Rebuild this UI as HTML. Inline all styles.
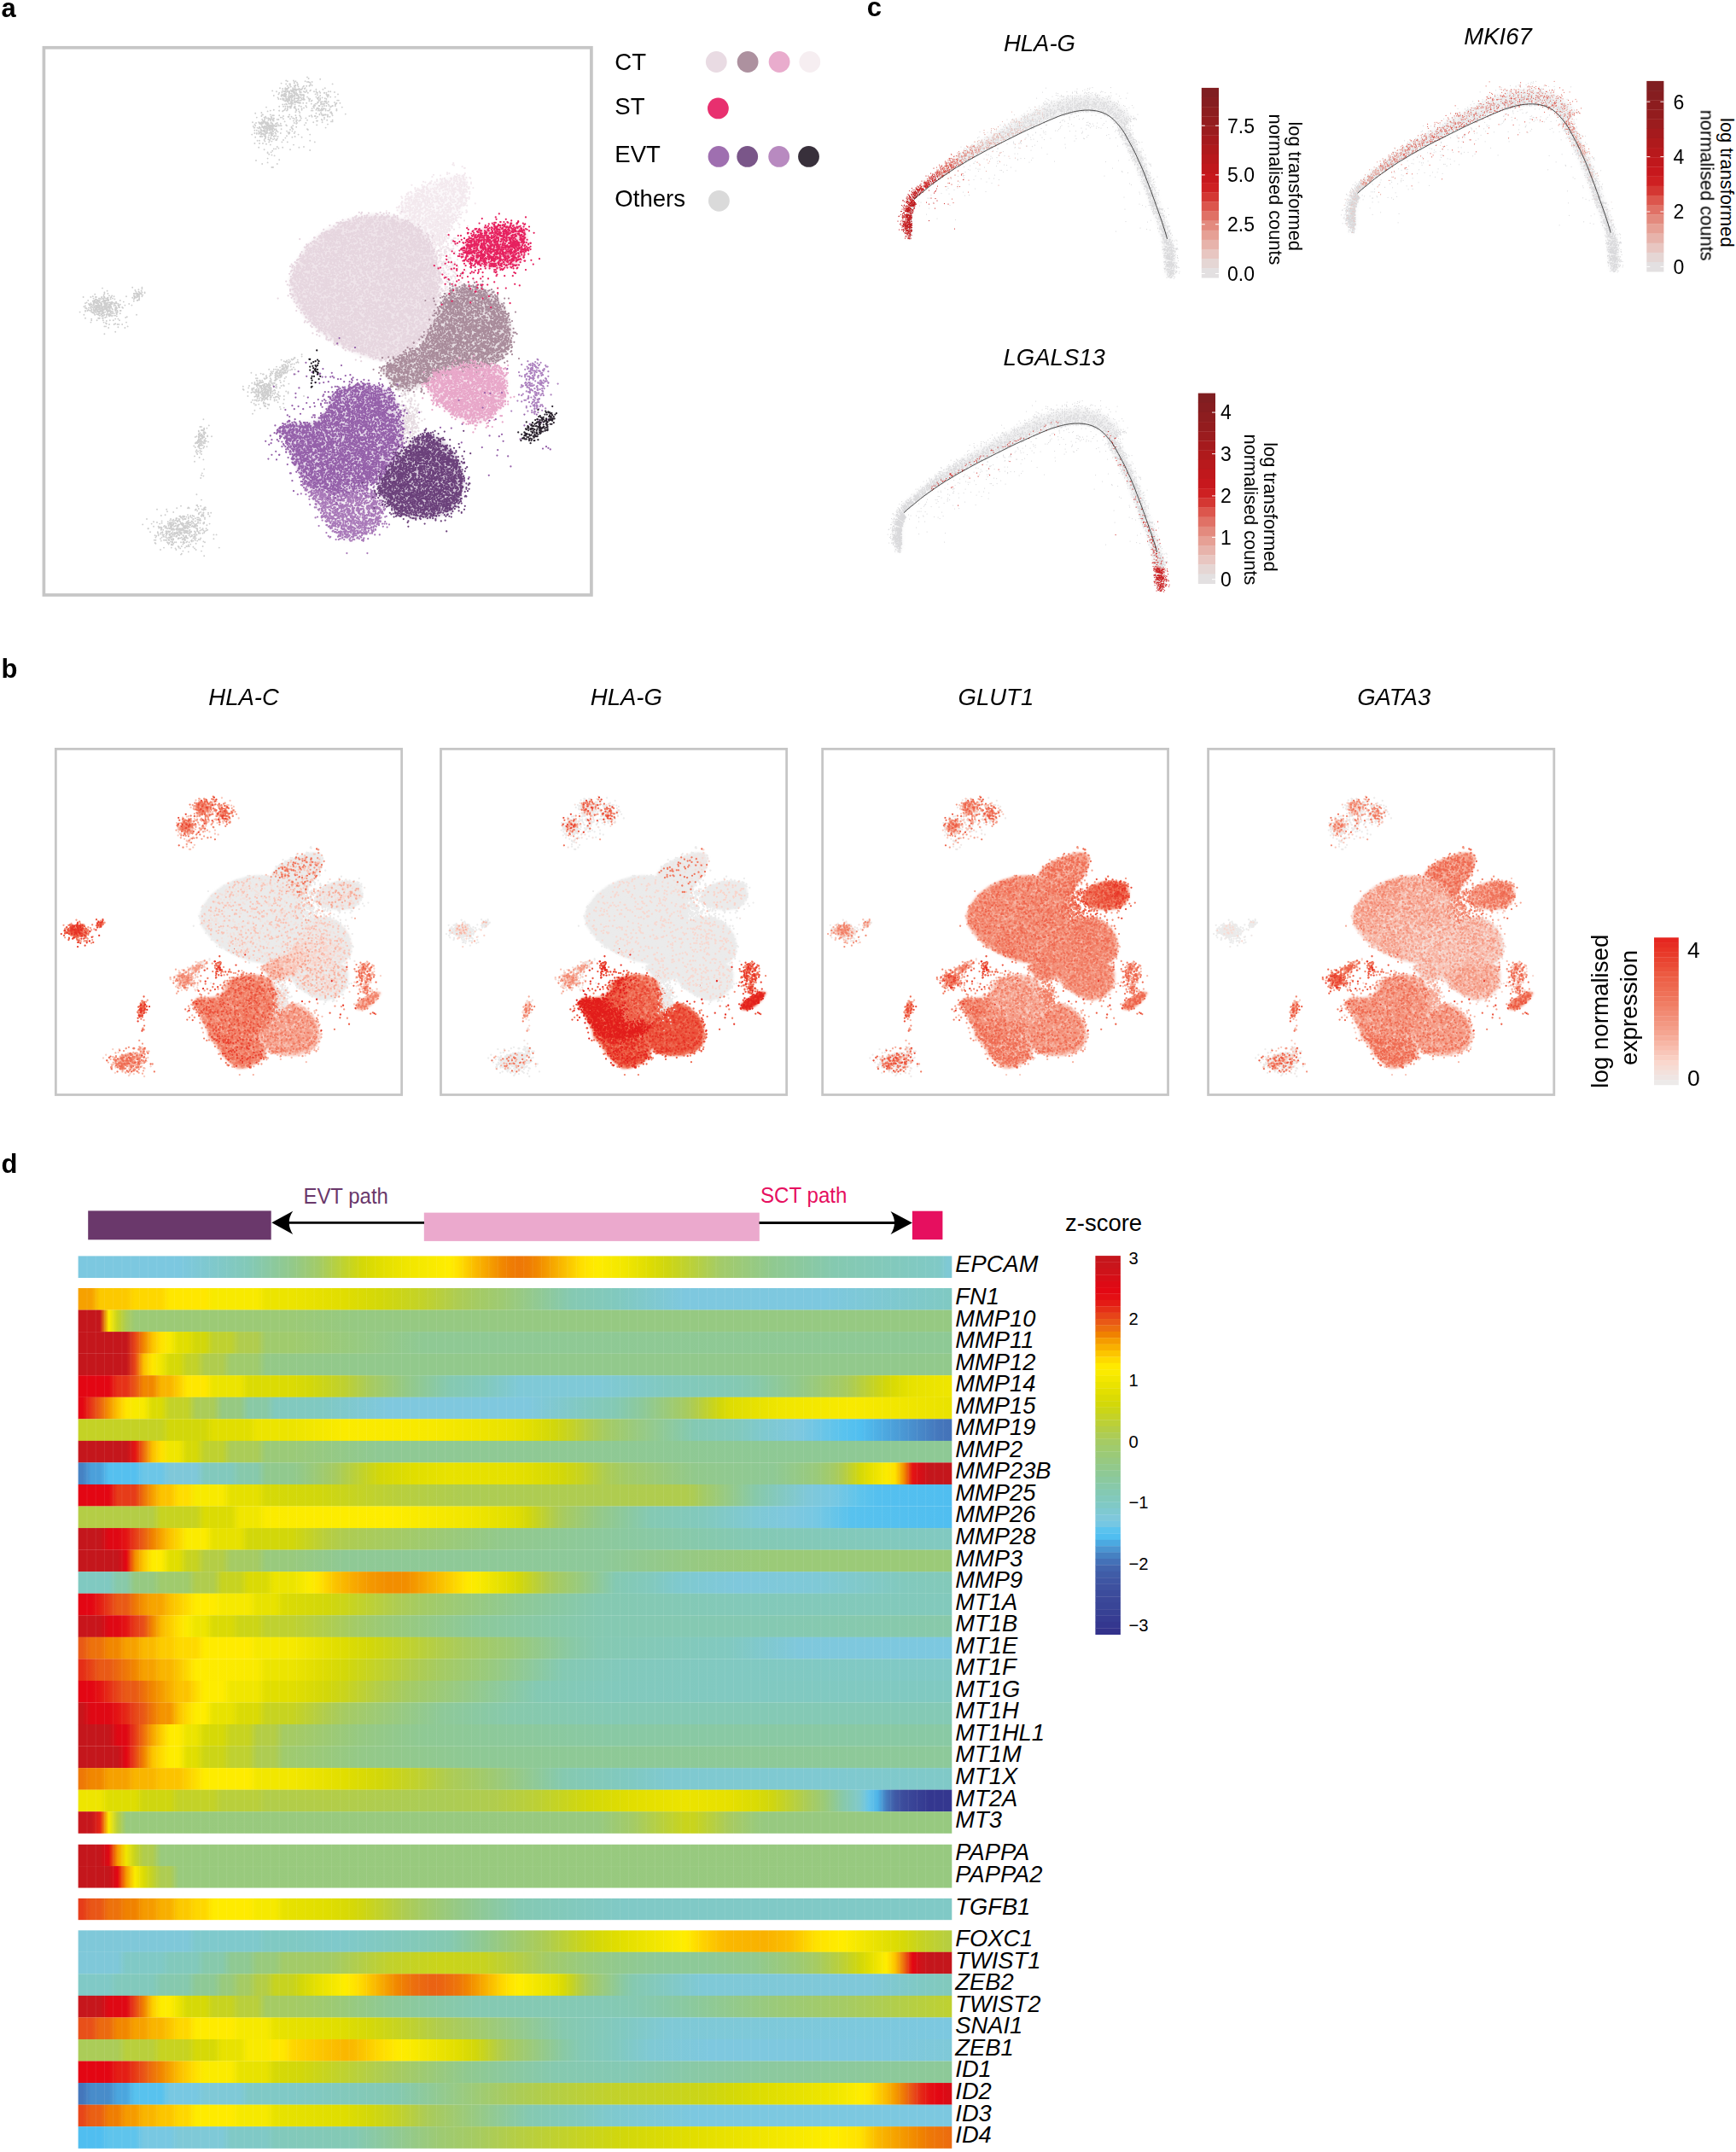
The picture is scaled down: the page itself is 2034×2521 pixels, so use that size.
<!DOCTYPE html><html><head><meta charset="utf-8"><title>Figure</title><style>html,body{margin:0;padding:0;background:#fff}svg{display:block}</style></head><body><svg width="2034" height="2521" viewBox="0 0 2034 2521" font-family="'Liberation Sans', Arial, sans-serif" fill="#000"><defs><linearGradient id="h0"><stop offset="0" stop-color="#7cc8e0"/><stop offset="0.115" stop-color="#7cc8e0"/><stop offset="0.195" stop-color="#83c9b7"/><stop offset="0.245" stop-color="#93c98a"/><stop offset="0.275" stop-color="#a3cb67"/><stop offset="0.325" stop-color="#d4d808"/><stop offset="0.345" stop-color="#e1de00"/><stop offset="0.375" stop-color="#f0e600"/><stop offset="0.425" stop-color="#ffed00"/><stop offset="0.435" stop-color="#ffe100"/><stop offset="0.455" stop-color="#fab900"/><stop offset="0.485" stop-color="#f18800"/><stop offset="0.495" stop-color="#ef7d04"/><stop offset="0.505" stop-color="#ee7807"/><stop offset="0.515" stop-color="#ef7d04"/><stop offset="0.525" stop-color="#f18800"/><stop offset="0.575" stop-color="#ffde00"/><stop offset="0.585" stop-color="#ffe700"/><stop offset="0.595" stop-color="#feec00"/><stop offset="0.625" stop-color="#f2e700"/><stop offset="0.655" stop-color="#dddc03"/><stop offset="0.675" stop-color="#ced612"/><stop offset="0.735" stop-color="#a3cb69"/><stop offset="0.795" stop-color="#90c990"/><stop offset="0.865" stop-color="#85c9b0"/><stop offset="0.985" stop-color="#80c9c6"/><stop offset="0.995" stop-color="#7fc9d5"/><stop offset="1" stop-color="#7fc9d5"/></linearGradient><linearGradient id="h1"><stop offset="0" stop-color="#f6a100"/><stop offset="0.015" stop-color="#f6a100"/><stop offset="0.025" stop-color="#fcc900"/><stop offset="0.055" stop-color="#fcc900"/><stop offset="0.065" stop-color="#fed700"/><stop offset="0.095" stop-color="#fed700"/><stop offset="0.105" stop-color="#ffe700"/><stop offset="0.145" stop-color="#ffe700"/><stop offset="0.155" stop-color="#f8ea00"/><stop offset="0.205" stop-color="#f8ea00"/><stop offset="0.215" stop-color="#ece400"/><stop offset="0.245" stop-color="#ece400"/><stop offset="0.305" stop-color="#e0dd01"/><stop offset="0.345" stop-color="#d3d809"/><stop offset="0.395" stop-color="#c2d22a"/><stop offset="0.435" stop-color="#adcc54"/><stop offset="0.455" stop-color="#a5cb63"/><stop offset="0.485" stop-color="#9eca73"/><stop offset="0.565" stop-color="#85c9b2"/><stop offset="0.615" stop-color="#81c9be"/><stop offset="0.695" stop-color="#7ec8df"/><stop offset="0.855" stop-color="#7dc8df"/><stop offset="1" stop-color="#80c9c2"/></linearGradient><linearGradient id="h2"><stop offset="0" stop-color="#c4161c"/><stop offset="0.025" stop-color="#c4161c"/><stop offset="0.035" stop-color="#ffed00"/><stop offset="0.045" stop-color="#c7d320"/><stop offset="0.055" stop-color="#abcc58"/><stop offset="0.065" stop-color="#9cca76"/><stop offset="0.245" stop-color="#9cca76"/><stop offset="0.315" stop-color="#96c982"/><stop offset="1" stop-color="#96c982"/></linearGradient><linearGradient id="h3"><stop offset="0" stop-color="#c4161c"/><stop offset="0.055" stop-color="#c4161c"/><stop offset="0.065" stop-color="#e74619"/><stop offset="0.075" stop-color="#f18700"/><stop offset="0.085" stop-color="#fcc300"/><stop offset="0.095" stop-color="#ffe300"/><stop offset="0.105" stop-color="#f8ea00"/><stop offset="0.115" stop-color="#e1de00"/><stop offset="0.125" stop-color="#e1de00"/><stop offset="0.135" stop-color="#d2d70a"/><stop offset="0.145" stop-color="#d2d70a"/><stop offset="0.155" stop-color="#bfd130"/><stop offset="0.175" stop-color="#bfd130"/><stop offset="0.185" stop-color="#b0cc4e"/><stop offset="0.205" stop-color="#b0cc4e"/><stop offset="0.215" stop-color="#a0cb6d"/><stop offset="0.245" stop-color="#a0cb6d"/><stop offset="0.395" stop-color="#8fc994"/><stop offset="1" stop-color="#8ec995"/></linearGradient><linearGradient id="h4"><stop offset="0" stop-color="#c4161c"/><stop offset="0.055" stop-color="#c4161c"/><stop offset="0.065" stop-color="#e74619"/><stop offset="0.075" stop-color="#fbbf00"/><stop offset="0.085" stop-color="#ffe700"/><stop offset="0.095" stop-color="#f0e600"/><stop offset="0.105" stop-color="#d6d907"/><stop offset="0.115" stop-color="#d6d907"/><stop offset="0.125" stop-color="#c3d228"/><stop offset="0.135" stop-color="#c3d228"/><stop offset="0.145" stop-color="#b0cc4e"/><stop offset="0.165" stop-color="#b0cc4e"/><stop offset="0.175" stop-color="#a0cb6d"/><stop offset="0.205" stop-color="#a0cb6d"/><stop offset="0.215" stop-color="#94c987"/><stop offset="0.315" stop-color="#92c98c"/><stop offset="1" stop-color="#92c98c"/></linearGradient><linearGradient id="h5"><stop offset="0" stop-color="#e30613"/><stop offset="0.035" stop-color="#e30613"/><stop offset="0.045" stop-color="#e63218"/><stop offset="0.055" stop-color="#e63218"/><stop offset="0.065" stop-color="#e95617"/><stop offset="0.075" stop-color="#f18700"/><stop offset="0.085" stop-color="#f18700"/><stop offset="0.095" stop-color="#f9b500"/><stop offset="0.105" stop-color="#f9b500"/><stop offset="0.125" stop-color="#ffe700"/><stop offset="0.145" stop-color="#ffe700"/><stop offset="0.155" stop-color="#ece400"/><stop offset="0.185" stop-color="#ece400"/><stop offset="0.195" stop-color="#dbdb04"/><stop offset="0.245" stop-color="#dbdb04"/><stop offset="0.265" stop-color="#d3d809"/><stop offset="0.305" stop-color="#bed031"/><stop offset="0.335" stop-color="#a7cb60"/><stop offset="0.345" stop-color="#a2cb6a"/><stop offset="0.375" stop-color="#94c987"/><stop offset="0.425" stop-color="#85c9b1"/><stop offset="0.465" stop-color="#82c9bc"/><stop offset="0.505" stop-color="#7fc9d7"/><stop offset="0.595" stop-color="#7fc9d7"/><stop offset="0.675" stop-color="#81c9bf"/><stop offset="0.755" stop-color="#84c9b3"/><stop offset="0.775" stop-color="#87c9ab"/><stop offset="0.825" stop-color="#93c98a"/><stop offset="0.875" stop-color="#a6cb63"/><stop offset="0.885" stop-color="#accc55"/><stop offset="0.925" stop-color="#d3d709"/><stop offset="0.945" stop-color="#e2df00"/><stop offset="0.955" stop-color="#e8e200"/><stop offset="1" stop-color="#efe600"/></linearGradient><linearGradient id="h6"><stop offset="0" stop-color="#e30613"/><stop offset="0.005" stop-color="#e30613"/><stop offset="0.015" stop-color="#e63818"/><stop offset="0.025" stop-color="#eb6412"/><stop offset="0.035" stop-color="#f49400"/><stop offset="0.045" stop-color="#fcc300"/><stop offset="0.055" stop-color="#ffe500"/><stop offset="0.065" stop-color="#f8ea00"/><stop offset="0.075" stop-color="#f8ea00"/><stop offset="0.085" stop-color="#dbdb04"/><stop offset="0.095" stop-color="#dbdb04"/><stop offset="0.105" stop-color="#c3d228"/><stop offset="0.125" stop-color="#c3d228"/><stop offset="0.135" stop-color="#abcc58"/><stop offset="0.155" stop-color="#abcc58"/><stop offset="0.165" stop-color="#96c982"/><stop offset="0.185" stop-color="#96c982"/><stop offset="0.195" stop-color="#89c9a5"/><stop offset="0.215" stop-color="#89c9a5"/><stop offset="0.225" stop-color="#82c9bd"/><stop offset="0.275" stop-color="#80c9c1"/><stop offset="0.355" stop-color="#7fc8de"/><stop offset="0.515" stop-color="#7fc8de"/><stop offset="0.585" stop-color="#82c9bd"/><stop offset="0.615" stop-color="#84c9b4"/><stop offset="0.645" stop-color="#8dc99a"/><stop offset="0.695" stop-color="#a6cb61"/><stop offset="0.705" stop-color="#afcc50"/><stop offset="0.735" stop-color="#d2d70b"/><stop offset="0.745" stop-color="#dddc03"/><stop offset="0.805" stop-color="#f0e600"/><stop offset="0.885" stop-color="#f8ea00"/><stop offset="1" stop-color="#e9e200"/></linearGradient><linearGradient id="h7"><stop offset="0" stop-color="#c4d225"/><stop offset="0.095" stop-color="#c4d225"/><stop offset="0.105" stop-color="#d2d70a"/><stop offset="0.145" stop-color="#d2d70a"/><stop offset="0.155" stop-color="#e1de00"/><stop offset="0.195" stop-color="#e1de00"/><stop offset="0.205" stop-color="#ece400"/><stop offset="0.245" stop-color="#ece400"/><stop offset="0.305" stop-color="#fbeb00"/><stop offset="0.405" stop-color="#f7e900"/><stop offset="0.495" stop-color="#e9e200"/><stop offset="0.515" stop-color="#e2df00"/><stop offset="0.545" stop-color="#d1d70c"/><stop offset="0.565" stop-color="#c4d227"/><stop offset="0.585" stop-color="#b2cd4b"/><stop offset="0.605" stop-color="#a4cb65"/><stop offset="0.705" stop-color="#84c9b3"/><stop offset="0.755" stop-color="#82c9bd"/><stop offset="0.785" stop-color="#7fc9cf"/><stop offset="0.825" stop-color="#7ec8df"/><stop offset="0.875" stop-color="#5ac3ee"/><stop offset="0.895" stop-color="#51bff0"/><stop offset="0.985" stop-color="#4577bc"/><stop offset="1" stop-color="#4472b8"/></linearGradient><linearGradient id="h8"><stop offset="0" stop-color="#c4161c"/><stop offset="0.055" stop-color="#c4161c"/><stop offset="0.065" stop-color="#e41414"/><stop offset="0.075" stop-color="#ec6e0f"/><stop offset="0.085" stop-color="#fbbf00"/><stop offset="0.095" stop-color="#ffe100"/><stop offset="0.105" stop-color="#f0e600"/><stop offset="0.115" stop-color="#f0e600"/><stop offset="0.125" stop-color="#d6d907"/><stop offset="0.135" stop-color="#d6d907"/><stop offset="0.145" stop-color="#bfd130"/><stop offset="0.165" stop-color="#bfd130"/><stop offset="0.175" stop-color="#abcc58"/><stop offset="0.205" stop-color="#abcc58"/><stop offset="0.215" stop-color="#9bca78"/><stop offset="0.245" stop-color="#9bca78"/><stop offset="0.345" stop-color="#8fc994"/><stop offset="1" stop-color="#8ec995"/></linearGradient><linearGradient id="h9"><stop offset="0" stop-color="#4682c3"/><stop offset="0.005" stop-color="#4682c3"/><stop offset="0.015" stop-color="#4ba0da"/><stop offset="0.025" stop-color="#4ba0da"/><stop offset="0.035" stop-color="#55c0ef"/><stop offset="0.065" stop-color="#55c0ef"/><stop offset="0.075" stop-color="#6cc6e7"/><stop offset="0.095" stop-color="#6cc6e7"/><stop offset="0.105" stop-color="#7fc8d9"/><stop offset="0.135" stop-color="#7fc8d9"/><stop offset="0.145" stop-color="#82c9bd"/><stop offset="0.175" stop-color="#82c9bd"/><stop offset="0.185" stop-color="#87c9ac"/><stop offset="0.205" stop-color="#87c9ac"/><stop offset="0.215" stop-color="#91c98e"/><stop offset="0.245" stop-color="#91c98e"/><stop offset="0.255" stop-color="#94c987"/><stop offset="0.295" stop-color="#a7cb60"/><stop offset="0.345" stop-color="#d3d709"/><stop offset="0.385" stop-color="#e1de00"/><stop offset="0.425" stop-color="#e8e200"/><stop offset="0.495" stop-color="#e5e000"/><stop offset="0.515" stop-color="#e1de00"/><stop offset="0.555" stop-color="#d2d70a"/><stop offset="0.575" stop-color="#c7d320"/><stop offset="0.605" stop-color="#accc55"/><stop offset="0.625" stop-color="#a3cb68"/><stop offset="0.705" stop-color="#92c98c"/><stop offset="0.795" stop-color="#8fc995"/><stop offset="0.845" stop-color="#9aca7b"/><stop offset="0.865" stop-color="#a5cb65"/><stop offset="0.875" stop-color="#b0cc4f"/><stop offset="0.895" stop-color="#d4d809"/><stop offset="0.905" stop-color="#e4df00"/><stop offset="0.925" stop-color="#fbeb00"/><stop offset="0.935" stop-color="#ffe100"/><stop offset="0.945" stop-color="#f28e00"/><stop offset="0.955" stop-color="#e41414"/><stop offset="0.965" stop-color="#d40f18"/><stop offset="0.975" stop-color="#c4161c"/><stop offset="1" stop-color="#c4161c"/></linearGradient><linearGradient id="h10"><stop offset="0" stop-color="#e30613"/><stop offset="0.035" stop-color="#e30613"/><stop offset="0.045" stop-color="#e63c19"/><stop offset="0.065" stop-color="#e63c19"/><stop offset="0.075" stop-color="#ed740a"/><stop offset="0.085" stop-color="#f69f00"/><stop offset="0.095" stop-color="#fcc300"/><stop offset="0.105" stop-color="#fcc300"/><stop offset="0.115" stop-color="#ffdd00"/><stop offset="0.125" stop-color="#ffdd00"/><stop offset="0.135" stop-color="#f8ea00"/><stop offset="0.165" stop-color="#f8ea00"/><stop offset="0.175" stop-color="#e5e000"/><stop offset="0.205" stop-color="#e5e000"/><stop offset="0.215" stop-color="#d6d907"/><stop offset="0.275" stop-color="#d1d70c"/><stop offset="0.365" stop-color="#b9cf3c"/><stop offset="0.445" stop-color="#adcc54"/><stop offset="0.695" stop-color="#b0cc4e"/><stop offset="0.705" stop-color="#accc56"/><stop offset="0.715" stop-color="#a4cb66"/><stop offset="0.775" stop-color="#87c9aa"/><stop offset="0.835" stop-color="#7fc8d9"/><stop offset="0.865" stop-color="#78c8e2"/><stop offset="0.895" stop-color="#5ec4ec"/><stop offset="0.915" stop-color="#55c0ef"/><stop offset="1" stop-color="#50bef0"/></linearGradient><linearGradient id="h11"><stop offset="0" stop-color="#b4cd46"/><stop offset="0.085" stop-color="#b4cd46"/><stop offset="0.095" stop-color="#c7d320"/><stop offset="0.135" stop-color="#c7d320"/><stop offset="0.145" stop-color="#dbdb04"/><stop offset="0.175" stop-color="#dbdb04"/><stop offset="0.185" stop-color="#f0e600"/><stop offset="0.205" stop-color="#f0e600"/><stop offset="0.215" stop-color="#fbeb00"/><stop offset="0.355" stop-color="#feed00"/><stop offset="0.445" stop-color="#f1e600"/><stop offset="0.495" stop-color="#e2df00"/><stop offset="0.505" stop-color="#dddc03"/><stop offset="0.515" stop-color="#d2d70b"/><stop offset="0.545" stop-color="#afcc50"/><stop offset="0.555" stop-color="#a7cb60"/><stop offset="0.595" stop-color="#94c987"/><stop offset="0.655" stop-color="#84c9b3"/><stop offset="0.715" stop-color="#82c9bd"/><stop offset="0.775" stop-color="#7fc9d5"/><stop offset="0.815" stop-color="#7ec8de"/><stop offset="0.845" stop-color="#76c8e3"/><stop offset="0.885" stop-color="#58c2ee"/><stop offset="1" stop-color="#50bef0"/></linearGradient><linearGradient id="h12"><stop offset="0" stop-color="#c4161c"/><stop offset="0.025" stop-color="#c4161c"/><stop offset="0.035" stop-color="#df0814"/><stop offset="0.045" stop-color="#df0814"/><stop offset="0.055" stop-color="#e41414"/><stop offset="0.065" stop-color="#e63c19"/><stop offset="0.075" stop-color="#ea6014"/><stop offset="0.085" stop-color="#f08200"/><stop offset="0.095" stop-color="#f7a500"/><stop offset="0.105" stop-color="#fcc300"/><stop offset="0.125" stop-color="#fbeb00"/><stop offset="0.145" stop-color="#fbeb00"/><stop offset="0.155" stop-color="#e7e100"/><stop offset="0.185" stop-color="#e7e100"/><stop offset="0.195" stop-color="#d2d70a"/><stop offset="0.245" stop-color="#d2d70a"/><stop offset="0.285" stop-color="#b7ce40"/><stop offset="0.305" stop-color="#aecc51"/><stop offset="0.485" stop-color="#92c98c"/><stop offset="0.765" stop-color="#84c9b4"/><stop offset="1" stop-color="#81c9c1"/></linearGradient><linearGradient id="h13"><stop offset="0" stop-color="#c4161c"/><stop offset="0.045" stop-color="#c4161c"/><stop offset="0.055" stop-color="#e30613"/><stop offset="0.065" stop-color="#f28e00"/><stop offset="0.075" stop-color="#fcc900"/><stop offset="0.085" stop-color="#feec00"/><stop offset="0.095" stop-color="#feec00"/><stop offset="0.105" stop-color="#e1de00"/><stop offset="0.115" stop-color="#e1de00"/><stop offset="0.125" stop-color="#c7d320"/><stop offset="0.135" stop-color="#c7d320"/><stop offset="0.145" stop-color="#b4cd46"/><stop offset="0.165" stop-color="#b4cd46"/><stop offset="0.175" stop-color="#a5cb64"/><stop offset="0.205" stop-color="#a5cb64"/><stop offset="0.215" stop-color="#99ca7d"/><stop offset="0.245" stop-color="#99ca7d"/><stop offset="0.305" stop-color="#8fc995"/><stop offset="0.595" stop-color="#8dc99a"/><stop offset="0.705" stop-color="#97c982"/><stop offset="0.795" stop-color="#9bca78"/><stop offset="1" stop-color="#9bca78"/></linearGradient><linearGradient id="h14"><stop offset="0" stop-color="#80c9c1"/><stop offset="0.035" stop-color="#80c9c1"/><stop offset="0.045" stop-color="#88c9a9"/><stop offset="0.055" stop-color="#88c9a9"/><stop offset="0.065" stop-color="#96c982"/><stop offset="0.085" stop-color="#96c982"/><stop offset="0.095" stop-color="#a0cb6d"/><stop offset="0.125" stop-color="#a0cb6d"/><stop offset="0.135" stop-color="#b0cc4e"/><stop offset="0.155" stop-color="#b0cc4e"/><stop offset="0.165" stop-color="#c7d320"/><stop offset="0.185" stop-color="#c7d320"/><stop offset="0.195" stop-color="#dada05"/><stop offset="0.215" stop-color="#dada05"/><stop offset="0.225" stop-color="#ece400"/><stop offset="0.245" stop-color="#ece400"/><stop offset="0.265" stop-color="#fcec00"/><stop offset="0.275" stop-color="#ffe400"/><stop offset="0.295" stop-color="#fbc200"/><stop offset="0.315" stop-color="#f8aa00"/><stop offset="0.335" stop-color="#f49800"/><stop offset="0.355" stop-color="#f28e00"/><stop offset="0.375" stop-color="#f28e00"/><stop offset="0.385" stop-color="#f49800"/><stop offset="0.445" stop-color="#ffe800"/><stop offset="0.455" stop-color="#fbeb00"/><stop offset="0.495" stop-color="#dddc03"/><stop offset="0.505" stop-color="#d2d70b"/><stop offset="0.535" stop-color="#afcc50"/><stop offset="0.545" stop-color="#a7cb60"/><stop offset="0.575" stop-color="#98ca7f"/><stop offset="0.615" stop-color="#84c9b3"/><stop offset="0.655" stop-color="#82c9bd"/><stop offset="0.685" stop-color="#7fc9cd"/><stop offset="0.705" stop-color="#7fc9d2"/><stop offset="0.755" stop-color="#7fc8dc"/><stop offset="0.845" stop-color="#7fc9d7"/><stop offset="0.945" stop-color="#82c9bd"/><stop offset="1" stop-color="#83c9b9"/></linearGradient><linearGradient id="h15"><stop offset="0" stop-color="#e30613"/><stop offset="0.015" stop-color="#e30613"/><stop offset="0.025" stop-color="#e41e15"/><stop offset="0.035" stop-color="#e63c19"/><stop offset="0.045" stop-color="#e95a16"/><stop offset="0.055" stop-color="#e95a16"/><stop offset="0.065" stop-color="#ee7807"/><stop offset="0.075" stop-color="#f49400"/><stop offset="0.085" stop-color="#f7a500"/><stop offset="0.095" stop-color="#f7a500"/><stop offset="0.105" stop-color="#fbbf00"/><stop offset="0.135" stop-color="#ffeb00"/><stop offset="0.155" stop-color="#ffeb00"/><stop offset="0.165" stop-color="#f6e900"/><stop offset="0.195" stop-color="#f6e900"/><stop offset="0.205" stop-color="#e8e200"/><stop offset="0.225" stop-color="#e8e200"/><stop offset="0.235" stop-color="#dbdb04"/><stop offset="0.285" stop-color="#d2d70a"/><stop offset="0.305" stop-color="#cbd519"/><stop offset="0.365" stop-color="#aecc53"/><stop offset="0.395" stop-color="#a4cb65"/><stop offset="0.505" stop-color="#8ec996"/><stop offset="0.595" stop-color="#85c9b1"/><stop offset="0.755" stop-color="#83c9b9"/><stop offset="1" stop-color="#82c9bc"/></linearGradient><linearGradient id="h16"><stop offset="0" stop-color="#c8151b"/><stop offset="0.025" stop-color="#c8151b"/><stop offset="0.035" stop-color="#df0814"/><stop offset="0.045" stop-color="#df0814"/><stop offset="0.055" stop-color="#e41414"/><stop offset="0.065" stop-color="#e63c19"/><stop offset="0.075" stop-color="#e85019"/><stop offset="0.085" stop-color="#f18700"/><stop offset="0.095" stop-color="#fab900"/><stop offset="0.115" stop-color="#ffe100"/><stop offset="0.125" stop-color="#fbeb00"/><stop offset="0.135" stop-color="#eee500"/><stop offset="0.145" stop-color="#eee500"/><stop offset="0.155" stop-color="#dada05"/><stop offset="0.175" stop-color="#dada05"/><stop offset="0.185" stop-color="#ccd516"/><stop offset="0.205" stop-color="#ccd516"/><stop offset="0.215" stop-color="#bfd130"/><stop offset="0.245" stop-color="#bfd130"/><stop offset="0.315" stop-color="#a4cb66"/><stop offset="0.345" stop-color="#9cca75"/><stop offset="0.455" stop-color="#8cc99b"/><stop offset="0.605" stop-color="#85c9b2"/><stop offset="0.795" stop-color="#85c9b2"/><stop offset="1" stop-color="#88c9a9"/></linearGradient><linearGradient id="h17"><stop offset="0" stop-color="#e95a16"/><stop offset="0.005" stop-color="#e95a16"/><stop offset="0.015" stop-color="#ed720c"/><stop offset="0.025" stop-color="#ed720c"/><stop offset="0.035" stop-color="#f18700"/><stop offset="0.045" stop-color="#f18700"/><stop offset="0.055" stop-color="#f6a100"/><stop offset="0.065" stop-color="#f6a100"/><stop offset="0.075" stop-color="#fab900"/><stop offset="0.085" stop-color="#fab900"/><stop offset="0.095" stop-color="#fdcb00"/><stop offset="0.105" stop-color="#fdcb00"/><stop offset="0.115" stop-color="#fed900"/><stop offset="0.135" stop-color="#fed900"/><stop offset="0.145" stop-color="#ffeb00"/><stop offset="0.195" stop-color="#ffeb00"/><stop offset="0.205" stop-color="#f6e900"/><stop offset="0.245" stop-color="#f6e900"/><stop offset="0.295" stop-color="#e1de00"/><stop offset="0.335" stop-color="#d2d70a"/><stop offset="0.415" stop-color="#b1cd4c"/><stop offset="0.445" stop-color="#a7cb61"/><stop offset="0.495" stop-color="#9cca76"/><stop offset="0.565" stop-color="#89c9a5"/><stop offset="0.595" stop-color="#85c9b2"/><stop offset="0.745" stop-color="#81c9c0"/><stop offset="0.825" stop-color="#7fc8dc"/><stop offset="1" stop-color="#7cc8e0"/></linearGradient><linearGradient id="h18"><stop offset="0" stop-color="#e52e17"/><stop offset="0.005" stop-color="#e52e17"/><stop offset="0.025" stop-color="#e95a16"/><stop offset="0.035" stop-color="#e95a16"/><stop offset="0.065" stop-color="#f18700"/><stop offset="0.075" stop-color="#f6a100"/><stop offset="0.085" stop-color="#f6a100"/><stop offset="0.095" stop-color="#f9b500"/><stop offset="0.105" stop-color="#f9b500"/><stop offset="0.135" stop-color="#ffeb00"/><stop offset="0.205" stop-color="#f9ea00"/><stop offset="0.215" stop-color="#ece400"/><stop offset="0.245" stop-color="#ece400"/><stop offset="0.275" stop-color="#e0dd01"/><stop offset="0.305" stop-color="#d3d809"/><stop offset="0.385" stop-color="#afcc4f"/><stop offset="0.415" stop-color="#a5cb63"/><stop offset="0.475" stop-color="#98ca80"/><stop offset="0.555" stop-color="#84c9b3"/><stop offset="0.625" stop-color="#82c9bc"/><stop offset="0.745" stop-color="#81c9c1"/><stop offset="1" stop-color="#80c9c6"/></linearGradient><linearGradient id="h19"><stop offset="0" stop-color="#e30613"/><stop offset="0.015" stop-color="#e30613"/><stop offset="0.025" stop-color="#e41414"/><stop offset="0.045" stop-color="#e74619"/><stop offset="0.055" stop-color="#e95a16"/><stop offset="0.065" stop-color="#e95a16"/><stop offset="0.085" stop-color="#f18700"/><stop offset="0.115" stop-color="#fcc300"/><stop offset="0.125" stop-color="#fcc300"/><stop offset="0.135" stop-color="#fedb00"/><stop offset="0.145" stop-color="#feec00"/><stop offset="0.165" stop-color="#feec00"/><stop offset="0.175" stop-color="#f0e600"/><stop offset="0.205" stop-color="#f0e600"/><stop offset="0.215" stop-color="#e1de00"/><stop offset="0.245" stop-color="#e1de00"/><stop offset="0.285" stop-color="#d2d70a"/><stop offset="0.305" stop-color="#c9d41d"/><stop offset="0.345" stop-color="#b2cd4b"/><stop offset="0.375" stop-color="#a5cb63"/><stop offset="0.525" stop-color="#84c9b3"/><stop offset="0.605" stop-color="#82c9bc"/><stop offset="0.745" stop-color="#81c9c1"/><stop offset="1" stop-color="#80c9c1"/></linearGradient><linearGradient id="h20"><stop offset="0" stop-color="#c8151b"/><stop offset="0.005" stop-color="#c8151b"/><stop offset="0.015" stop-color="#df0814"/><stop offset="0.035" stop-color="#df0814"/><stop offset="0.045" stop-color="#e41414"/><stop offset="0.055" stop-color="#e52816"/><stop offset="0.065" stop-color="#e74619"/><stop offset="0.075" stop-color="#e95a16"/><stop offset="0.085" stop-color="#ee7807"/><stop offset="0.095" stop-color="#f49400"/><stop offset="0.105" stop-color="#f49400"/><stop offset="0.115" stop-color="#fcc300"/><stop offset="0.125" stop-color="#fedb00"/><stop offset="0.135" stop-color="#feec00"/><stop offset="0.145" stop-color="#feec00"/><stop offset="0.155" stop-color="#e8e200"/><stop offset="0.175" stop-color="#e8e200"/><stop offset="0.185" stop-color="#dada05"/><stop offset="0.205" stop-color="#dada05"/><stop offset="0.215" stop-color="#c7d320"/><stop offset="0.245" stop-color="#c7d320"/><stop offset="0.285" stop-color="#afcc50"/><stop offset="0.305" stop-color="#a6cb63"/><stop offset="0.415" stop-color="#8ec998"/><stop offset="0.495" stop-color="#87c9ac"/><stop offset="0.605" stop-color="#84c9b5"/><stop offset="1" stop-color="#84c9b5"/></linearGradient><linearGradient id="h21"><stop offset="0" stop-color="#c4161c"/><stop offset="0.035" stop-color="#c4161c"/><stop offset="0.045" stop-color="#df0814"/><stop offset="0.055" stop-color="#df0814"/><stop offset="0.065" stop-color="#e63c19"/><stop offset="0.085" stop-color="#f7a500"/><stop offset="0.095" stop-color="#fdcd00"/><stop offset="0.105" stop-color="#ffeb00"/><stop offset="0.115" stop-color="#ffeb00"/><stop offset="0.125" stop-color="#ece400"/><stop offset="0.135" stop-color="#ece400"/><stop offset="0.145" stop-color="#d6d907"/><stop offset="0.165" stop-color="#d6d907"/><stop offset="0.175" stop-color="#c7d320"/><stop offset="0.195" stop-color="#c7d320"/><stop offset="0.205" stop-color="#b4cd46"/><stop offset="0.225" stop-color="#b4cd46"/><stop offset="0.235" stop-color="#a5cb64"/><stop offset="0.245" stop-color="#a5cb64"/><stop offset="0.325" stop-color="#96c983"/><stop offset="0.395" stop-color="#8fc994"/><stop offset="0.605" stop-color="#89c9a4"/><stop offset="1" stop-color="#89c9a4"/></linearGradient><linearGradient id="h22"><stop offset="0" stop-color="#c4161c"/><stop offset="0.045" stop-color="#c4161c"/><stop offset="0.055" stop-color="#e30613"/><stop offset="0.065" stop-color="#e74619"/><stop offset="0.075" stop-color="#f08200"/><stop offset="0.085" stop-color="#fcc300"/><stop offset="0.095" stop-color="#fedb00"/><stop offset="0.105" stop-color="#feec00"/><stop offset="0.115" stop-color="#feec00"/><stop offset="0.125" stop-color="#e1de00"/><stop offset="0.135" stop-color="#e1de00"/><stop offset="0.145" stop-color="#ccd516"/><stop offset="0.165" stop-color="#ccd516"/><stop offset="0.175" stop-color="#bfd130"/><stop offset="0.195" stop-color="#bfd130"/><stop offset="0.205" stop-color="#aecc52"/><stop offset="0.225" stop-color="#aecc52"/><stop offset="0.235" stop-color="#a0cb6d"/><stop offset="0.325" stop-color="#94c988"/><stop offset="0.455" stop-color="#8ec995"/><stop offset="1" stop-color="#8dc99a"/></linearGradient><linearGradient id="h23"><stop offset="0" stop-color="#ee7807"/><stop offset="0.005" stop-color="#ee7807"/><stop offset="0.015" stop-color="#f18700"/><stop offset="0.025" stop-color="#f18700"/><stop offset="0.035" stop-color="#f6a100"/><stop offset="0.055" stop-color="#f6a100"/><stop offset="0.065" stop-color="#f9b500"/><stop offset="0.085" stop-color="#f9b500"/><stop offset="0.095" stop-color="#fcc300"/><stop offset="0.115" stop-color="#fcc300"/><stop offset="0.145" stop-color="#feec00"/><stop offset="0.195" stop-color="#feec00"/><stop offset="0.205" stop-color="#f2e700"/><stop offset="0.245" stop-color="#f2e700"/><stop offset="0.305" stop-color="#e1de00"/><stop offset="0.345" stop-color="#d2d70a"/><stop offset="0.395" stop-color="#bdd035"/><stop offset="0.425" stop-color="#adcc54"/><stop offset="0.475" stop-color="#9eca73"/><stop offset="0.555" stop-color="#85c9b0"/><stop offset="0.635" stop-color="#80c9c2"/><stop offset="0.675" stop-color="#7fc9d0"/><stop offset="0.845" stop-color="#7fc9d2"/><stop offset="1" stop-color="#80c9c7"/></linearGradient><linearGradient id="h24"><stop offset="0" stop-color="#eee500"/><stop offset="0.025" stop-color="#eee500"/><stop offset="0.035" stop-color="#dedd02"/><stop offset="0.065" stop-color="#dedd02"/><stop offset="0.075" stop-color="#cfd610"/><stop offset="0.105" stop-color="#cfd610"/><stop offset="0.115" stop-color="#c3d228"/><stop offset="0.155" stop-color="#c3d228"/><stop offset="0.165" stop-color="#b9cf3c"/><stop offset="0.205" stop-color="#b9cf3c"/><stop offset="0.215" stop-color="#b2cd4a"/><stop offset="0.285" stop-color="#b3cd48"/><stop offset="0.405" stop-color="#abcc57"/><stop offset="0.475" stop-color="#b0cc4e"/><stop offset="0.525" stop-color="#bcd035"/><stop offset="0.585" stop-color="#d3d809"/><stop offset="0.635" stop-color="#e2de00"/><stop offset="0.695" stop-color="#ece400"/><stop offset="0.745" stop-color="#e6e000"/><stop offset="0.775" stop-color="#dadb04"/><stop offset="0.795" stop-color="#cfd611"/><stop offset="0.835" stop-color="#aacc5a"/><stop offset="0.855" stop-color="#9aca7a"/><stop offset="0.875" stop-color="#88c9a9"/><stop offset="0.895" stop-color="#7fc9cc"/><stop offset="0.905" stop-color="#67c5e9"/><stop offset="0.915" stop-color="#4eb4e8"/><stop offset="0.925" stop-color="#457bbe"/><stop offset="0.935" stop-color="#405aa6"/><stop offset="0.945" stop-color="#3c4b9b"/><stop offset="0.975" stop-color="#34378f"/><stop offset="1" stop-color="#34378f"/></linearGradient><linearGradient id="h25"><stop offset="0" stop-color="#c6161c"/><stop offset="0.015" stop-color="#c6161c"/><stop offset="0.025" stop-color="#e52416"/><stop offset="0.035" stop-color="#fbeb00"/><stop offset="0.045" stop-color="#b9cf3c"/><stop offset="0.055" stop-color="#99ca7d"/><stop offset="0.595" stop-color="#97c980"/><stop offset="0.635" stop-color="#a4cb66"/><stop offset="0.695" stop-color="#c9d41c"/><stop offset="0.705" stop-color="#c8d41e"/><stop offset="0.745" stop-color="#a8cb5f"/><stop offset="0.775" stop-color="#9aca7b"/><stop offset="0.785" stop-color="#97c980"/><stop offset="1" stop-color="#97c980"/></linearGradient><linearGradient id="h26"><stop offset="0" stop-color="#c4161c"/><stop offset="0.025" stop-color="#c4161c"/><stop offset="0.035" stop-color="#df0814"/><stop offset="0.045" stop-color="#f59b00"/><stop offset="0.055" stop-color="#f0e600"/><stop offset="0.065" stop-color="#c7d320"/><stop offset="0.075" stop-color="#b0cc4e"/><stop offset="0.085" stop-color="#b0cc4e"/><stop offset="0.095" stop-color="#99ca7d"/><stop offset="1" stop-color="#97c980"/></linearGradient><linearGradient id="h27"><stop offset="0" stop-color="#c4161c"/><stop offset="0.035" stop-color="#c4161c"/><stop offset="0.045" stop-color="#e30613"/><stop offset="0.055" stop-color="#f59b00"/><stop offset="0.065" stop-color="#fbeb00"/><stop offset="0.075" stop-color="#dbdb04"/><stop offset="0.085" stop-color="#c3d228"/><stop offset="0.095" stop-color="#aecc52"/><stop offset="0.105" stop-color="#aecc52"/><stop offset="0.115" stop-color="#99ca7d"/><stop offset="1" stop-color="#97c980"/></linearGradient><linearGradient id="h28"><stop offset="0" stop-color="#e63c19"/><stop offset="0.005" stop-color="#e63c19"/><stop offset="0.015" stop-color="#e95617"/><stop offset="0.025" stop-color="#e95617"/><stop offset="0.035" stop-color="#ed720c"/><stop offset="0.045" stop-color="#ed720c"/><stop offset="0.055" stop-color="#f08200"/><stop offset="0.065" stop-color="#f08200"/><stop offset="0.075" stop-color="#f59b00"/><stop offset="0.085" stop-color="#f59b00"/><stop offset="0.095" stop-color="#f8af00"/><stop offset="0.105" stop-color="#f8af00"/><stop offset="0.115" stop-color="#fcc900"/><stop offset="0.125" stop-color="#fcc900"/><stop offset="0.135" stop-color="#fed700"/><stop offset="0.145" stop-color="#fed700"/><stop offset="0.155" stop-color="#ffeb00"/><stop offset="0.195" stop-color="#ffeb00"/><stop offset="0.205" stop-color="#f6e900"/><stop offset="0.225" stop-color="#f6e900"/><stop offset="0.235" stop-color="#e8e200"/><stop offset="0.285" stop-color="#e0de00"/><stop offset="0.315" stop-color="#d5d808"/><stop offset="0.325" stop-color="#cfd611"/><stop offset="0.375" stop-color="#adcc54"/><stop offset="0.395" stop-color="#a3cb68"/><stop offset="0.435" stop-color="#95c986"/><stop offset="0.505" stop-color="#84c9b3"/><stop offset="0.625" stop-color="#80c9c6"/><stop offset="1" stop-color="#80c9c6"/></linearGradient><linearGradient id="h29"><stop offset="0" stop-color="#7fc8d9"/><stop offset="0.125" stop-color="#7fc8d9"/><stop offset="0.135" stop-color="#7fc9cc"/><stop offset="0.205" stop-color="#7fc9cc"/><stop offset="0.215" stop-color="#80c9c3"/><stop offset="0.245" stop-color="#80c9c3"/><stop offset="0.295" stop-color="#7fc9cb"/><stop offset="0.425" stop-color="#85c9b1"/><stop offset="0.465" stop-color="#90c990"/><stop offset="0.535" stop-color="#adcc53"/><stop offset="0.585" stop-color="#cfd611"/><stop offset="0.595" stop-color="#d5d808"/><stop offset="0.615" stop-color="#dfdd01"/><stop offset="0.695" stop-color="#ffed00"/><stop offset="0.715" stop-color="#fed200"/><stop offset="0.735" stop-color="#fbbe00"/><stop offset="0.745" stop-color="#fab800"/><stop offset="0.785" stop-color="#f9b100"/><stop offset="0.815" stop-color="#fbbe00"/><stop offset="0.845" stop-color="#ffe200"/><stop offset="0.875" stop-color="#ffed00"/><stop offset="0.935" stop-color="#dddc03"/><stop offset="0.945" stop-color="#d6d908"/><stop offset="0.965" stop-color="#c6d322"/><stop offset="0.995" stop-color="#b7ce40"/><stop offset="1" stop-color="#b7ce40"/></linearGradient><linearGradient id="h30"><stop offset="0" stop-color="#7fc8d9"/><stop offset="0.045" stop-color="#7fc8d9"/><stop offset="0.055" stop-color="#80c9c6"/><stop offset="0.095" stop-color="#80c9c6"/><stop offset="0.105" stop-color="#82c9bc"/><stop offset="0.135" stop-color="#82c9bc"/><stop offset="0.145" stop-color="#87c9ac"/><stop offset="0.165" stop-color="#87c9ac"/><stop offset="0.175" stop-color="#8fc993"/><stop offset="0.195" stop-color="#8fc993"/><stop offset="0.205" stop-color="#99ca7d"/><stop offset="0.225" stop-color="#99ca7d"/><stop offset="0.235" stop-color="#a3cb69"/><stop offset="0.285" stop-color="#a3cb67"/><stop offset="0.295" stop-color="#a6cb63"/><stop offset="0.355" stop-color="#c1d12c"/><stop offset="0.415" stop-color="#cad41a"/><stop offset="0.465" stop-color="#c7d320"/><stop offset="0.495" stop-color="#bacf3a"/><stop offset="0.535" stop-color="#a4cb67"/><stop offset="0.575" stop-color="#99ca7d"/><stop offset="0.615" stop-color="#92c98d"/><stop offset="0.665" stop-color="#8dc998"/><stop offset="0.715" stop-color="#8dc998"/><stop offset="0.775" stop-color="#91c98f"/><stop offset="0.825" stop-color="#9eca72"/><stop offset="0.845" stop-color="#a6cb63"/><stop offset="0.855" stop-color="#accc55"/><stop offset="0.875" stop-color="#bcd037"/><stop offset="0.895" stop-color="#d2d70a"/><stop offset="0.905" stop-color="#e1de00"/><stop offset="0.925" stop-color="#ffed00"/><stop offset="0.935" stop-color="#fcc300"/><stop offset="0.945" stop-color="#ec6e0f"/><stop offset="0.955" stop-color="#e30613"/><stop offset="0.965" stop-color="#cd141a"/><stop offset="0.975" stop-color="#c4161c"/><stop offset="1" stop-color="#c4161c"/></linearGradient><linearGradient id="h31"><stop offset="0" stop-color="#80c9c6"/><stop offset="0.035" stop-color="#80c9c6"/><stop offset="0.045" stop-color="#82c9bc"/><stop offset="0.085" stop-color="#82c9bc"/><stop offset="0.095" stop-color="#86c9ae"/><stop offset="0.125" stop-color="#86c9ae"/><stop offset="0.135" stop-color="#8ec996"/><stop offset="0.155" stop-color="#8ec996"/><stop offset="0.165" stop-color="#99ca7d"/><stop offset="0.175" stop-color="#99ca7d"/><stop offset="0.185" stop-color="#a5cb64"/><stop offset="0.195" stop-color="#a5cb64"/><stop offset="0.205" stop-color="#b4cd46"/><stop offset="0.215" stop-color="#b4cd46"/><stop offset="0.225" stop-color="#c7d320"/><stop offset="0.245" stop-color="#c7d320"/><stop offset="0.255" stop-color="#d2d70a"/><stop offset="0.275" stop-color="#e7e100"/><stop offset="0.305" stop-color="#feed00"/><stop offset="0.315" stop-color="#ffe500"/><stop offset="0.325" stop-color="#fed700"/><stop offset="0.365" stop-color="#f18700"/><stop offset="0.385" stop-color="#ec6e0f"/><stop offset="0.405" stop-color="#ea6213"/><stop offset="0.415" stop-color="#eb6412"/><stop offset="0.435" stop-color="#ee7609"/><stop offset="0.445" stop-color="#f18500"/><stop offset="0.485" stop-color="#fed700"/><stop offset="0.495" stop-color="#ffe500"/><stop offset="0.505" stop-color="#ffed00"/><stop offset="0.545" stop-color="#e5e000"/><stop offset="0.555" stop-color="#d9da05"/><stop offset="0.565" stop-color="#c6d322"/><stop offset="0.575" stop-color="#b3cd49"/><stop offset="0.585" stop-color="#a5cb65"/><stop offset="0.625" stop-color="#89c9a5"/><stop offset="0.635" stop-color="#85c9b0"/><stop offset="0.715" stop-color="#7fc9d7"/><stop offset="0.905" stop-color="#7fc8d9"/><stop offset="0.965" stop-color="#80c9c3"/><stop offset="1" stop-color="#82c9bc"/></linearGradient><linearGradient id="h32"><stop offset="0" stop-color="#c6161c"/><stop offset="0.025" stop-color="#c6161c"/><stop offset="0.035" stop-color="#df0814"/><stop offset="0.055" stop-color="#df0814"/><stop offset="0.065" stop-color="#e74619"/><stop offset="0.075" stop-color="#f08200"/><stop offset="0.085" stop-color="#fdcd00"/><stop offset="0.095" stop-color="#feec00"/><stop offset="0.105" stop-color="#feec00"/><stop offset="0.115" stop-color="#ece400"/><stop offset="0.125" stop-color="#d6d907"/><stop offset="0.145" stop-color="#d6d907"/><stop offset="0.155" stop-color="#c7d320"/><stop offset="0.175" stop-color="#c7d320"/><stop offset="0.185" stop-color="#b9cf3c"/><stop offset="0.205" stop-color="#b9cf3c"/><stop offset="0.215" stop-color="#a5cb64"/><stop offset="0.245" stop-color="#a5cb64"/><stop offset="0.265" stop-color="#a2cb69"/><stop offset="0.295" stop-color="#9cca75"/><stop offset="0.355" stop-color="#8ec996"/><stop offset="0.455" stop-color="#85c9b2"/><stop offset="0.595" stop-color="#84c9b5"/><stop offset="0.635" stop-color="#85c9b2"/><stop offset="0.695" stop-color="#8ac9a0"/><stop offset="0.805" stop-color="#9cca77"/><stop offset="0.875" stop-color="#a5cb65"/><stop offset="1" stop-color="#bfd130"/></linearGradient><linearGradient id="h33"><stop offset="0" stop-color="#e85019"/><stop offset="0.015" stop-color="#e85019"/><stop offset="0.025" stop-color="#eb6a10"/><stop offset="0.035" stop-color="#eb6a10"/><stop offset="0.045" stop-color="#f18700"/><stop offset="0.055" stop-color="#f18700"/><stop offset="0.065" stop-color="#f6a100"/><stop offset="0.075" stop-color="#f6a100"/><stop offset="0.085" stop-color="#f9b500"/><stop offset="0.095" stop-color="#f9b500"/><stop offset="0.115" stop-color="#fed700"/><stop offset="0.125" stop-color="#fed700"/><stop offset="0.135" stop-color="#ffeb00"/><stop offset="0.175" stop-color="#ffeb00"/><stop offset="0.185" stop-color="#f6e900"/><stop offset="0.215" stop-color="#f6e900"/><stop offset="0.225" stop-color="#e8e200"/><stop offset="0.295" stop-color="#e1de00"/><stop offset="0.335" stop-color="#d4d809"/><stop offset="0.375" stop-color="#c2d229"/><stop offset="0.415" stop-color="#afcc50"/><stop offset="0.555" stop-color="#86c9af"/><stop offset="0.625" stop-color="#81c9c1"/><stop offset="0.675" stop-color="#7fc9d5"/><stop offset="1" stop-color="#7cc8e0"/></linearGradient><linearGradient id="h34"><stop offset="0" stop-color="#abcc58"/><stop offset="0.045" stop-color="#abcc58"/><stop offset="0.055" stop-color="#b9cf3c"/><stop offset="0.085" stop-color="#b9cf3c"/><stop offset="0.095" stop-color="#c7d320"/><stop offset="0.125" stop-color="#c7d320"/><stop offset="0.135" stop-color="#d6d907"/><stop offset="0.155" stop-color="#d6d907"/><stop offset="0.165" stop-color="#e8e200"/><stop offset="0.185" stop-color="#e8e200"/><stop offset="0.195" stop-color="#f9ea00"/><stop offset="0.215" stop-color="#f9ea00"/><stop offset="0.225" stop-color="#ffe700"/><stop offset="0.235" stop-color="#ffe700"/><stop offset="0.245" stop-color="#fed700"/><stop offset="0.305" stop-color="#fab700"/><stop offset="0.315" stop-color="#faba00"/><stop offset="0.345" stop-color="#feda00"/><stop offset="0.365" stop-color="#ffea00"/><stop offset="0.375" stop-color="#fdec00"/><stop offset="0.435" stop-color="#e1de00"/><stop offset="0.455" stop-color="#d2d70b"/><stop offset="0.485" stop-color="#afcc50"/><stop offset="0.495" stop-color="#a7cb60"/><stop offset="0.555" stop-color="#89c9a4"/><stop offset="0.575" stop-color="#84c9b4"/><stop offset="0.615" stop-color="#81c9bf"/><stop offset="0.655" stop-color="#7fc9d4"/><stop offset="0.725" stop-color="#7ec8df"/><stop offset="0.925" stop-color="#7ec8df"/><stop offset="1" stop-color="#7fc9d8"/></linearGradient><linearGradient id="h35"><stop offset="0" stop-color="#e30613"/><stop offset="0.035" stop-color="#e30613"/><stop offset="0.045" stop-color="#e41e15"/><stop offset="0.055" stop-color="#e41e15"/><stop offset="0.075" stop-color="#e95617"/><stop offset="0.085" stop-color="#ed720c"/><stop offset="0.095" stop-color="#f18700"/><stop offset="0.115" stop-color="#fbbd00"/><stop offset="0.135" stop-color="#ffe100"/><stop offset="0.145" stop-color="#fbeb00"/><stop offset="0.175" stop-color="#fbeb00"/><stop offset="0.185" stop-color="#e8e200"/><stop offset="0.215" stop-color="#e8e200"/><stop offset="0.225" stop-color="#d6d907"/><stop offset="0.255" stop-color="#d2d70a"/><stop offset="0.365" stop-color="#a7cb60"/><stop offset="0.445" stop-color="#90c990"/><stop offset="0.545" stop-color="#86c9af"/><stop offset="0.625" stop-color="#84c9b4"/><stop offset="0.705" stop-color="#89c9a6"/><stop offset="0.795" stop-color="#8cc99e"/><stop offset="1" stop-color="#8dc998"/></linearGradient><linearGradient id="h36"><stop offset="0" stop-color="#4476bb"/><stop offset="0.005" stop-color="#4476bb"/><stop offset="0.015" stop-color="#488cca"/><stop offset="0.035" stop-color="#488cca"/><stop offset="0.045" stop-color="#4ba6de"/><stop offset="0.055" stop-color="#4ba6de"/><stop offset="0.065" stop-color="#58c2ee"/><stop offset="0.095" stop-color="#58c2ee"/><stop offset="0.105" stop-color="#78c8e2"/><stop offset="0.135" stop-color="#78c8e2"/><stop offset="0.145" stop-color="#7fc9d7"/><stop offset="0.185" stop-color="#7fc9d7"/><stop offset="0.195" stop-color="#80c9c6"/><stop offset="0.245" stop-color="#80c9c6"/><stop offset="0.365" stop-color="#85c9b1"/><stop offset="0.505" stop-color="#accc56"/><stop offset="0.605" stop-color="#c1d12d"/><stop offset="0.715" stop-color="#cbd517"/><stop offset="0.745" stop-color="#d3d809"/><stop offset="0.785" stop-color="#dedd02"/><stop offset="0.865" stop-color="#f0e600"/><stop offset="0.895" stop-color="#feed00"/><stop offset="0.905" stop-color="#ffe700"/><stop offset="0.925" stop-color="#fab900"/><stop offset="0.935" stop-color="#f59b00"/><stop offset="0.945" stop-color="#ee7807"/><stop offset="0.955" stop-color="#e85019"/><stop offset="0.965" stop-color="#e52816"/><stop offset="0.975" stop-color="#e41014"/><stop offset="0.985" stop-color="#e30613"/><stop offset="0.995" stop-color="#d90c16"/><stop offset="1" stop-color="#d90c16"/></linearGradient><linearGradient id="h37"><stop offset="0" stop-color="#e74619"/><stop offset="0.005" stop-color="#e74619"/><stop offset="0.015" stop-color="#ea6014"/><stop offset="0.025" stop-color="#ea6014"/><stop offset="0.035" stop-color="#ef7e03"/><stop offset="0.045" stop-color="#ef7e03"/><stop offset="0.055" stop-color="#f59b00"/><stop offset="0.065" stop-color="#f59b00"/><stop offset="0.075" stop-color="#f9b500"/><stop offset="0.085" stop-color="#f9b500"/><stop offset="0.095" stop-color="#fcc500"/><stop offset="0.105" stop-color="#fcc500"/><stop offset="0.115" stop-color="#fed700"/><stop offset="0.125" stop-color="#fed700"/><stop offset="0.135" stop-color="#ffeb00"/><stop offset="0.175" stop-color="#ffeb00"/><stop offset="0.185" stop-color="#f6e900"/><stop offset="0.215" stop-color="#f6e900"/><stop offset="0.225" stop-color="#e8e200"/><stop offset="0.305" stop-color="#dfdd01"/><stop offset="0.335" stop-color="#d2d70b"/><stop offset="0.365" stop-color="#c3d229"/><stop offset="0.395" stop-color="#aecc53"/><stop offset="0.405" stop-color="#a8cb5d"/><stop offset="0.515" stop-color="#85c9b1"/><stop offset="0.575" stop-color="#81c9bf"/><stop offset="0.605" stop-color="#7fc9cd"/><stop offset="0.705" stop-color="#7cc8e0"/><stop offset="1" stop-color="#7cc8e0"/></linearGradient><linearGradient id="h38"><stop offset="0" stop-color="#50bef0"/><stop offset="0.025" stop-color="#50bef0"/><stop offset="0.035" stop-color="#5fc4ec"/><stop offset="0.065" stop-color="#5fc4ec"/><stop offset="0.075" stop-color="#78c8e2"/><stop offset="0.105" stop-color="#78c8e2"/><stop offset="0.115" stop-color="#7fc9d7"/><stop offset="0.165" stop-color="#7fc9d7"/><stop offset="0.175" stop-color="#80c9c6"/><stop offset="0.215" stop-color="#80c9c6"/><stop offset="0.225" stop-color="#82c9bc"/><stop offset="0.315" stop-color="#84c9b4"/><stop offset="0.415" stop-color="#9eca72"/><stop offset="0.455" stop-color="#a6cb62"/><stop offset="0.505" stop-color="#b6ce43"/><stop offset="0.625" stop-color="#d2d70b"/><stop offset="0.705" stop-color="#e2de00"/><stop offset="0.865" stop-color="#ffed00"/><stop offset="0.895" stop-color="#ffe100"/><stop offset="0.915" stop-color="#fab900"/><stop offset="0.965" stop-color="#f08200"/><stop offset="0.975" stop-color="#ee7807"/><stop offset="1" stop-color="#ec6b10"/></linearGradient><pattern id="grid" x="91.25" y="0" width="10.2370" height="10" patternUnits="userSpaceOnUse"><rect width="0.7" height="10" fill="#fff" fill-opacity="0.1"/></pattern><style>.d path{vector-effect:non-scaling-stroke}</style><g class="d"><path id="g0" d="M469 116zm-36 3zm-12 0zm-9 3zm7 1zm6 0zm6-1zm21-2zm2 1zm3 4zm30-2zm-38 3zm-3 4zm-9 1zm-1 0zm-2 0zm-2 0zm-2 0zm-1-2zm-11 1zm-1 7zm2-2zm4-1zm3-2zm2 1zm0 1zm1-2zm1 0zm0 2zm0 1zm0 1zm2-1zm0 2zm1-5zm6 1zm0 2zm2 0zm10 1zm13 0zm5 0zm6 0zm6-2zm3 0zm6 1zm5 3zm-16 2zm-1-2zm-11 4zm-1 1zm-1-4zm-20 0zm-2 0zm-2 4zm-4 0zm-9-4zm-2 1zm-2 2zm-1-3zm-1 3zm-3-4zm0 1zm-4 0zm-3 1zm0 1zm-11-1zm7 5zm8 0zm3-1zm0 1zm1 2zm1-1zm1 0zm1 2zm1-3zm0 1zm0 1zm3 0zm2 0zm5 1zm1 1zm7-4zm2 1zm1-2zm20 0zm2 3zm2-1zm9-1zm3 4zm15-2zm-3 4zm-1 1zm-5 3zm-12-3zm-2 1zm-3-2zm-2 4zm-3-5zm-3 2zm-2 2zm-4-2zm-7-1zm-1 4zm-9-5zm-1 1zm0 4zm-5-5zm-5 1zm-1 0zm-4 0zm-4 1zm-2 9zm1-2zm3-3zm0 5zm1-4zm9 1zm10-2zm16 3zm7 0zm1 0zm5 2zm14-4zm9 3zm0 1zm13 6zm-20 0zm-4-5zm-11 5zm-3 0zm-12-5zm-22 0zm-20 1zm-5-1zm-13 0zm-4 1zm-9 2zm2 3zm4 4zm7-4zm2 5zm1-4zm10 0zm2 3zm11-1zm19 2zm12-3zm3-1zm9 2zm3-3zm6 1zm1-1zm2 0zm10 1zm-12 5zm-3 2zm0 3zm-1-4zm-6 2zm-6 2zm-19-3zm-2 1zm-8 0zm-5-3zm-10 0zm-9 1zm-6 0zm-1 0zm-3 0zm0 1zm-3 0zm-5 3zm-1-2zm-4 2zm-4 0zm-9 0zm10 2zm2 0zm2 4zm1-4zm2 4zm2 0zm2-5zm1 3zm1-2zm1 3zm2 0zm1-4zm2 4zm2-1zm5-3zm13 3zm1 1zm9 0zm5 2zm-7 1zm-2 3zm-23 0zm-3-3zm0 2zm-1 1zm-2-1zm-1-3zm-2 0zm-2 1zm0 2zm-1-3zm-1 2zm-3-2zm0 2zm-1-2zm-1 0zm-4 0zm-1 2zm-2-1zm-4 0zm0 4zm0 4zm6-3zm2 2zm1-1zm1 4zm3-1zm2-3zm0 4zm1-3zm2 0zm0 1zm5-1zm2 2zm1-3zm1-1zm0 1zm0 3zm3-2zm1 2zm1-4zm2 1zm4 2zm13 0zm7 0zm23 2zm-12 4zm-10-1zm-12-1zm-18 0zm0 4zm-5-1zm0 1zm-1-1zm-7-1zm0 1zm-2-3zm-13 2zm3 5zm3 0zm14 2zm4-1zm56-1zm7 2zm-55 7zm-33-5zm14 9zm12 2zm2-3zm-3 9zm-4-1zm-2-3zm0 1zm17 10zm-17 4zm6 7zm2 0zm6-5z"/><path id="g1" d="M430 118zm-11 0zm6 7zm11-2zm40 6zm-23-3zm-6 3zm-2-3zm-2 3zm-1 2zm-4-1zm-6 0zm-3 1zm-6-3zm-2 2zm-16 4zm4 2zm4-1zm4 2zm3-5zm1 1zm3 3zm0 1zm3-3zm1-1zm3 3zm1-4zm3 5zm14-5zm11 2zm3 0zm2 2zm13 0zm13 6zm-11 0zm-18-4zm-21 0zm0 2zm-2 3zm-3-4zm-2-1zm-5 3zm-1-2zm0 4zm-1-2zm0 1zm-1 0zm-1 1zm-3-1zm-3 0zm-1-2zm-1 1zm-3-1zm-1 0zm-5-2zm-1 5zm7 1zm4 4zm3-3zm0 4zm6-3zm0 3zm4-5zm0 2zm0 3zm1-5zm0 4zm4-4zm0 3zm1-3zm0 1zm2 2zm2 0zm11-3zm14 1zm1 3zm3 1zm28 2zm-6 1zm-1 3zm-24 0zm-6-1zm-17-3zm-4 0zm-4-1zm-9 1zm-2 1zm-8 1zm-8 3zm9 0zm7 2zm1-2zm7 3zm4 1zm5 1zm21 0zm2-3zm8 1zm2 0zm8 1zm18-3zm-17 8zm-13-3zm-5 0zm-3 4zm-24-1zm-19-3zm-5 0zm-26 9zm4 2zm8 0zm12-1zm2-2zm8 1zm1-3zm10 4zm6-1zm17 0zm18 1zm8-1zm4 7zm-23-1zm-14-1zm-15 0zm-1 0zm-17 2zm-16-1zm-1 0zm-14 1zm-1-1zm-11 7zm7-3zm2 0zm1 0zm1-1zm5 1zm1 3zm1-2zm0 2zm2-1zm0 2zm2-2zm2 2zm1-3zm3 2zm3 0zm2-2zm1 2zm4 0zm23-4zm11 3zm2-3zm16 3zm-13 7zm-22-1zm-1-1zm-16 1zm-7 2zm-3-1zm-1-2zm-2 0zm0 3zm-3-4zm0 3zm-1-4zm0 4zm-1-2zm-1 0zm-1 1zm0 1zm-1-3zm-3-1zm0 4zm-5 1zm-1 0zm-1-4zm-5 4zm-7 6zm7-2zm0 1zm3-1zm0 1zm5 0zm1-4zm0 4zm2-4zm1 0zm1 4zm2-2zm6-1zm0 3zm1-1zm22-3zm2 2zm1 2zm1-2zm4-2zm9 5zm-9 4zm-22 2zm-2-4zm-5-1zm-1 0zm-9 2zm-5 0zm-2 0zm11 4zm2 1zm0 1zm5-2zm5 1zm10 0zm30 10zm-15-3zm-51 4zm29 1zm17 2zm-33 13z"/><path id="g2" d="M450 113zm-3 6zm-16 1zm24 3zm18 8zm-29-4zm-12-1zm0 2zm-11-2zm-2 4zm-1 1zm-8-2zm-11 4zm15 0zm3 4zm4-3zm2 2zm1-2zm10 2zm34-2zm13 6zm-1-1zm-17 3zm-18-1zm-6-3zm-2 3zm-2-2zm-2-1zm-1 3zm-1-2zm-1 2zm-3 1zm-1-1zm-2 0zm-8-3zm0 3zm-3-3zm-2 7zm5 2zm2 1zm5-4zm4 1zm7-1zm12 2zm7 0zm0 2zm1-3zm18 4zm5 0zm17-2zm-4 3zm-3 5zm-6-2zm-2-2zm-4 1zm0 3zm-4-3zm-7 0zm-27-2zm-6 0zm-2 2zm-2 3zm-1-5zm-3 2zm-9 1zm1 3zm6 3zm3-3zm8 1zm40-1zm0 5zm21 1zm-16 0zm-19 0zm-20 1zm-5 1zm-50 6zm4 2zm11 0zm36 1zm5-4zm22 1zm2 3zm9-4zm8-1zm0 2zm7 6zm-2 2zm-51 0zm-3-4zm-23 1zm-7-1zm-4 5zm-1-3zm-2-2zm-2 5zm-4-5zm0 5zm-1-1zm-2 1zm-1-4zm-9 5zm6 0zm7 0zm4 3zm1-2zm0 4zm4-5zm0 5zm1-1zm1 1zm5-4zm1 4zm5-1zm24-3zm43 6zm-27 2zm-50-3zm-3 2zm-2 3zm-3 0zm-3-3zm-1 3zm-2 0zm-14-4zm7 5zm1 3zm2-1zm4 3zm5-3zm3 1zm3 1zm4 4zm-4-1zm-9 4zm16 2zm9 3zm8 0zm-31 3zm-10-1zm34 6zm24 0zm-41 7zm5 5zm-18 12z"/><path id="g3" d="M433 125zm3 0zm14-5zm-9 11zm-27-1zm2 4zm2 0zm0 3zm7 0zm4-3zm5-1zm11 1zm2 1zm7-2zm1-1zm20 4zm-31 7zm-8-4zm-10 10zm11-2zm19 1zm26 7zm-9-3zm-3 1zm-38 0zm-5 0zm-7 0zm-19 8zm25-5zm0 2zm5-1zm3 4zm11-3zm4-1zm18 2zm3 6zm-86 3zm7 5zm10-4zm73-1zm6 3zm-16 6zm-74 2zm-4-1zm-15 7zm24 0zm4-4zm4 4zm1-3zm7-1zm69 1zm-76 7zm-17-2zm-3-1zm-1 5zm-1 6zm5-4zm7 5zm-5 1zm-8 1zm15 12zm-11-2zm19 8zm50 2z"/><path id="g4" d="M435 121zm19 4zm9 6zm-24 0zm-2-4zm-6-1zm-1 5zm-4-4zm-4 2zm-4 0zm8 3zm58 10zm-12 1zm-3-3zm-19 2zm-6-3zm-26 1zm0 2zm-1-3zm-3 7zm5 1zm2 1zm2-4zm14 0zm20 3zm8-3zm4 0zm7 0zm0 4zm2 0zm13 5zm-13-2zm0 4zm-46 1zm10 3zm17-3zm1 2zm7 2zm4-1zm6 1zm8-4zm1 10zm-1-2zm-5-2zm-12 0zm-59 0zm-33 10zm53 1zm4-4zm46 7zm-83-2zm-9 2zm2 6zm2-1zm7 3zm2 0zm27 2zm-28 2zm-3 1zm-14 0zm1 6zm14 1zm35-3zm-25 7zm-14 1zm-6 4zm1 2zm-13 28z"/><path id="g5" d="M452 115zm-28 8zm33-3zm-39 13zm9 4zm22-3zm32 5zm-43 2zm-3-1zm-12 5zm5 4zm47 0zm-9 1zm-5 5zm-71 2zm83 4zm-2 6zm-1-5zm-96 4zm23 5zm30 0zm21 2zm14-3zm15-2zm-104 14zm10 1zm9 0zm6 1zm33-4zm-35 7zm-5 4zm-11-4zm10 5zm28 10z"/><path id="g6" d="M150 422zm48 3zm5-1zm9 4zm0 1zm-5 1zm0 1zm-2-2zm-2-2zm0 4zm-1 0zm-1 0zm-1-2zm-1 1zm-2 0zm-39 0zm-19 1zm-17 4zm18 0zm6 2zm3-1zm4 0zm9 0zm2-3zm3 1zm29-1zm1 2zm1 0zm4-1zm1-2zm0 7zm-2 1zm-5-2zm-15 4zm-5-2zm-6 2zm0 1zm-11 0zm-1-5zm-2 2zm-2 0zm-1 1zm0 2zm-4-1zm-1-4zm-3 4zm-2-1zm-1-2zm0 3zm-1 0zm-1-4zm-1 2zm-1 2zm-11 1zm-4 6zm2-5zm5 1zm2 1zm2 0zm2 1zm1-2zm4-1zm2 0zm0 4zm1 0zm1-1zm0 1zm3-3zm0 2zm1-2zm3 4zm1-5zm0 4zm1 1zm1-4zm1 3zm1-4zm0 2zm3 3zm2-1zm5-4zm0 2zm2-2zm0 3zm4-2zm0 2zm1 0zm2-1zm7 1zm6-2zm-12 10zm-3-5zm-3 2zm-2-1zm0 2zm-6-3zm-2 0zm0 2zm0 2zm0 1zm-2-5zm0 1zm-1-1zm-1 1zm0 4zm-1-3zm0 2zm-3-2zm-1 1zm-2 0zm-1-2zm-3 1zm0 1zm-1-2zm-1 2zm-1-3zm0 5zm-1-5zm0 2zm-1 2zm-1-2zm-2 3zm-1-2zm0 1zm-1-4zm-2 5zm-1-4zm-3 0zm-5 0zm12 6zm3 0zm2 0zm0 3zm2-4zm0 1zm2 0zm2 3zm1 1zm1-3zm1 1zm3-2zm2 4zm1-2zm3 1zm1 0zm1-3zm3-1zm6 2zm1-1zm14 7zm-13 3zm-9-5zm0 1zm-8 1zm-6 2zm-4-4zm-21 4zm31 4zm19-1zm10 3zm-11 3zm-5-1zm-2 1zm-7 0zm23 5z"/><path id="g7" d="M157 426zm-4 2zm-20 7zm4 2zm15-5zm1 4zm4 1zm3-4zm25 1zm9 2zm3 1zm3-4zm1-1zm0 3zm3-3zm0 3zm4-1zm1-2zm-8 8zm-37 3zm-6-4zm-1-1zm-2 2zm-3 1zm-1 0zm0 1zm-4 1zm-1 0zm-1-1zm-6 0zm-2-1zm0 2zm-1-2zm1 6zm4 1zm2-4zm0 5zm1-4zm0 1zm2 1zm0 1zm2-4zm1 2zm0 3zm1 0zm3-5zm3 0zm0 3zm1-1zm3 0zm1 0zm0 1zm1 2zm1-5zm1 1zm6 4zm4-1zm5 2zm-3 5zm-1-5zm-5 5zm-1 0zm-4-2zm-1-1zm-4-2zm0 5zm-2 0zm-1-2zm-1-3zm0 1zm-3-1zm-3 2zm0 2zm-1 1zm-3-4zm-1-1zm-5 4zm-3 0zm-3-1zm-1-2zm-1 4zm-4 0zm-1-3zm-1-1zm9 6zm1 1zm2 1zm1-3zm0 5zm3-1zm2 1zm1-2zm4 1zm3-3zm1 4zm3 0zm1-5zm2 4zm0 1zm3-3zm2 1zm6-1zm1 2zm1-3zm4 2zm-5 4zm-4-1zm-7 1zm-6 2zm-3 1zm-5-4zm-1 4zm6 3zm4 4zm17 2z"/><path id="g8" d="M194 421zm14 7zm-3 2zm-3 0zm-66 4zm13 1zm4 0zm12 2zm32-4zm2 3zm3-3zm-34 5zm-3 5zm-1-1zm-1 1zm-1-5zm0 5zm-1 0zm-2-4zm-2 0zm-3 3zm-8-2zm-2 0zm-1 0zm-1 0zm-3 2zm-8 5zm1 0zm1-3zm7 4zm3 0zm1-2zm4 2zm5 0zm3-2zm1-2zm1 5zm4-3zm0 2zm1-3zm4 3zm4-4zm0 7zm-1 2zm-9 2zm-2-1zm-2 1zm-3-3zm-2 1zm-4-1zm-2-2zm0 1zm-3 4zm-1-5zm0 3zm0 1zm-1-4zm0 1zm-1 3zm-1 0zm-1-4zm-1 2zm-8 2zm-4 1zm-2 6zm2-5zm14 0zm1 1zm5 2zm1-3zm1 0zm3 0zm2 2zm7 3zm6-3zm2 1zm2 8zm-8-5zm-10 0zm0 1zm-2 0zm-15 4zm-1 5zm1-3zm18 3zm14-3zm21 9zm-31-4zm-3 4z"/><path id="g9" d="M208 421zm0 2zm-1 3zm-52 11zm3-1zm39-1zm7-1zm0 5zm-8 2zm-38-1zm-1 3zm-4 0zm-1-4zm-1-1zm-10 1zm-3 1zm-9 0zm4 9zm1 0zm4-4zm1 3zm2 0zm1-1zm11-3zm2 3zm4 1zm13 7zm-15-1zm-2-4zm-3 4zm-2 1zm-4-5zm0 3zm-6-2zm0 2zm-23 4zm17 0zm15-1zm0 1zm2 1zm2 3zm5-4zm4 4zm1-5zm-8 22zm4 2zm10 6z"/><path id="g10" d="M196 430zm-43 0zm-12 5zm4 2zm6 0zm7-1zm5-1zm41 2zm-40 6zm-11-3zm-10 0zm-4 3zm-1 6zm2-1zm4-2zm4-1zm1 1zm4 0zm1-2zm1 1zm7 0zm0 4zm31-2zm-13 4zm-11 2zm-14-2zm0 2zm-4-3zm-2 0zm-19 4zm16 5zm11-3zm3 0zm40 5zm-16 4zm-22-3zm-16 4zm-2 0zm-2 3zm19 0zm12 10zm-20 10z"/><path id="g11" d="M204 428zm-5-1zm-54 10zm7-3zm7 6zm-6 1zm-28 7zm16-4zm5 3zm9 1zm5-2zm-3 8zm-8 0zm-2 0zm-7 3zm10-1zm19 6zm10 13z"/><path id="g12" d="M394 541zm12 10zm-24-4zm-7 2zm1 8zm12-2zm3 8zm-6-4zm-3 0zm-2 1zm-4 3zm-7-2zm-5 7zm5 1zm2 0zm6-2zm2 2zm2-4zm2 3zm1 1zm1-5zm3 1zm0 3zm1 1zm2-5zm2 11zm-3 0zm-2-3zm0 2zm-4-2zm0 1zm-3 2zm-2-2zm0 1zm-1-2zm0 2zm0 1zm-3-1zm-1-3zm0 3zm-1 1zm-10-1zm-6-3zm16 10zm2-4zm0 3zm1-2zm3 2zm4-3zm4-1zm5 4zm-1 3zm-3-1zm-4 2zm-4-1zm0 3zm-2 1zm-1-5zm-4 4zm-3 0zm5 7zm4-1zm9 3zm-1-1zm-6 4z"/><path id="g13" d="M396 549zm-21 5zm6 3zm6-3zm-9 9zm-1-5zm0 5zm-4-3zm-1 8zm4-3zm5 2zm2 0zm0 2zm12 0zm1-5zm-2 8zm-3-2zm0 3zm-3 0zm-2-3zm-3 3zm-4-2zm0 1zm0 2zm-3-1zm-1-1zm-5 2zm-1-3zm-13-1zm22 8zm0 2zm1-3zm4 1zm2-2zm0 1zm1 3zm3-1zm2-2zm-5 5zm0 2zm-4-2zm-7 4zm-7 3zm18 0zm3 6zm-1-1z"/><path id="g14" d="M385 548zm-17-2zm9 8zm10 9zm-9 0zm-5-1zm-17 4zm22-2zm2 1zm2 2zm3-3zm1 2zm0 1zm6-3zm1 4zm3-4zm-3 8zm0 2zm-2 0zm-1-1zm-5-1zm-3 1zm-1 2zm-5-2zm9 6zm1 1zm6-3zm4 5zm-7 1zm-4 1zm-1 0zm0 2zm-8 1zm-4 4zm2 2zm13-3zm-17 16z"/><path id="g15" d="M390 554zm-12 9zm-1-2zm-3 2zm-1 0zm10 5zm6 1zm12 3zm-17 1zm-6 2zm-2-5zm-8 5zm25 5zm-3 4zm-13 0zm-4 17z"/><path id="g16" d="M386 548zm-2 9zm-1 3zm-7 4zm7 1zm-13 6zm7 10zm2-2zm9 0zm-1 7z"/><path id="g17" d="M387 563zm-6-2zm-16 4zm17 1zm14 1zm-3 4zm-21 3zm-9 6zm30-4zm-10 11zm3 4zm3 0z"/><path id="g18" d="M442 519zm0 3zm-12 4zm-2 1zm-9 3zm1-2zm2 2zm2 1zm4 2zm9-2zm-11 3zm-4 3zm-1 0zm-3-3zm-4 1zm-13 6zm10 4zm2-5zm0 2zm3 0zm1 0zm3-2zm7 1zm6 7zm-24-2zm-1 1zm-2-1zm0 3zm0 1zm-1-4zm-1 5zm-1 2zm1 3zm12 2zm29 22z"/><path id="g19" d="M432 524zm-5 2zm-11 3zm9 0zm-4 8zm0 2zm-2-3zm-1-1zm-1 4zm-1 0zm-6-1zm-6 7zm8-3zm2-1zm3 1zm4 2zm1-2zm6-1zm4 0zm-12 5zm-8 3zm-1 1zm-7-2zm-1-1zm-4 0zm-2 2zm-7 1zm14 3zm13 1zm-20 6z"/><path id="g20" d="M423 527zm-11 0zm6 3zm3 2zm10 1zm-1 5zm-11 0zm-3-4zm-1 5zm-2-4zm-16 9zm7-3zm6 4zm6-3zm2 0zm-2 5zm-5 4zm-2-1zm-2 1zm1 2zm14 21z"/><path id="g21" d="M436 527zm-2 4zm-19 6zm-10 0zm-5 7zm5 1zm1-2zm9-3zm1 5zm3-3zm-1 4zm-3 1zm-6 0z"/><path id="g22" d="M431 524zm-5 13zm-8 0zm-5 0zm-6 4zm1 1zm3 0zm2 3zm1 0zm4-3zm-22 5zm6 10zm4-2z"/><path id="g23" d="M436 530zm-14 5zm-2 4zm5 3zm-13 5zm0 3zm-21 3zm21-1zm11 10zm-1 14z"/><path id="g24" d="M406 545zm12 0zm-8 3zm-7 2zm-23 7zm23 0zm1-2zm6-2zm0 4zm-8 4zm-2 0zm-1 1zm-2-4zm-3 4zm0 1zm-6 4zm2-1zm1 1zm2-3zm2 0zm0 5zm1 0zm1 0zm3-5zm10 4zm5-4zm4 9zm-16 2zm-6-5zm0 2zm0 3zm-3-3zm-2-1zm0 2zm-3-3zm-1 5zm-1-5zm-3 5zm0 5zm3 1zm1 0zm2-4zm2 1zm1 0zm2 1zm2-3zm3 0zm6 1zm2 5zm-3 4zm-2-4zm-6 0zm-1 3zm-12-2zm10 10zm21-2zm-5 5z"/><path id="g25" d="M410 543zm-20 9zm15 11zm-10-5zm-2 5zm-14-1zm8 6zm1 0zm6-3zm1-1zm2 4zm8-2zm7-1zm-15 8zm-1-3zm-3 1zm-5 0zm-3 4zm-2-5zm3 10zm3-4zm4 1zm3-1zm6 1zm5 0zm1 2zm8 6zm-7-1zm-13-2zm-4 3zm-4-1zm6 9zm13-4zm4 10z"/><path id="g26" d="M413 549zm-15-3zm-3 5zm1 3zm1 2zm6 1zm8 3zm-21 2zm-2 0zm3 4zm1-2zm2 0zm1 3zm8 0zm1-3zm1 4zm11-3zm-8 9zm-12-3zm-9 3zm-3 3zm2 1zm5-2zm1 3zm7 0zm3 8zm-10 5zm2 0zm-2 6z"/><path id="g27" d="M404 557zm-2 4zm-6-3zm-2 3zm-6 6zm6 0zm1-2zm4 8zm-2-3zm-1 2zm-4 2zm-3-3zm-4 8zm5-2zm2 4zm4-2zm1 2zm7 0zm2 0zm10-1zm-15 2zm-10 0zm25 15z"/><path id="g28" d="M419 552zm-22 9zm-12-1zm-3 5zm12 2zm7-1zm2 6zm-1-1zm-17 8zm10 0z"/><path id="g29" d="M387 564zm5 1zm4 9zm-8 4zm22 2zm-8 5z"/><path id="g30" d="M306 623zm-13 2zm6 2zm4 0zm-4 6zm-2-3zm-6 2zm0 7zm2-1zm2-2zm0 1zm0 1zm0 1zm1-2zm3-1zm3 10zm-1-4zm-2 3zm-2 2zm-1-5zm-1 3zm0 2zm-1 0zm-2-1zm-1-2zm-1 2zm-4 3zm1-1zm1 0zm1 0zm0 1zm2-1zm1 3zm1 1zm2-3zm0 2zm0 1zm5-3zm3 5zm-8 3zm-7 2zm5 1zm5 13zm-2 20zm-8 31zm7 8zm0 23z"/><path id="g31" d="M295 625zm4 4zm-1 2zm0 3zm-2-4zm-1 0zm-4 1zm-3 8zm3-3zm0 5zm1-4zm0 3zm2-3zm5 3zm5-1zm-4 8zm-6-5zm0 1zm-4 3zm-1 1zm-5 6zm3-4zm1-1zm3 4zm4 0zm2 0zm-4 5zm-1-1zm-1-2zm-1 0zm-4 1zm9 10zm-3 5zm7 17zm-4 9zm3 1z"/><path id="g32" d="M298 614zm1 14zm1 6zm-1-1zm-6 1zm-7 6zm10 0zm1-2zm0 3zm1-1zm2 4zm-3-2zm-4 1zm5 5zm1 6zm-11 9zm-3 5z"/><path id="g33" d="M300 633zm-1 4zm5 1zm-15 9zm2 7zm-2 11zm1-4zm3 2zm2-2zm-1 39z"/><path id="g34" d="M292 635zm18 4zm-10 6zm-7 0zm-2-2zm0 4zm-1-2zm2 8zm1-4zm5 0zm0 7zm-13 20zm9 86z"/><path id="g35" d="M301 634zm-10 2zm14 11zm-13 4zm-5 10z"/><path id="g36" d="M301 743zm-7-2zm-5-1zm-59 6zm14 0zm43 0zm11 1zm1-2zm2 1zm4 5zm-7 3zm-2-1zm-2-3zm-15 5zm-37-1zm-27 6zm43-1zm0 1zm5-4zm1 0zm1 1zm2 2zm3-3zm0 4zm3-3zm3 0zm0 2zm5-1zm2 2zm3-1zm5 2zm9-1zm7 7zm-14-5zm-3 2zm-2 3zm-12-5zm-1 2zm-1 3zm-5 0zm-3 0zm-2-3zm-1-1zm-2-1zm-1 1zm-2 4zm-1-1zm-2-3zm-1 0zm0 4zm-2-2zm-3-3zm0 3zm-1 1zm-39 2zm24 5zm3-1zm4-1zm3 0zm4-1zm2-2zm0 5zm1-1zm1-4zm1 1zm2-1zm1 3zm2-1zm2 3zm2-5zm5 0zm2 0zm4 2zm1 1zm2 2zm1-2zm2-2zm0 3zm1-4zm0 1zm2 2zm4 1zm2-4zm17 8zm-2 1zm-9 0zm-2 2zm-2-5zm0 4zm-9 0zm-5-4zm-3 4zm0 1zm-1-2zm-2 2zm-1-3zm-1 0zm-1 0zm0 1zm-2 0zm-1-3zm-1 4zm-2-4zm-1 5zm-4-3zm-3-2zm-1 2zm-3 3zm-3-5zm0 4zm-1 0zm-6 1zm-2-4zm-9 9zm4-4zm1 2zm0 2zm3-2zm3-2zm1 5zm5-2zm5 1zm2-3zm4 0zm2 0zm1 4zm3-2zm2 1zm1-4zm0 1zm1 1zm1-2zm3 5zm2-5zm2 0zm0 5zm3-4zm1 3zm4 0zm3-1zm13-2zm16 8zm-19-1zm-1 2zm-10-2zm-10-1zm-2 0zm0 2zm-2 0zm-1 0zm-1 1zm-1-3zm-2 1zm-2 0zm-11-2zm-1 1zm-3 4zm-12-2zm1 3zm9 2zm2 3zm5 0zm1-3zm12 0zm3 0zm1 1zm4-1zm1-1zm6-1zm1 1zm8-1zm11 2zm-27 6zm-11 1zm0 1zm-5 1zm-4-5zm-2 0zm-16 7zm33 2zm8 1zm23 6zm-33-3zm-1 1z"/><path id="g37" d="M288 740zm-2 7zm3 1zm2-3zm18 6zm-4 2zm-13-2zm-10 4zm-7-1zm-39 1zm18 6zm5-2zm3 1zm3-2zm3-2zm1 1zm15-1zm5 2zm2 0zm4-2zm3 0zm1 10zm-1 1zm-5-1zm-1-4zm-6 1zm-2 4zm-3-4zm0 4zm-2-2zm-3 2zm-9-1zm-7-3zm-3-1zm-2 4zm-9-2zm0 3zm-12 0zm-4-2zm-5 6zm8 2zm9 0zm1-2zm1 2zm3 0zm5-3zm1-1zm6 1zm1 1zm1-2zm2-1zm6 4zm1-1zm7-3zm5 2zm1 1zm4 2zm16-4zm-5 8zm-3-1zm-6 0zm-11 0zm-3 2zm-1-1zm0 2zm-2-2zm-1 1zm-2-1zm-1-2zm-3-1zm0 2zm-2 3zm-3-3zm-5-1zm-1-1zm-1 5zm-1-4zm-3 3zm-1-4zm-5 4zm-4-2zm-8 3zm-11 0zm-3-5zm12 11zm15-4zm5 2zm4-1zm4-1zm0 1zm2-2zm0 1zm0 4zm2-2zm7 1zm2-3zm2 4zm6-3zm3 2zm0 1zm5 0zm5-4zm2 0zm-6 7zm-2-1zm-1-1zm-5 0zm-5 2zm-3 3zm-1-2zm-4-2zm-5 1zm-7 1zm0 1zm-2-4zm-1 4zm-2-3zm-1 0zm-1 0zm-3 4zm-1-4zm-1 4zm-14-4zm0 4zm0 5zm18-1zm6-1zm2 2zm15-3zm1 2zm7-1zm21-1zm-1 7zm-12 3zm-8-3zm-26 2zm7 3zm29 0zm8 2z"/><path id="g38" d="M290 742zm-25-1zm-6 3zm18 0zm10 2zm9 0zm3-2zm0 2zm-1 5zm-1 4zm-6-3zm0 1zm-37-3zm-4 10zm13 1zm5-5zm2 1zm1 3zm18 1zm4-1zm7-2zm-1 7zm-9 1zm-7-1zm-2-1zm-8 1zm-1 2zm-5-1zm-7-2zm-8-2zm-3 5zm-12-4zm0 3zm-5 5zm2 1zm17-3zm0 2zm21 1zm1 1zm1-4zm1 2zm2-3zm7 4zm1-3zm0 2zm1-3zm1 2zm13 8zm-3-4zm0 1zm-9-1zm-10 5zm-1-2zm-4 0zm0 1zm0 1zm-2-5zm-7 5zm-2-3zm-3 0zm-1-1zm-5 1zm-3-2zm-3 4zm-3 1zm-8 1zm7 5zm1-4zm1 0zm3 1zm0 1zm3-2zm4 2zm1-3zm43 0zm18 3zm-26 7zm-6-1zm-4 2zm-12-1zm-8-1zm-7 1zm-1 1zm-13-5zm-14 5zm22 4zm3 2zm7-3zm21 3zm8-1zm-12 4zm-9 0z"/><path id="g39" d="M276 743zm-1 1zm-7 17zm11-4zm-2 8zm-1 0zm-2-1zm0 1zm-23 1zm-2 1zm-2 2zm3 2zm1-3zm0 4zm10-3zm7 1zm1 3zm1-3zm1 3zm16-3zm2 0zm-4 8zm-12 1zm-6-5zm-3 1zm-1 0zm-5 0zm-6-1zm-5 5zm-11-5zm0 2zm2 7zm2 0zm12 1zm1-2zm2 3zm6-5zm1 3zm13-2zm10 2zm3 0zm-2 8zm-28-5zm-6 3zm-4 2zm-8 0zm10 2zm6 1zm12 3zm53 5zm-38-1zm-19 2zm-24-1z"/><path id="g40" d="M245 749zm53 2zm-26 9zm-7 7zm-7-5zm-33 2zm-3 3zm15 6zm24-2zm10 1zm22 1zm-4 4zm-20-1zm-26 5zm1 0zm5 1zm11 0zm26-1zm2 2zm25 0zm-42 8zm-1-4zm-20-1zm-3 4zm-10-3zm-10 8zm19 0zm6-2zm31-1zm-7 6z"/><path id="g41" d="M300 743zm-32 14zm15 4zm24-5zm-9 10zm-33 0zm-11 0zm-13 4zm9 0zm17-1zm1-1zm16 3zm18 3zm-16 5zm-6 0zm-19-5zm-8 1zm-36-1zm39 8zm8-1zm2 1zm12-2zm-3 8zm-26 0zm-4 0zm26 14zm-10-2z"/><path id="g42" d="M652 288zm-17 16zm7 1zm-4 11zm11 1zm7-2zm8 5zm-15 3zm-7-2zm-15 2zm3 5zm13 0zm2 1zm6-4zm2 0zm12 0zm-3 7zm-1-1zm-3 0zm0 4zm-9-4zm-11-1zm-4 2zm-3 9zm12-3zm3 1zm9 1zm4-3zm6-1zm-7 10zm-4 0zm-7 1zm-3-1zm-3-3zm-14 4zm16 3zm13-1zm1 0zm4 3zm1 1zm3-4zm1 0zm1 0zm1 10zm-7-3zm-5 1zm0 2zm-15-2zm-5-3zm10 11zm2-2zm2-1zm3-1zm0 4zm3-2zm1 1zm6 1zm12 1zm-9 3zm-1 2zm-14-5zm-7 2zm-1-1zm-3 2zm-10-3zm3 10zm5-4zm0 3zm8-3zm1 0zm7 1zm5 0zm0 4zm11 3zm-13 2zm-11 1zm-2-1zm-6-4zm-6 9zm10-3zm5 5zm3-1zm3 1zm1-4zm1 4zm7-1zm1-2zm1 2zm7 3zm-4 2zm-4 2zm-4-5zm-5 2zm-5 1zm-3-1zm-5-1zm0 6zm6-1zm4 4zm1-1zm5 2zm7-3zm28 2zm-14 3zm-11 2zm-3-2zm-3 3zm-5-1zm-5 1zm-7-2zm-12 4zm14 3zm18 1zm3-4zm27 3zm-21 3zm-1 1zm-8-1zm0 2zm-17-1zm-10 0zm15 7zm24-2zm12 3zm-15 7zm-8-2zm-14-2zm-4 11zm10-4z"/><path id="g43" d="M642 304zm6-3zm7 2zm14 0zm-9 7zm-3-3zm-8 10zm17-2zm3 4zm-29 5zm2 1zm11 3zm3 1zm17 0zm-23 3zm-10 7zm1 1zm13-3zm4-1zm-4 11zm-9-5zm-9 4zm-1-4zm-2 4zm11 5zm6 1zm12 0zm6 2zm-21 4zm-3 1zm-8-5zm-6 1zm2 7zm5 0zm9 3zm15 0zm3-5zm14 0zm-19 6zm-8 2zm-8-2zm-3 2zm-6 5zm10 0zm2 4zm1-3zm10 3zm18-2zm-16 3zm-14 1zm-15 8zm0 1zm18-2zm0 2zm3-4zm18 3zm1 7zm-9-2zm-3 2zm-1-3zm-1 4zm-12-2zm-1-2zm-14 6zm32-1zm5 3zm3 3zm-7 3zm-2 0zm-5 2zm-3-1zm-1-2zm-6 9zm3 0zm6-1zm15-1zm-17 8zm-6 5zm9-4zm1 4zm13-3zm-12 9zm-15 9z"/><path id="g44" d="M628 303zm34 13zm-2 2zm-4 2zm-6-1zm-8 1zm4 8zm11 1zm-26 3zm22 8zm5-2zm-6 5zm-1 4zm-7-1zm-8 5zm8 0zm6 2zm1-5zm0 2zm12 1zm10 4zm-27 1zm-9-1zm-1 10zm18-3zm24 8zm-12-1zm-12 0zm-2-1zm-1 2zm-11 1zm-7-5zm-1 11zm13-2zm8 0zm0 4zm7 6zm4 4zm-2 3zm-2 1zm-10 6zm17 2zm-1 4zm-12-3zm-11 0zm-3 3zm-5 4zm20 0zm3 1zm7 9zm-12-4zm-7 0zm3 10zm14-1zm-4 4zm-2 2zm-7-4zm8 6zm-15 8zm3 5z"/><path id="g45" d="M629 296zm16 23zm-7 10zm17-4zm2 1zm0 9zm-6 16zm15 6zm-17-3zm-5 6zm12 3zm2 2zm12-5zm-31 13zm11 1zm-10 14zm9-4zm4 0zm10 4zm-1 5zm-23 14zm8 4zm14-3zm3 6zm-32 2zm21 9zm20-5z"/><path id="g46" d="M655 324zm-5 8zm-11 4zm5 21zm-1 2zm21 5zm-12 7zm9 11zm-5-2zm-6 3zm16 1zm-35 8zm-11-1zm25 8zm5-3zm32 1zm-18 7zm-3 3zm-18-3zm5 9zm-15 1zm22 15zm-11 7z"/><path id="g47" d="M655 338zm-12 14zm28-2zm-17 4zm4 13zm-5 1zm14 4zm-7 6zm-22 5zm10 4zm27 26zm3 3zm-43 1zm18 5zm6 1z"/><path id="g48" d="M620 266zm8 3zm2-2zm-11 7zm-1-3zm-15 0zm7 8zm7 1zm2 1zm18 6zm-16 0zm-2-1zm-1-1zm0 2zm-1-2zm-4 2zm-2-4zm0 3zm-3 0zm-5-3zm-5-1zm0 2zm-2 1zm-2 3zm7 1zm2 0zm3 4zm3-4zm0 4zm2-5zm3 1zm1-1zm5 3zm6 2zm3-3zm-7 5zm-5 4zm-5 0zm-4-1zm-1-3zm-2 4zm-1-3zm-5-2zm-5 4zm-13 6zm4-2zm4-1zm1 3zm5-3zm0 2zm2 0zm1-1zm3-1zm0 4zm1-5zm3 4zm4 0zm1 1zm1 0zm3-3zm8 0zm10 0zm-8 4zm-7 0zm-4 2zm-1 2zm-1-4zm-1 1zm-6 1zm-2-1zm-2 0zm-1 2zm-2 0zm-3 2zm-2 0zm-2-4zm-1 2zm-3 3zm8 4zm12 1zm1-5zm0 1zm1 0zm1-1zm6 2zm0 3zm15 5zm-6 0zm-3 1zm-2-3zm-5 1zm-2-1zm-3-1zm-1-1zm-3 1zm0 3zm-3-1zm-4-2zm7 8zm9-1zm5 2zm-2 4zm-1 0zm-28 1zm32 8z"/><path id="g49" d="M614 278zm4 1zm23 5zm-14-1zm-12 1zm-3-1zm-2 4zm-2-3zm-14 8zm5 0zm4 1zm6-1zm1-3zm2-1zm8 4zm3 0zm1-3zm0 1zm-4 5zm-5 4zm-4-5zm-3 3zm-10 0zm-1 0zm-4 0zm-4-2zm-1 2zm1 7zm12 0zm7-2zm9-1zm2 4zm29 2zm-41-1zm-2 5zm-12-2zm-4-2zm12 8zm6 0zm6 1zm6-3zm5 1zm2-1zm7 8zm-24-2zm-37 3zm21 2zm18 4zm7 1zm2-3zm8 1zm11-2zm-13 16zm-2 5z"/><path id="g50" d="M625 275zm-17 0zm-6 6zm10-3zm7 3zm1-1zm1 1zm4 0zm1-4zm-13 6zm-1 2zm-16-1zm-8 4zm1 2zm9-2zm11 5zm11 0zm9 0zm-12 4zm-4 2zm-13-2zm-5 1zm-6-2zm-5 8zm10 0zm4 1zm10-5zm3 4zm5 1zm-15 2zm-1 4zm-4-2zm-2-3zm-4 1zm0 3zm5 7zm9-5zm1 4zm9-2zm4-2zm15 1zm0 1zm13 3zm-17 4zm-20-3zm-2 4zm-3-2zm-5 1zm-11 2zm-4 0zm31 1zm12 0zm5 0zm-2 10zm-8-2zm-27 0z"/><path id="g51" d="M620 277zm-17 10zm-6 4zm23-3zm20 1zm-17 8zm-14-3zm-3 2zm-1 1zm-4 7zm29 0zm-20 6zm-3-1zm-4-2zm-10 3zm-4-3zm-7 1zm-16 1zm47 7zm1-3zm4 9zm-15-4zm20 6zm2 3zm-11 6z"/><path id="g52" d="M601 281zm14-2zm22 3zm-23 2zm-15 6zm2 0zm10 2zm-2 4zm-20 8zm27 1zm18 4zm-26-1zm-8-1zm-23 7zm10-1zm14 0zm-8 10zm31 4zm0 7zm-13 2zm6 4z"/><path id="g53" d="M639 270zm-13 17zm-32 6zm8-1zm5-2zm19 7zm-14 2zm-4 0zm-6-5zm-14 5zm-4 4zm24 8zm-7-2zm-5 7zm5-2zm15-2z"/><path id="g54" d="M663 241zm-8 12zm0 2zm22 3zm-2 4zm-14 0zm-10 0zm-11 3zm5 3zm3-1zm4-2zm1-1zm4 5zm4 0zm14-3zm1 7zm-14 2zm-3-3zm-1-1zm-6 2zm-2 1zm-2 0zm0 1zm-1-5zm-27 5zm-8 1zm8 5zm8 0zm9-1zm6-3zm9 0zm10-1zm2 5zm2 0zm13-3zm3-1zm5-1zm-43 10zm-4-2zm-9 0zm-6 5zm14 2zm6 0zm1-1zm28-1zm4 0zm-17 5zm-49 3zm31 6z"/><path id="g55" d="M665 242zm4 13zm9 2zm-5 6zm-4-1zm-1-2zm-3 0zm-20 2zm-12-3zm14 5zm3 5zm3-2zm3-1zm14 0zm3 3zm1 0zm6 0zm1 3zm-6-1zm-5-1zm-7 2zm-1 1zm-1-2zm-3 2zm-4-1zm-6-2zm-1 1zm-3 0zm0 1zm-4 3zm-5-5zm-10 4zm-7 4zm7-1zm9-1zm10 1zm14-1zm1 3zm6-3zm7 2zm4-1zm-12 8zm-36 6zm45 10z"/><path id="g56" d="M664 239zm-6 15zm15 6zm-6-1zm-1-1zm-18 4zm-8 1zm-17 4zm6 2zm1 0zm17-3zm8 2zm3-1zm1-2zm13 8zm-5 2zm-13-5zm-1 4zm-12 0zm-4 1zm-15-1zm4 2zm10 5zm16-3zm3-1zm6 4zm2-3zm15 4zm-22 2zm-3 1zm-12 2zm-25 1zm22 3zm4-3zm3 4z"/><path id="g57" d="M635 256zm53 4zm-37 1zm3 11zm-33 1zm7 6zm24-2zm10 1zm2 0zm0 1zm-32 9zm51 7z"/><path id="g58" d="M645 257zm-14 11zm6-1zm9 2zm6-1zm13-1zm-1 3zm0 1zm-12 17zm11 8z"/><path id="g59" d="M632 265zm14 9zm-20 4zm4 2zm38-3zm-19 8zm-10 4z"/><path id="g60" d="M665 264zm4 1zm11 2zm-54 4zm-12 8zm3 2zm4-2zm18 2zm7-5zm8 1zm12 1zm7 1zm-8 5zm0 1zm-1 1zm-11-4zm-1 2zm-13-1zm-6 3zm-7 0zm-7 1zm-2 0zm-22 4zm14-3zm9 2zm5-2zm1 5zm3-2zm7 2zm4-3zm1 0zm1 1zm2-3zm10 2zm2-1zm3 1zm3 2zm10-1zm2 0zm0 3zm-9 2zm-3 2zm-1-1zm-4 2zm-8-5zm-2 5zm-2-2zm0 1zm-10-2zm0 1zm-5-2zm-22-1zm0 3zm-7 2zm3 1zm2 5zm11-2zm1-2zm9-1zm3 1zm3 1zm3-2zm6 5zm6-1zm6-4zm0 4zm2-4zm1 0zm4 4zm8-4zm1 0zm5 5zm-3 3zm-10 1zm-1 2zm-2-4zm-2 4zm-1-4zm-3 3zm-8-2zm-7 3zm-2-1zm-1 0zm0 1zm-2-4zm0 3zm-7-2zm-1 2zm-1 0zm0 1zm-7-2zm-6-2zm-9 7zm20-1zm7 4zm2 0zm1-1zm2 0zm1-1zm2 0zm1-3zm2 3zm0 2zm3-3zm1-2zm1 3zm1 0zm12 2zm7-2zm0 2zm4-1zm8 3zm-15 3zm-2-4zm0 4zm-5 0zm-6-4zm0 3zm-1 2zm-2-5zm0 2zm-1-2zm-4 5zm-1-1zm-2 0zm-6-3zm-2-1zm-5 5zm-9-4zm-7 0zm27 6zm0 1zm1 2zm0 1zm7 0zm7-1zm2-1zm5 1zm2-3zm0 3zm2-3zm1 6zm0 1zm-4-1zm-4 2zm0 2zm-1 0zm-1-3zm-2-1zm0 2zm-2 1zm-1 1zm-7-3zm-1 3zm-1-1zm-4-1zm-1-1zm-1 0zm-2 2zm-7 1zm-5 6zm14-2zm9 0zm4 2zm-1 2zm-7 1z"/><path id="g61" d="M660 261zm14 3zm-28 11zm-37 5zm40-1zm15 0zm17 7zm-11 0zm-6-2zm-15 0zm-17 2zm-13 5zm2-3zm13 2zm5-2zm9 5zm12-5zm4 0zm1 5zm6-1zm6-1zm0 2zm19 5zm-21-2zm-4 1zm-18-3zm-6 1zm-1-1zm-11 1zm-4 4zm-3-3zm-2 2zm-5-4zm-3 2zm-5 0zm-1 3zm-1 3zm2-1zm1 1zm7 2zm2-4zm0 4zm22-1zm2-1zm1 0zm9 1zm3 2zm2 0zm6-5zm3 3zm3-1zm5-2zm-12 11zm-2-5zm-8 1zm0 2zm-3-1zm-2-1zm-4 2zm-1 1zm-5 0zm-1 1zm-1 0zm-3 0zm-3-1zm-6 1zm-2-5zm0 2zm-8-1zm-1 4zm-2-4zm-1 7zm1 2zm14-3zm6 4zm6-1zm1-1zm5 2zm1-2zm2-3zm0 5zm2 0zm4-2zm17-1zm7 9zm-18-3zm-1 3zm-8 0zm-2-1zm-1 1zm-6-5zm-3 3zm-2 1zm-1 0zm-1-4zm-1 0zm-3 0zm-7 2zm-3 0zm-11 3zm9 3zm12 3zm4-4zm2 2zm2 0zm1 1zm4-4zm6 1zm1 1zm2-1zm-4 6zm-2 3zm-2-3zm-5 0zm-13 1zm-1-2zm-4 5zm-12-4zm42 9zm-13 6zm-3-1zm7 9z"/><path id="g62" d="M662 273zm-10-2zm0 1zm-7-2zm-4 1zm-33 6zm10 3zm18-2zm3-1zm18 4zm13-3zm4 4zm-24 1zm-14-1zm-5 3zm-10 1zm-2-2zm-5 8zm9 1zm3-4zm6 3zm7-3zm3 2zm10-1zm2 2zm14-4zm8 1zm-2 6zm-14-1zm-4 5zm-6-4zm-2 0zm0 4zm-9-4zm-13 0zm-3 3zm-1-4zm-1 0zm-11 1zm-6 4zm15 6zm6-4zm27 4zm4-4zm2 1zm0 1zm1 1zm2-4zm0 5zm20-5zm-21 6zm-5 3zm-5 1zm-1-3zm-13 1zm-8 0zm-15 2zm-4 1zm40 5zm2-1zm4 0zm8-2zm2 1zm-9 7zm-6-2zm-6 0zm-4 2zm-11-1zm-5-1zm0 2zm0 2zm-5-4zm-8 3zm-10 1zm14 1zm4 1zm4 1zm2 1zm12-1zm10 1zm1-3zm5 4zm5 1zm27 2zm-28 1zm-1 3zm-10-4zm-1 1zm-3 3zm-10-4zm-9 2zm-1 0zm-8 6zm10-3zm15 2zm15-1zm-19 9zm13 5z"/><path id="g63" d="M683 270zm-40 0zm-12 7zm13 3zm12-2zm20 2zm3-2zm4 0zm-18 4zm-52 6zm13 1zm4 1zm15 0zm3 2zm0 1zm3-1zm8-4zm0 4zm1-3zm-4 10zm-6-2zm-8-1zm-1-2zm-2 1zm-2 1zm-3 7zm24 1zm1-3zm0 2zm0 2zm5-1zm5-1zm6-3zm1 1zm-16 6zm-15 4zm-38 5zm29 0zm17-4zm0 1zm15 10zm-1-3zm-3 2zm-14-4zm-4 3zm-40-3zm29 11zm7-2zm21-1zm-1 8zm-30-2zm-3-1zm-4-1zm-2 8zm27-2zm-2 6zm-6 2z"/><path id="g64" d="M635 281zm30-5zm15 5zm-8 10zm-29 5zm-13 3zm-4-1zm-5-3zm-2 0zm-4 0zm25 7zm33 2zm-4 2zm-40 2zm26 10zm-23 3zm-16 2zm29 4zm7-1zm5-2zm-20 13zm-11 9z"/><path id="g65" d="M655 265zm10 4zm-14 4zm4 4zm33 7zm-24 1zm-39-2zm16 10zm6-4zm-25 8zm-10-2zm2 5zm56 2zm-9 5zm-5 4zm-26-1zm-16 0zm25 4zm6 2zm30-2zm-51 13zm39 0zm-15 4zm5 14z"/><path id="g66" d="M623 316zm18 3zm-34 8zm13 0zm1-1zm52 7zm-21 0zm-5 1zm-6-4zm-1 2zm-8 1zm-1 0zm-3 0zm-5-2zm-12 4zm2 3zm2 0zm3-1zm15 4zm4-2zm9 1zm3-1zm2-2zm0 2zm0 1zm-3 2zm0 3zm-13-1zm-9-1zm-2 7zm2-2zm13 0zm0 1zm2 3zm6-4zm1 0zm4 2zm-8 8zm5 3zm-17 7z"/><path id="g67" d="M647 322zm-44 0zm4 3zm1-1zm46 5zm9-2zm-9 5zm-1 1zm-8 0zm0 1zm-4-4zm-5 5zm-6-5zm-10 3zm3 7zm9 1zm2 0zm6-2zm1-3zm15 0zm-9 6zm-1 1zm-2-1zm-2 2zm0 1zm-1 1zm-1-3zm-7 0zm0 3zm-3 0zm-3-1zm10 4zm1 1zm2-1zm4-1zm0 1zm0 6zm-7 3zm-3 0zm0 4zm11 1z"/><path id="g68" d="M600 316zm11 0zm51 7zm-69-4zm57 6zm-35 14zm8-2zm8 3zm15-4zm3 2zm6 1zm-7 5zm-7 3zm-3-1zm-7 0zm-3 1zm5 5zm3 0zm8-4zm4 1zm5 4zm-15 5zm-4-3zm-4 7zm23 3zm-18 6z"/><path id="g69" d="M612 327zm20 11zm4-1zm19 2zm-1 5zm-11 2zm-9 4zm6 0zm13 0zm-4 6zm-3-2zm-1 2zm-14 4zm13 18z"/><path id="g70" d="M599 303zm8 9zm15 15zm25 4zm-11-1zm-14 4zm31 12zm-25-2zm-17 6zm28 9zm-1 3zm8 6z"/><path id="g71" d="M651 327zm-17 9zm1 16zm4 0z"/><path id="g72" d="M683 260zm-4-1zm-11 4zm5 6zm1-2zm1-3zm4 4zm1-1zm1 0zm9 0zm-6 6zm-4-2zm-7 4zm-3-2zm9 7zm-4 15z"/><path id="g73" d="M689 261zm-10 0zm-1 0zm-13 1zm-4 1zm6 2zm2 4zm9-2zm6 0zm6 2zm-3 5zm-3 0zm-4-1zm-3-3zm-4 1zm0 9zm8 1zm-14 8zm14 0z"/><path id="g74" d="M680 256zm1 7zm-2 0zm-10-4zm-8 2zm15 5zm1 6zm-2 3zm-2-1z"/><path id="g75" d="M671 257zm-19 8zm-3 8zm6 5z"/><path id="g76" d="M681 246zm-1 0zm1 8zm-2 13zm14 8zm-19 8zm13 6z"/><path id="g77" d="M677 244z"/><path id="g78" d="M672 260zm-5 21zm5-2zm1-2zm11 4zm2-5zm2 5zm-9 2zm-2 0zm-17 8zm3 1zm17-3zm2 9zm-2-1zm-6-3zm-4 4zm-24 4zm15-2zm9 5zm0 10zm5-1zm-8 7zm-11 0zm15 6z"/><path id="g79" d="M662 279zm13 1zm8 0zm-5 7zm-3 4zm8 2zm4-2zm-8 7zm-3-3zm0 4zm-4-4zm-5 0zm-2 1zm3 6zm16 8zm-1-2zm0 3zm-33 2zm18 5z"/><path id="g80" d="M681 270zm-1 7zm-1 10zm-5 5zm3-4zm5 5zm-21 7zm18 1zm-7 10zm-3 12zm-2-1zm-17 7z"/><path id="g81" d="M673 257zm6 23zm3-2zm0 12zm2 0zm-27 7z"/><path id="g82" d="M674 278zm4 7zm-16-1zm15 12zm-4 14zm-1 8z"/><path id="g83" d="M676 285zm8 16zm-7 10z"/><path id="g84" d="M450 365zm11-4zm-21 11zm4 2zm22 0zm-8 8zm-9 1zm-3 0zm-9 4zm6-3zm26 5zm-17 3zm-17-2zm-7 0zm0 6zm3 0zm5 3zm3 1zm4-2zm4 3zm2 0zm4 1zm-6 2zm-7 0zm-4 0zm0 3zm-5-5zm-12 10zm6-1zm2 0zm10-2zm0 1zm16-1zm12 7zm-21 1zm-4-2zm-8 0zm-3 0zm-8 2zm12 5zm0 1zm3 1zm5-4zm1 1zm4-1zm8 4zm17 3zm-22 2zm-23 2zm-4 2zm6-1zm11 4zm14 7zm-10-1zm24 18z"/><path id="g85" d="M439 350zm61 0zm-61 25zm14 2zm-2 4zm-8-1zm-2-2zm-12 11zm16-4zm3 1zm23 1zm-19 7zm-3 1zm-12-4zm-6 0zm-7 10zm2-3zm9 1zm3 0zm18 1zm6 3zm-8 1zm-23-1zm13 10zm11 1zm-4 2zm-20 2zm-1-2zm-3 1zm-3 1zm4 6zm7-2zm1 2zm24 0zm2 3zm-5 1zm-15 8zm19 0zm-24 5zm-6 1zm40 11z"/><path id="g86" d="M460 353zm-7 14zm30 14zm-39-3zm-8 2zm-1 5zm18 6zm5 14zm-15-1zm-1-2zm-13 0zm-1 6zm4 0zm11 1zm7 8zm0 2zm-2-1zm-9 0zm-10-4zm6 6zm4 2zm4 3zm26 3zm-27-2zm-2 1zm-8 0zm-7-1zm5 7zm3-1zm8 2zm-6 9zm25 2zm-16 8z"/><path id="g87" d="M458 354zm-17 21zm1 7zm-2 0zm13 6zm-8 4zm-2 3zm-4-3zm-3 0zm-1 2zm-4 0zm-3-2zm29 14zm-20-3zm10 7zm6 2zm-15 6zm7 22zm28 14z"/><path id="g88" d="M464 380zm-37 7zm29 8zm-12 1zm-19 28zm23-2zm9-2zm-15 11zm4 6z"/><path id="g89" d="M441 398zm-10 9zm-5 6zm4 11zm11-1zm-1 13zm5 12z"/><path id="g90" d="M433 406zm13 8zm-14 8zm17-1zm9 3zm-9 4zm-17-2zm4 8zm29 3zm-21 6zm-4-1zm-5 7zm8-5zm4 4zm6 3zm-12 3zm-3-3zm-4 4zm7 3zm8-2zm13 5zm7 0zm12-1z"/><path id="g91" d="M427 417zm0 19zm34-3zm-22 7zm-2 0zm0 2zm2 6zm17 7zm-9 3zm8 6z"/><path id="g92" d="M441 407zm6 12zm-12 10zm-28 8zm34-4zm18 1zm0 3zm4 0zm-24 3zm-8-2zm17 7zm1 20zm14 4zm27 27z"/><path id="g93" d="M439 419zm-3 14zm6 1zm59-1zm-46 16zm2 25zm7 16zm14 2z"/><path id="g94" d="M442 396zm3 35zm-13-3zm-3 3zm17 18z"/><path id="g95" d="M425 430zm13 8zm3 6z"/><path id="g96" d="M537 316zm11 2zm-12 1zm-34 3zm-9 4zm4 2zm5-1zm3-1zm4-1zm1 1zm1 2zm7 1zm3-2zm5-3zm20 8zm-2 0zm-1 1zm-11 0zm-15 0zm-2 1zm0 1zm-2 0zm-1-1zm-2-4zm-6 1zm-32 10zm17-3zm5-1zm0 2zm1 2zm1 0zm9-4zm10 4zm15 0zm5 1zm0 1zm-4 2zm-14-2zm-2-1zm-4 2zm-3 0zm-2 0zm-3 1zm-4-1zm-7-1zm-3 0zm-8 1zm-2-1zm-1-1zm-7 5zm-3 1zm11 4zm5-1zm3-1zm3 1zm1 0zm6 1zm2 1zm8-2zm11 2zm26-1zm22 0zm-29 5zm-6-2zm-30 3zm-1-4zm-13 0zm-5 0zm-5 4zm-4-2zm-12-2zm17 6zm21 3zm23-2zm3 0zm1 0zm15 8zm-12 0zm-25-3zm-5 3zm-12 1zm-39-3zm4 5zm22 1zm4 2zm3-2zm50 1zm-2 8zm-42-1zm21 4zm-69 5z"/><path id="g97" d="M557 311zm-31 0zm-4 5zm8 1zm4-1zm15 5zm-7 2zm-8-4zm-5 3zm-3-3zm-4 4zm-4 0zm-1-4zm-21 8zm3 0zm7 0zm6 0zm10 0zm18-3zm16 6zm-20 1zm-3 0zm-5-1zm0 1zm-9-1zm0 1zm-5 2zm-6-1zm-3 1zm-3-3zm-7 2zm-3 1zm-18 3zm1 5zm2-1zm6 0zm5 0zm3 0zm4 0zm3 1zm1-4zm1 1zm9 1zm3-2zm22 1zm2 3zm-8 2zm-12 1zm0 1zm-9-2zm-8 1zm-2 0zm-5-1zm0 4zm-2-4zm0 1zm-2-1zm-8 3zm0 1zm-2-5zm-7 0zm6 9zm2-3zm5 1zm5-1zm25 5zm8-4zm16 0zm-7 6zm-17 4zm-8-4zm-13 3zm-9-2zm-8 2zm-4 1zm-13-5zm32 8zm18 2zm3 0zm6 7zm-38-1zm-10-3zm-14 3zm-8 1zm-6-2zm10 3zm17 0zm6 1zm17 0zm5 1zm-49 10zm2 2z"/><path id="g98" d="M542 321zm-5-3zm-16 3zm-21 5zm10 3zm1 0zm1-5zm33 7zm-16-1zm-19 2zm0 3zm-23 1zm3 1zm8 1zm1 1zm30-2zm-7 9zm-9-2zm-15-1zm-1 2zm-8 2zm-11-3zm-1 2zm-2-3zm-15 5zm9 0zm11 0zm11 4zm4 0zm6-4zm24 5zm24-1zm-38 4zm-5-2zm-21 3zm-1 4zm17 4zm11-5zm11 2zm3-2zm-21 7zm-4-1zm-19 5zm-7-1zm-27 4zm4 3zm37-4z"/><path id="g99" d="M510 321zm-15 5zm21 1zm3-1zm1 2zm7 6zm-8 0zm-10-3zm-2 3zm-7-1zm-22 6zm2 0zm5-2zm1 3zm1-4zm1 3zm6 1zm1 0zm35-2zm10 9zm-7-1zm-42-1zm-6-1zm-1-1zm-9-1zm1 10zm24-1zm15-3zm-7 6zm-27 0zm-25 3zm-5 3zm10 0zm7 0zm76 4zm-31 7zm-54-2zm-25 35z"/><path id="g100" d="M518 323zm-14 5zm41 4zm-26 3zm-14-1zm0 7zm38-5zm-19 9zm-5 1zm-7-4zm-12 3zm-21 1zm-2 3zm12 2zm8 0zm8 1zm-4 5zm-23-1zm-9 2zm-5-2zm37 7zm4-3zm7 1zm3 7zm-40 17z"/><path id="g101" d="M525 321zm-28 6zm6-1zm10 1zm11-2zm21 8zm-28-3zm-19 3zm-12 7zm7 0zm3-4zm34 7zm-48 8zm7 6zm-34-1zm32 4zm-28 6zm73 11zm-34 29z"/><path id="g102" d="M512 323zm16 12zm-17-5zm-28 9zm3 2zm11-1zm32 5zm-30 1zm-2-1zm-10 1zm-4-2zm-1 2zm-6-1zm-1 0zm-3-1zm-2 3zm-1-2zm0 8zm2-4zm0 3zm10-3zm0 4zm2-3zm3 2zm1 1zm3-3zm5-2zm0 1zm3 0zm2 3zm3-4zm7 2zm11 3zm20 0zm19 0zm13 2zm-48 2zm-15 1zm-2-2zm-5 1zm-1-2zm0 4zm-6 0zm-2 0zm-5-1zm-5-1zm0 2zm-1-2zm-5 2zm-1-2zm-1-2zm-9 3zm-6-2zm-13 7zm2-3zm10 3zm3 2zm7-2zm1-3zm4 5zm6-3zm8 2zm1 1zm6-1zm23-4zm2 5zm1-5zm7 11zm-7-1zm-1-3zm-2 3zm-6-1zm0 2zm-2 0zm-1-3zm-1 2zm-3 1zm-5-1zm-1 1zm-4-4zm-10 4zm-1-4zm-1 0zm-7 0zm-3-1zm-1 1zm0 3zm-2-3zm0 2zm-4-3zm0 3zm-5-1zm-10 1zm-6 7zm5-2zm6 1zm0 1zm7-3zm0 4zm1-3zm1 0zm3-2zm6 4zm1-1zm4-3zm0 3zm3-1zm1 1zm1 2zm1-2zm2-3zm1 2zm1-1zm1 1zm0 2zm1-1zm7 2zm1-4zm3 4zm2-4zm4 0zm1 1zm7 2zm1-1zm1 0zm2-3zm4 0zm8 4zm10-2zm12-1zm-2 10zm-10-3zm-9 1zm-4-1zm-3-1zm-7 1zm-6 0zm-1 0zm-4-2zm-2 1zm-2 1zm0 1zm-2 1zm-1-2zm-1 2zm-2-4zm-4 0zm-1 1zm-3 4zm-6-1zm-2 1zm-4 0zm-2-1zm-6-2zm-3 3zm-4-5zm-4 3zm-3-2zm0 4zm-1 0zm-2 0zm-2-1zm0 1zm-3-3zm-4 1zm-2-1zm-4-1zm-4 6zm2 4zm9-4zm5 3zm11-1zm2-1zm1 0zm6 1zm2-2zm3 3zm7-2zm2-2zm2 4zm5 1zm2-5zm1 2zm4 3zm3-3zm6 0zm2 1zm1 0zm3 0zm2 1zm4 0zm3-4zm2 0zm1 2zm9-2zm5 2zm14 8zm-20-3zm-1 0zm-6-1zm-5 4zm-13 0zm-2-4zm0 1zm-2 2zm0 1zm-1-2zm-5-2zm-2 3zm0 1zm-4 1zm-1 0zm-4-1zm-2-3zm-3 0zm-3 2zm-2 1zm-2 0zm-1-1zm-1 2zm-3 0zm-1-2zm-1 0zm-1 1zm-2-1zm0 1zm-6 0zm-6-2zm-2 3zm-1 0zm-2-5zm0 3zm-2 2zm-7-2zm-15-3zm9 10zm4-1zm3 2zm5-5zm9 0zm0 1zm1 4zm3-2zm2 1zm1-1zm9 0zm4-1zm3 0zm2-2zm5 4zm3-4zm0 3zm4-2zm2-1zm0 3zm1-3zm1 4zm6 1zm2-1zm6-1zm9 2zm1-1zm1 0zm4-3zm31-1zm-50 7zm0 2zm-1-3zm0 2zm-8-1zm-7 1zm-1 2zm-1-3zm0 3zm-7-1zm-3 1zm0 1zm-5-1zm-1 1zm-1-5zm0 5zm-3 0zm-1-2zm-1 1zm-1-4zm-2 2zm-7-2zm-3 4zm-1-3zm0 2zm-3-3zm-6 4zm-2 1zm-2-4zm0 3zm-3 0zm-3-3zm-2 1zm-2 3zm6 5zm2-2zm4 1zm0 1zm13-4zm7 0zm0 2zm0 1zm2-3zm1 5zm3-5zm4 4zm4-2zm3-1zm0 2zm2-2zm0 3zm1-1zm3 0zm3-3zm0 3zm7-1zm6-2zm0 3zm1 1zm1-4zm7 3zm2-2zm0 1zm1 3zm10-3zm2 2zm3-3zm3 0zm-1 9zm-2-4zm-4 0zm-6 3zm-1-2zm0 4zm-9-1zm-1-4zm0 3zm-2-1zm-2-2zm0 5zm-5 0zm-2-1zm-3 1zm-8-2zm0 1zm-2-4zm0 2zm0 2zm-2-3zm-2-1zm-4 2zm0 1zm0 1zm-1-1zm-2 1zm-4-2zm-2 2zm-8-4zm-5 1zm-4 1zm-9 3zm-2-4zm-1 0zm-8 2zm-2-3zm13 8zm2 0zm3 1zm4-3zm4 1zm2 1zm6 1zm0 1zm4-1zm2-3zm0 3zm0 2zm1-2zm1-1zm2 0zm1-1zm2 2zm1-1zm0 2zm1-4zm7 2zm0 1zm2-2zm2 4zm5-1zm0 1zm5-3zm3-2zm0 5zm1 0zm5-5zm1 3zm1-2zm6 1zm6 2zm2-3zm24 2zm3 1zm-15 6zm-1-1zm-16 0zm-3-2zm-8 0zm-1 1zm-4 1zm-1 2zm-3-5zm-3 1zm-4 3zm-7-2zm-6 1zm-1 0zm-3 1zm-4-3zm-11 0zm-5 2zm0 1zm-2 0zm-3-4zm-1 4zm-4 1zm-3-1zm-3 2zm6 1zm8 4zm1 0zm1-3zm6 3zm8-3zm18 2zm3-4zm5 5zm1-2zm0 2zm10-2zm5-3zm32 6zm-33 2zm-5 0zm-1-1zm-4 3zm-6-1zm-2-2zm-3 0zm0 3zm-2 1zm-4-3zm0 3zm-3-4zm0 3zm-1-3zm-2 3zm-4 0zm-4-4zm-4 4zm-2 0zm-11-4zm-3 11zm17-5zm3 0zm0 3zm1-1zm8 0zm7-1zm3 2zm9-3zm12 5zm7-5zm6 5zm12-1zm1 1zm1-3zm7-2zm4 3zm-3 3zm-4 0zm-26 5zm-5-4zm-2 3zm-14-1zm-7 1zm-2-1zm-10-2zm-25 9zm9 0zm3-1zm17-2zm18 2zm7 0zm2-1zm-37 8zm-2 7zm51 13z"/><path id="g103" d="M539 322zm-40 3zm0 7zm44 8zm0 6zm-33 1zm-4-3zm-5 1zm-3 0zm-17-1zm-14 2zm-2 4zm13 1zm7-1zm4-2zm3 0zm1 0zm13 1zm12 3zm3-4zm3 3zm1 0zm4 2zm6-2zm5 4zm-19-1zm-7 5zm-8-4zm-6 1zm-2 3zm-8-3zm-4 1zm-9 1zm-8 0zm-6-4zm-11 4zm-3 0zm0 3zm5 3zm2 0zm2-1zm2 2zm4-4zm2 3zm2-2zm4 3zm5-4zm8 4zm3 0zm3 0zm10-4zm1 2zm3 0zm4 2zm4-3zm3-1zm4 3zm8-3zm3 0zm2 3zm2-2zm6 2zm-4 5zm-3-2zm-6 2zm-3 2zm-8-4zm-4 4zm-1-5zm-4 3zm-5 1zm-1-1zm0 1zm-3-1zm0 1zm-2-1zm-1 2zm-1-3zm0 3zm-6-1zm-8 1zm-1-1zm-10-1zm-5-1zm-2-2zm0 4zm-7-3zm-2-1zm-1 5zm-5-1zm-8 3zm4 3zm10-1zm5-2zm12 4zm3-4zm0 2zm5-2zm3 0zm8-1zm0 2zm10 0zm1 1zm13 1zm3-3zm5 3zm12-1zm11 0zm17-2zm11 1zm-38 6zm-12 0zm-4-2zm0 5zm-4-5zm-12 3zm-2-1zm-5 0zm-1 0zm-1-1zm-1 2zm-1-1zm-2 0zm-1 3zm-1-3zm-1 2zm-1-2zm-2 0zm-2-1zm-4-1zm0 1zm-1 2zm0 2zm-6-4zm-1 4zm-3-5zm-5 5zm-5 0zm-7-4zm-6 4zm-1-4zm-6 1zm-5 4zm14 2zm1-2zm4 0zm6 5zm2-5zm3 1zm11 0zm2 1zm0 1zm6 2zm1 0zm1-3zm2 1zm3 0zm2-3zm0 1zm4 4zm3-4zm5 0zm14 3zm4 1zm4-2zm4 1zm38-4zm-31 9zm-12 1zm-6-2zm-6 1zm-3-1zm0 1zm-2-3zm-4 4zm-4 0zm-4-4zm-6 1zm-1 4zm-3-3zm-5 2zm-1-1zm-6-1zm-1 3zm-3 0zm-1-1zm-6 1zm-7-2zm-1-3zm-4 3zm-1-1zm-4 2zm-5-4zm-1 0zm-1 5zm-1-3zm-6 8zm4-3zm2 1zm5 2zm2-4zm4 5zm13-1zm7-3zm1 0zm1 3zm1-1zm7-2zm2 2zm6-3zm3 3zm5 2zm2-4zm2-1zm6 1zm16 4zm1 0zm5-5zm0 4zm6-1zm23-2zm-2 8zm-10-2zm-20 1zm-7-2zm-7 2zm-2 0zm-3 2zm-1-1zm-1-3zm0 1zm-4 4zm-2-2zm-5 1zm-1-2zm-1 1zm-1-1zm-4-2zm0 2zm-5-1zm-1-1zm0 3zm-2-3zm-6 3zm-1 0zm-3 1zm-14-3zm0 2zm-4 0zm-7 1zm-3-3zm-8 0zm-3 2zm0 4zm6 0zm4 3zm12-3zm0 4zm1-1zm5-3zm11 2zm4-2zm2 2zm3 1zm3-4zm0 2zm0 2zm6-4zm2 4zm10-1zm9 2zm3 0zm32-4zm17 4zm-25 2zm-7-1zm-3 4zm-4-2zm-1 3zm-3 0zm-6-5zm-5 2zm-1 3zm-1-3zm-2 2zm-2-4zm-20 0zm-1 3zm-3-1zm-5-2zm-1 0zm-3 4zm-2-3zm-4 0zm-9 3zm-3 0zm-2-2zm-15-2zm10 11zm9-3zm7 3zm2-2zm2-2zm21-1zm2 3zm7 0zm2 2zm2-1zm11 0zm6-1zm10 0zm1-3zm7 0zm8 2zm10 2zm-16 3zm-11 0zm-1 2zm-9 0zm-1-1zm-13 2zm-4-3zm-4 4zm-7-5zm-3 4zm-1 0zm-2 0zm0 1zm-1-5zm-4 2zm-5 3zm-18-1zm16 2zm6 3zm6-2zm12 4zm2-5zm9 4zm1-3zm25 1zm14 6zm-16-1zm-30 2zm-11-3zm-7 5zm-2 0zm-2-5zm-4 5zm-5-4zm-5 4zm-8 3zm6-1zm19 0zm10 1zm17 2zm5-2zm6-1zm6-1zm16 4zm-48 6zm-9 1zm-28-2zm20 4zm21 1zm0 2zm33-2zm11 0zm-55 11z"/><path id="g104" d="M504 329zm1-1zm9 3zm-3 4zm-10-4zm-4 6zm26 3zm1-2zm-13 9zm-1-1zm-9 1zm-6-2zm-2-1zm-3 3zm-6-2zm-6 1zm-4 1zm-13 1zm10 5zm4-5zm4 2zm1-1zm3-1zm7 1zm10-1zm23 2zm36 2zm-55 5zm-1 1zm-13-2zm-6 0zm-2 3zm-3-3zm-13 1zm-14 6zm7-3zm9 2zm1 3zm1-1zm6-1zm11-3zm1 4zm2 1zm16-1zm11 0zm9-2zm15 5zm-2 0zm-9-1zm-6 1zm-3 4zm-4-2zm-18-3zm-13 4zm-5 0zm-7-3zm-22 4zm-1-4zm17 8zm2 0zm10 0zm4 2zm7-4zm2 3zm1-2zm6 2zm4 1zm3 0zm6-5zm39 11zm-11-5zm-20 1zm-5 2zm-16-1zm-1 2zm-1-3zm-5 4zm-1-2zm-1 0zm-2 0zm-9-1zm0 1zm-2-2zm-13-1zm-5 0zm-7 3zm0 2zm-1-2zm-1-2zm-4 2zm0 2zm-1-1zm-5 0zm-6-1zm16 7zm10-2zm6 3zm3-2zm5 0zm3-3zm0 1zm13 3zm7 1zm10-3zm3-1zm4 3zm3-4zm1 3zm20 2zm-1 5zm-10-2zm-8 3zm-1 0zm-4-4zm0 4zm-10 0zm-1-2zm-2-1zm0 3zm-1-5zm-3 4zm-3-2zm-3 1zm-2 1zm-20-2zm-1 3zm-1-2zm-2-1zm-13-1zm-3-1zm0 1zm-13 1zm-3 0zm-7 4zm4 1zm3 1zm25 1zm4-1zm18 1zm4 0zm2 0zm21-2zm0 3zm1-2zm0 3zm31 0zm16-2zm-46 4zm-5 0zm0 4zm-10-2zm-4-1zm-23 3zm-6 0zm-3-5zm-14 4zm-1 1zm-8-2zm-3-3zm0 7zm2 3zm13-2zm0 1zm3 2zm1 0zm9-4zm2 2zm5-1zm1 0zm13 1zm5 0zm1 0zm5 2zm1 0zm9-5zm2 0zm1 5zm6-1zm-4 2zm-8 5zm-5 0zm-1-2zm-6-1zm-1 0zm-1 1zm-8-1zm-11-2zm-3 4zm-3 0zm-1 1zm-9-2zm-10-3zm1 9zm8 2zm1-5zm9 5zm17-4zm3 1zm14 2zm2-3zm24 4zm5-1zm24 7zm-26-3zm-11-2zm-1 4zm-6-4zm0 4zm-4-4zm-2 0zm-6 2zm-12-1zm-1 2zm-3 0zm-2-1zm-1 1zm-2 2zm-3-3zm-11 2zm-5-3zm0 4zm-2 0zm-1 0zm-3 0zm-14-4zm5 9zm14-2zm44 0zm0 1zm1 0zm9-2zm2 0zm1 0zm6 2zm1 0zm17-2zm3 2zm5-3zm-42 7zm-16 0zm-1 0zm-11 3zm-4-1zm-10 2zm-5-5zm0 1zm-4 3zm-2 3zm3-1zm11 1zm2 0zm38 0zm4 1zm0 1zm21 6zm0 2zm-17-2zm-7 0zm-11-3zm34 8zm-31 4zm-5 4zm-42 6zm20 0zm46-4zm-27 8zm-10-2z"/><path id="g105" d="M495 330zm28 13zm-9 0zm-2 0zm-23 1zm-10 1zm-2 1zm15 4zm0 1zm34 7zm-16 0zm-1-2zm-2 1zm-18-1zm-1 2zm-7-1zm-31 8zm43 0zm9-4zm13 10zm-17 0zm-9 0zm-9-5zm-1 0zm-11 3zm-13 0zm-6 5zm11 3zm9-2zm6 1zm11-4zm3 1zm14 2zm14-2zm4 4zm23 3zm0 3zm-24-4zm-19 3zm-11 1zm-13-5zm-8 4zm-5-2zm-5 0zm-5 1zm-11-3zm-9 7zm3 3zm12 1zm6-3zm10 0zm1-2zm3 5zm2-5zm7 0zm16 1zm4 1zm4 3zm11-5zm3 4zm39 4zm-1-2zm-17 5zm-26-2zm-1-3zm-12 5zm-15-1zm-14-1zm-4-2zm-10 3zm-1-1zm-11 1zm-3 6zm28-1zm3 2zm1-2zm6-2zm7 1zm0 1zm1 0zm1 2zm3-1zm26-3zm0 3zm28 5zm-9 0zm-25-1zm-10-2zm-2 0zm-11 2zm-2 1zm-9 2zm-5-1zm-8-3zm-3 1zm-8-2zm-14 0zm-7 3zm18 6zm14 0zm4 1zm3-1zm41 2zm-13 1zm-9 1zm-12 1zm-12-1zm-5-1zm-19 3zm-11 6zm20-2zm5 0zm2 4zm10-1zm1 0zm8-3zm2 0zm0 2zm3 2zm24 0zm10-5zm34 8zm-12-2zm-43 2zm-13 3zm-48-4zm32 6zm41-1zm0 1zm38 7zm-23 3zm-35-1zm-5-2zm-25 9zm25-3zm44 3zm-78 3zm67 6zm-21 7zm-17-3z"/><path id="g106" d="M521 341zm-5 1zm-22 1zm-8 2zm-8 6zm46 0zm10-2zm-20 10zm-1-4zm-22 4zm-2-1zm-19 1zm-4-2zm-20 5zm30-2zm49 11zm-6-3zm-2 0zm-7 2zm-22-2zm-2 3zm-19-1zm-5-2zm-8 8zm1 1zm8-1zm11-4zm19 0zm30 0zm23 4zm15 5zm-14 0zm-28 1zm-4-4zm-27 0zm-8 1zm0 3zm-8 0zm-37 7zm21 0zm29-4zm5 3zm11-3zm5 1zm-23 4zm0 3zm-27-3zm-12 0zm30 11zm44-3zm15 3zm-22 5zm-4-2zm-55 1zm-3-3zm-16 8zm10 1zm2-2zm37 3zm53 0zm-54 6zm-15-4zm-9 5zm-2 0zm-23 0zm24 3zm1 3zm15 0zm15-1zm7-3zm0 4zm33 0zm10 2zm-23 0zm-1 1zm-16-1zm-36 3zm-8-4zm-12 2zm-4-2zm61 8zm0 2zm8-4zm36 5zm22-5zm-125 9zm-5 3zm46 4zm41 4zm-26 3zm-7 1zm0 4zm5 7zm39 2z"/><path id="g107" d="M506 329zm-23 1zm8 23zm14-3zm20 9zm-9-5zm-55 9zm17 2zm8-1zm1-4zm7 0zm52 7zm-16 1zm-80 8zm1 1zm96-1zm4 5zm-14 1zm-39-4zm-16 1zm-12 0zm-6 2zm-3-2zm15 7zm2 0zm7-1zm4 3zm5-2zm15-2zm22 4zm15 3zm-11 3zm-24-1zm-38-2zm-16 2zm-12-2zm0 9zm10-1zm8-3zm0 5zm6-2zm23-2zm9 0zm50 8zm-50 2zm-31 0zm-17 4zm5-2zm28 3zm11-4zm34 4zm-23 2zm-33 10zm7 13zm77 0zm-57 4zm-4 0zm-7 1zm-28-2zm-17 5zm16 3zm40-2zm25 1zm-54 7zm-16-4zm51 8z"/><path id="g108" d="M519 401zm-27 6zm-57-2zm43 7zm3-2zm48 8zm-29 0zm-58 3zm1 0zm17-1zm24 5zm12-5zm5 3zm7-2zm11 2zm9 6zm-22-1zm-7 2zm0 1zm-11 0zm-1-4zm-4 1zm-5 0zm-1 2zm-48 4zm9 1zm0 2zm5 0zm11-3zm1 2zm7-3zm2 4zm9-4zm5-1zm1 1zm8 1zm6 1zm2 0zm2 2zm2-4zm3 2zm2 0zm3-1zm2-2zm6 5zm1-5zm9 0zm0 1zm45 8zm-23-3zm-15 2zm-10-1zm-6-1zm-1 0zm-5 3zm-1 2zm-5-3zm-7 1zm-1-2zm0 2zm0 2zm-1-4zm-1 0zm-1 3zm-2 1zm-5 0zm-4 0zm-2-5zm-8 4zm-1-4zm-1 5zm-7 0zm-1-2zm-3 1zm-10-1zm-4-3zm-2 2zm1 9zm6-4zm4 0zm0 4zm3-4zm0 2zm6 2zm1 0zm3-3zm4-2zm2 4zm4 0zm6 1zm1-3zm5 2zm5 0zm5-2zm0 2zm4-2zm5 3zm8-1zm0 1zm2-3zm17 3zm34 4zm-21-3zm-3 1zm-5 4zm-12 0zm-3-5zm-2 3zm-4 1zm-1-1zm-6 0zm-5-1zm-7-2zm-2 5zm-2-3zm-12-1zm-4-1zm-4 4zm-3-2zm-3 1zm-4-3zm-2 3zm-6 1zm-2-4zm-1 2zm-4 1zm-3 1zm-5 0zm-1-1zm9 7zm1-3zm1 1zm1 3zm2-3zm1 1zm0 1zm3 0zm2-1zm2 2zm18 0zm3-5zm0 5zm1-2zm3 2zm1-4zm0 1zm4 0zm0 3zm4-1zm1-2zm2-2zm3 4zm2 1zm4-4zm1 3zm4-3zm4 3zm3-2zm4 3zm11 3zm-1 3zm-6-2zm-7-2zm-7 0zm-9 1zm-2 3zm-5-1zm-1-4zm-4 4zm-3 0zm-3 0zm-1 0zm-1-1zm-2 2zm-1-1zm-1-3zm-1 1zm-9-1zm0 1zm0 2zm-6 1zm-6-2zm0 1zm0 1zm-2-4zm-2-1zm-1 0zm-2 5zm-6-3zm0 1zm7 3zm2 4zm2-4zm1 2zm1 1zm3 1zm7-2zm1-2zm2 4zm6 0zm1 1zm3-4zm7 2zm1-2zm0 2zm1 0zm3-1zm1 3zm1-1zm3 1zm1-2zm1-1zm7 3zm4-2zm2 2zm33-1zm8-3zm5 2zm5-1zm-13 8zm-14-4zm-17 3zm-6 1zm-9-3zm-1 3zm-4-3zm-2-1zm-2 2zm-2 1zm-5-1zm-7-1zm-2 3zm-6 0zm0 1zm-10-1zm-1-3zm-2 0zm-1 1zm-1 0zm-2-2zm-3 5zm-2-2zm11 7zm4-4zm2 1zm2 4zm2-4zm1 1zm3 1zm2-3zm4 2zm1-2zm1 4zm1-3zm2 1zm8 1zm1 0zm3-1zm6 1zm5-3zm2 5zm1-3zm3 1zm5 1zm6-1zm4-2zm3 2zm11 0zm12 5zm-31 2zm-4-3zm-2 0zm0 1zm-1 2zm-4-4zm-3 4zm-2-1zm-3-2zm-2 1zm-3 1zm-12 0zm-2 1zm-2-3zm-3 4zm-2-1zm-3-3zm-7 1zm4 6zm7-1zm1-1zm3 3zm2-3zm0 4zm3-3zm8 2zm3-1zm7 1zm2 1zm3-3zm8 3zm4 0zm5-2zm3 3zm1-5zm12 1zm-19 8zm-1 2zm-5-3zm-7-1zm-8 3zm-3-3zm0 2zm-5 2zm-4-3zm-3 1zm-3-3zm0 4zm-1-3zm-2-1zm0 1zm-1 4zm5 1zm1 1zm9 3zm2-3zm6 3zm1-3zm4 3zm5 1zm10 0zm10-1zm5-1zm-5 4zm-5 1zm0 2zm-8-3zm-2 3zm-3 0zm-14-3zm23 5zm11 5zm30 1zm-9 2z"/><path id="g109" d="M511 393zm15 7zm-42 5zm-30 6zm28-2zm6 4zm-2 1zm-8 0zm-1 5zm-10-3zm-36 3zm4 3zm29-2zm7 5zm39-4zm33 4zm-17 6zm-5-1zm-54-2zm-3-1zm-19 3zm-19 0zm25 5zm5 2zm1-1zm2 1zm25-5zm6 0zm9 1zm10 3zm5 0zm5-4zm0 3zm27 0zm-9 5zm-24 3zm-7-3zm-19-2zm0 5zm-2-2zm-5-1zm0 3zm-8-2zm-1-2zm-14-1zm-5 2zm15 7zm4 2zm2-3zm11-1zm1 3zm3-4zm3 5zm3-4zm6 4zm10-5zm0 4zm4-3zm3-1zm7 3zm2 8zm-5-2zm-1 1zm-8-4zm-2 1zm-10 1zm-1 1zm-5 2zm-8-4zm0 3zm-1-4zm-1 2zm0 3zm-13 0zm-1-3zm-2 3zm-1-4zm-2 1zm-2 3zm-1 0zm-1-3zm-1 1zm-1-1zm-4 3zm-6-5zm-2 9zm4 0zm4-2zm0 1zm8-2zm6 1zm7 3zm5 1zm1-5zm4 3zm2 2zm8-5zm1 1zm0 3zm1-4zm4 1zm36 1zm7 3zm-19 3zm-4 1zm-6-1zm0 1zm-4 1zm-12-3zm-5-1zm-2 3zm-7 1zm-3-2zm-16-1zm-9 4zm-5-3zm-6 6zm3 2zm4-2zm12 3zm4-5zm1 5zm13-3zm8 3zm3-5zm1 0zm2 3zm1 0zm2-3zm2 1zm1 3zm2-2zm23 3zm1-3zm8 3zm9 4zm-17-3zm-3 1zm-6 0zm-5 1zm-5 2zm-1-3zm-4 4zm-1-2zm-2-2zm0 4zm-3-4zm0 3zm-5-1zm-2-2zm-1 0zm-5 3zm-9 1zm-11 0zm-7-3zm7 5zm1 1zm2-1zm1-1zm0 4zm6 1zm7-1zm2 0zm1 1zm5-4zm1 1zm1-2zm2 1zm1 0zm2-1zm1 5zm4-3zm7 3zm4-2zm0 1zm6 0zm37 1zm-9 1zm-17 5zm-7-4zm-6 4zm-1-2zm0 1zm-4-3zm-1 2zm-3-2zm0 3zm-3 0zm-1-4zm-1 2zm0 2zm-8 0zm-4-4zm-5 1zm-1 0zm-12 2zm-8-3zm1 6zm10 3zm7 1zm8-4zm3 5zm1-5zm3 0zm1 2zm2-1zm2-1zm6 5zm1-2zm4-2zm2 0zm1 1zm0 1zm10-1zm1-1zm3 0zm15 6zm-2 3zm-21 1zm-2-2zm-4-1zm-12-1zm-10-1zm-3 0zm-13 0zm11 6zm11 2zm2-2zm6 2zm3-2zm2 3zm6-1zm1 1zm7 0zm5 2zm9-3zm4 0zm1-2zm-8 10zm-12-2zm0 1zm-5-2zm-1 0zm-3 3zm-8-1z"/><path id="g110" d="M500 407zm-35 6zm8-3zm40 0zm3 0zm-46 6zm-23 3zm-6 4zm24-1zm6-2zm1 1zm90 2zm-32 3zm-32 1zm-2-1zm-7 4zm-19-3zm-25 10zm19-1zm5-2zm13 2zm16 1zm1-2zm2 2zm8-5zm2 1zm0 3zm10 1zm-18 1zm-3 1zm-20 3zm-4-3zm-21 2zm-8-2zm12 5zm6 0zm1 2zm7-1zm3 1zm1-2zm18 0zm0 5zm1-3zm4 2zm2-2zm24 3zm10-1zm8 4zm-35-1zm-18 4zm-7-3zm-1 0zm0 3zm-13-5zm-7 1zm-4 2zm-3 0zm-4-2zm-2 0zm-2 3zm-4-2zm8 4zm2 1zm4 3zm1 0zm11 1zm4-3zm3 3zm1-4zm0 1zm0 1zm16 0zm5 1zm3-1zm1 0zm1 1zm2-1zm12 0zm3 2zm4-2zm14 3zm0 3zm-2 0zm-4 1zm-7-4zm-14 5zm-1-2zm-10-2zm-1 0zm-7 3zm-1 0zm-2-1zm-16-3zm0 5zm-2-3zm0 3zm-5-5zm-5 3zm-3 0zm-4-3zm-3 5zm7 2zm9-1zm10 4zm3-3zm0 4zm5-1zm1-4zm0 3zm5-3zm1 5zm5 0zm3-2zm1 0zm7 0zm0 2zm10-2zm7 2zm8-4zm9 4zm11 0zm-16 2zm-13-1zm-13 5zm-4-3zm-2-2zm-1 0zm-5 2zm-1 1zm-3 1zm-8-4zm0 2zm-2-1zm0 1zm-3 2zm-4-3zm-4 1zm-2 1zm-3-1zm-11-2zm9 6zm0 4zm8-2zm2 0zm2 1zm21-2zm3 0zm0 3zm7-2zm2-2zm1 3zm5-1zm25 4zm-26 1zm-2 1zm-6 3zm-1-1zm-5-4zm-5 5zm-8-3zm-1 2zm-1-1zm-5 0zm-7 0zm-1-1zm14 7zm4 1zm6 0zm1-2zm3 0zm1 0zm10 3zm4 0zm8-1zm2 1zm4 1zm-3 1zm-12 3zm-6-4zm-4 0zm-5 1zm0 4zm-9-2zm-1-2zm-3 1zm-9-2zm9 7zm11-1zm40 3zm22-1zm-31 7zm-8-1zm-5 2zm-7-3zm-9-1zm30 9zm11 1zm-16 3z"/><path id="g111" d="M511 406zm-69 18zm33-3zm4 1zm9 3zm32-2zm-34 5zm-50 3zm16 3zm17-1zm7 4zm9-4zm38 4zm-49 5zm-7-1zm-7-1zm-8 9zm8 0zm15-5zm11 3zm19 2zm15-4zm1-1zm16 0zm7 8zm-4 2zm-34 0zm-2-2zm-5 1zm-22-1zm-4-2zm-24 4zm-2-3zm12 6zm3 1zm2-1zm12 4zm29-5zm2 4zm1-1zm0 2zm12-1zm8-4zm-9 10zm-4-4zm-4 3zm-18 0zm-31 2zm-2-1zm-8 5zm9 0zm2-3zm3 5zm3 0zm3-2zm13-3zm8 4zm8 1zm6-3zm40 1zm-3 4zm-32 0zm-5 3zm-13-3zm-2-1zm-1 1zm-8 4zm-17-5zm-3 5zm12 3zm1-2zm6 0zm0 2zm0 3zm5-3zm0 3zm9-2zm31-3zm14 7zm-21 3zm-9 1zm-11-2zm-4-2zm-1-1zm-5 2zm-32 0zm20 9zm10-4zm5 0zm5 4zm2-3zm1-1zm1 0zm3-1zm11 2zm20 0zm2-1zm-15 7zm0 3zm-17-1zm0 1zm-6-5zm14 7zm26 5zm-12 5zm-5-1z"/><path id="g112" d="M465 401zm14 17zm-2 0zm-32-1zm3 4zm37 3zm-13 8zm48 5zm25 6zm-12-2zm-16-3zm-2 4zm-7-1zm-22-1zm-16 3zm-15-2zm-8 7zm74-2zm15-1zm16 5zm-39 3zm-8 1zm-24 1zm-13 1zm28 3zm57-3zm-15 7zm-26 1zm-4 3zm-4-5zm-21 1zm-14 5zm22 0zm21 3zm41 5zm-27 1zm-18-1zm0 2zm-8-3zm-14 0zm-15 2zm-1-1zm-11-2zm5 11zm19-5zm2 3zm14 0zm3-2zm1-1zm10 4zm1-1zm7 1zm25-1zm-21 8zm-9-2zm-15-2zm-3 0zm7 8zm16 8zm-5 0zm-2-1zm-8-1zm-14-2zm19 7zm20 8zm-2-1zm-3 0zm-14-2zm28 6zm7-1zm4 8z"/><path id="g113" d="M461 409zm13 4zm76 6zm-65 4zm41 7zm-70 3zm46 9zm-6-2zm-24-2zm-5 0zm74 10zm-19 7zm-53-2zm-8 2zm-16 3zm26-2zm40 3zm1 0zm13 6zm-10 0zm-25-1zm-31 9zm40-5zm0 2zm6 1zm17-2zm-9 5zm-20 0zm-3 3zm-1 2zm4 3zm15 4zm-22 1zm38 10zm1-2zm15 5zm-39 0zm0 3zm-17-5zm18 11zm16-3zm-2 9zm-10-2zm46 6zm-31 8z"/><path id="g114" d="M588 310zm-48 2zm9 5zm2-4zm15-1zm11 3zm2 2zm3-1zm16 7zm-4 0zm-12-4zm-4 4zm-2-5zm-2 3zm-11-3zm-1 3zm-3 1zm-3-4zm0 1zm-1 2zm-6-3zm-7 4zm-13-2zm-1 0zm-3 0zm-2 1zm-2-3zm-1 0zm-14 8zm23 0zm8-2zm0 1zm5 4zm3-5zm1 0zm3 3zm8-1zm6 3zm6-2zm4-3zm1 3zm1-3zm1 4zm2-2zm1 2zm3-3zm1 2zm9-2zm5 0zm7 4zm9 5zm-7 0zm-1-3zm-13 1zm-2 0zm-1 3zm-10-3zm0 3zm-2-5zm-1 1zm0 3zm-1-4zm0 3zm-1-2zm-8 4zm-1-5zm-1 0zm-3 3zm-10-3zm-15 5zm-4-3zm-2 1zm-9 0zm-4-1zm-1-1zm-24 2zm-3-2zm2 9zm28 0zm17 1zm1-3zm4 2zm5 0zm1 1zm6-1zm1 0zm6-1zm4-3zm0 3zm1-3zm0 3zm7-3zm1 5zm8 0zm2 0zm1-3zm1-1zm0 3zm10-1zm5-2zm1 0zm8 1zm3 1zm-8 3zm0 3zm-3-1zm-8-2zm-4 3zm-3-2zm-11 3zm-2 0zm-2-2zm0 1zm-11 2zm-10 0zm-24-5zm-3 5zm-2-2zm-13-1zm7 7zm23 1zm6-4zm5 3zm7 2zm1-3zm3 3zm2-5zm3 0zm1 0zm8 0zm12 5zm2-1zm2-1zm6-3zm19 5zm2-1zm5 0zm3 1zm3 4zm-9-2zm-4 1zm-6-2zm-1 4zm-4-2zm-7 1zm-8 1zm-4 1zm-1-4zm-6-1zm-21 1zm-9 4zm-11-3zm5 5zm18-1zm7 4zm4-3zm1 2zm2 2zm5-4zm6-1zm6 2zm-32 6zm-7 5zm17 1zm26 0zm28-2zm-29 9zm-27-3zm-11 3zm-14 4zm31 1zm19-1zm-20 8zm-7 14z"/><path id="g115" d="M560 316zm2-3zm4 4zm24 5zm-2 0zm-13 0zm-1-3zm-2 4zm-3 0zm-1-5zm-3 1zm-1 0zm-6-1zm-2 5zm-6-4zm-1 1zm0 1zm-5 0zm-9-2zm-2 3zm-16-1zm8 6zm8 2zm2-2zm2 0zm2 2zm3-5zm4 1zm8 1zm2 3zm6-3zm8-2zm2 3zm2 2zm7-2zm3 1zm4 0zm1 1zm1-3zm3 2zm3 0zm17 1zm-4 4zm-1 1zm-5-3zm-1 0zm-3 3zm0 1zm-2-2zm0 1zm-3 1zm-1-4zm-5 3zm-3-2zm0 2zm-1 0zm-3-3zm-5-1zm0 2zm-5 2zm-3-3zm-3 2zm-1 2zm-1-4zm-1 1zm-8 2zm-3 1zm-1-4zm-9 0zm-1 1zm-2 2zm-10 1zm-2-1zm-26 3zm18 4zm1 0zm10-1zm2 0zm4 1zm3-1zm22-2zm4 0zm4-2zm0 1zm8-1zm0 1zm4 1zm4 1zm4-1zm1-2zm1 1zm2-1zm1 2zm4 2zm3-1zm12-1zm2-2zm13 10zm-12-2zm-2 3zm-2-2zm-14-1zm-7 2zm-28-4zm-16 5zm-4-3zm0 2zm-7-2zm-8 1zm-17-2zm-4 7zm14 3zm14-3zm1 1zm11-2zm3-1zm1 0zm5 1zm2 1zm3-2zm23 4zm4 1zm33-3zm7 8zm-21-4zm-1 0zm-9 1zm-4-1zm-6 4zm-29 0zm-1 1zm-1-1zm-6 0zm-4-4zm4 9zm13 0zm14-3zm1 3zm9 2zm21-5zm1 0zm1 5zm11-2zm-18 8zm-45 0zm-4 0zm-2-3zm-1-2zm0 4zm-35-2zm16 9zm32-4zm1 2zm14-2zm44 7zm-76 2zm-13 10z"/><path id="g116" d="M550 316zm3-2zm6 1zm11 2zm9 1zm-16 2zm-4-2zm-11 3zm-7-2zm-4 3zm-7-3zm8 7zm1 3zm4-2zm13 2zm6-4zm1 1zm1 2zm12-2zm2 1zm3 2zm8-2zm5 2zm1-5zm8 9zm-3-3zm-2 0zm-7 1zm-5 0zm-4 2zm0 1zm-13-4zm0 1zm-1 1zm-5 1zm-8 0zm-5-1zm-5 0zm-15 5zm5 0zm14 4zm10-5zm0 1zm7 2zm4 0zm8 0zm6-1zm9 1zm11 5zm-4 0zm-7 0zm-11 0zm-1 0zm0 3zm-8-3zm-2-1zm-3 2zm-3-2zm0 2zm-9-1zm-18-1zm-9 4zm-20-5zm-23 7zm20-1zm10 3zm47 0zm6 1zm9-4zm25 4zm2 1zm3-4zm4 4zm1 4zm-9 2zm-9 0zm-7-2zm-6 1zm-28-1zm-69-2zm20 10zm13-4zm32-1zm19 4zm21-2zm8 2zm2-1zm29-2zm-43 10zm-15-5zm-7 5zm-11 0zm-6-4zm39 7zm12 5z"/><path id="g117" d="M529 313zm39 2zm-6 3zm0 1zm0 2zm-5-3zm-30 1zm-20 6zm37 0zm5 3zm28-4zm23 8zm-4 2zm-39-1zm-3 2zm-16-2zm-2-3zm-15 4zm8 4zm3 2zm21 0zm6 0zm8 1zm20-3zm2 3zm29-1zm-16 4zm-39 3zm-32 0zm-12-5zm-11 1zm24 7zm83 2zm10 1zm-24 2zm-28 3zm-13-4zm-72 10zm25 0zm42 0zm25-4zm15 0zm-18 11zm-35-3zm-11 1zm-7 0zm18 12z"/><path id="g118" d="M530 311zm40 1zm13 9zm-19 1zm-8-1zm-4 2zm-8-5zm-23 9zm2-3zm8 3zm26 1zm4 0zm37 6zm-13-3zm-9 4zm-7-4zm-1 4zm-1-2zm-6 0zm-5 2zm-10-1zm-14-3zm-2 1zm-14 1zm8 6zm7 1zm12 0zm36-4zm34 6zm-3 5zm-12-3zm-4-2zm-31 1zm-26 1zm4 4zm3 2zm2 2zm8-2zm24-2zm25 2zm-11 8zm0 1zm-7-5zm-35 1zm-4 3zm86 2zm-58 11zm-3 6zm-27 4z"/><path id="g119" d="M538 315zm38 7zm-25-4zm-21 1zm45 8zm16 0zm12 3zm-28 1zm-12 3zm-3-3zm-45 5zm14 1zm27 0zm47 3zm-46 4zm-43 7zm4 0zm37-3zm23 0zm4 1zm14-1zm4 2zm-58 14zm21-1zm22 12z"/><path id="g120" d="M545 321zm-5 6zm12 0zm25 0zm2 1zm14-1zm12 4zm-8 2zm-46-3zm-22 2zm11 5zm13 4zm15-1zm35-3zm6-1zm7 8zm-15 3zm-4-5zm-10 3zm-4-2zm-9 0zm-12 4zm-37-1zm-8 0zm-1 1zm-6-4zm9 9zm6-1zm11 0zm16-3zm3 4zm0 1zm3-5zm1 2zm7-1zm3-1zm2 2zm1 0zm6 2zm3 1zm9-5zm4 4zm5 0zm4-1zm9 0zm8-1zm2 4zm-1 3zm-18 2zm-8-4zm-10 1zm-3 1zm-1-2zm0 3zm-1-1zm-1-2zm-2 0zm-5 0zm-1 0zm0 1zm-2-2zm-1 3zm-6-2zm0 3zm-3-3zm0 3zm-2 0zm-2-3zm-1 0zm0 1zm-4 1zm-6-3zm-1 5zm-9-4zm-3 1zm-5-2zm-1 2zm-2 2zm-7-3zm-5 1zm-4 5zm10 0zm1-1zm9 1zm4 1zm0 1zm2-3zm4 1zm2 1zm5-1zm11 4zm10-2zm6-3zm0 5zm2-1zm3 0zm0 1zm12-3zm7 0zm2-2zm0 2zm3 1zm3-1zm0 3zm4 0zm1-2zm3-1zm0 1zm2-1zm1-1zm1 6zm-1 0zm-5 0zm-7 0zm-2 2zm-4 0zm-9 1zm-1 1zm-3-5zm-4 3zm-2 1zm-1-1zm-4-3zm0 1zm-1 0zm-1 3zm-1 1zm-1 0zm-6-4zm-6 2zm-7-2zm-2 2zm-5 0zm-1-2zm-7-1zm-1 0zm-4 2zm0 1zm-10 0zm-4 0zm-5-1zm-12 1zm22 7zm5-4zm0 4zm4-4zm2 4zm4-2zm5 1zm3 2zm1-2zm4 0zm2-1zm5-1zm1 4zm2-4zm0 3zm1 1zm4-4zm2 2zm2 1zm3-1zm1 1zm3 0zm1 1zm2-5zm4 3zm1-2zm14 4zm2-1zm6 1zm6-5zm3 2zm4 2zm1-3zm7 6zm-14-1zm-5 2zm-5-2zm-1 4zm0 1zm-1-4zm-2-1zm-4 5zm-1-3zm-9 1zm-3-2zm-3 1zm-3-1zm0 1zm-2 0zm0 1zm-14 0zm-1 2zm-1-1zm-8-4zm-7 2zm-4-2zm-3 4zm-1 1zm-7-1zm-5-4zm-1 2zm-17 2zm13 6zm5-4zm6 1zm3-1zm13 3zm2 2zm4 0zm1-4zm2 3zm2-1zm1-3zm8 2zm3-2zm0 5zm1 0zm1-2zm1 0zm1-1zm1-1zm3 0zm2-1zm8 1zm2 1zm0 2zm2-3zm2-1zm7 4zm7-4zm3 4zm0 1zm15 3zm-28-1zm0 3zm-3-1zm-2-3zm-1 0zm-5 4zm-5 0zm-2 0zm-4-2zm0 3zm-1-5zm0 2zm-4-1zm-4 1zm-2 3zm-3-3zm-2-2zm0 2zm0 1zm-9-2zm-2 2zm-8-3zm-6 3zm0 1zm-14-1zm-1-1zm5 7zm12 1zm2-4zm7 3zm9-1zm2 1zm1-2zm0 4zm7-1zm7-4zm10 3zm1-2zm3 1zm0 1zm12-3zm2 2zm2 0zm2 2zm0 1zm1-2zm2 1zm1-2zm2-2zm2 1zm1 1zm1 2zm3-3zm4 3zm2-4zm24 9zm-12-2zm-6 4zm-15-4zm-2 2zm0 2zm-3-1zm-2-4zm-3 5zm-1 0zm-5-3zm0 3zm-4-5zm0 4zm-2-4zm0 3zm-2 1zm-1-2zm-2 3zm-1-3zm-1-1zm-3-1zm-1 0zm-4 4zm-1-2zm-2-1zm-1-1zm-2 3zm-6-2zm-1-1zm-1 2zm-2 0zm-4 0zm-4-1zm-14-1zm-4 5zm-2-4zm-6 3zm-8-3zm-2 3zm-17 2zm29 3zm9 0zm14-3zm3 4zm1-4zm0 4zm2-4zm3 2zm7 1zm1 2zm2-5zm3 1zm1 2zm2 1zm3-1zm0 1zm6-3zm3 3zm0 1zm6-4zm3 0zm1 3zm1 1zm3-1zm5 1zm7-4zm2 0zm2 1zm7 0zm6 8zm-15 0zm-4-1zm-5-2zm-1 4zm-1 0zm-10-5zm-5 2zm-6 0zm-2-2zm-5 0zm-3 1zm-10 4zm-3-3zm-11 2zm-2-1zm-8-3zm-3 4zm-8-3zm-11 0zm-15 9zm15-2zm9-2zm7 3zm3 0zm2-3zm6 3zm1-2zm1 1zm3 1zm1-2zm2-1zm4 4zm0 1zm1-3zm1 0zm6 0zm8 3zm1-3zm2-2zm17 1zm1 2zm4 1zm1-2zm8 2zm15-4zm2 0zm2 2zm16 7zm-14-3zm-18 4zm-10-4zm-1 0zm-5 2zm-3 1zm-2 2zm-1-4zm-1 1zm-9 0zm-3-2zm-5 0zm-1 4zm-1-3zm-9 0zm-2 2zm-8-1zm-1 0zm-5 2zm-24-1zm-6 0zm-2 1zm-4 0zm18 3zm9 3zm5-4zm7 1zm4 2zm0 1zm6-3zm7 4zm12-2zm3 1zm1-2zm1-1zm1-1zm1 2zm6 0zm6-2zm7 2zm16 2zm1 0zm3-3zm7 4zm1 0zm4-5zm-8 9zm-5 1zm-2-3zm0 3zm-8-2zm-15 2zm-4-1zm-8-2zm-20 0zm-3 4zm-23-5zm-1 2zm-6 3zm-2-3zm-12 0zm-4 0zm13 5zm16 3zm4-2zm8 1zm2 0zm1-2zm0 3zm4-4zm3 0zm2 0zm5 0zm1 0zm2 1zm3-1zm17 0zm19 10zm-4-4zm-5 3zm-3-2zm-13 0zm-12 2zm-1-3zm-18 2zm-3-1zm-2-1zm-16 5zm-24 3zm12-2zm21 4zm16-3zm0 1zm17-1zm7-1zm3 0zm4 3zm2 8zm-35-3zm-27-1zm-24 10zm94-2z"/><path id="g121" d="M569 317zm6 4zm-22 5zm28 1zm-39 4zm-36-1zm-10 8zm29 1zm1 1zm29-1zm2-3zm0 3zm17-3zm21 1zm11-1zm-11 11zm-8-4zm-10 1zm-22-1zm-2 1zm-14 3zm0 4zm22-2zm9 4zm15-2zm0 2zm2 0zm7-5zm5 5zm8-3zm15 6zm-19 1zm-3-3zm-3 3zm-1-1zm-4 2zm-4 0zm-8-3zm0 3zm-3-4zm-3 1zm-14 0zm-7 3zm-5-1zm-7 0zm-10 0zm-10 2zm-4-1zm-11 0zm-2-4zm0 1zm-1 1zm11 5zm3 1zm2 0zm4 1zm19 0zm11 2zm8-3zm2 1zm4 2zm1-2zm1 0zm1-3zm7 0zm3 3zm1-1zm2-1zm0 1zm1-2zm13 1zm30 2zm-13 3zm-1 1zm-7-1zm-8 3zm-1-1zm-4 2zm-9-2zm0 3zm-13-2zm-1 2zm-7-2zm-2 1zm-2-1zm-8-1zm-11 1zm-9 1zm-2-4zm-2 5zm-2-3zm-14 3zm-10-4zm-2 1zm16 9zm9-5zm1 2zm6-2zm3 2zm3 0zm1 2zm1-3zm11 3zm4-2zm1 3zm3-3zm2 2zm2-4zm0 5zm6-2zm1 0zm2-1zm1-2zm0 5zm7-2zm1 0zm22 2zm1-2zm1 1zm5 1zm13 3zm-10-1zm-1 4zm-1-5zm-4 2zm0 3zm-2-2zm-19 1zm-2 1zm-1-5zm-3 2zm0 3zm-9-4zm0 3zm-8 0zm-4-2zm-3-2zm0 3zm-2 2zm-1-5zm-17 2zm-5 3zm-8-5zm-1 3zm-1 1zm-23-4zm-8 0zm32 7zm2 2zm3-3zm9 0zm0 3zm4 2zm7-3zm12 3zm5-2zm1-1zm5 3zm1-2zm4 2zm3-1zm5-4zm6 4zm3-3zm5 2zm1-3zm4 3zm18 0zm0 1zm8-2zm5 9zm-1-3zm-5 3zm-5-2zm-3-2zm-2 4zm-2-3zm-2 2zm-12 0zm-1 0zm-6 1zm-2-4zm-2 3zm-13-3zm-1 0zm-4 1zm-4-1zm-2 1zm-5 0zm-13 3zm-2-5zm-4 4zm-1-3zm-8 4zm-2-3zm-8-1zm-4 3zm-4-3zm-2 2zm-3 6zm6-2zm9 1zm8-1zm7 0zm0 3zm5 0zm4 0zm2-3zm0 3zm10-2zm1 2zm0 1zm4 0zm2-4zm0 4zm1-1zm1-1zm1-1zm0 2zm2-3zm7 0zm4-1zm1 4zm7-2zm1 0zm4-2zm6 0zm2 5zm11-5zm2 0zm19 2zm-17 4zm-8 3zm-2 2zm-3-2zm-4-3zm0 3zm-13 1zm-2-2zm-2-2zm-12 5zm-3-4zm-1 2zm-3 0zm0 2zm-1-2zm-1-1zm-4-2zm-2 5zm-1-2zm-5 2zm-7 0zm-12-1zm-6-4zm0 2zm-46-2zm30 8zm6-2zm5 0zm0 2zm4-1zm6 4zm2-4zm4 3zm1-2zm1 3zm4-3zm6-1zm9-1zm0 2zm1-2zm3 3zm13 0zm1-1zm1-2zm0 1zm3 0zm7 4zm1-5zm2 5zm2-2zm2-1zm2-1zm8 1zm4 1zm5 1zm16-4zm14 0zm-21 7zm-20-1zm-1 2zm-2-2zm-3 3zm-4-3zm-5 1zm0 3zm-1-2zm0 3zm-10-5zm-3 1zm-3 4zm-7-5zm-5 5zm-6-1zm-2-4zm-2 1zm-1 3zm-4-3zm-6 3zm-6 1zm-4-3zm-34 2zm38 3zm12-1zm0 2zm8 3zm2-4zm2-1zm4 1zm2 4zm1-5zm0 1zm2 0zm2 1zm4-2zm2 4zm2-4zm2 0zm2 4zm7-2zm1 3zm1-4zm4 4zm46-4zm-3 6zm-9 3zm-2-4zm-22 5zm-7 0zm-1 0zm-10-4zm-3 0zm0 1zm-7-1zm-8 1zm-6 3zm-3-4zm-9 2zm-7-1zm-10 0zm-3 3zm-1-4zm-6 2zm0 1zm-7-2zm-3 3zm-4-5zm7 6zm2 1zm7 0zm29 3zm8 0zm8-4zm2 1zm11 4zm11-2zm4 1zm3 1zm4-5zm24 4zm-20 3zm-11 1zm-1-2zm-10 4zm-16 0zm-3 0zm-12 0zm-15 6zm25-4zm3 4zm1-2zm4 3zm9 0zm3 0zm3-2zm40-2zm4 3zm8-2zm-36 9zm-50-5zm-17 5zm16 2zm64-1zm16 5zm-104 3zm16 5zm-31 15zm24-4z"/><path id="g122" d="M542 326zm59 2zm2 7zm-58-4zm-17 2zm0 5zm29 3zm9-3zm4 2zm16 1zm2-2zm23-3zm1 4zm13 2zm-16 0zm-3 3zm-2 2zm-2 0zm-24 0zm-41-4zm-5 1zm-29 8zm2-3zm6 1zm7 0zm16-2zm2 5zm14-4zm3 4zm8 0zm3-3zm13 0zm12 1zm23 8zm-5-4zm-1 4zm-4-2zm-1-3zm-10 4zm-3 0zm-17-4zm-13 1zm-2 0zm-6 3zm-10 1zm-6-5zm0 2zm-15-2zm-21 11zm13-3zm5 1zm15-2zm4 4zm14-5zm3 3zm6-3zm3 4zm5-4zm8 5zm15-1zm10 1zm2-1zm5-3zm18 7zm-2 1zm-12-3zm-6 3zm-5-3zm-8 1zm-8-1zm-4 1zm-1 4zm-6-5zm-1 2zm-2-1zm-6 1zm-4 3zm-2-2zm-6-2zm-5 3zm-7 0zm-1-1zm-4 1zm-3-4zm-8 4zm20 3zm6 0zm3-1zm5 2zm1-2zm1 5zm8-4zm2 4zm1-4zm2 0zm0 3zm2 0zm6 1zm10-2zm3-1zm15-1zm2 0zm-3 10zm-1-5zm0 3zm-16-2zm-2 0zm-10 4zm-1-4zm0 3zm-9-4zm-1 1zm-10 1zm-6 2zm-2 0zm-5-4zm-12 5zm-37 0zm-21-3zm34 8zm3-4zm20 2zm0 3zm16 0zm7-2zm2-3zm6 3zm2 2zm28-2zm5-3zm2 1zm9 2zm3 1zm22-1zm8 4zm-18 3zm-9-3zm-11 3zm-10 0zm-1-3zm-5 4zm-5-2zm-6-2zm0 2zm0 2zm-2 0zm-2-3zm-8-1zm-1 0zm-1 4zm-15-3zm-10-2zm-4 2zm-4-2zm-3 2zm-11-2zm-5 9zm0 2zm8-3zm24-1zm10 2zm11 0zm2 0zm13 1zm1-2zm1 0zm0 3zm1-3zm1-1zm1 4zm7-2zm4-3zm3 2zm8-1zm8-1zm18 1zm-11 9zm-5-1zm-5 1zm-16-3zm-9 1zm-7 0zm-2 1zm-1-1zm-3-1zm-6 4zm-3-1zm-5 1zm-3-2zm-1 0zm-5-3zm-1 1zm-4 0zm-1 0zm-2 0zm-5 1zm-6 2zm-14 1zm1 1zm10 1zm28-1zm1 2zm11 0zm8 3zm6-2zm3 0zm0 1zm2-2zm2 3zm2-4zm1 2zm3-1zm7-2zm7 1zm21 2zm-27 8zm-3-4zm-15 1zm-7 0zm-2 1zm-5 2zm-1-2zm-24 1zm-1-3zm-12 3zm-1-4zm-4 5zm-17-4zm1 9zm8-1zm13-1zm4-1zm1-1zm2 1zm7 2zm4 1zm2-3zm10-1zm15 3zm5-2zm0 3zm36-1zm5 2zm3-3zm-17 4zm-23 1zm-2-1zm-3 0zm0 4zm-2-2zm-6 3zm-4-4zm-6-1zm-11 3zm-3-2zm-13 0zm-5-1zm-18 1zm-8 6zm22 3zm16-3zm9 0zm0 1zm16-1zm7 1zm9 3zm9-5zm4 5zm6-3zm2-2zm-39 11zm-8-4zm-15 1zm-8 0zm-1 5zm0 3zm14-4zm17 2zm6-1zm5 0zm4 2zm6 0zm6-1zm38-1zm-18 8zm-38-3zm-2 5zm-21 0zm-23 0zm31 6zm28 0zm27 2zm0 1zm-55 18z"/><path id="g123" d="M577 327zm9 5zm-67 9zm16-3zm1-2zm10 2zm13-1zm40 4zm15-3zm-35 4zm-8 1zm-17-1zm-15 3zm-12 2zm-4 0zm-14-2zm21 3zm25 0zm12 5zm21-1zm29 1zm-3 1zm-1 0zm-24 5zm-37 0zm-6-5zm-19 5zm-24-1zm-7-2zm31 4zm17 2zm15-2zm15 2zm6 1zm8 0zm5-3zm2 0zm16 0zm10 7zm-12 3zm-21-4zm-6 4zm-4-4zm-2 3zm-2 2zm-9-3zm-11 1zm-33-3zm-26 11zm60-2zm7 2zm25 0zm26 4zm-27-1zm-9 3zm-3-2zm-3-3zm0 5zm-5-2zm-10-1zm-7 1zm-14-3zm19 10zm13-4zm6 1zm3 1zm15-1zm10 0zm27 9zm-13 1zm-8-4zm-3-1zm-14 1zm-4 2zm-4 2zm-1-5zm0 4zm-7-3zm-20 0zm-4 1zm-9-2zm-18 2zm0 4zm10 2zm8-2zm10 1zm14 1zm1 0zm4-2zm18 0zm0 1zm14 4zm7-2zm7 1zm7 0zm-19 6zm-11-3zm-2 1zm-1 0zm-9 2zm-12-1zm-6-2zm-19 3zm-1-2zm-20-2zm-2 4zm-9 1zm16 2zm8 1zm11-1zm19 0zm1 3zm65 6zm-22-4zm-13 4zm-6-4zm-11 2zm-3 1zm-4-3zm-11 4zm-15-4zm-12 0zm-1 4zm-39-2zm36 8zm10 0zm13-4zm2 4zm2-4zm10 5zm1-3zm0 2zm9-1zm4-3zm0 4zm19-2zm16 2zm-15 2zm-12 1zm-3 3zm-20 0zm-5-1zm-2 1zm-8-2zm15 9zm1-4zm1-1zm2 3zm41 2zm26-4zm-11 10zm-61-4zm-5-1zm-23 6zm28 1zm62 1zm-28 9zm-5-4zm-6 8zm-23 15z"/><path id="g124" d="M547 337zm9 4zm46 6zm-23-1zm-1-3zm-1-1zm-64 10zm114 5zm-6 1zm-47-3zm-31 3zm-22 2zm28 1zm35 4zm11-5zm0 5zm20-1zm-25 3zm-31 1zm-15-2zm45 7zm0 6zm-14 3zm-4 0zm-2-1zm-16 2zm-9-1zm-28-2zm-11 3zm67 4zm2-3zm22 3zm3-3zm-20 10zm-36 0zm-1-1zm-6-1zm-4 1zm-32 5zm9 1zm26 1zm19-2zm7 2zm10-3zm8 0zm8-1zm8 5zm4-3zm7 3zm2-2zm10 5zm-20-1zm-17 3zm-2-4zm-10 5zm-1-2zm-4 0zm-13 2zm-4-4zm-6 1zm-14 9zm41-1zm22-4zm8 4zm1-4zm6 3zm16 4zm-60-1zm-8 7zm51 2zm6-2zm1 9zm-9 0zm-4-2zm-24 1zm-4-3zm-2 0zm-5 4zm-34 1zm43 2zm14 1zm22 3zm21-4zm-54 21zm-3 6zm16 1zm-37 4zm-1 0zm1 8z"/><path id="g125" d="M558 336zm33 2zm29 8zm-109 0zm64 7zm5-3zm30 5zm-15 0zm0 1zm-72 8zm33-1zm17 1zm22 1zm-2 6zm-8 0zm-1-3zm-18-2zm-20 10zm18-1zm33-2zm14 6zm-24 1zm-4 1zm-16-3zm-19 2zm-41 4zm49 2zm23 0zm12-1zm5 2zm23 0zm-17 7zm-59 1zm-3 0zm-1-1zm-27-2zm3 5zm5 1zm41 1zm15-2zm2 2zm6 2zm2-3zm13 0zm1-2zm24 4zm6 0zm-14 3zm-15 1zm-33 3zm-11-5zm-5 4zm-3-4zm-1 0zm-23 0zm32 11zm1-1zm3 1zm47-2zm18 1zm-37 2zm-1 4zm-30-4zm-14 1zm-5 1zm-23 9zm71-2zm7 1zm1-4zm1 2zm1 1zm13 6zm-35 0zm-37 2zm36 1zm16 1zm3 2zm14 6zm-12-3zm-7 3zm-74-2zm-3 10zm29-1zm84-3zm-11 6zm-80 4zm56 10zm-25-1z"/><path id="g126" d="M544 392zm-7 21zm66-5zm19 0zm-35 8zm0 1zm-37 0zm-4-2zm-14 0zm-44 6zm18 0zm4 4zm13-4zm18 1zm16-1zm32 2zm7-3zm16 7zm-1-1zm-1 4zm-9-1zm-2 2zm-2-3zm-12 1zm-3-1zm-5-2zm0 5zm-4-2zm-7 1zm-13 1zm-6-1zm-6-4zm-14 3zm-1-2zm-14 9zm13 0zm13-2zm13 0zm9-2zm2 3zm2 0zm3-1zm7 0zm4 2zm16-1zm9-1zm1 2zm5-2zm8 0zm10 2zm1 0zm6 4zm-15-1zm-1 4zm-18-2zm-8 0zm-10 0zm-6 0zm-16-2zm-1 3zm-5 1zm-5-1zm-5 0zm-2-2zm-6 1zm-17 1zm-2 1zm-16-4zm-2 0zm-10 9zm27-4zm12 5zm14-1zm4-4zm1 0zm3 0zm0 5zm4-2zm7-1zm4-1zm1-1zm2 4zm15-1zm6 2zm9-5zm8 0zm7 4zm10 1zm14 2zm-27 4zm-3-2zm-13 0zm-6 2zm-2-4zm-4 1zm-3 0zm-1 3zm-6-5zm0 2zm-2-1zm-2 0zm0 1zm-1 0zm0 2zm-2-1zm-1-1zm0 2zm-2-3zm-3 4zm-3-2zm-2-1zm-2-1zm-3 0zm-4 3zm-8 1zm-7-1zm-7-1zm-4 0zm-15 4zm19 4zm11 0zm3-3zm0 3zm2-3zm1 0zm1 0zm0 2zm4-3zm1 2zm2 2zm4-1zm5-3zm5 3zm3-2zm2 3zm2-1zm1-1zm5-2zm1 1zm1-1zm1-1zm1 4zm6-3zm0 3zm1-3zm5-1zm2 2zm4-2zm0 1zm3 3zm1-3zm0 1zm1 1zm1-2zm5-1zm3 2zm7-2zm6 7zm-13-1zm-6 3zm-2 0zm-8 2zm-6-5zm0 1zm-2 1zm-1 0zm0 3zm-2-2zm-2 1zm-3-1zm-8-3zm-3 2zm-6-1zm-5 0zm-2-1zm-2 5zm-1-3zm-1-2zm-3 4zm-2 1zm-2-3zm-2 3zm-3-5zm-1 5zm-1-2zm-2 0zm-4 1zm-2 0zm-2 0zm-2-1zm0 1zm-4 1zm-22-5zm17 9zm1-1zm7-1zm3 1zm5-1zm1 1zm1-2zm0 4zm2-2zm1 2zm4-1zm0 1zm4-1zm5-1zm1 3zm1-1zm1 0zm3 0zm4 0zm2-3zm0 3zm1-1zm4-3zm3 0zm2 0zm0 4zm1-4zm1 4zm1-2zm2-2zm0 1zm2 4zm1-5zm2 3zm2-2zm1 2zm4-3zm3 3zm2-3zm1 4zm1-1zm1-1zm4-1zm9 2zm23-3zm-4 6zm-13 3zm-5-2zm-4 2zm0 1zm-2-2zm0 2zm-1-4zm-4 0zm0 5zm-5-2zm-6-3zm-2 2zm0 2zm-1 0zm-2-3zm-4 3zm-3-4zm0 5zm-2-4zm-2 4zm-2-1zm-1-2zm0 1zm-4-2zm-2 4zm-2-3zm0 3zm-2-5zm0 5zm-3-1zm-2-1zm-1-1zm-6 1zm-2 0zm-1-1zm-10 3zm-2-5zm0 2zm-1-2zm-8 4zm-2 0zm-1 1zm-2-4zm0 2zm-9-2zm-18 2zm7 6zm14-3zm3 0zm7 0zm11 1zm0 4zm1-5zm1 2zm6 1zm3-2zm0 1zm10-2zm0 1zm2-1zm0 1zm1 0zm0 2zm4-3zm6 1zm1 2zm0 1zm1-3zm0 4zm5-1zm2-4zm4 0zm1 3zm0 1zm1 0zm1 1zm2-2zm5-3zm2 1zm1-1zm0 4zm10-2zm7 0zm5 9zm-4-5zm-3 3zm-1-3zm0 1zm0 3zm-3-4zm-12 4zm0 1zm-2-5zm0 4zm0 1zm-7 0zm-6 0zm-1-4zm-1 0zm-7 3zm-3-1zm0 1zm-3 0zm-3-2zm-2 0zm0 3zm-1-4zm-3 1zm-8 3zm-5-3zm-1 1zm-1-1zm-1 3zm-11-3zm-4-2zm-1 5zm-3-5zm-10 3zm-19 3zm5 1zm5 3zm17-1zm5-3zm1 0zm6 0zm7 2zm1-1zm8 2zm2-2zm1 3zm5-3zm3 4zm2-2zm2 2zm1-3zm3-1zm0 4zm2-2zm1-2zm4 3zm2-4zm1 1zm0 4zm2 0zm2-3zm0 2zm1-1zm1 0zm5-3zm5 0zm1 2zm0 2zm1-2zm2 0zm3-1zm1 3zm2-3zm3 1zm2 2zm10-4zm-6 10zm-1-1zm-4 2zm-1-2zm-3 0zm-2-2zm-3 1zm-2 0zm0 1zm-2 1zm-17 0zm-1-3zm-5 4zm-2-1zm-1 0zm-3-2zm-3 0zm-3 3zm-3 0zm-3-3zm0 3zm-5 0zm-1-1zm-7-2zm0 2zm-1-3zm-7-1zm-3 0zm-5 2zm-14 9zm7-1zm2-1zm12 1zm1-1zm2 2zm5-5zm7 0zm1 2zm3 2zm3-3zm0 1zm4-1zm3-1zm0 3zm2-3zm0 3zm1-3zm0 5zm1-5zm10 1zm2 1zm3 1zm1 0zm3-3zm0 5zm4-4zm3 2zm1-1zm5 1zm4-1zm3 0zm0 2zm2 4zm-2-1zm-2-1zm-4 2zm-3 2zm-4 0zm-2-4zm-7 3zm-3-2zm-2 1zm-1 2zm-2-3zm-1 1zm-4 3zm-1 0zm-11-2zm-1-3zm-6 5zm-3 0zm-2-3zm-6-2zm-1 4zm-2-3zm-10 1zm10 7zm1-3zm26 3zm1-2zm6 2zm1-1zm6 0zm3 2zm9 1zm6-4zm8 1zm-17 5zm-2 2zm-3-2zm-12 3zm-9 0zm-6-3zm9 5zm28 4z"/><path id="g127" d="M587 402zm-12 0zm-42 4zm91 11zm-56-2zm0 3zm0 1zm-49 6zm11-3zm20-1zm10 2zm28-2zm2 0zm-6 7zm-5-1zm-2 1zm-8 2zm-12-3zm-2 4zm-7-3zm-1 1zm-19 2zm5 2zm2 3zm4-3zm4 0zm9 4zm3-3zm17 1zm3 2zm6-2zm6 1zm2-1zm13-1zm18 1zm-23 7zm-7 1zm-15-1zm-1-4zm0 3zm-7-1zm-2 2zm-9 1zm-9 0zm-4-4zm-3 0zm-1 1zm-7-1zm-19 0zm-2 0zm-5 6zm6 0zm30 3zm1-2zm7-1zm3-1zm4 2zm1 0zm1 0zm5 3zm14-3zm3 3zm1-3zm1 2zm2-3zm5 3zm8-1zm2-3zm6 0zm24 11zm-15 0zm-13-4zm-3 1zm-3 0zm-4-1zm-2 4zm-4-3zm-2 2zm-1 1zm-7-3zm-3 1zm-6-2zm-2 3zm-6-3zm0 1zm-6 0zm-7-1zm-2 4zm-3-2zm-1-1zm-9 2zm-2-3zm-10 3zm-1 0zm-9 6zm8 1zm5-1zm16-1zm1-1zm1-2zm3 3zm3 0zm6 0zm0 1zm1-3zm7-1zm2 0zm0 2zm4 2zm5 0zm5-4zm10 4zm4 0zm11-3zm14 1zm7-2zm-18 8zm-2 3zm-8-2zm-4-1zm-1-2zm-20 0zm-1 4zm-1-2zm-2 3zm-2-5zm-2 4zm-2-3zm-3 1zm-1 3zm-6-3zm-4-2zm0 2zm-7 3zm-12-3zm-6 0zm-2-2zm-35 0zm10 11zm22-5zm8 1zm8-1zm1 1zm1 4zm5-2zm8 0zm3-1zm4-2zm0 1zm2 0zm1 2zm4-1zm0 3zm5-1zm2-1zm8-2zm0 4zm1-1zm1-1zm5 0zm12-3zm3 0zm4 1zm2 0zm2 2zm1-2zm18 3zm1-4zm-21 6zm-3 2zm0 3zm-1-5zm0 1zm-5 3zm-1-2zm-2 0zm-4-2zm-6 0zm-7 5zm-3-2zm0 1zm-10 0zm-3 0zm-2-2zm-2 3zm-3 0zm-2-1zm-1-4zm-5 0zm-5 3zm-5 2zm-16-1zm-24 6zm28-4zm6 3zm4-2zm2 1zm3-1zm0 2zm5-2zm6 1zm7 3zm6 0zm1-2zm2 1zm1 0zm2-4zm5 5zm6-5zm1 2zm0 1zm1-2zm7 3zm1-4zm1 0zm4 5zm21 0zm-7 1zm0 5zm-7-4zm0 1zm-2 3zm-7-5zm-14 4zm-8 1zm-14-5zm-7 0zm-4 0zm-2 0zm-2 3zm-13-1zm-3 0zm-5 3zm-23-4zm-1-1zm12 11zm2-1zm15-3zm2 2zm2 1zm5-1zm6 2zm7-5zm3 1zm2-1zm4 3zm2 1zm3 0zm2 0zm1-3zm3 3zm1-3zm1 4zm5-2zm3-2zm11 2zm6-1zm0 3zm3-5zm2 4zm2-3zm2 3zm1-2zm6 0zm3 3zm6-5zm-9 11zm-2-4zm-16 1zm-5 0zm-12-2zm-4 0zm-2 4zm-1-4zm-5 5zm-1-5zm-5 0zm-5 4zm0 1zm-11-1zm-8-3zm-3 4zm-5-5zm-7 2zm-2-1zm-5 8zm17-3zm4 2zm9 2zm1-4zm16 1zm2 2zm3-1zm0 3zm8-4zm5 0zm0 2zm1-1zm1 3zm1-1zm6-2zm2-1zm6-1zm4 2zm4 1zm6 0zm2 2zm-8 2zm-10 4zm-3-4zm0 2zm-16 0zm-1-1zm0 2zm-7 0zm0 1zm-5 0zm-12-4zm-10 3zm-3 1zm-2 0zm-7 0zm-1-3zm-7 1zm27 8zm10-1zm13-3zm3 0zm1 1zm8-2zm2 3zm3-3zm4 3zm-4 3zm-3 5zm-4-3zm-3 2zm-4-4zm-2 2zm-4 2zm-13-3zm0 2z"/><path id="g128" d="M597 411zm5-2zm2 6zm-1 1zm-44 3zm-11 3zm5-2zm9 3zm2-1zm29 1zm16 7zm-8-2zm-31-1zm-2 3zm-4-1zm-27 1zm-34-3zm36 8zm17 2zm16-4zm36-1zm13 10zm-13 1zm-2 0zm-13 0zm-2 0zm-15-4zm-8 3zm-8-3zm-19 3zm-32-3zm-6 10zm27-5zm6 3zm2 1zm7-1zm6-1zm16-2zm22 2zm11 2zm0 1zm37-5zm-21 11zm-15-5zm-5 4zm-27-4zm-29 2zm-3 1zm-12 1zm-5 2zm13 1zm2 2zm5-2zm11 1zm5 3zm7-5zm9 5zm8-3zm1-1zm3-1zm3 0zm0 2zm3 1zm1-3zm1 0zm4 1zm6 4zm10-4zm17 0zm5 4zm-15 6zm-5-2zm-9-2zm-2-1zm-9 4zm-3-3zm-8 4zm-2-3zm-2-1zm-7-1zm0 4zm-1 1zm-1-2zm-2 1zm-4-1zm-5 2zm-3-4zm-3 0zm-4-1zm-11 4zm-1-3zm-7 2zm-21 6zm5-1zm5-2zm4 3zm12-2zm0 2zm16 2zm2-1zm5 0zm2 0zm1-3zm2 0zm5 1zm1-1zm0 3zm2-3zm0 2zm2-3zm1 1zm2 2zm5 1zm4-3zm24 4zm-10 1zm-10 4zm-6-3zm-1-1zm-8 2zm-1-1zm-2 0zm-2 4zm-1-2zm-1 1zm-2-3zm-9 0zm0 2zm-2 1zm-1-1zm-2 1zm-7-1zm-17 0zm-20-2zm-3 7zm2 2zm4-3zm4-1zm9 5zm3-2zm3-1zm3 2zm10 0zm1-1zm8 1zm4 0zm2-3zm8 4zm16-2zm4 1zm16-3zm2 3zm10-3zm1 6zm-11 0zm-1 2zm-9 1zm-14-1zm-7-2zm-12 4zm-5-3zm-1-2zm-1 5zm-2-3zm-2 1zm-10-1zm-2 2zm-4 1zm-3-1zm-5-2zm-1 3zm-8 0zm-10-4zm10 5zm6 5zm14-3zm22 1zm5 0zm3 0zm7 0zm8-3zm6 5zm3-3zm3-2zm0 5zm5-5zm2 4zm2-2zm3-1zm2 0zm1 1zm0 3zm6-4zm1 4zm3-2zm8 1zm-20 6zm-6-3zm-5 0zm-9 3zm-7 0zm-7-4zm-2 2zm-7 3zm-8-2zm-6-1zm-2 0zm-3-2zm-8 4zm-5 1zm-40-2zm28 3zm3 1zm2 1zm4 2zm2 0zm21-4zm2 5zm2-1zm14-3zm5 1zm12 1zm1-1zm4 3zm5 0zm9 1zm-16 1zm-4 2zm-7-3zm-18 3zm-1 1zm-14 0zm-5-3zm-5 5zm7 2zm3-2zm3 4zm3 0zm20-2zm0 1zm26 1zm-22 3zm-10 0zm-36 6zm36 0z"/><path id="g129" d="M631 389zm-94 17zm68 6zm-62 8zm11 4zm60-4zm-29 6zm-48 3zm22 6zm22-3zm24 4zm2-1zm5 5zm-31 0zm-17 2zm-22-2zm-7 3zm12 1zm0 4zm3-1zm9-2zm12 3zm14-2zm2 0zm32 2zm16-2zm-38 8zm-6 0zm-12-2zm-6 2zm-18 0zm-8-2zm-4-1zm-18 0zm-1 2zm-2 1zm-20-4zm5 8zm15 0zm13 3zm13-2zm1-3zm8 4zm1-3zm2 4zm2 0zm1-1zm41 0zm15 0zm4-4zm-7 10zm-66 1zm-2-2zm-7 0zm-14-3zm-20 3zm8 8zm17-1zm1-2zm34-1zm2 2zm20 2zm14-4zm1-1zm18 6zm-9 5zm-28-2zm-24-3zm-6 5zm-4-4zm-39-1zm9 11zm20-3zm4 0zm10 0zm1 0zm8 2zm1 1zm7-4zm31 0zm12 4zm9-4zm8 2zm-16 6zm-12-3zm-1 2zm-20 1zm-4 0zm-12-3zm-3 1zm-13 0zm-8 0zm-2 0zm-13 1zm-7 1zm-37 8zm20-3zm2 1zm13 1zm6 0zm14 1zm22-2zm6 0zm1-1zm5 1zm17 0zm0 2zm4-3zm12 0zm3 1zm-13 5zm-3 1zm-1-1zm-2 1zm-1-1zm-31 3zm-2-2zm-11 2zm-3-2zm-33 1zm30 4zm0 3zm8 0zm23-4zm16 0zm13 0zm1 3zm8-1zm-35 4zm-4 2zm-6 2zm-5-4zm-1 3zm-1-3zm0 1zm-20 1zm-4-2zm-1 0zm15 10zm7-3zm17-2zm0 5zm2-4zm4 3zm3 1zm24-4zm-37 6zm-6 1z"/><path id="g130" d="M554 425zm15-1zm-40 3zm30 9zm21 1zm13-2zm2 4zm-13 2zm-25 1zm-23 4zm5-2zm16 0zm31 1zm16 0zm18 0zm-45 6zm-14 4zm-8-2zm-24-3zm-19 3zm21 5zm10-2zm1 5zm26-2zm5-3zm27 0zm13 0zm10 0zm-6 10zm-46-3zm0 1zm-21-2zm-14 2zm-10-2zm11 10zm7-1zm15-1zm4 1zm17-3zm12 4zm35 1zm-38 3zm-17 3zm-5-2zm-30 1zm-9-2zm-18 5zm13 0zm47 2zm1 1zm28-3zm2 1zm5 3zm3 0zm-21 2zm-27 4zm-8-5zm-18 2zm-21 3zm4 5zm10 0zm2-2zm19 0zm3 1zm21-2zm6 1zm20-2zm2 0zm10 5zm2-5zm-59 8zm-3 3zm-14-4zm19 5zm7 1zm1 3zm4-4zm1 0zm2 3zm17-2zm8 4zm3-4zm5 7zm-18 1zm-13 0zm-5 0zm14 5z"/><path id="g131" d="M605 421zm4 8zm-31-2zm-34 8zm33-1zm55 8zm-90 1zm-3-3zm30 7zm26 3zm-47 5zm-4-1zm-2-3zm29 9zm22 3zm-1 2zm-1 0zm-13-1zm-14-1zm-13 4zm-16 0zm39 2zm4 0zm2-1zm24 9zm-71-1zm-1 2zm-13 1zm-4 0zm-1 4zm23-1zm1-2zm71 3zm24-2zm-31 7zm-48 0zm-11 2zm18 3zm7-1zm46 7zm-64-1zm-23 4zm-6-2zm0 2zm-9-4zm-2 4zm-6 2zm68 5zm7-5zm-21 9zm-20-3zm-9 8zm46 0zm7 8zm-5-4z"/><path id="g132" d="M601 485zm10 4zm-32 2zm-15 0zm-12 2zm9 3zm35 1zm0 3zm-74 9zm1-3zm24 3zm4 0zm10-5zm7 3zm4 0zm4 1zm28-2zm4 3zm-20 1zm-8 4zm-16 1zm-23-5zm-10 3zm-1-2zm-2 0zm-10 2zm22 4zm3 3zm1 1zm9-5zm7 1zm2 1zm2 2zm3 0zm18-4zm2 8zm-25-2zm-4 4zm-7-2zm-9-1z"/><path id="g133" d="M579 483zm3 0zm-10 13zm25 1zm5-2zm6 8zm-26-2zm-33 2zm-4-3zm-29 1zm-3 5zm30 1zm6-3zm24 3zm14-3zm5 5zm14-2zm-25 7zm-33-2zm-2-2zm-18 1zm12 7zm0 2zm9-3zm10 0zm4 0zm6 3zm28 2zm-2 2zm-17-1zm-7 3zm-5-1zm-7 1zm-8-2zm45 5z"/><path id="g134" d="M544 493zm63 3zm-1 3zm-1 2zm-7 2zm-63 2zm10-1zm0 1zm58 1zm-1 6zm-16-1zm-46 3zm8 2zm4 0zm7 2zm15-1zm10 1zm-37 8zm10 2zm14 0z"/><path id="g135" d="M609 488zm-54 6zm-4 9zm20 3zm30 6zm-33-1zm-21 0zm-6 3zm-4 3zm3 1zm53-1zm-26 7zm-8-1zm-5 1zm39 5z"/><path id="g136" d="M616 484zm-15 15zm-94 3zm18 4zm39 0zm4-1zm15 2zm15 2zm7-1zm-37 5zm2 7zm6 3zm-14 0z"/><path id="g137" d="M560 489zm14 19zm1 12zm14-1zm-9 3zm-34 1z"/><path id="g138" d="M597 323zm18 9zm-17-1zm0 4zm-10-4zm11 9zm18-1zm3 8zm-3-3zm-6 0zm-8-2zm-3 11zm29 2zm-5 3zm-10 0zm-18 3zm11 1zm7 1zm10 1zm2-2zm0 4zm-48 0zm18 9zm30-3zm7 4zm-8 5zm-24 2zm-1-3zm34 21z"/><path id="g139" d="M593 329zm1-4zm6 1zm3 2zm-9 2zm-13 11zm34-4zm5 10zm-6-1zm-31 4zm19-1zm23 2zm5 3zm-9 0zm-6 2zm-6 2zm-24-2zm3 8zm25-4zm8 2zm-20 9zm7 9z"/><path id="g140" d="M590 327zm-4 14zm20-5zm10 2zm-10 7zm-13 1zm-9 4zm22 2zm7-3zm2-1zm10 2zm8-2zm-6 13zm5 7zm-12 3zm-6-3z"/><path id="g141" d="M603 338zm15-1zm1 10zm-13 3zm21 0zm4 8zm3 23z"/><path id="g142" d="M611 339zm2-1zm16 30zm-22 20z"/><path id="g143" d="M616 350zm-17 19zm22 13z"/><path id="g144" d="M610 336zm6 6zm-12 11zm5-3zm3-1zm10 4zm6 4zm-7-3zm-5 0zm-8 3zm-1 0zm-2 1zm-12 1zm9 4zm14 0zm1-1zm10-2zm6 3zm3 5zm-1 0zm-1-1zm-5-1zm-6 0zm-2 2zm-1 0zm-8 0zm-31-2zm6 7zm5 0zm8 2zm11 2zm2-2zm2 2zm4-1zm5 0zm8-4zm5 4zm1-1zm2 2zm3-3zm-3 5zm-7 1zm-6 1zm-8-1zm-1-2zm-1 5zm-2 0zm-1-4zm-10-1zm-3 2zm-2 2zm-12 3zm17 3zm4 1zm4-5zm4 4zm1-2zm0 1zm0 1zm6-3zm0 4zm2 0zm1-2zm4 1zm3-4zm1 3zm3-2zm0 4zm5 4zm0 2zm-8-4zm-3 0zm-6 0zm-3 3zm-7-3zm0 4zm-1 0zm-1-4zm0 3zm-1-2zm-21 9zm18-1zm1-1zm1-2zm5 4zm5-5zm4 5zm9 0zm3 0zm1-2zm2-3zm4 5zm-5 5zm-1-3zm-2 0zm-2 2zm-4 2zm-3-1zm-1-4zm-8 2zm-1-2zm-4 2zm-1 1zm-2 0zm-10-3zm-2 1zm-5 10zm12-3zm9-1zm2 4zm10-1zm5-3zm0 1zm4 3zm8-3zm1 1zm-1 3zm-2 5zm-1-3zm-3-2zm-1 2zm-3-2zm-1 3zm-3-2zm-5 3zm-4 0zm-22-1zm-19 1zm-1 2zm17 3zm4 1zm4-3zm1 2zm1 2zm3 0zm1-1zm5 1zm13 0zm6-5zm1 0zm0 2zm2-1zm1 3zm1-1zm1-2zm0 2zm2 1zm2 7zm-7-3zm-2-2zm-5 5zm-8-5zm-13 5zm-1 0zm-1-5zm-25 11zm8-2zm11 0zm17 1zm1-2zm11 2zm14-4zm6 7zm-9 3zm-3 1zm-1 0zm-5-5zm-1 0zm-1 5zm-2-5zm-1 0zm-15 0zm-14 5zm20 2zm1 3zm1-2zm4 1zm4 2zm15 4zm-6-3zm-35 1zm-3 8zm1-1zm8 2zm36 0zm-58 2zm-19 5zm54 8z"/><path id="g145" d="M601 332zm2 9zm20 4zm-27-2zm29 9zm4-1zm4 5zm-8-2zm-4 0zm0 4zm-2-2zm-1-1zm-1 4zm-23-3zm0 1zm-18 7zm29-2zm2 3zm4-5zm1 1zm7 3zm14 5zm-5-3zm0 3zm-1 2zm-1-2zm-1-1zm-5 2zm-7-3zm-12 0zm-18 6zm25 1zm1 2zm10 1zm10-4zm1-1zm9 10zm-7-3zm-10 2zm-1-1zm0 1zm-8-1zm-1 1zm-26 2zm-4 3zm23 0zm3 1zm18 2zm2-5zm4 2zm2-2zm5 1zm0 2zm-6 6zm-4 0zm-4-2zm-1 2zm-3 0zm-3 1zm-4-1zm-11 0zm-37 5zm42 0zm1 2zm2-1zm1 2zm1-2zm2-2zm10-1zm1 0zm5 2zm13 2zm2 1zm-15 4zm-2-3zm-39 8zm5-2zm7 2zm22-2zm7 4zm4-3zm9 2zm12 2zm-19 3zm0 2zm-7-2zm-6-2zm-1 4zm-4 1zm-2-3zm-16 2zm-10 1zm18 5zm6-3zm6 2zm0 2zm9-5zm6 2zm1-1zm5 1zm5 1zm1 3zm-7 1zm-2 0zm-10-1zm-1 4zm-5 0zm-1-2zm-3 3zm-1-4zm-9 0zm-3 10zm5-1zm6 1zm12-3zm4 3zm11 5zm-19 1zm-35-4zm-1 7zm30-1zm5-1zm16 7zm-22-1zm-14 4zm4 7zm25-1z"/><path id="g146" d="M604 332zm11 18zm5 6zm-11 5zm13 3zm1-2zm13 3zm-12 3zm-2 2zm-4-2zm-2-1zm-7 0zm-6 10zm9-5zm4 1zm7-1zm2 5zm7 3zm-1-2zm-3 0zm-1 3zm-1-2zm0 1zm-9 2zm-8-1zm-5 0zm-7 0zm23 5zm11 1zm6 6zm-12-3zm-8 4zm-1-2zm-1-2zm-18 3zm-9 4zm25-1zm22 0zm7 5zm1-3zm1 9zm-23 0zm-1-2zm-5-3zm0 4zm-2-3zm-3 0zm-1 0zm-2 1zm8 7zm8-1zm1-2zm4 4zm13-2zm3-2zm2 1zm-7 5zm-6 2zm-1 3zm-3 0zm-4-1zm-6 0zm-2-2zm-2-2zm-24 3zm15 4zm3 3zm14-1zm3 1zm4-1zm3-1zm4 1zm-7 5zm-3-1zm-3 2zm-2-2zm-11 0zm-1 10zm2-2zm5 0zm6-1zm2 2zm10-3zm1 3zm3-1zm-8 3zm-38 3zm29 7zm1-1zm3 0zm-2 14z"/><path id="g147" d="M634 345zm-27 8zm10-1zm-2 7zm14 4zm6 8zm-13-4zm-6 2zm5 3zm7 5zm8 5zm-17 7zm8-4zm7 3zm-13 7zm-14 0zm-6 5zm9-2zm12 2zm2-3zm9 3zm1-2zm2 1zm7 0zm1 2zm-3 6zm-6-2zm-13-1zm-16-2zm5 11zm29 3zm-11 1zm-4-2zm-18-1zm-1 8zm29 4zm-7 0zm-14 5zm-12-2zm-9 4zm26 1zm7 0zm1 1zm6 0zm14-1zm-16 6zm-5 3zm-8-2zm0 18zm-8 3z"/><path id="g148" d="M597 341zm30 3zm-15-1zm0 2zm-4 0zm-7 7zm41 15zm-69 1zm34 7zm27 5zm-2-2zm-11 8zm12 1zm-13 5zm-16 7zm24-3zm9 0zm-31 8zm-9-2zm24 7zm7-1zm3 7zm-18 2zm0 1zm-10 1zm40 1zm1 0zm-13 8zm0 2zm-10-4zm-6 4zm-24 5zm24 1zm21-2zm7-1z"/><path id="g149" d="M615 350zm9 2zm3-3zm1 10zm-2 0zm-25-1zm34 8zm-5 23zm2 0zm1-2zm5-2zm9 1zm-6 7zm-4-2zm0 2zm-7 10zm-19 4zm-4 6zm25-2zm0 7zm-28 11zm12 6zm4 12zm19 10z"/><path id="g150" d="M629 404zm4 9zm1 3zm-30 1zm-10-3zm36 7zm13 10zm-7 0zm-40-5zm4 7zm12 3zm18-4zm4 5zm8-4zm-2 8zm-4-1zm-1 2zm-3-1zm0 2zm-6 0zm-6-4zm-14 1zm-6 0zm-3 1zm-10 0zm25 4zm14 3zm1-2zm6 3zm12-2zm-6 3zm-1 5zm-8-2zm-3 2zm-9-2zm-5 1zm-1-4zm-7 5zm-11 0zm-23-2zm26 3zm3 3zm4-3zm3 3zm5 2zm2-1zm2-4zm3 4zm9-2zm2-1zm3 1zm2 1zm4-3zm0 1zm0 10zm-1-2zm-1-1zm-3-2zm-4 3zm-2 0zm-6-3zm0 3zm-2 1zm-4-1zm-2-1zm-16-2zm-14 10zm21-3zm9 4zm18-5zm2 4zm-2 2zm0 4zm-8 0zm-2-2zm-20 3zm-2-4zm-11-1zm-4 4zm10 7zm22-4zm6 0zm1-1zm1 4zm1 5zm-2 2zm-1-1zm-11-3zm-20 2zm-4-1zm13 7zm11 1zm1 1zm1-3zm3 4zm0 2zm-5-1zm-1 4zm-12-5zm-19 2zm0 19z"/><path id="g151" d="M612 405zm22 12zm-7 3zm11 3zm-27 12zm1 2zm5-2zm28-3zm8 8zm-18-1zm-2 0zm-6 3zm-47 0zm18 6zm5 1zm5-2zm17-1zm2 3zm6-4zm4 4zm0 1zm-10 1zm-1 3zm-7-4zm-2 3zm-9 1zm-9 0zm-2-2zm27 4zm4 5zm3-4zm3 0zm4 2zm3-3zm-10 11zm-2-3zm-1 0zm0 3zm-15-4zm-6 4zm-12-1zm0 4zm17 2zm5-4zm0 1zm3 3zm2 1zm8-4zm1 0zm11-1zm-12 10zm-10 1zm-6-2zm-2-2zm-7-1zm-1 0zm-9 1zm-4 9zm1-1zm18 1zm4-4zm3 3zm4-3zm6 2zm13 0zm-18 6zm-11 0zm-1 8zm12-2zm-4 6zm-18 1zm-19 0zm17 6zm4-3zm-16 7z"/><path id="g152" d="M632 426zm-8 4zm-1 1zm-27-1zm20 3zm27 0zm-12 6zm-2 4zm-14-1zm-11-1zm-24-3zm9 9zm33 2zm7-2zm3-1zm2 2zm2-1zm3 3zm-7 1zm-7 0zm-3-1zm-6 4zm-13 0zm-7-3zm-1 0zm-14-1zm12 7zm13 4zm2-3zm14-2zm1 5zm6-3zm9 6zm-11 0zm-17 2zm-18 0zm-14-2zm-1 4zm24 5zm18-4zm12 0zm0 7zm-9 1zm-10-2zm-5 0zm-18 1zm-10 3zm23 3zm7 0zm5 3zm2 0zm2-2zm1 1zm1-3zm4 1zm0 4zm-10 4zm-2 1zm-1-1zm-23-2zm35 8zm8 7zm-40 0zm8 6zm4-2zm4 0zm-16 6z"/><path id="g153" d="M602 384zm15 37zm15 10zm9 10zm-10 6zm4-2zm-1 5zm-57 7zm41 1zm9 3zm2-4zm5 2zm-17 3zm-23 4zm9 3zm10 6zm-27-1zm-5 4zm11 5zm20 3zm-27 3zm17 6zm7 1zm2-2zm8-2zm3 4z"/><path id="g154" d="M605 412zm-10 11zm32 11zm-59 8zm37 3zm23 9zm-8-1zm-8 2zm-9 5zm12 7zm-31 1zm19 0zm10 2zm13 3zm-9 6zm-10-1zm18 12zm-31-2z"/><path id="g155" d="M592 425zm53 4zm-46-1zm-8 8zm42 4zm3 14zm-27-1zm-9 8zm19 5zm-4 1zm-3-5zm16 7zm0 1zm4-1zm0 1zm-13 6zm-6 4zm0 5zm-32 7zm31 0zm-23 16z"/><path id="g156" d="M621 503zm-24 6zm19-1zm-8 6zm-17 1zm5 6zm9-3zm1 9zm-10-5zm-6 1zm-1 3zm-6-4zm-1 4zm-13-3zm-2 9zm5 1zm6-5zm2 2zm4-2zm2 3zm2-1zm5-1zm0 4zm1-5zm1 4zm0 1zm5-5zm3 1zm17-1zm-20 10zm-2-2zm-3 0zm-1-2zm0 4zm-7-3zm-1 4zm-4-4zm-2 2zm-1 1zm-8 0zm-1-4zm-1 1zm-1 0zm-21 6zm15 0zm11-1zm7 0zm6 2zm16-2zm-6 6zm-1 0zm-4 2zm-7 0zm-1-2zm-5 0zm11 13z"/><path id="g157" d="M618 505zm-4 6zm-5 0zm-21 10zm7-2zm4-3zm2 4zm1 0zm8 3zm-15 2zm-19-2zm-16 1zm22 7zm4-1zm2-2zm15 1zm4 0zm-6 7zm-12 0zm-6 3zm-5-1zm-1-3zm-2 3zm-2 1zm-2-4zm-2 1zm-1 1zm0 5zm6 0zm4 0zm2-1zm4 4zm1-3zm2 3zm1-4zm0 4zm3 1zm-18 3zm-6 1zm19 5zm7 1zm3-3zm-24 13z"/><path id="g158" d="M606 502zm-12 11zm-5 7zm3-1zm14 0zm11 4zm-13 4zm-3 0zm-2-4zm-2 4zm-5-4zm-4 1zm-20 7zm3-3zm1 4zm27-3zm-18 6zm-8-1zm-7 2zm6 5zm3 1zm18 0zm8 2zm17-2zm-21 4zm-29 4zm-2-3zm0 4zm21 1zm5 0zm5 6z"/><path id="g159" d="M625 495zm-26 26zm-14 3zm-5 2zm23 3zm0 6zm-5 4zm-9-1zm-2-2zm-1-2zm-10 4zm-2-3zm23 9zm-5 3zm-18-1z"/><path id="g160" d="M606 502zm0 12zm-2 3zm4 10zm-1-1zm-3 0zm-21 0zm-2 0zm-5-1zm15 3zm-21 9zm-12 6zm12 1zm5 1zm24-4zm-20 5z"/><path id="g161" d="M595 517zm19 4zm-26 4zm4 10zm0 6zm10 3zm19-2zm-44 11zm5 3z"/><path id="g162" d="M586 530zm0 3zm10-3zm0 2zm3 0zm2-2zm17-2zm-4 6zm-17 5zm-12-1zm-6-3zm-4 1zm-2 0zm-2 1zm-2-3zm-1 0zm0 3zm-1-1zm0 2zm-5 5zm4-3zm4 0zm1 4zm2-2zm0 2zm4-4zm3 4zm3-3zm4 4zm2 0zm9-1zm21 6zm-9 0zm-5-3zm-1 3zm-2-2zm-5 1zm0 2zm-2-1zm-2-2zm-26 1zm-9 1zm17 6zm2 0zm1-4zm0 3zm3 1zm1 1zm2-2zm1-2zm2 3zm3-4zm2 0zm6 4zm1-3zm6 0zm3 4zm1-3zm11 2zm-4 4zm-12 0zm-4-1zm-3 3zm-1-2zm-4 2zm-2 0zm-2-4zm-5 0zm-1 0zm-1 5zm-2-5zm-1 0zm-1 2zm-4 6zm9-1zm2 0zm0 2zm3-2zm4 2zm15 7zm-16-2z"/><path id="g163" d="M601 534zm-21 1zm-3 0zm-1-1zm-3 4zm-6 6zm3-3zm1-1zm9 2zm1 1zm2 0zm0 1zm11 1zm15-1zm3 4zm-10 1zm-4-2zm-2 3zm-3 1zm-15-1zm0 1zm-2-5zm-9 1zm4 7zm2 0zm3 3zm3-4zm2 3zm1-1zm1-3zm3 2zm1-1zm3 0zm3 0zm15 8zm0 1zm-7-1zm-7 0zm0 2zm-13-4zm-1 4zm-1-1zm-2-3zm0 4zm-2 3zm4-2zm3 2zm13-2zm1 4zm3 1zm6-4zm3 0zm-7 5z"/><path id="g164" d="M586 520zm22 5zm-31 0zm17 8zm8 3zm-3 0zm0 1zm-27 2zm-5-2zm-4-1zm-7 2zm3 2zm22 2zm3-2zm1 0zm4 3zm13 3zm-47 0zm14 8zm5 2zm6-1zm4-3zm1 4zm3-2zm1 1zm0 2zm7-5zm1 2zm24-1zm-8 5zm-22 2zm-1-1zm-19 2zm15 3zm14 8zm-15-2zm-5 0z"/><path id="g165" d="M592 530zm2 8zm-9 1zm-16-2zm10 6zm2-3zm3 10zm-16-3zm-2 2zm12 5zm8 0zm7 1zm8-1zm9 2zm-18 3zm-4 3zm-11-4zm-4 6zm9 0zm8 2zm-7 4z"/><path id="g166" d="M619 522zm-41 10zm-17 5zm-2 2zm43 6zm-32 6zm7 3zm8-2zm13 5zm-14 1zm13 14zm-4 5z"/><path id="g167" d="M591 523zm-8 8zm-14 3zm0 11zm17-4zm-1 8zm-3 0zm-20-2zm30 6zm1 3zm4 4zm-2 2zm-19 0zm11 5zm9-2zm8 3z"/><path id="g168" d="M676 426zm0 3zm-19 2zm-5 4zm2-2zm3 3zm4-2zm9 2zm2 1zm14-4zm-5 5zm-15 0zm-2 3zm-1 1zm-1-2zm-1 2zm-8-2zm-1 3zm-29-3zm15 6zm10-1zm4 0zm2 4zm3-5zm3 1zm0 2zm1-1zm2 0zm2 0zm8 0zm2-1zm-12 7zm0 1zm-3-1zm-3-2zm-1 0zm-2 1zm-1 2zm-6-2zm-1-1zm-10 5zm7 2zm4 3zm1 0zm7-2zm1 2zm14-3zm2 3zm4 0zm-15 4zm-1 3zm-4-1zm-3-1zm-2 1zm-3 1zm-7 0zm-5-5zm4 8zm7 1zm0 1zm1-2zm14-1zm0 4zm-9 2zm-9 1zm-9 0zm-4 1zm11 4zm4 1zm15-2zm1 3zm2 0zm33 0zm-53 8zm-14-4zm0 1zm5 7zm0 1zm4 0zm3 1zm19-1zm10 5zm-19-1zm-19-1zm-11 4z"/><path id="g169" d="M669 428zm-17 2zm-17 7zm28-3zm1 2zm3 1zm12-3zm-9 8zm-4 0zm-8 0zm-9-1zm-5 8zm4-3zm1 1zm9 1zm3 1zm2-5zm18 3zm2 4zm-6 2zm-17 1zm-4-3zm-6 2zm-1-3zm-7 4zm-1 7zm2-2zm1-3zm5 0zm2 0zm5 2zm0 2zm10 0zm10 0zm-13 2zm-2 5zm-5-3zm-5-2zm-3 0zm-2 3zm-1-2zm-16 5zm7 2zm0 3zm8-5zm1 5zm9-5zm1 0zm1 0zm2 3zm1-2zm10 2zm2-1zm3 2zm-16 6zm-13-1zm-1-3zm0 2zm-4 2zm-3-1zm-1-3zm-5 3zm0 5zm13 2zm4-1zm15-2zm-16 8zm-2-3zm-17 3zm15 4zm9-1zm7 4zm11-3zm-22 6z"/><path id="g170" d="M677 418zm-16 12zm-11 4zm9-1zm16 1zm-11 9zm-12 0zm-6 0zm-10-2zm14 4zm5 4zm2-2zm2-3zm1 0zm6 5zm1-1zm-1 2zm-2 5zm-11-1zm-11-2zm-1-2zm-4 9zm9 2zm5 0zm12-3zm7 3zm2-3zm2 0zm4 4zm-13 1zm-17 2zm0 1zm-7-1zm0 2zm-4 1zm12 2zm14 8zm-8-3zm-14 7zm8-1zm15 0zm1 4zm11 0zm-18 1zm-7 0zm-18 0zm29 12z"/><path id="g171" d="M660 439zm-5 2zm-1-3zm20 15zm-16-3zm-9 9zm7 1zm1 0zm4-3zm4 10zm-11-4zm-4 3zm-7 7zm9-3zm5 0zm1 5zm-4 1zm-23 4zm1 0zm5 4zm10-3zm-2 10zm24 22z"/><path id="g172" d="M659 422zm14-2zm-14 16zm19 2zm-21 3zm8 12zm-13 2zm-8 0zm15 6zm34 4zm-32 2zm-13-4zm-6 6zm0 3zm12 4zm-11-1zm18 7zm10 1zm-4 7zm-25 1z"/><path id="g173" d="M675 437zm-9 5zm-13 1zm-7 1zm25 0zm-32 15zm4-3zm3 14zm-11 8zm25 2zm13 2z"/><path id="g174" d="M655 456zm17 22zm-9 1zm-1-3zm-14 3zm-8-1zm-1 0zm-3-2zm-6 5zm7-1zm2 3zm3-1zm2 0zm4-1zm0 3zm7-2zm2 1zm7 1zm21 2zm-10 2zm-9-1zm-1 2zm-2 0zm-3 1zm-3-4zm-1 2zm-2 1zm-7-1zm0 3zm-2-2zm-4-3zm-5 4zm-4 1zm-2 0zm-3-1zm-1 1zm-5 0zm-7 6zm3-4zm7 3zm3 1zm5-4zm2 1zm1 1zm2 1zm1-4zm0 3zm3 0zm2-1zm0 1zm7 1zm4 1zm1-4zm4-1zm5 5zm3-4zm6 0zm3 4zm7-4zm-13 9zm-10-1zm-1 1zm-1-4zm-1 2zm-4 0zm0 3zm-2-3zm-3 3zm-9-4zm0 2zm-1-2zm-3 0zm-1 0zm-4 1zm-1 1zm-9-1zm-1 3zm2 3zm3 0zm0 3zm1-4zm0 2zm1 2zm1-4zm0 2zm4-1zm1 3zm1-3zm2-2zm3 3zm1 0zm1 1zm1-4zm1 2zm0 1zm2 2zm3-1zm1-3zm2 1zm1 2zm2-4zm0 3zm1-1zm2-2zm12 2zm1 5zm-4 0zm-3 0zm0 1zm-2 1zm-2-2zm-7 4zm-2-3zm-1-1zm0 1zm-3 1zm-6-2zm-3-1zm-6 4zm-7-4zm-1 0zm-3 1zm-1 1zm-3 2zm-7 1zm-15 1zm8 5zm2-2zm4 1zm3 0zm9 0zm1-4zm0 3zm1-3zm2 5zm1-3zm2 0zm3 3zm1-4zm1 4zm2-2zm1 1zm2-4zm1 4zm1-3zm1-1zm0 1zm1 2zm1-1zm4 0zm1-1zm1 0zm7-1zm0 2zm4-2zm1 1zm2-1zm12 4zm-5 5zm-8 0zm-5 1zm-1 1zm-2 0zm-4 0zm-4-3zm0 1zm0 1zm-4-4zm-1 0zm0 2zm-7-2zm0 4zm-1-1zm-3 0zm-2-3zm-1 1zm-3-1zm0 5zm-1 0zm-2-4zm-12 4zm-8-2zm-9 0zm-1 1zm-4-1zm-7 3zm21 2zm11 2zm1-3zm7 4zm1-4zm4-1zm1 2zm0 3zm1-3zm1 3zm4-4zm5 0zm6-1zm0 5zm1-5zm7 3zm0 2zm9-5zm12 4zm1-3zm-6 8zm-2-2zm-2-1zm-15 0zm-3 0zm-2 2zm0 3zm-1-2zm0 1zm-4-4zm-15 0zm-1 3zm-3 2zm-1-3zm-8-2zm0 2zm-7 1zm-18 6zm2-1zm10 1zm0 2zm2 0zm6-1zm17 0zm1-4zm0 1zm0 4zm5-1zm12-3zm1-1zm0 3zm0 4zm-5-1zm-7 5zm-39-5zm14 11zm11-2zm15 0zm-21 3z"/><path id="g175" d="M649 459zm-6 5zm-9-2zm9 9zm10 4zm-8 2zm-1-1zm-6-2zm-11 9zm22-3zm3 0zm11 6zm-3 5zm-1-5zm0 3zm-1 1zm-1 0zm-8-2zm-3 3zm-15-5zm-5 8zm0 1zm2 2zm12-5zm1 5zm1-2zm2-3zm3 4zm3-1zm9-1zm2 3zm5-1zm-3 3zm-1 4zm-8-5zm0 1zm-6 3zm-1 1zm-2 0zm-1-5zm-2 4zm-3-4zm0 2zm-2 2zm-1 1zm-3-2zm-8-1zm-1-2zm-4 5zm-1 3zm4-2zm1 5zm1 0zm1-1zm1-4zm13 1zm3-1zm2 3zm3-2zm0 4zm9-2zm20 0zm12-2zm-22 6zm-7 2zm-5-3zm-6 3zm0 2zm-3 0zm-6-5zm-1 1zm-4 3zm-1-4zm-1 5zm-2 0zm-3-5zm-1 4zm-10-4zm-6 0zm-11 1zm2 5zm1 5zm13 0zm1-5zm0 3zm7 2zm1-3zm3-2zm4 5zm2-4zm2 4zm1-2zm4-2zm7 0zm1 4zm4-5zm0 1zm0 1zm1-2zm19 3zm-10 7zm-6 0zm-2-2zm-6 1zm-3-3zm0 3zm-3-2zm-2 1zm-1 3zm-1-1zm-6-3zm-3-1zm0 1zm0 3zm-6-2zm-11 2zm-4-1zm-2 2zm-7 0zm-4-5zm-7 11zm16-3zm9 1zm2-3zm1 3zm5-2zm1 2zm11-2zm3 2zm2 1zm2 0zm2-4zm4 4zm2-2zm1-2zm1 3zm9 0zm6 0zm2-3zm-12 8zm-1-1zm-3 3zm-17-2zm-6 2zm-3 0zm-2-4zm-11 4zm-8 0zm-2-2zm-3 7zm25 1zm2-4zm1 5zm3-5zm6 6zm-5 0zm-12 5zm-4-2zm-19-3zm19 6zm11 4zm-18 3zm0 3z"/><path id="g176" d="M670 458zm1 8zm-32 4zm32 1zm-11 5zm0 1zm-3 0zm-12 2zm-15 2zm2 0zm2 4zm4-3zm5 2zm3-3zm7 1zm5-1zm12 9zm-12-1zm-6-3zm-9 4zm-2-3zm-2 3zm-5-1zm0 1zm-6-2zm-1-2zm-6 0zm5 10zm1-1zm4 0zm5-1zm2-2zm1 0zm4 1zm13 2zm5 8zm-24-3zm-5-1zm-4-1zm-1 5zm-3-2zm-9 4zm4 4zm8 0zm3-1zm1-2zm5 1zm8-2zm4-1zm25 11zm-4-5zm-1 1zm-13-1zm0 2zm-3-2zm0 2zm-3 3zm-1-3zm-1 0zm-3-2zm-1 5zm-8-5zm-3 3zm0 2zm-8-3zm-3 1zm-2 0zm-7-1zm-5 2zm-3 0zm-3-3zm7 9zm13 1zm19-1zm2 0zm15 4zm-7 0zm-5 0zm-4 1zm-5-3zm-1 4zm-1-2zm-1-2zm-11 2zm0 2zm-8-2zm-2 2zm-5-4zm0 3zm-4-1zm9 9zm2-4zm2 3zm2-4zm2 2zm1-1zm5 3zm11-1zm1-1zm12 1zm3 0zm9-1zm3-2zm7 11zm-29-1zm-2 0zm-13-3zm-2 1zm-4 1zm-11-1zm-4-2zm-15 11zm19-5zm0 3zm0 2zm3-3zm12 0zm5-1zm2 2zm2-1zm25 0zm9 6zm-28-1zm-36 0zm-2 0zm-12 9z"/><path id="g177" d="M663 466zm-30 18zm14-2zm1-1zm6 2zm17 0zm-33 5zm-2 2zm-11 4zm8 3zm3-5zm6 4zm33 7zm-18-5zm-11 2zm-1 0zm-12 2zm-13 1zm-3 5zm21-1zm12-3zm3 3zm14 5zm-2-2zm-11 4zm-6 1zm-5-2zm-20-1zm-4-2zm-9 1zm-6-1zm-3 4zm6 7zm1-4zm19-1zm2 5zm5-5zm6 0zm24 2zm7 0zm-2 6zm-5-2zm-19 3zm-1-1zm-8 1zm-26 1zm-4-3zm-10 3zm34 3zm7 1zm35 0zm-29 6zm-9 0zm-4 2zm-10-3zm-29 1zm8 4zm17 4zm4 1zm4-5zm29 0zm3 4zm18 2zm-57 0zm-7 3zm15 10z"/><path id="g178" d="M650 461zm2 17zm-15 3zm8 6zm-26 7zm8-2zm4 3zm14 0zm29 6zm-19-2zm-22-1zm0 5zm9 2zm6 2zm7-2zm4 4zm-4 2zm-19 1zm-13 3zm-1-2zm-8 0zm-7 5zm2-1zm2 2zm3-2zm14-1zm1 4zm12-3zm4 3zm7-1zm18-2zm23 6zm-48 3zm-4-4zm-7 4zm-38-3zm-8 9zm22 0zm41 1zm-16 2zm-33-1zm-2 9zm45 3zm-33 4zm12 4z"/><path id="g179" d="M659 468zm-7 14zm1 9zm-22-1zm26 7zm3 4zm-19 2zm-20 6zm8-2zm6-2zm9 2zm14 6zm-45-1zm14 9zm8-3zm45-2zm-22 8zm-6 0zm-1 1zm-24-1zm-11 2zm-4-4zm-20 3zm44 4zm17 5zm-13 4zm-26 15z"/><path id="g180" d="M648 515zm-49 4zm19-2zm14 2zm54 6zm-38 2zm-14-5zm-14 3zm-37 2zm21 1zm20 5zm20-1zm4-1zm6 0zm1-1zm-9 8zm-10 1zm-21-5zm-4 0zm0 2zm0 3zm-1 0zm-4-3zm-17 2zm9 2zm2 3zm1-1zm1 0zm1 1zm5 1zm2-3zm5 3zm0 1zm2-4zm5-1zm1 0zm5 5zm2-4zm2 0zm4 2zm2 1zm2-2zm1 3zm1-5zm0 4zm16-2zm-2 5zm-18 2zm-1 0zm-2 2zm-1-5zm-6 1zm-1-1zm0 5zm-3-4zm-3 1zm-5 0zm-1-1zm-6 4zm-1-5zm-2 2zm-2 2zm-12 6zm4-3zm9 0zm8 2zm4-2zm1 1zm3 1zm1-2zm6 4zm5-2zm-8 5zm-2 0zm-1-1zm-3 1zm-2 0zm-5-2zm0 1zm-2 1zm-13 2zm-4 1zm0 6zm9-5zm25 0zm-9 7zm-1 3zm-16-3z"/><path id="g181" d="M626 508zm31 2zm-28 9zm48 0zm-13 7zm-55-1zm-2-2zm-15 4zm2 3zm7-1zm27 4zm1 0zm4 0zm24 4zm-3 0zm-2-1zm-3 0zm-21 1zm-1-1zm-10 0zm-2 3zm-7 0zm-23 5zm12-4zm0 3zm19-1zm5-1zm3 3zm3-3zm7 0zm8 3zm3-3zm1 6zm-3-1zm-3 5zm-2-5zm-9 3zm-9 1zm-5-2zm-30 5zm6 4zm12-1zm8-3zm3 1zm6-1zm2 1zm0 3zm2 0zm2-2zm2-3zm8 4zm-11 4zm-1-2zm-21 4zm-3 0z"/><path id="g182" d="M589 529zm28 1zm9-2zm0 5zm32-1zm18 6zm-25-2zm-18 3zm-8-3zm-9 2zm-4 0zm-2 1zm-16 5zm24 0zm8-4zm1 0zm1 3zm5 2zm2-1zm20 2zm-7 3zm-14 2zm-3-5zm-5 2zm-2 2zm-18 0zm-3-3zm0 2zm-5-1zm-5 2zm-4 1zm7 5zm10 0zm9-3zm3 1zm1-2zm0 1zm0 3zm3 0zm1-2zm2 0zm5-1zm-5 10zm-2-3zm-2-1zm-6 0zm0 2zm-3-1zm-6 1zm-5-1zm0 2zm-12 3zm6 1zm22 3z"/><path id="g183" d="M651 514zm-64 19zm32-5zm26 5zm17-4zm-26 5zm-1 1zm-5 3zm-1-1zm-1 2zm-9 0zm-6-2zm-19 4zm3 3zm13 0zm3 1zm13 0zm4-3zm31 1zm-47 4zm-3-1zm-4 3zm-6 5zm11-1zm-13 12zm22 11z"/><path id="g184" d="M625 527zm-31 1zm54 3zm-49 14zm28 5zm-26-2zm25 10zm-21 0zm-15 7z"/><path id="g185" d="M612 528zm-12 16zm43-4zm14 2zm-61 5zm7 9zm21 0zm3 3zm-16-1zm6 15z"/><path id="g186" d="M707 412zm-3 5zm-6 1zm-39-3zm9 7zm2 0zm0 3zm7-4zm1 1zm3-2zm22 5zm3-5zm9 6zm-4 1zm-10-1zm-1 2zm-7 2zm-3 0zm-3-4zm-2 1zm-7 1zm-30 7zm10 1zm17 1zm5 0zm3 1zm-6 6zm24 3zm-16 11z"/><path id="g187" d="M658 410zm22 8zm-17 5zm5 2zm16-2zm12 1zm14 1zm-51 1zm3 9zm15-1zm10 1zm12-2zm19 1zm-2 9zm-60 1zm25 5zm9-4zm47 15z"/><path id="g188" d="M699 418zm-4-4zm-25 11zm27-5zm1 4zm-15 2zm-9 1zm-14 1zm-1 4zm24 1zm39 2zm-16 8z"/><path id="g189" d="M667 417zm21 5zm17 0zm2 2zm-3 4zm-1 1zm-12 2zm-5-3zm-1 4zm2 0zm9 0zm9 1zm0 2zm5 4zm-25 5zm35 3z"/><path id="g190" d="M675 401zm5 17zm-1 5zm2 6zm10 4zm10 2zm-36 7zm57 3z"/><path id="g191" d="M680 419zm6 5zm-2 6zm-9-2zm17 4zm9 4z"/><path id="g192" d="M690 419zm-30 6zm2 0zm13-2zm2 1zm6-2zm1 0zm3 2zm1 0zm6-4zm2 1zm2 1zm1 1zm9 1zm12 0zm3 4zm-2 0zm-11-2zm-1 4zm0 1zm-8 0zm-1-4zm-9 0zm-2-1zm-6 2zm-10 3zm-1-3zm-10 0zm-2 3zm5 2zm4 4zm1 0zm6-5zm10 4zm5-3zm1 4zm3-5zm0 4zm1-3zm1 0zm1-1zm7 3zm1-3zm3 1zm1 3zm4-4zm4 0zm12 11zm-1-3zm-6 2zm-4-1zm-2 0zm-2 0zm-5-2zm0 4zm-1-3zm-4 2zm-5-2zm-2 0zm-2 1zm-4-2zm-1 2zm-5-3zm-1 2zm0 1zm-3-3zm-1 0zm-2 3zm-1-1zm-1-1zm-7 1zm-5 3zm-2-3zm-2-2zm-1 3zm-14 8zm11-3zm3-1zm2 0zm3 4zm1-5zm0 5zm3 0zm1-5zm3 5zm4-2zm9-3zm0 4zm1 1zm1 0zm1-1zm3-1zm2 1zm3-4zm7 3zm1-3zm6 5zm1 0zm3-4zm2 1zm0 2zm2-3zm11 0zm2 4zm2 4zm-6 1zm-7-4zm-3 1zm-2 1zm0 2zm-4-3zm0 3zm-5 1zm-6-4zm0 1zm-1 2zm-1-2zm-2-2zm0 5zm-2 0zm-2-3zm-2 1zm-4 0zm-11 1zm-1-3zm-4-1zm-1 2zm0 2zm-6-4zm-3 3zm-1-3zm0 2zm-3 6zm0 1zm2-3zm1 1zm4 1zm1 2zm6-1zm1 1zm5 0zm7-1zm0 1zm0 1zm2-1zm3-3zm4 1zm5-1zm2 3zm2-1zm1-3zm2 4zm6-1zm1-2zm3 3zm3-4zm2 4zm2-1zm1-1zm1 2zm12 1zm-12 3zm-2 2zm-2-3zm-10 1zm-3 1zm-1-1zm-3 2zm-6-3zm-7-1zm-4 5zm-4-1zm-1-2zm-4 2zm-1-4zm-2 5zm-1-2zm-4-3zm-14 2zm-1-1zm6 7zm5 0zm0 3zm3-5zm5 1zm1 4zm3-1zm4 0zm2-4zm4 3zm3-2zm1-1zm4 2zm2 2zm9-3zm0 1zm3-1zm1-1zm2 3zm4 1zm3 0zm8-4zm2 10zm-1 1zm-2-5zm-2 4zm-1-3zm-3-1zm0 1zm-5 4zm-6-4zm0 3zm-1-3zm-4 2zm-6-2zm0 3zm-15 0zm-5 1zm-2-1zm-2 0zm-1-2zm-4 1zm-3-2zm-1 3zm-1-1zm-13 7zm13-3zm2 4zm12-3zm5-2zm1 1zm2 1zm1 2zm15-1zm4-3zm2 2zm1-2zm3 4zm4 0zm1-2zm3-1zm24-1zm-4 6zm-18 1zm-11-1zm-27 4zm-25 1zm-1 0zm17 5zm6-1zm0 1zm7-4zm20 3zm8-2zm-41 11zm14 0z"/><path id="g193" d="M704 417zm-24-1zm-17 3zm-4-2zm5 7zm9 1zm6 0zm13-1zm8-2zm11 6zm-1-1zm-5 0zm-1 3zm-7-3zm-6 4zm-2-4zm0 4zm-21 0zm-23 5zm17 0zm10-4zm7 3zm3 2zm6-5zm5 1zm9 4zm1-1zm1-2zm25 3zm0 3zm-10 1zm-5 0zm-12-3zm-1 1zm-4 1zm-2-1zm-4 2zm-5 0zm-1-3zm-5 1zm0 2zm-8 2zm-3-3zm-2 1zm-2 2zm-10-4zm-4 0zm-1 5zm2 4zm13-3zm3 3zm5-4zm1 0zm3 1zm16-1zm1 3zm1 2zm2-1zm0 1zm3-4zm1 3zm4 0zm14 2zm-2 1zm0 1zm-1 1zm-4 0zm0 1zm-5-4zm-5 5zm-6-5zm-2 5zm-3-3zm-1 3zm-7-1zm-6-3zm-1 1zm-3-2zm-4 0zm-1 0zm-1 5zm-8-5zm-6 0zm14 7zm0 1zm0 3zm5-4zm3-1zm0 5zm1-2zm4 1zm5 1zm1 0zm1-2zm1 0zm1 1zm10-2zm5 2zm2 0zm19-2zm0 3zm5-2zm2 5zm-2-1zm-6-1zm-4 4zm-11-1zm-6 2zm-2-4zm-5-1zm-3 3zm-1 1zm-3-1zm-7-1zm-9-2zm-12 4zm-21 1zm9 2zm0 3zm18 1zm1-3zm6-1zm1 1zm0 2zm1 0zm2-3zm1 0zm0 3zm3 1zm2-3zm5-1zm2 4zm1-3zm6 3zm8-2zm6 1zm2 0zm11 0zm-3 4zm-9 3zm-1-2zm-2-1zm-9 0zm-5 0zm-2 2zm-3-2zm-2-2zm-2 2zm-10 1zm-20-1zm-3-1zm4 6zm4 4zm16-1zm3-4zm8 1zm2-1zm3 4zm3-3zm5 4zm12-5zm3 1zm11 7zm-26 3zm-12-5zm-1 5zm-8-2zm-6 0zm-8-3zm-5 6zm14 2zm14 2zm11 1zm2-5zm3 0z"/><path id="g194" d="M687 417zm-5 1zm35 7zm-4 4zm-18-1zm-2 3zm-2-3zm-11 0zm-1 3zm-14-1zm-1 0zm-13 0zm19 6zm10 0zm5-3zm1 0zm19-1zm6 3zm6-2zm12 5zm-3 4zm-9-1zm-8 2zm-7 0zm-1-1zm-5 1zm-1-5zm-3 2zm-3 0zm0 2zm-5-1zm0 1zm-9-1zm-21 2zm-3-5zm-7 11zm16-1zm10-2zm1 3zm2 0zm3-1zm6-4zm2 2zm4-1zm0 1zm2-1zm3 2zm3-2zm4 2zm6-2zm7 4zm5-5zm0 1zm0 1zm8 0zm-3 9zm-4-2zm-3 0zm-9-1zm-7 3zm-4-4zm-6-1zm-6 5zm-13-4zm-8 2zm-8-2zm-1 3zm-2 0zm8 6zm11 0zm3 0zm2-2zm2 1zm5-3zm4 1zm6 1zm6-2zm1 5zm2-3zm4-1zm15 2zm2 1zm11-1zm-20 6zm-3 0zm-3-2zm-20 2zm-6-2zm-6 4zm-15-2zm-8 2zm-7-3zm7 9zm5 0zm3-2zm8-2zm8 3zm1 1zm5-4zm3-1zm2 2zm19 3zm19-4zm-3 9zm-7-4zm-1 5zm-6-5zm-5 3zm-3-1zm-7 2zm-6 1zm-6-1zm-24-4zm23 10zm2 0zm4 0zm9-2zm4 3zm1 0zm2 0zm23 3zm-12 1zm-5-2zm-31 1zm-14-2zm-14 2zm23 5zm2 1zm22 3zm5-5zm19 4zm-22 5zm-28 3z"/><path id="g195" d="M679 424zm8-4zm6 0zm12 2zm-8 5zm-3 3zm-2-4zm0 5zm-3-2zm-5-1zm-24 3zm6 3zm7 2zm11 1zm5-4zm3 4zm30-3zm-10 9zm-5-4zm-1 2zm-2 1zm-1-4zm-2 5zm-16-3zm-7-2zm0 5zm-7 0zm-2-3zm-1 1zm-12 8zm5-5zm0 2zm1 0zm6 0zm16-1zm15 0zm2 1zm10 0zm8 1zm5 0zm2-2zm2 4zm-20 3zm-18 3zm-5-5zm-6 5zm-5 0zm-3 0zm-19 4zm11 0zm12-3zm5 0zm3 0zm9 2zm4-2zm24 1zm6 4zm2-5zm-19 7zm-8 0zm-9-1zm-9 5zm-4-3zm-7 3zm-4-4zm-19 6zm0 1zm2-1zm27-1zm4 3zm6-1zm4 2zm8-3zm13 0zm11-1zm15 5zm-33 1zm-5 3zm-5 2zm-3-4zm-8 4zm-25-2zm1 3zm36 9zm-17-3zm-12 11zm27-2zm10 4zm-20 1zm30 11z"/><path id="g196" d="M681 424zm15-4zm15 5zm9 6zm-9 0zm-30-4zm-11 1zm2 4zm4 5zm5-4zm17 1zm2-2zm7 3zm16 7zm-21 0zm-15 0zm-4 1zm-12-2zm-2 2zm-6-3zm-11-2zm12 6zm4 2zm3 2zm7 1zm36 4zm-7-1zm-1 1zm0 1zm-6 1zm-20 0zm-1-3zm-4-1zm-7 0zm-19 1zm-10 6zm15-1zm36 1zm7 0zm0 2zm26 1zm-31 2zm-7 4zm-11-1zm-13-1zm-12 7zm39-2zm15 2zm4-1zm5-2zm11 4zm5 1zm-59 0zm-2 0zm-1 1zm-8 0zm-2 1zm-15 8zm42-3zm26 1zm2-2zm-14 10zm-43 6zm14-3zm58 4z"/><path id="g197" d="M693 418zm2 11zm-6 2zm-1-1zm-11-1zm-14-3zm30 6zm9 1zm4 1zm19 3zm-12 1zm0 2zm-40-2zm-5 0zm-3 3zm-6 2zm-2 2zm5 1zm13 0zm8 1zm10 0zm4 1zm27-4zm-25 6zm-14 1zm-22 4zm-5-2zm3 6zm7 1zm8-1zm12-2zm3 0zm2-1zm7 4zm5 0zm13 4zm-30 1zm-1-3zm-1 5zm-6-4zm-5 4zm-8 1zm31 1zm8 2zm23 2zm-9 1zm-12 0zm-1 1zm-20 3zm-21 2zm17 1zm9 2zm15-3zm-44 16zm29-4z"/><path id="g198" d="M661 458zm3 0zm21 2zm19 7zm-4 0zm-15-5zm-6 4zm-11-2zm-7 4zm17 2zm2 3zm35 0zm22 4zm-5 2zm-20-1zm-4 1zm-1-1zm-7 0zm-13 0zm-6-2zm-1 0zm-3 0zm0 2zm-6-2zm-7 3zm-3-4zm-19 2zm17 4zm3 1zm8-2zm0 3zm11-3zm4 3zm1-1zm2-1zm2 4zm6 0zm6 0zm2-4zm0 4zm7-1zm3-1zm5 1zm20-4zm0 5zm-17 5zm-1 1zm-2-2zm-10 0zm-3 0zm-3-2zm-2 0zm-1 0zm0 2zm-6 2zm-4-2zm-8 2zm-5 0zm-3-5zm-1 4zm-5 1zm-3-2zm-8-2zm-5 6zm6 1zm11 0zm5-2zm6 1zm1 2zm1-2zm0 2zm1-1zm5-1zm0 3zm1-4zm2 4zm2 0zm1-4zm3 0zm0 1zm0 2zm0 1zm0 1zm2-5zm6 3zm1-3zm0 2zm2 2zm2-1zm1 1zm2-4zm2 4zm4-4zm11 1zm5 4zm2 3zm-11 0zm-3 0zm-2-1zm-9 1zm-13 1zm0 1zm-3 0zm0 1zm-2-5zm-4 4zm-1-1zm-4 1zm-1-3zm-2 3zm-3 1zm-1-1zm-1-1zm-1 0zm-2-1zm-1-2zm0 2zm-1-1zm-1 0zm0 3zm-1-1zm-3-2zm-3-1zm0 4zm-4-1zm-1-2zm-7 4zm-3-4zm-5 5zm17 3zm7 2zm1-3zm1-2zm0 3zm1-2zm6 4zm7-5zm0 1zm0 4zm3-1zm5-2zm5-2zm2 2zm0 3zm5-2zm2-1zm1-2zm0 5zm3-1zm2-1zm7 2zm5-3zm10 0zm-1 8zm-11-4zm-1 2zm0 1zm-2 0zm-1-1zm-5-2zm0 3zm-7-1zm-2 0zm-2-2zm-1 1zm-1-1zm0 1zm-6 2zm-1 1zm-2-4zm-1 4zm-1 0zm-4-4zm0 1zm-1 4zm-1-1zm-2-2zm-1 0zm-4 2zm-4-1zm-2-3zm-4 1zm-3-1zm-2 1zm-2 0zm-7 4zm-5-1zm-5-4zm-6 3zm3 5zm15-1zm12 0zm0 4zm1 0zm1-3zm1 0zm8 3zm3-2zm0 1zm3-2zm1-1zm0 2zm0 1zm4 1zm3-3zm1 1zm2 0zm6 2zm7-3zm4-1zm1 0zm1 1zm2-2zm0 1zm1-1zm8 10zm-2-3zm0 2zm-3 0zm0 1zm-6-4zm-7 2zm-4 0zm-1 3zm-2-1zm-4-2zm-2 3zm-5-3zm0 3zm-2-5zm-2 3zm-2-3zm-16 1zm-5-1zm-6 0zm-1 6zm3 1zm0 3zm20-4zm0 3zm2 1zm1-2zm3-2zm5 5zm4-5zm1 1zm1 3zm2-4zm0 5zm4-4zm6 1zm3 2zm0 1zm1-4zm0 3zm7-3zm-4 6zm-11-1zm-2 1zm-1 1zm-16 0zm0 1zm-2 0zm-6-2zm-11 3zm-2-4zm-3 0zm39 6zm5 1z"/><path id="g199" d="M717 462zm-7 1zm-11-1zm-20 5zm0 4zm5 2zm2-1zm8-3zm5 1zm3 2zm5-1zm18 2zm1-5zm14 8zm-6 0zm-5 2zm-22 1zm-3-2zm-8-1zm-7-1zm-5 0zm-2 3zm-1-2zm-1-1zm-21 4zm-4-2zm-12 2zm11 4zm12-2zm11 1zm1-2zm3 2zm6-1zm2 2zm10 2zm1-2zm2 1zm0 1zm3-2zm1 0zm6-3zm1 1zm0 3zm8-4zm14 2zm3 2zm-15 6zm-5-2zm-2 0zm-5 2zm-1-1zm-1-2zm0 2zm-1-3zm-5 1zm-8 3zm-2 1zm-4-3zm-1-2zm0 4zm-1-4zm-8 2zm-8-2zm0 5zm-12 0zm-17-2zm6 5zm2-2zm3 4zm7 0zm1 0zm8-2zm1-1zm1 0zm0 2zm1-2zm1 3zm4 0zm1-1zm3-1zm7 0zm8-2zm9 2zm1-2zm3 2zm2-1zm1 2zm1-3zm1 5zm4-3zm21 2zm-2 5zm-8-1zm-9-2zm-2 4zm-1 1zm-3-4zm-5 4zm-1-2zm-1 2zm-2-1zm-11-4zm-6 1zm-1 2zm-8 0zm-1 0zm-2-1zm-3-1zm-2 1zm-2-1zm0 2zm-3 1zm-2-4zm-11 4zm0 1zm-2 0zm-10 4zm11-3zm1 3zm3 2zm2-5zm2 2zm8 3zm3-3zm3-1zm1 0zm1 1zm2 2zm1-4zm1 3zm3-1zm1-1zm1 2zm10 0zm6-1zm1 3zm1 0zm1-5zm1 0zm4 1zm3 4zm4 6zm-1-3zm-2 0zm-1 3zm-9 0zm-1-3zm-1 3zm-3-1zm-1-3zm0 4zm-5-5zm-1 3zm-1-2zm-1 0zm-1 1zm-1 2zm-3-4zm-6 0zm0 3zm-4-2zm-1 0zm-7 2zm-1 2zm-14-2zm-3-3zm-13 7zm16 0zm7 2zm0 1zm10-4zm6 5zm3-3zm12 1zm4 0zm1-1zm1 2zm7 1zm3-4zm3-1zm0 1zm6 3zm1-4zm3 0zm2 3zm2-2zm16 7zm-27 3zm-3-1zm-3-4zm-5 0zm-1 2zm0 1zm-1-2zm0 2zm-1-2zm-8 2zm0 2zm-2-1zm-4-3zm0 4zm-5-3zm-1 3zm-3-5zm-1 5zm-3-2zm-4-1zm-7 0zm-6 9zm8-3zm5 0zm0 3zm5-5zm0 5zm10-5zm1 1zm6-1zm0 2zm4 1zm5 2zm13-2zm6 2zm-9 3zm-4 0zm-2 0zm-5 2zm-8-2zm-1 2zm-1-3zm-2 1zm-2-1zm-4 4zm-6 0zm-25-1zm16 3zm4-1zm10 3zm21 2z"/><path id="g200" d="M659 452zm81 4zm-14 11zm-78 5zm18-3zm6-1zm22 1zm3 0zm0 1zm0 2zm13-3zm12 6zm-25 4zm-4-1zm-47 1zm-3-4zm13 5zm6 4zm3-1zm1-1zm6 3zm5-3zm18 1zm3 0zm0 2zm10-1zm3-4zm7 0zm5 1zm6 6zm-12 3zm-3-2zm-8 3zm-4 0zm-1-1zm-3-4zm-9 3zm-1-2zm-12 2zm-1 0zm-1-3zm-1 2zm-13 2zm-1-1zm-8 2zm-3-5zm4 8zm6-2zm0 5zm10-3zm4 2zm3-3zm0 4zm9-1zm1 1zm1-3zm1-1zm6-1zm19 3zm13 0zm1 3zm-12 5zm-3-1zm-6 1zm-14-3zm-4 2zm-2-2zm-1 2zm-1-1zm0 1zm-1 1zm-1 0zm-10 0zm-1-4zm-10 3zm-1-3zm-3 2zm-15-1zm6 5zm5-1zm20 0zm0 5zm1-4zm5 1zm3-2zm10 2zm5 0zm2-1zm0 2zm3 1zm6 0zm1-2zm2 0zm5 2zm6 7zm-8-2zm-7 2zm-3-5zm-1 3zm-3-2zm-2 4zm-2-2zm-5-3zm0 1zm-4 3zm-3-4zm-8 1zm-3 0zm-5 3zm-4-3zm-1 1zm-6-1zm-3-1zm-16 0zm15 8zm24-2zm4 3zm1-3zm0 1zm0 4zm19-5zm8 2zm0 3zm12 6zm-12-3zm-4-1zm-5 4zm-4-2zm-3 2zm-5-2zm-5-1zm-4 0zm-1 2zm-1 1zm-16-2zm-2 0zm-16 8zm14-1zm7-3zm8 1zm2-1zm10 4zm1-2zm1-3zm21 2zm1 0zm3 0zm3-1zm-8 8zm-12-2zm-9 1zm-6 1zm-5-3zm-5 3zm-5 0zm-8-1z"/><path id="g201" d="M715 455zm-22 17zm16 0zm7 3zm-7 4zm-3 0zm-39 5zm2-4zm2 3zm23-1zm4-1zm10-1zm4 5zm18-4zm-15 6zm-5 4zm-7-4zm-14-1zm0 1zm-13-1zm-11 1zm-9 1zm-7 6zm13-1zm0 2zm20 1zm11-2zm5-2zm7 4zm1-1zm3 5zm-8-2zm0 3zm-3-3zm-6 1zm-4-1zm-3 1zm-23 3zm4 6zm5-4zm13 4zm19-3zm4 3zm9-2zm1 0zm8 7zm-11-2zm-18 4zm-15-3zm-6 1zm-3-3zm-24 7zm1 0zm22 0zm1 4zm1 0zm12-2zm23-2zm3 0zm6 1zm-5 8zm-24-2zm-1-2zm-7 0zm-32 3zm15 6zm7 2zm3-5zm2 0zm28 4zm10-1zm5 5zm-12-1zm-24-1zm-34 6zm9 2zm31-2zm29 2z"/><path id="g202" d="M678 470zm5 1zm17 2zm6 6zm-11 0zm-5-3zm-7-1zm-28 5zm30 3zm22 2zm14 1zm-19 1zm-3 0zm-2 2zm0 2zm-2-2zm-9 2zm-11-2zm-8 1zm0 4zm27 0zm3 2zm3-4zm26 0zm-1 7zm-2 1zm-25-1zm-4 0zm-8 1zm-4 2zm-3-1zm-4 1zm-21 6zm18-1zm2-2zm17 0zm3 3zm8 1zm32 6zm-7-2zm-4-1zm-8-1zm-1-1zm-11 5zm-3-4zm-1 2zm-2 0zm-3 1zm-4-4zm-24 0zm-6 10zm14-3zm3 3zm13-3zm17 8zm0 2zm-6-2zm-2-3zm-1 4zm-5-1zm-16-2zm-18 0zm8 10zm2-4zm3-1zm2 0zm1 4zm5-4zm5 2zm11 3zm10-4zm20-1zm-54 17z"/><path id="g203" d="M736 456zm-49 15zm5-3zm30 7zm-31 3zm-1 0zm-13-1zm-11-3zm-3 6zm15 3zm10-3zm19 1zm12 10zm-45-2zm9 7zm3-4zm31 1zm1 2zm-3 6zm-32 0zm-8-3zm-1 0zm-7 4zm-22 7zm43-1zm1-3zm1 1zm3 3zm14-2zm31-2zm-38 16zm4-2zm4 2zm22-1zm-13 7zm-31-3zm-23 0zm43 6zm-33 5z"/><path id="g204" d="M656 519zm32 2zm34 1zm-42 0zm-11 5zm-10-1zm16 4zm2-1zm11 3zm4 1zm2-2zm1 1zm2 4zm-2-1zm-2-1zm-7 4zm-18-4zm-5 4zm-11 3zm0 4zm8 0zm9-5zm48 3zm-9 7zm-47-2zm-6 0z"/><path id="g205" d="M673 521zm7 0zm3-3zm17 2zm7-2zm2-1zm14 8zm-35 1zm0 1zm-4-1zm-13 1zm-28 6zm15-3zm7 1zm7 1zm17 1zm5-2zm5 2zm14-2zm2 4zm-9 0zm-12 1zm-14 2zm-2-3zm-3 3zm-14-1zm-7-1zm-3 7zm12-3zm14 0zm1 4zm13-2zm-38 8z"/><path id="g206" d="M678 527zm23 16z"/><path id="g207" d="M669 515zm38 12zm-23 6zm18 2zm-1 0zm-18-1z"/><path id="g208" d="M683 527zm-10 2zm20-1zm8 7zm-13 2z"/><path id="g209" d="M683 519zm-37 14zm41 8z"/><path id="g210" d="M723 427zm-4 4zm-11-4zm0 3zm-6 2zm6 0zm1 1zm3 4zm1-2zm12-3zm0 5zm3-3zm-2 5zm-10-1zm-6 1zm-2-1zm7 11zm12-2zm1 1zm1-2zm9-2zm1 6zm-6 0zm-1 1zm-2-1zm-1 1zm0 2zm-1 2zm-2-2zm-3 2zm-1-5zm-1 2zm-4 1zm-15-1zm-2 2zm21 3zm0 1zm2 0zm0 3zm1-5zm0 3zm6 2zm3-3zm3-1zm4 2zm2 1zm1 6zm-1 0zm-2 1zm-3-4zm-1 1zm-4 2zm-3 1zm-1-3zm-3 0zm-1 0zm-2 2zm-3-1zm-12 6zm11-1zm0 2zm1-2zm5 0zm6 2zm5 0zm3-2zm3-1zm3 3zm0 6zm-8 0zm-1 1zm-1-3zm-11-1zm-2 1zm-14 8zm8 1zm5-3zm8-1zm5 0zm13 6zm-7-1zm-47 7zm38 4zm3-3zm13-2zm-9 12z"/><path id="g211" d="M681 423zm30 11zm1 0zm10 1zm4-1zm13 3zm-14 4zm-5-2zm-5 0zm-2 4zm-3 1zm16 5zm7-1zm-4 2zm0 2zm-11-2zm0 3zm-18 1zm7 2zm8 0zm6 0zm3 2zm0 1zm12 1zm4-4zm5 6zm-1 2zm-4-1zm-3 3zm-3 1zm-2-3zm-5-1zm-8 4zm-11-1zm-9 7zm21-3zm2 1zm3-3zm5 2zm2 2zm9 0zm1-3zm0 3zm-2 5zm-11 1zm-2 0zm-3-3zm-1 1zm-11 9zm3-4zm19 0zm1-1zm8 2zm1 2zm3-2zm-10 9zm-2-1zm0 3zm8 7zm-3 2zm-37-2z"/><path id="g212" d="M729 431zm-21 1zm3 5zm1-2zm1 1zm15 0zm0 4zm-1-1zm-23 3zm17 5zm1 2zm10-2zm4 2zm-12 3zm-1 3zm-1-5zm-8 1zm6 6zm4 0zm9 1zm4-2zm6 4zm-1 6zm-4 1zm-1-2zm-4 1zm-1-2zm-2 1zm-2 2zm-26 2zm22 1zm0 3zm4-1zm7 1zm11-5zm1 4zm3-2zm-16 7zm-3 1zm-3 1zm3 6zm1-3zm12-1zm-6 9z"/><path id="g213" d="M702 428zm33 17zm4 5zm-8 4zm-11-3zm-8 0zm-7 0zm-1 1zm9 6zm15-1zm1-1zm5 0zm3 1zm8 2zm10-2zm-20 7zm-8 2zm-7 0zm16 2zm1 0zm1 1zm4 4zm0 10zm0 9z"/><path id="g214" d="M745 437zm-34 8zm12 1zm14 1zm-10 5zm-24-1zm-3 10zm38-3zm-35 10zm28 1zm2 5zm-5 2zm12 6zm12-1zm-19 10zm12 6zm-1 10z"/><path id="g215" d="M705 427zm-9 11zm43 14zm-15 0zm1 17zm1-1zm6 1zm9 10zm-10-3zm0 2zm17 20z"/><path id="g216" d="M731 461zm2 6zm-2-5zm-4 1zm-4 8zm3-2zm8 0zm1 0zm2 2zm-4 8zm-10-1zm-3-3zm-6-1zm-16 3zm11 8zm16-5zm14 1zm2 4zm3-3zm0 2zm3-1zm10 6zm-2-2zm-2 0zm-6 3zm-1-2zm0 1zm-6-2zm-4 2zm-1 2zm-6-3zm-1 1zm-1-1zm-7-2zm-1 1zm-4 1zm-4 2zm7 7zm2-5zm0 1zm3 3zm9 1zm4-3zm4-1zm1-1zm0 4zm4-1zm6-3zm-2 9zm-2 1zm-4-3zm-1-1zm-1 0zm-2 0zm-1 5zm-1 0zm-1-2zm-1 0zm-2-3zm-3 1zm0 1zm-2 1zm-1 0zm-2 1zm-2-1zm-2-1zm-2-1zm-8 2zm-1 0zm0 8zm1-3zm3 1zm7-1zm11 3zm1-1zm7-4zm0 1zm0 4zm2 0zm1-5zm1 4zm5-3zm1 3zm-8 3zm-1 4zm-1-1zm-2-1zm-2 0zm-1-2zm0 4zm-5-3zm-1 1zm-7 1zm-4-1zm-16 6zm3 1zm5-1zm4 1zm10-4zm4 1zm0 2zm2-3zm2 0zm4 5zm7-3zm7 1zm-14 6zm-2-3zm-1 4zm-4-2zm-1-1zm-9 1zm-10 1zm-1 1zm-1-4zm7 10zm4 1zm5-4zm-25 9z"/><path id="g217" d="M731 455zm-18 14zm4 3zm3 0zm22-3zm-1 7zm-3 2zm-13 0zm-9-1zm5 6zm3 0zm6-2zm13 10zm-1-3zm-4 1zm-1 1zm-13 0zm-3-4zm-6 0zm-6 2zm-6 7zm8-1zm3-2zm1 4zm6-1zm3 1zm3 0zm3 0zm1 0zm1-3zm4 0zm4 3zm4-1zm4 4zm-1 1zm-3-1zm0 1zm-1-1zm0 2zm-10 2zm-2-3zm-3-1zm-2 3zm-12 0zm-26-1zm5 7zm15 0zm23-2zm1-1zm2-1zm11 4zm1-2zm3 8zm-5-2zm-1-2zm-4 2zm-2 2zm-2 0zm-2-4zm-1 0zm-4 1zm-5 1zm-1 3zm-1-2zm0 2zm-4-5zm-2 4zm-3-3zm-12 4zm-8 1zm9 2zm14 1zm4-3zm8 4zm1 1zm1-4zm14 1zm-7 4zm-5 1zm-1 0zm-15 2zm-4-1zm1 9zm15-5zm1 1zm11 2z"/><path id="g218" d="M741 471zm6 5zm-10 3zm-14-5zm-1 5zm-5 0zm-24 1zm36 5zm2-3zm1 3zm12 0zm2-3zm6 5zm-33-1zm-8 1zm6 10zm2-1zm2 1zm15-2zm6-1zm11 7zm-10 1zm-1-3zm0 1zm-3 2zm-12 0zm-1-2zm-1-2zm-5 3zm-10 6zm2-1zm6-2zm6 1zm5 2zm3 1zm5-4zm2 0zm3 5zm6 6zm-8-4zm-2 2zm0 2zm-3-3zm-4-2zm-4 1zm-1 3zm-6-3zm-2 0zm-4 2zm-10 2zm7 3zm2 1zm17 1zm3 2zm-2 5zm-6-5zm-4 3zm-5 0zm-1 0zm6 4zm2 3zm3-1zm4-3z"/><path id="g219" d="M725 471zm7 3zm-4 4zm-1-4zm2 6zm10 0zm-9 9zm-4 2zm-6 5zm11-4zm9 3zm9 0zm-15 3zm-15 4zm-9 4zm11-2zm4 0zm11 2zm9 5zm-7 4zm-6-4zm-3 1zm-16 1zm-13 1zm20 5zm4 1zm5 1zm6-2zm25 6zm-24-1zm-7 3zm-2-3zm-26 1zm14 8zm13 2z"/><path id="g220" d="M738 462zm-22 21zm25 3zm-5 5zm-7-1zm-5 0zm-19-4zm28 6zm-4 8zm-24 3zm25 6zm9-2zm-16 3zm-13 0zm7 24z"/><path id="g221" d="M729 471zm6 3zm-18 0zm8 8zm19 5zm-21 1zm4 8zm1-3zm2 1zm8 5zm-2 4zm1 1zm10 1zm2 4zm-19 11zm11-1zm2 10z"/><path id="g222" d="M694 521zm-31 11zm16-2zm17 3zm1-2zm8 0zm3 1zm32 7zm-8 0zm-1-1zm-6-4zm-3 3zm-7-1zm-3 1zm-4-2zm-1-1zm0 2zm-4 0zm-3-1zm-3 0zm-4-1zm-2 2zm-1-2zm0 3zm-1 0zm-2 0zm-15 0zm-22 1zm-10 7zm6-2zm4-2zm4 3zm1-2zm4 2zm7-4zm2 0zm0 3zm2 1zm3 0zm1 1zm6-3zm0 1zm3-2zm2 1zm2-2zm0 3zm6-3zm1 1zm1 0zm1-1zm0 2zm3 1zm2-1zm2 1zm1-2zm3-1zm1 1zm1 4zm1-1zm1 0zm1-3zm0 2zm3-2zm1-1zm0 1zm1 0zm0 2zm6-2zm1 0zm2 0zm8 2zm8-2zm-2 9zm-5-3zm-11 2zm-5 0zm-3-2zm0 2zm-1 1zm-4 1zm-1-2zm0 1zm-1-3zm0 2zm-1-3zm-1 2zm-6-2zm0 1zm-1-1zm0 1zm-1 2zm-1-2zm-1 1zm-1 2zm-1-4zm-2 5zm-1 0zm-1-4zm0 2zm-4-1zm-2 1zm-1 2zm-1-5zm-2 1zm0 3zm-1-2zm-1 2zm-6-2zm-3-2zm0 1zm0 4zm-1-4zm-1-1zm0 1zm0 1zm0 2zm-1-4zm-2 5zm-2-3zm0 1zm0 2zm-1-3zm-5 1zm-1 2zm-5-3zm-1-2zm-5 1zm0 1zm-1 1zm-3-1zm-3-2zm-1 1zm0 3zm-2-2zm0 2zm-3 4zm3 2zm6-2zm0 3zm1-5zm7 0zm4 0zm2 0zm0 1zm2 0zm0 1zm1 2zm4-3zm1-1zm1 3zm2-1zm2 3zm1-3zm1-2zm0 1zm2 2zm1-2zm2 4zm5-2zm2 0zm1-1zm2 1zm1-1zm2-2zm1 3zm0 1zm0 1zm3-2zm3-3zm2 1zm1 4zm2 0zm3-5zm0 2zm2 2zm1-2zm1 2zm2-3zm3 1zm3 2zm1-1zm0 1zm0 1zm3-2zm0 1zm1-4zm4 1zm0 2zm3 2zm1-5zm0 2zm3 0zm1 3zm1 0zm1-2zm2 0zm1-1zm2 5zm-1 1zm0 1zm-2-2zm-5 0zm0 1zm0 1zm-4-3zm-2 0zm-3 1zm-1 0zm0 3zm-1-2zm-2-2zm-1 3zm0 1zm-1-1zm-1 1zm-1 0zm0 1zm-2-4zm-1 3zm-2-1zm-1 1zm-1-3zm-2 2zm-2-2zm-1 1zm0 2zm-3-1zm-3 0zm0 1zm-3 0zm-1-2zm0 3zm-1-5zm0 5zm-5-2zm-1-2zm-2 4zm-1-1zm-2-1zm-2-2zm-2-1zm-3 2zm-1 0zm-2-2zm-4 0zm0 1zm0 4zm-1-5zm-1 4zm-2-3zm0 3zm-1-4zm0 3zm-2 0zm-2-2zm-1 0zm-2 3zm-2-1zm-2 1zm-1 0zm-1-4zm-1 3zm-1 0zm0 1zm-1-2zm-1-2zm0 2zm-3 0zm-3-2zm-2 1zm-3 1zm-1 0zm-1-1zm-3 1zm-1 0zm-1 3zm-8 0zm1 3zm9 1zm2 0zm3-3zm2 4zm2-2zm1-1zm2 0zm1 4zm4-1zm2 0zm2-3zm0 1zm5 3zm2-3zm3 2zm5-2zm3-2zm0 4zm2 1zm4-3zm0 2zm1-2zm0 2zm3-3zm2 0zm3 2zm2-3zm4 1zm0 1zm1 3zm2-4zm3 2zm1-1zm5 2zm4-2zm1 0zm1 1zm3-1zm1 1zm2 0zm1-3zm2 1zm1 2zm5 1zm0 1zm2-5zm2 4zm3 1zm3-5zm0 4zm1 1zm2 0zm4-3zm1 1zm0 1zm1 1zm1-1zm2-3zm0 10zm-6-2zm-1 0zm-1 0zm-4 2zm-3-5zm-1 3zm-1 0zm-1 0zm-1-1zm-1-1zm-1 1zm-1-1zm-3 0zm-2-1zm-1 5zm-2-5zm-5 4zm-1-2zm-1-2zm-3 3zm-6-3zm0 1zm-4 2zm-3-2zm-2 1zm-1-1zm-1 3zm-2-3zm0 4zm-4-2zm0 2zm-4-4zm-2 4zm-1-4zm0 1zm-5-2zm-1 3zm0 2zm-1-4zm0 2zm-2-2zm-1 4zm-1 0zm-1-2zm-6-2zm-1-1zm0 2zm-6-2zm-1 4zm-2-4zm0 2zm0 2zm-3-1zm-5-2zm-1 0zm0 3zm-3-1zm-1 0zm-1-3zm0 2zm-3-2zm-1 0zm8 9zm3 0zm1 0zm1 1zm1 1zm6-1zm1 1zm3-1zm1 1zm1-3zm1-2zm4 1zm0 4zm4-3zm0 2zm5-4zm2 1zm0 1zm0 2zm2-3zm2-1zm3 5zm1-3zm2-2zm0 5zm1-3zm2 2zm0 1zm1-1zm2-2zm1 1zm1 0zm4-2zm0 2zm1 1zm1-4zm0 1zm2 3zm2-4zm0 1zm0 1zm1 2zm1-4zm2 0zm1 2zm3 0zm0 1zm1 0zm0 2zm2-4zm0 3zm2 1zm8-4zm1 0zm1 1zm1 3zm2-1zm1-4zm3 4zm3-4zm0 5zm3-5zm1 1zm1 1zm2 2zm3-2zm0 3zm13 0zm-5 1zm-8 5zm-3-4zm-1 4zm-2-3zm-1 3zm-3 0zm-1-1zm-3 0zm-3-3zm-1 3zm-1-2zm-2 2zm-2-3zm0 3zm-1 0zm-1-1zm-1 1zm-3-4zm0 3zm-1-3zm-3 5zm-2 0zm-1-5zm0 3zm-2 1zm-1-2zm-3 3zm-1-5zm-5 3zm-5-1zm-1-1zm-2 1zm0 1zm-2 1zm-1-3zm0 1zm-2 2zm-2-1zm-2 0zm-4 2zm-2-2zm0 2zm-5-4zm0 3zm-5-3zm-2 0zm-5-1zm-3 0zm0 5zm-2-5zm0 2zm-1 3zm-1 0zm-4 0zm-6-3zm-1 3zm-2-1zm-13-3zm21 9zm6-4zm7 5zm1-3zm1-1zm0 2zm8-1zm1 3zm2-1zm2 0zm5-3zm1-1zm0 1zm1 1zm1-2zm0 1zm1 2zm1-3zm4 2zm2-1zm1 0zm7 1zm2-1zm1 3zm1 0zm2-3zm1-1zm1 1zm0 1zm8 3zm3-1zm1-3zm0 3zm1-3zm2 2zm2 1zm2-1zm2-2zm0 2zm2-2zm4-1zm2 0zm2 4zm5-2zm0 2zm8-4zm-7 7zm-3-1zm-1 3zm-3-1zm0 1zm-3-2zm-1 4zm-2 0zm-1-3zm-1 3zm-4-5zm0 5zm-3-1zm-4-1zm-4 0zm-1-2zm0 3zm-1-3zm0 2zm-1-2zm-1 2zm0 2zm-1-1zm-2-4zm0 2zm-3-2zm-2 4zm-1 1zm-1-1zm-1-3zm-4 1zm0 1zm-1 0zm-4-2zm-1 0zm0 3zm-3 0zm-1-4zm0 1zm-2 2zm-1-3zm-1 0zm0 4zm-2 0zm-1 1zm-1-4zm0 1zm-3-1zm0 3zm-3-4zm-2 3zm0 2zm-6-3zm-2 3zm-1-2zm8 3zm2 2zm2-1zm4-1zm0 2zm2-1zm1 3zm1-1zm2 0zm1-3zm3 3zm5-2zm3 0zm1 1zm2-1zm0 4zm1-4zm0 2zm6-3zm0 4zm3-3zm2-1zm0 3zm1 1zm2-3zm0 4zm1-2zm1 1zm6-1zm4-3zm1 3zm1 0zm2 2zm1-5zm0 1zm0 1zm2-1zm1-1zm0 5zm10 4zm-2 0zm-11 2zm-3-4zm-4 0zm-2 1zm-1 0zm-1-1zm-1 0zm-1 0zm-2 3zm-2 1zm-2-4zm-4 0zm0 1zm-1 0zm-4-2zm-1 0zm0 1zm-1 0zm0 2zm-3 1zm-4 1zm-3-1zm-1-1zm0 1zm-4-3zm0 2zm-1-3zm-2 5zm-1-5zm-4 5zm-5-5zm-1 0zm-1 0zm0 5zm-2-4zm25 10zm1-4zm1-1zm4 4zm3 1zm2-2zm0 2zm1-1zm2-4zm2 2zm2-2zm9 2zm4 2zm4-4zm4 3zm-11 5zm-9-2zm-6 5zm-2 0zm-3-5zm0 2zm-10 1zm13 7zm16-2z"/><path id="g223" d="M674 533zm9 0zm21-3zm1 3zm6 0zm10-1zm8 3zm-2 3zm-11-1zm0 1zm-2-3zm-8 4zm-4 0zm-3-3zm-2 0zm-6 2zm-6-3zm-2-1zm-1 1zm-1 0zm-3 4zm-14 0zm-30 6zm10-1zm6 1zm3 0zm4-1zm2 1zm2-2zm0 2zm1-3zm0 1zm2-1zm7-2zm14 0zm2 3zm0 2zm2 0zm1-5zm1 2zm0 3zm1-5zm0 4zm4 0zm8-4zm2 2zm2-1zm13 0zm4 2zm1 1zm4-2zm1 2zm0 1zm2-4zm5-1zm4 8zm-5-2zm-3 1zm-5 3zm-3 1zm-3-3zm-1-2zm0 5zm-6-1zm-2 1zm-3-5zm-1 5zm-7-5zm-1 2zm-1-1zm-2 4zm-4-3zm0 1zm-1-3zm0 4zm0 1zm-2-1zm-3-3zm0 4zm-1-1zm-1-4zm-3 1zm-1 2zm0 1zm-1 0zm-1 1zm-3-5zm-4 3zm-2-2zm-4 2zm-1 0zm-2 2zm-2-4zm-5 1zm-1 0zm-1-1zm0 3zm-4 1zm-2-5zm-5 1zm-3 1zm-2 2zm-1-2zm-12 7zm2-2zm5 2zm6-1zm0 3zm1-5zm0 2zm1-1zm1 0zm0 3zm1-4zm0 1zm1 0zm2 2zm6-2zm2 1zm2-1zm0 4zm7-3zm0 1zm3 2zm1-2zm1-3zm4 0zm1 4zm8-2zm2-1zm3 0zm2 1zm1-2zm1 3zm2-3zm3 1zm1 0zm2 2zm1-3zm0 4zm1-2zm1 1zm2 0zm0 2zm4-3zm5 3zm4-2zm3 1zm1-2zm1 0zm2 3zm4-3zm4 3zm7 0zm4 4zm-1-3zm-4 2zm-1 1zm-1 2zm-2-2zm-2-2zm0 2zm-1 1zm-2 0zm-4-3zm-1 3zm-2 1zm-1-5zm-2 1zm-3 1zm0 3zm-1-5zm-1 3zm-4-3zm-6 1zm-4 1zm-1 2zm-1-1zm-1 2zm-1 0zm-1-4zm0 4zm-4 0zm-4 0zm-1-4zm0 1zm-3 1zm-2-1zm-2 3zm-3-5zm-4 1zm0 3zm-1-3zm-2 3zm-1-3zm-1 2zm-5 0zm-1 0zm-1 0zm-1 2zm-5-5zm-1 3zm0 1zm-1 1zm-2-5zm-1 0zm-1 0zm0 3zm0 1zm-1-3zm-6 1zm-2 3zm-4-4zm0 2zm0 2zm-1-2zm-7 0zm-3 1zm-2-1zm3 5zm6 1zm3-3zm4 2zm1-1zm2-1zm8 5zm3-2zm2 0zm8 0zm4-2zm3 0zm1 4zm2 0zm2-5zm3 4zm0 1zm2-4zm0 4zm1-4zm1-1zm0 2zm4 2zm1-4zm0 2zm2 2zm0 1zm2-5zm2 0zm9 3zm2-2zm3 0zm1 3zm1-4zm5 3zm2 1zm3-1zm4-3zm2 4zm4-2zm1 2zm4-4zm0 2zm3 2zm1 1zm3-5zm-1 11zm-1-1zm-1-4zm0 1zm0 3zm-1 0zm-1-4zm-3 2zm-1-2zm-1 2zm-2-1zm0 2zm-3 1zm-10 1zm-1-5zm-3 3zm-1 2zm-1-5zm0 4zm-3-4zm-1 4zm-7-1zm0 1zm-1-3zm-1 4zm-2-5zm-1 0zm0 1zm-1-1zm-2 4zm-1-4zm0 3zm-3 0zm-3-3zm-1 3zm-2-1zm-1 0zm-2 1zm-2-3zm0 5zm-2-5zm-3 2zm0 3zm-2-4zm-2 1zm-1 3zm-1-3zm-1 3zm-2-4zm0 2zm-2-3zm0 4zm-3-2zm0 1zm-2 1zm-3-1zm-2-1zm-3-2zm-3 1zm0 4zm-10-4zm-6 3zm10 7zm4-3zm11 0zm1-2zm0 3zm0 1zm2-2zm3-1zm1-1zm2 1zm0 1zm1 3zm1-1zm2-3zm2 0zm0 4zm5 0zm5-1zm4-3zm1-1zm0 5zm3-2zm1 0zm1-2zm1-1zm1 1zm2 0zm1-1zm2 1zm3 3zm3 0zm1 0zm1-4zm3 1zm4 3zm0 1zm1 0zm1-5zm0 3zm1 2zm3-5zm1 1zm1-1zm5 3zm1 2zm1-5zm5 1zm4 3zm2-1zm1-3zm2 3zm1-1zm-1 9zm-4-5zm-3 4zm-5 0zm-2 1zm-6-5zm-3 0zm-2 3zm-3 2zm-1-4zm0 4zm-2 0zm-1-2zm-1 0zm-1-3zm-1 3zm-5 2zm-5 0zm-1 0zm-5-3zm-2 0zm-5 2zm-2-4zm-1 3zm-2 1zm-1 1zm-1-1zm-3-2zm-3 2zm-2-4zm-1 4zm-3 1zm-1-5zm-2 3zm-10-1zm-1 0zm-3 1zm-2 0zm-6-3zm-2 10zm6-3zm0 1zm0 2zm2 1zm1-5zm4 1zm1 1zm2 3zm1-3zm1 0zm0 3zm1-1zm4 1zm1-4zm0 1zm2 2zm2-3zm2 4zm1-5zm0 3zm1-2zm0 3zm2-4zm1 0zm1 2zm0 3zm3-3zm1 1zm4 0zm3 2zm3-3zm0 3zm2-2zm4 1zm1 0zm4 1zm5-1zm2-1zm0 2zm3-4zm0 4zm2-3zm0 2zm7-4zm1 0zm4 1zm1 0zm0 3zm3-2zm3 2zm1 1zm7-3zm6 2zm-5 2zm-2 4zm-8-1zm-1-2zm-2-1zm-2 1zm0 2zm-2-2zm-6 0zm-2 1zm-6 2zm-4-2zm-3 3zm-2-2zm-1-1zm-1-2zm-4 0zm-4 1zm0 2zm-1-2zm-1 1zm-2-1zm-1 4zm-3-2zm-1-3zm-1 3zm-5-1zm-3-2zm0 4zm0 1zm-2 0zm-1-1zm-1 0zm-3-3zm0 2zm-3 0zm-3 2zm-2-4zm0 3zm-1 4zm8 0zm5-1zm0 3zm1-1zm3 2zm4-2zm2-3zm3 0zm2 1zm3 2zm0 2zm1-1zm3-3zm2 0zm1 4zm2-5zm2 1zm3-1zm1 0zm1 1zm0 4zm5-3zm0 3zm2-4zm5 3zm1 0zm1-2zm1-2zm1 0zm3 3zm1 2zm2-3zm1 2zm4-1zm3-3zm-2 6zm-7 4zm-1-2zm0 2zm-2-4zm-1 4zm-8-4zm-1 3zm0 1zm-3 1zm-1-3zm-2-2zm-6 5zm-1 0zm-2-3zm-1-1zm-2 0zm0 1zm-3 1zm-1-2zm-1 1zm-2-1zm-1 4zm-3-1zm-1-1zm-2-1zm-5 1zm-7-3zm20 7zm0 1zm4-2zm0 1zm1-1zm1 0zm4 0zm1 5zm8-5zm8 3zm5-2zm-10 5zm-1 0zm-4 1zm-10-1zm0 2zm-3 1zm-7-2zm-1 0zm37 5zm-22 9z"/><path id="g224" d="M689 527zm-22 1zm12 5zm4 0zm8-5zm4 1zm49 6zm-13 1zm-3 1zm-1 0zm-2-1zm-1 1zm-3 2zm-4-1zm-1-2zm-4 2zm-4 1zm-7-3zm-5-2zm-5 1zm-1 1zm-2-2zm-5 4zm-8-3zm-2 3zm-5-1zm-6-1zm-6 1zm-35 8zm20-4zm7 3zm2-2zm0 2zm5-1zm6 1zm2-3zm5 3zm3-2zm5 3zm2-5zm3 0zm1 4zm4-2zm4 2zm1-1zm5 0zm2-2zm5 4zm2-5zm1 0zm4 1zm0 1zm4-2zm1 5zm1-2zm1-1zm0 3zm3-3zm0 1zm6-3zm0 5zm3-3zm8 5zm-4 0zm0 4zm-9-5zm-1 0zm-3 3zm0 2zm-3-2zm-7-2zm-4 2zm-5 2zm-5-2zm-3 2zm-1-1zm-2-2zm-2-1zm-1 0zm-5 2zm-2 0zm-3-3zm-3 1zm-2-1zm-2 4zm-1-1zm-2 2zm-2-5zm-4 0zm-2 0zm-1 1zm-7 0zm-3-1zm-2 4zm-2 1zm-1-3zm0 2zm-2-2zm-4 1zm0 3zm1 5zm5-1zm2-2zm1-1zm1 4zm4-2zm1 2zm4 0zm1 0zm3 0zm5-4zm2-1zm1 2zm1 0zm0 3zm1-1zm3-4zm4 5zm3-2zm9 2zm3-4zm4 1zm1 0zm0 2zm5 1zm4 0zm1-4zm0 2zm7-1zm3-1zm2 0zm2 1zm0 1zm2-3zm2 0zm1 0zm3 3zm1-2zm0 2zm1-3zm3 0zm0 3zm5 2zm-6 5zm-2 0zm-1-2zm-15 1zm0 1zm-3-4zm-2 4zm-1-4zm-3 1zm-2 0zm-1 3zm-3-4zm-4 4zm-1 1zm-2-1zm-1 1zm-7-4zm-6 3zm-18-3zm-1 1zm-1-2zm0 2zm0 1zm-2 1zm-4 0zm-1-2zm-5-2zm-4 0zm-7 3zm-2-3zm-13 4zm6 6zm1-2zm3 3zm6-2zm2 2zm8-4zm6 3zm1-2zm9 0zm1 0zm1 1zm3 2zm1-3zm1-1zm8 4zm3 0zm1 0zm1-3zm0 3zm5-3zm3 0zm3 3zm4-4zm0 4zm2-3zm1-1zm8 2zm6-1zm1-1zm0 2zm4 2zm1-5zm0 4zm2-1zm2-1zm2 2zm2-2zm1-1zm1 3zm3-2zm0 2zm1-4zm1 5zm2-4zm0 9zm-7 1zm-9-5zm-3 4zm-3-4zm-2 2zm-1 3zm-2-3zm-5 1zm-1-1zm-6 0zm-4 3zm-4-1zm-4-3zm-19-1zm0 1zm0 4zm-6-2zm-9 1zm-1-2zm0 3zm-5-1zm-3 1zm-1-5zm-12 9zm6-3zm0 3zm1 0zm1-2zm3-1zm0 4zm4-1zm5-1zm0 1zm4 1zm10-3zm1 1zm0 2zm1-1zm0 1zm6-1zm1-1zm0 1zm0 2zm1 0zm1-1zm9-2zm3-1zm2 0zm3 1zm2 3zm5-5zm5 3zm0 1zm4-4zm2 0zm0 2zm8 1zm1-1zm4 2zm2 0zm3-3zm2 4zm2-5zm4 5zm1-3zm1 0zm5-2zm-9 7zm-4-1zm-12 2zm-4-2zm-1 1zm0 1zm-2 1zm-3 2zm-7-1zm-3 0zm-3-3zm-2 2zm-2-2zm0 4zm-3-1zm-1 1zm-8-5zm-1 0zm-3 5zm-5-5zm0 1zm-1-1zm-10 0zm-4 5zm-4-4zm-3 0zm-1 1zm0 2zm-3-1zm-1 1zm0 1zm-5-2zm-2 2zm-2 3zm12-2zm2 3zm1 2zm4-4zm1-1zm2 1zm2 0zm8 2zm1-2zm7 4zm7 0zm4-1zm0 1zm4-5zm0 5zm2-2zm7 0zm5-3zm1 3zm3-3zm5 0zm2 0zm9 0zm1 0zm5 0zm1 0zm3 3zm-1 6zm-2 0zm-3 0zm-1-1zm0 1zm-1 0zm-4 0zm0 2zm-4 0zm-8 0zm-2-5zm-1 0zm-6 2zm0 3zm-3-5zm-1 4zm0 1zm-1-3zm-2 2zm-4 1zm-1-4zm-4 0zm-7-1zm-6 3zm-2 0zm-5-3zm-3 5zm-4-4zm0 1zm-1-2zm-2 5zm-1-3zm-2-2zm-2 0zm-6 2zm13 6zm2 0zm2-2zm2 2zm4-1zm15 4zm8-3zm2-1zm23 0zm0 4zm4-3zm5-1zm-5 6zm-10 0zm0 3zm-2 1zm-2-2zm-15-1zm-7 0zm-2 2zm-5 0zm-9-3zm-4 0zm19 7zm5 3zm4-2zm1-2zm4 3zm1-4zm14 4zm4 3zm-23 1zm-5-1zm27 5z"/><path id="g225" d="M673 524zm20 6zm41 9zm-54-4zm-8 3zm-4 1zm-5-1zm-28 3zm20 2zm11-2zm1 1zm10 0zm5 2zm3 1zm20-3zm5-1zm5 3zm3 1zm1-3zm6 1zm10 1zm3-4zm0 10zm-12 1zm-3 0zm-6-3zm-4-1zm-20 3zm-1-4zm-1 2zm-2 1zm-1 1zm-12-1zm-1-1zm-5 3zm-4-3zm-20-2zm-6 3zm-4-2zm-4 10zm12-3zm11 0zm1 1zm6 2zm5-1zm3 1zm2-1zm4-3zm4 1zm4 0zm2 2zm2-2zm4 2zm15-2zm1 0zm4 0zm6-2zm10 5zm11 0zm-11 6zm-11 0zm-7-4zm0 2zm-3 2zm-14-4zm-2-1zm-5 0zm-19 2zm0 2zm-6-3zm-6 1zm-8 3zm-8-5zm-6 1zm-2 1zm-4 2zm-3 4zm8-1zm3-1zm0 2zm1 2zm5-2zm10-2zm4 5zm5-2zm1 1zm2-1zm6 2zm11-3zm0 2zm7-2zm11 2zm5-4zm1 1zm0 1zm10 2zm1-4zm3 1zm10 0zm3 3zm-8 2zm0 5zm-4 0zm-2-5zm-5 2zm-5-2zm-11 1zm-4 4zm-1-1zm-3 0zm-1-2zm-9 3zm-2-2zm-1-1zm-2 3zm-1-1zm-7 1zm-4-2zm-4 2zm-3 0zm-5-5zm-5 2zm-3 2zm-2-1zm-1 0zm-1-3zm13 7zm1 2zm5-2zm2-1zm3 0zm1 1zm2 0zm15-1zm3 1zm4 4zm4-4zm0 4zm6-1zm3 0zm6-4zm8 4zm9-2zm10 3zm-2 5zm-8-1zm-2 2zm-24-2zm-1 0zm-2-3zm-9 0zm-3 2zm-15 1zm-8 0zm-8-3zm-6 1zm0 2zm-4 2zm0 2zm0 1zm2-2zm20 3zm5-3zm13 0zm2 1zm4 2zm1 0zm7 0zm1-2zm2 3zm15-2zm2-2zm9 5zm2-5zm5 3zm10-3zm-14 9zm-6 2zm-4-4zm-9 2zm-8 2zm-3-5zm-15 5zm-2 0zm-7-5zm-1 5zm-7-3zm-2 0zm-3-2zm-20 0zm26 9zm4 1zm6-4zm2 5zm14-2zm4 1zm7-2zm2-1zm2 0zm2 0zm14-1zm1 7zm-3 4zm-1-5zm-1 5zm-16-5zm-7 3zm-6 0zm-1 1zm-5-2zm-8 0zm-2-2zm-1 2zm-6 1zm-2-2zm3 7zm17-2zm12 0zm20 0zm5 13z"/><path id="g226" d="M732 538zm-9-1zm-8-2zm-3-1zm-10 2zm-7 1zm-18-2zm-2 2zm-38 8zm28-1zm3 0zm7 0zm11-4zm3 2zm10-1zm3 0zm5 2zm3-2zm17 0zm17 5zm-3 3zm-10 2zm-13-2zm-13 1zm-8-2zm-16 1zm-3 0zm-2 0zm-1 1zm-3 1zm-3-4zm-14-1zm0 1zm-2 0zm-18 7zm34 1zm35 2zm10-5zm11 1zm3 8zm-3-3zm-7 5zm-18-1zm-2-2zm-4 2zm-1-2zm-8 0zm-6 3zm-2-4zm-3 1zm-7 0zm-1 0zm-15 2zm-9 0zm-4 4zm11-2zm5 4zm7-3zm5 0zm18 1zm5 3zm3-5zm2 3zm43-1zm3 3zm-10 3zm-3-2zm-6 0zm0 1zm-5 4zm-2-1zm-6-4zm-4 4zm-4 0zm-2-2zm-9-2zm0 5zm-3-4zm-24 0zm-4 3zm-3-1zm-12 2zm-11-2zm23 6zm5 0zm24-2zm15 0zm5 0zm2 3zm9-3zm25 2zm-16 6zm-4-3zm-3 5zm-6-3zm-5 1zm-3-2zm-5 2zm-19 0zm-8 2zm-4-1zm-9-4zm-11 2zm-1 6zm7-2zm3 3zm22-1zm11 2zm1 0zm7-2zm0 1zm7 0zm5-1zm16-1zm12 0zm7 3zm-18 6zm-4-2zm-13 2zm-1 1zm-2-4zm-1 3zm-5-2zm-3 0zm-2 0zm-11 3zm-4-4zm-12-1zm0 4zm-6 0zm0 6zm15-4zm17 4zm5-4zm10 0zm6 4zm5-2zm0 5zm-2-1zm-4 5zm-19-5zm-1 2zm-9 3zm-1-3zm-13-1zm65 11z"/><path id="g227" d="M696 529zm23 4zm4 5zm-7 1zm-35-4zm-26 10zm8 0zm10 0zm12-2zm0 1zm29-1zm10-1zm1-2zm17 6zm-3 5zm-3-3zm-1-1zm-2-1zm-20 3zm-4-1zm-11 1zm-7 0zm-1 1zm-2-2zm-7 3zm-7-5zm-9 2zm-2 1zm-5 0zm-12 0zm-2 4zm19 1zm14 1zm8-1zm1 0zm30 0zm8 2zm12 6zm-9-2zm-2 1zm-1-1zm-8-1zm-1-1zm-10 3zm-29 2zm-8-5zm-9 5zm-2-2zm-3 1zm-27-1zm9 5zm13 3zm1-1zm2-2zm5-1zm20 2zm4-1zm10-1zm13 1zm13 2zm15-1zm10 5zm-28 1zm-4-2zm-18-1zm-5 1zm-11 1zm-8 0zm-10 3zm-11-3zm-6 2zm5 7zm3 0zm2-2zm26 1zm18 0zm25-2zm13-1zm5 0zm-5 10zm-14-2zm-3 2zm-28-4zm-21 2zm-2 2zm-1-5zm-5 3zm-9 0zm-15-3zm41 10zm15-3zm10-1zm0 4zm14-2zm17 3zm-16 1zm-8 0zm-20 1zm-4 3zm-3-1zm-32-2zm-16 5zm26 0zm15 1zm3-1zm12 3zm1 0zm37-2zm-8 10zm-1-4zm-16 1zm-6 5zm0 4zm13-4z"/><path id="g228" d="M610 537zm-9 6zm-10 26zm11-5zm-8 9zm-2 1zm16 13zm-9-1zm-10 7zm2 0zm10-2zm1 1zm10 2zm-8 3zm-8 2zm-2-5zm-4 0zm-2 0zm-7 4zm12 6zm1-4zm4 0zm1 4zm8-4zm0 1zm3 2zm1 0zm0 2zm0 5zm-5 0zm0 1zm-3-3zm0 3zm-1-2zm-1 0zm-2 0zm-4 2zm-4-1zm2 6zm5 0zm1-4zm0 1zm0 4zm2-4zm1 1zm1-1zm3 1zm12 2zm-9 5zm-4-3zm-2 0zm-4 4zm-6-4zm-3 2zm-9 3zm8 6zm6-2zm1-3zm0 2zm3-1zm4 1zm1-2zm4 3zm1-2zm1 2zm-1 6zm-2-1zm-2 3zm-1-5zm0 2zm-7 1zm-7 1zm-4-1zm-8 5zm12 0zm11-2zm16 9zm-19 1zm-3-3zm-8 6zm6 0zm6-1zm9 3zm3-2zm-5 7zm-7 3zm-8 0zm2 1zm1 0zm14 3zm-8 7z"/><path id="g229" d="M607 523zm-6 45zm10-1zm-26 4zm-2 1zm5 4zm6 3zm13-1zm-5 5zm-8 0zm3 5zm4 3zm1-3zm10 10zm-7-1zm-3-1zm-8 3zm-7 3zm2 0zm4 3zm6-2zm5 0zm4 4zm-2 1zm-8 1zm-1-3zm-5 1zm-9 8zm1-1zm11-1zm2-1zm1 0zm0 1zm1 3zm2-2zm1 3zm5-1zm7-3zm8 1zm-9 5zm-10 0zm-5-1zm-16 2zm9 9zm3-2zm1-2zm2 4zm5 0zm2-3zm7-1zm-5 10zm-6-1zm-1 1zm-2-5zm-5 2zm0 3zm-3-3zm-12 3zm12 1zm2 0zm13 2zm13 9zm-21-3zm-6 7zm2-2zm12 10zm-5-4zm-2 40z"/><path id="g230" d="M601 546zm-6 3zm-6 31zm1-1zm2-2zm6 0zm9 3zm-4 6zm-4-1zm-10 3zm18 4zm6 0zm-12 3zm-1 3zm-5-1zm-5 2zm-12-3zm6 6zm8 1zm9 2zm10-4zm6 2zm-11 7zm-8-4zm-8 9zm3 0zm2 2zm2-3zm0 3zm4-2zm4 2zm6 6zm-5-4zm0 2zm0 1zm-10-3zm-2 4zm-5-2zm-8 3zm9 5zm2-4zm2-1zm4 2zm5 0zm0 2zm10 3zm-5 1zm-10 1zm-2 1zm-15 6zm12 0zm14 0zm2 1zm-19 4zm0 2zm-14-2zm11 4zm12 1zm0 3zm1-3zm3 4zm-18 20zm22 1zm-8 8zm-5 17z"/><path id="g231" d="M602 557zm8 13zm-12 4zm-11 6zm2 8zm12 0zm-7 9zm-9-3zm4 8zm8-1zm12-1zm-1 11zm-2-1zm-3-1zm-8 0zm-3 2zm-2 1zm22 7zm-5 0zm-4 2zm-8-1zm-2 2zm3 5zm9 0zm2-1zm1-1zm5 2zm0 4zm-13 2zm-5 8zm17-3zm-12 4zm-9 4zm-4 0zm27 3zm-16 5zm-17 2zm14 8zm14 17z"/><path id="g232" d="M594 549zm8 13zm-15 8zm16 14zm-6 18zm8 4zm-6 4zm3 3zm5 5zm-2 2zm-9 0zm5 8zm-2 5zm2 6zm-9 36z"/><path id="g233" d="M609 598zm-19 2zm3 2zm-11 12zm4 3zm6-3zm7-2zm7 5zm-4 11zm-8 2zm-1 5zm20 3zm-9 29zm4 6z"/><path id="g234" d="M711 330zm-25 6zm0 5zm13-2zm5 3zm-2 5zm-9-3zm-18 1zm12 7zm7-1zm2-3zm6 4zm1 0zm-3 7zm-9-1zm-2 4zm10-1z"/><path id="g235" d="M693 338zm1 3zm21-4zm-3 5zm-13 5zm-1 0zm-8-5zm10 9zm19 5zm-10-1zm-1 1zm-3 2zm-7-4zm-2 2zm-2-2zm-6 1zm-8 12z"/><path id="g236" d="M692 339zm11-1zm-8 9zm-9 3zm4-1zm3 1zm5 1zm-1 5zm-8 3zm0 2zm0 1z"/><path id="g237" d="M700 340zm17 2zm-20 2zm11 8zm-3 5zm-4-2zm-15 4z"/><path id="g238" d="M704 341zm-13 4zm-6 14z"/><path id="g239" d="M696 335zm8 17z"/><path id="g240" d="M705 343zm-13 3zm-9 6zm5-3zm4 1zm6 3zm4-4zm-4 8zm-3 0zm-1 1zm-7 1zm-1 0zm-3 0zm-13-3zm10 8zm3 0zm4 0zm4-4zm3 1zm1-1zm4 4zm23 4zm-18 1zm-4 1zm-2 1zm-1-3zm-2-1zm-2 2zm-4 0zm0 1zm-2 0zm-2-1zm-1 1zm-3 0zm-19-2zm16 5zm4 4zm2-4zm10 2zm14-2zm1 2zm2 7zm-3 0zm0 1zm-4-5zm-6 3zm-1 2zm-4-5zm-2 2zm-2 0zm-1-1zm8 7zm5 0zm3 3z"/><path id="g241" d="M710 345zm-1 0zm-13 0zm-7 8zm8-5zm16 0zm-14 10zm-2 1zm-1 0zm-10-4zm-2 8zm3-3zm0 1zm2 3zm0 1zm2-4zm4 3zm4 1zm6-2zm1-3zm3 2zm3 4zm-19 1zm-1 2zm-1 2zm-1-5zm-2 1zm-2 0zm-2 2zm0 1zm-2-1zm0 1zm3 5zm18 0zm-10 6zm-2-3zm-1 3zm-38 5zm39 0zm8-1zm1-1zm4 10zm3 23z"/><path id="g242" d="M696 336zm17 9zm-26 2zm2 6zm16 4zm-10-2zm-3 4zm-1-5zm-4 7zm4 8zm-6 2zm-2-5zm-1 2zm5 4zm12 5zm6-5zm0 10zm-1-2zm-7 2zm-5 0zm-2-2zm14 9zm6-4zm-9 10zm-1 5z"/><path id="g243" d="M701 337zm2 7zm0 2zm-9 4zm0 8zm-9 3zm-9 15zm14 1zm2-3zm1 3zm5-3zm0 3zm2 0zm-2 4zm-1 0zm4 3zm16 9z"/><path id="g244" d="M684 353zm15 6zm-9-3zm-11 7zm15 1zm-10 8zm25 7zm-7 3zm-10-3z"/><path id="g245" d="M685 341zm28 13zm-35 10zm6-4zm20 0zm7 18z"/><path id="g246" d="M770 318zm-21 5zm-23-5zm-24 9zm14 1zm5-1zm5-1zm7-1zm10 0zm0 7zm-2 1zm-2-2zm-1 1zm-2 3zm-9-2zm0 1zm-7-1zm-9 0zm-1 0zm-11 6zm5-1zm10-1zm6 4zm1-3zm0 1zm1 2zm2-5zm1 3zm0 1zm2 0zm0 1zm2-2zm1-3zm3 5zm4-2zm1-2zm0 3zm4 0zm2-4zm1 1zm9-1zm6 3zm6-1zm-3 7zm-7 0zm-13-1zm-1 1zm-5 0zm-2 0zm-2-3zm0 3zm-3-2zm-2 4zm-2-5zm-20 3zm-2 1zm-4 0zm4 2zm5 2zm0 3zm3 0zm1-1zm4-4zm1 5zm4-5zm0 4zm2-1zm2 0zm1-3zm3 0zm0 4zm4 1zm8-3zm5 2zm2-4zm16 5zm-13 1zm-2 4zm-21-1zm-20 1zm-10 0zm24 6zm1-2zm26-1zm6 0zm-2 9zm-27 1zm-2-4zm-6 3zm2 7z"/><path id="g247" d="M724 326zm35-2zm-9 11zm-8-2zm-3-2zm-3-1zm-3 3zm-2-3zm-3 2zm-4 0zm-3 2zm-6 1zm-13 0zm11 5zm3-2zm2 3zm2-5zm1 4zm1 1zm5-4zm5 2zm5 0zm4-2zm1 2zm1 1zm2-3zm7 2zm3 0zm9 0zm-4 3zm-7 2zm-9-1zm-5-1zm-2 0zm-9 1zm-4 3zm-1-1zm-3 0zm-11 1zm-8-2zm-3 4zm3 5zm7-5zm1 0zm6 1zm0 1zm0 2zm9 1zm1-3zm5 0zm7-2zm5 0zm6 1zm5-1zm-28 8zm-11 3zm-13-1zm-2-1zm13 7zm16 1zm1-3zm18 8z"/><path id="g248" d="M731 313zm-8 16zm1 0zm6 0zm3-4zm5 0zm14 5zm-5 1zm-5 2zm-13-2zm-3 2zm-1 1zm-1-4zm-26 5zm4 1zm22 0zm4 0zm2 0zm1 4zm9-4zm0 3zm2 2zm6 0zm16 3zm-25 3zm-1-3zm-9 0zm-13 3zm-3 0zm-7-2zm9 7zm8-4zm11 2zm1 0zm4 1zm8-2zm10 3zm1 4zm-25-2zm-18 0zm0 6zm21 2zm16 0zm-24 6zm-11 1z"/><path id="g249" d="M741 321zm19 11zm-35 0zm-12 1zm-12 7zm4-2zm7 3zm9-2zm39 3zm-36 1zm-24 8zm1 2zm26-5zm22 1zm-18 10zm-3-5zm-12 0z"/><path id="g250" d="M706 320zm36 12zm-7 3zm-2-5zm-1 0zm-6 2zm-2 3zm-7-1zm-7 4zm24 3zm5 6zm-27-3zm-17 9zm53 0zm0 6zm-22-5zm15 7z"/><path id="g251" d="M727 321zm10 8zm-1 5zm-8 0zm-13-3zm-5 10zm21-5zm14 4zm-11 5zm-16 7zm2-3zm31 2zm-46 6z"/><path id="g252" d="M753 333zm-6-1zm-36 7zm22 2zm8 0zm13 6zm-3-2zm-2 0zm-4-2zm-3 0zm0 3zm-4-3zm-4 3zm-5-3zm-9 4zm-5 0zm-5-5zm-10 3zm-4 2zm10 4zm7 0zm12 2zm1-2zm21-1zm1 1zm3-3zm1 7zm-4 1zm-5 3zm-2-5zm-8 4zm-4-4zm0 4zm-2-4zm-1 4zm-4 0zm-1 0zm-1-4zm-1 1zm0 1zm-1 3zm-6-3zm-1 1zm-2-3zm-7 0zm-1 1zm-8 3zm2 2zm9 3zm2-3zm1 5zm9-1zm1-2zm0 1zm1-2zm0 3zm1-4zm1 0zm3 1zm1-1zm3 2zm7 0zm7-1zm0 4zm3-3zm2-1zm1 1zm17 3zm-1 1zm-9 3zm-5-1zm0 1zm-2 0zm-4 0zm-7 2zm-3-4zm-3 4zm-1-2zm-2-3zm0 1zm-1 4zm-2-4zm-2 0zm-2 2zm-2-2zm0 1zm-3-2zm0 2zm-10 1zm-2 0zm-2 1zm2 5zm1-2zm0 4zm2-4zm1-1zm2 0zm0 1zm5-1zm3 4zm1 0zm1 0zm1 1zm6-1zm2 0zm4-3zm0 2zm5-1zm0 1zm2 2zm1-1zm1-4zm2 3zm4-3zm2 3zm2-1zm2 2zm3-4zm2 9zm-6-1zm-1 2zm-1-3zm-7 1zm-1-1zm-2 1zm-7 2zm-1-3zm-2-1zm-5 0zm0 1zm-1 1zm0 3zm-1-4zm0 3zm-1-3zm0 2zm-2 0zm-1 2zm-3-3zm-5-2zm-3 3zm0 1zm-2-3zm-2-1zm-10 1zm-5 2zm9 3zm4 0zm0 3zm1 0zm10-2zm6 4zm1-3zm0 1zm7 2zm2-4zm2 3zm3 0zm7 1zm13-1zm-11 4zm-4 0zm-13 3zm-1-5zm-2 0zm-12 3zm42 6zm2 1zm-4 4zm-12 0z"/><path id="g253" d="M732 345zm-6 0zm-2 2zm-1 0zm-4-5zm-4 3zm-22 6zm12 2zm1-5zm4 3zm7 0zm12 2zm8-3zm4-1zm1 3zm1 0zm5-2zm4 3zm4 0zm3 2zm-1 4zm-4-4zm0 1zm-2 2zm-14-2zm-1-1zm-1 4zm-8-1zm-4-3zm-3 4zm-15-2zm-18-3zm3 7zm14 0zm1 2zm1-2zm0 2zm1 1zm2-4zm9 5zm2 0zm8-5zm0 2zm0 3zm2-3zm0 2zm2 1zm4-3zm3-1zm8 4zm6-1zm5 2zm-10 3zm-1-1zm-12 0zm-1-2zm-6 3zm0 2zm-1-2zm-1-2zm0 2zm-1-3zm-11 0zm0 2zm-1 3zm-2-5zm0 1zm-1-1zm-1 3zm-4-1zm-1-1zm0 4zm-1-1zm-6-3zm2 6zm1 1zm3 0zm1-1zm1 0zm1 1zm0 3zm2-4zm6-1zm0 1zm5 4zm1-1zm0 1zm2-4zm0 3zm4 1zm8-5zm2 1zm1-1zm1 5zm1-2zm3 0zm1-3zm1 3zm8 1zm2 1zm5-5zm-7 6zm-10 4zm-1 1zm-3-2zm-5-1zm-2 0zm0 2zm-1 0zm-3-3zm-5 0zm-2 1zm-1-2zm0 3zm-1-3zm-3 0zm-12 2zm0 1zm2 5zm3 1zm3 1zm4-4zm1 4zm1-2zm3 1zm1-1zm1 2zm21-4zm4 3zm3 0zm-15 8zm-1-5zm-7 2zm0 1zm-6-3zm-3 0zm9 12zm-1 2z"/><path id="g254" d="M727 337zm5-1zm14 6zm-14 1zm-26-1zm-3 10zm10-2zm1 1zm3 1zm7 1zm11-2zm3-3zm8 0zm1 3zm11 3zm-7 2zm-12 3zm-2 0zm-10-5zm-7 5zm-11 0zm-1-1zm7 6zm4-3zm0 2zm4 2zm7-4zm3 4zm2-3zm0 3zm6-5zm3 1zm0 4zm6 0zm-1 1zm-7 1zm-4 3zm-2-2zm0 1zm-2-2zm-2 2zm-2 2zm-1 0zm-3-5zm-3 2zm-4 2zm-6-1zm-9 1zm-3 5zm5 0zm3-2zm5 3zm3-2zm3 3zm8-5zm5 3zm11 0zm2 2zm5-2zm1 1zm7 4zm-15-2zm-7 2zm-1 1zm-11-1zm0 1zm-1-2zm0 2zm-3-3zm-1 2zm-4-2zm0 1zm-5 3zm-4-4zm-5 5zm-7 5zm5-3zm0 2zm25 0zm1-1zm0 1zm7 2zm1-3zm3-2zm1 0zm4 5zm3-2zm3-2zm0 1zm-15 9zm-1-3zm-8 3zm-7-5z"/><path id="g255" d="M749 334zm-5 9zm-6-1zm-9 0zm-28 9zm16 0zm7 0zm15 1zm12 7zm-11-2zm-13-3zm0 5zm-3 0zm-16-1zm3 4zm0 3zm4-2zm13-1zm1-1zm9 4zm9-5zm7 4zm3-1zm-4 6zm-9-1zm-8-2zm-11 4zm-7-3zm-7 4zm-3-5zm-8 9zm1-1zm7 2zm2-2zm5 1zm1-3zm2 3zm2 1zm4-2zm3-1zm2 4zm3 0zm7 0zm15 0zm-14 4zm-11-3zm-3 2zm-3 1zm-3-2zm-8 0zm-6-1zm-13 0zm31 8zm6-2zm0 3zm8 0zm1 0zm-14 3zm1 9z"/><path id="g256" d="M738 344zm-31 4zm48 2zm5 5zm-13 1zm-11 3zm-8-3zm-11 0zm-13 6zm13-1zm11 0zm4 1zm3 0zm2 1zm24 1zm-24 5zm-2-2zm-3 4zm-3-5zm-1 2zm-5-1zm-4 4zm-18-4zm-7 1zm0 2zm-8-1zm41 3zm18 5zm5-2zm3 6zm-40-2zm-3 4zm-13-2zm14 3zm11 2zm1 2zm1 0zm7-3zm4 1zm12 0zm1 5z"/><path id="g257" d="M710 342zm9 6zm33 5zm7 5zm-32 0zm-2-4zm-1 0zm-14 10zm21-3zm16 5zm-17 0zm-2 5zm-10 6zm7-5zm14 2zm11 7zm-17-3zm-29 0zm7 9zm10 2zm13 5zm-24-4z"/><path id="g258" d="M748 328zm11-3zm4 9zm-1-3zm-4 3zm-3 0zm-4-3zm-12 7zm7-1zm5 3zm13-3zm1 3zm2 6zm-12-1zm-5 1zm-8-3zm6 10zm1-5zm17 3zm1-1zm10 6zm-10-1zm-9 3zm-4 0zm2 2zm14 8zm-19 2z"/><path id="g259" d="M740 328zm17-1zm9 0zm2 2zm1-1zm6 4zm-8 0zm-4 3zm-11 5zm1-3zm0 1zm2-1zm13 1zm-3 9zm-7-5zm-7 2zm-9-2zm-11 1zm11 5zm20 3zm1-2zm0 1zm1 2zm7 3zm-25 1zm7 6zm2-2z"/><path id="g260" d="M748 327zm9 1zm13 7zm-13-3zm-18-2zm3 10zm19-3zm2 1zm4-2zm5 0zm-3 7zm-1-1zm-6 3zm-1-1zm-11 1zm-11 2zm-7-5zm33 8zm3-1zm-1 5zm-1 0zm-13 9zm11 0zm0 5z"/><path id="g261" d="M744 326zm5 1zm15 8zm-6-2zm-10-3zm-6 8zm14 1zm3 0zm8 2zm1 0zm-6 5zm-16-4zm-1 6zm27 3zm-16 6zm-1 2z"/><path id="g262" d="M752 335zm-5-2zm-1 5zm4 0zm5 5zm-19 3zm32 2zm-15 8z"/><path id="g263" d="M758 326zm-13 9zm6 1zm17 8zm-4 0zm-11 8zm9-4zm-11 9z"/><path id="g264" d="M762 339zm3-1zm1 8zm-25 7zm5-2zm1-2zm20 4zm2-5zm8 8zm-3 2zm-5 1zm-1-4zm-2 0zm0 2zm-3-2zm-2 4zm-1-2zm-3 1zm-1-4zm-2 2zm-4-1zm-1 3zm-2-3zm-11 2zm6 3zm0 2zm2 0zm1 1zm7-3zm1 2zm5 2zm1-1zm0 1zm2-2zm4 3zm4-2zm5 4zm-2-1zm-3 0zm-1 4zm-9 0zm-1-4zm-2 2zm-1-1zm-1 0zm0 2zm-5 2zm-5-2zm-3 0zm0 1zm-8 6zm8 1zm7-5zm5 5zm2-4zm4 4zm10 5zm-1 0zm-5-2zm-6 1zm-1-3zm-5 4zm-3-1zm-2 0zm-2 2zm-2 5zm10 1zm5 4zm-5 0zm-1-3zm-14 4z"/><path id="g265" d="M759 343zm-31 6zm24 0zm10 2zm2-1zm2 5zm-1 4zm-8-3zm-1 3zm-3 0zm-3 0zm-11 3zm15 1zm7 0zm6 2zm1-5zm1 4zm4-1zm1 3zm-8 2zm-4 1zm-4-3zm-3 0zm-2 2zm-5 1zm-2-2zm0 2zm-6 1zm-6 2zm3 0zm15 0zm15 3zm0 2zm1-4zm22 6zm-12 2zm-16-2zm-2 1zm-9-2zm-3 6zm14 0zm-13 8zm-12 2z"/><path id="g266" d="M745 333zm30 5zm-19 8zm6 4zm5 1zm7 6zm-10-3zm-7 5zm-2-5zm-1 5zm-2-1zm-11 4zm2-2zm16 0zm7 5zm6-1zm5-3zm-10 7zm-10 3zm-8-3zm-16 2zm-15 5zm26 1zm17-1zm3-2zm10-1zm-18 9zm-2-3zm-14 1zm17 9zm3 0zm21-1z"/><path id="g267" d="M749 339zm33 2zm-33 21zm15 0zm13 3zm-8 2zm-16 1zm-6 1zm12 6zm-3 3zm0 5zm-1 6zm15 6z"/><path id="g268" d="M755 354zm-7 0zm-3 2zm-5 7zm8-3zm17 5zm10-2zm-5 3zm-7 4zm-10 4zm14 3zm-9 3zm-25 8z"/><path id="g269" d="M737 353zm23 6zm-6-5zm-8 9zm5-1zm13-1zm7 0zm-7 8zm-1-1zm-14 12zm0 4zm9 8z"/><path id="g270" d="M684 334zm25 22zm-9 3zm-16-1zm-2-3zm-3 1zm1 6zm0 1zm7 1zm8-4zm3 4zm-3 7zm-6 0zm-16-4zm3 5zm7 3zm15 0zm19 3zm-37 3zm-2 1zm-24-2zm15 9zm11-3zm9 0zm1 3zm-1 2zm-20 3zm-27-1zm49 5zm-17 6zm-21 2zm-5-4zm21 10zm46-4zm-9 9zm-1 1zm-18 1zm-25-3zm79 6zm-12 7zm-33-2zm-38 3zm49 7zm40 7z"/><path id="g271" d="M694 344zm-9-2zm-21 11zm21 5zm13 8zm-3 4zm-41 5zm72 1zm-30 7zm-3-3zm-13 2zm9 2zm1 5zm6 2zm-6 1zm-10 3zm-15-2zm-4 1zm16 6zm17-1zm2-3zm5 2zm23 0zm-39 7zm-34 2zm6 2zm36-1zm31 5zm30 3zm-40 1zm-47 1zm-15-2zm12 9zm25-2zm10-2zm7 2zm23-1zm-40 21zm-42 3zm72 4z"/><path id="g272" d="M657 344zm19 7zm14 1zm-12 3zm-3 10zm1-1zm0 1zm2-2zm19-1zm7-1zm-25 9zm-1-3zm-13 4zm6 4zm2-3zm0 3zm19 5zm-6 0zm-4 0zm-46 9zm21-5zm4 0zm21 5zm6-3zm5 3zm-48 3zm24 4zm9 3zm29 0zm20-1zm-50 9zm-7-3zm30 13zm-3 10zm19 7z"/><path id="g273" d="M684 351zm1 3zm-12 0zm-6 3zm-1-3zm10 23zm34 4zm-32 19zm29 5zm-35 5zm26 3zm6-5zm-42 33z"/><path id="g274" d="M671 345zm7 31zm5 1zm3 6zm0 30zm75 5z"/><path id="g275" d="M680 349zm11 3zm-7 30zm-2-3zm-16 8zm43-3zm-20 16z"/><path id="g276" d="M462 685zm-21 12zm7 1zm3 3zm13 0zm69 6zm-79-2zm-6 2zm-1-3zm2 5zm2 2zm3-3zm2 5zm18-1zm45-4zm24 9zm-6-3zm-2 3zm-5 1zm-4 1zm-6-3zm-6 3zm-8 0zm-12 0zm-7-2zm-3 2zm-2 0zm-14 0zm-1 0zm-1 0zm-4-1zm-4-4zm-1 4zm-1 1zm-1-5zm-7 2zm-1 1zm0 1zm-2-4zm11 6zm0 4zm1-3zm0 4zm3-3zm3-1zm1-1zm1 2zm1-1zm3 1zm1 3zm2-4zm1 3zm0 1zm1 0zm3 0zm2-4zm1 0zm1 1zm2 2zm4-4zm1 2zm2 0zm7 1zm2-3zm2 5zm1-3zm6 0zm1 0zm3 2zm3-2zm1 3zm2-5zm2 1zm0 4zm1-3zm1-2zm1 1zm4 2zm1 2zm3-3zm5 3zm6-2zm2 0zm1 2zm3-1zm12 1zm-13 3zm-3-2zm0 3zm-2-2zm-3 1zm-1-2zm-2 2zm-3 2zm-3-4zm0 1zm-1 0zm-7 2zm-1-1zm0 3zm-1-4zm-1 1zm-2 2zm-1-4zm-1 1zm-4 0zm0 3zm-1 0zm0 1zm-2-4zm-2-1zm-2 4zm-2 1zm-2-4zm0 4zm-2-5zm0 1zm-4-1zm-3 3zm-9 2zm-4-2zm0 2zm-5-2zm-1-1zm-2 0zm-2 0zm-6-1zm-1-1zm-2 3zm-1 1zm-5-3zm14 8zm4-3zm1 4zm1-1zm1 2zm1-1zm1 1zm1 0zm9 0zm2-3zm2 0zm6-2zm1 0zm1 0zm0 5zm1 0zm3-4zm7-1zm2 3zm7-2zm4 4zm1-1zm3-1zm3 1zm11 0zm7-4zm0 5zm1-4zm2 3zm1 0zm0 1zm1-1zm4-3zm7 8zm-1 2zm-1-5zm-4 2zm-4 2zm-1 1zm-3 0zm-1-5zm0 1zm-3 2zm-1 2zm-2-2zm-2 0zm-2 0zm-4-3zm-6 0zm-1 1zm-1 1zm-4-2zm-2 2zm-3 3zm-10-4zm-2 1zm-1 1zm0 1zm-7 0zm-1-2zm-3-1zm-2-1zm0 5zm-1 0zm-1 0zm-1-4zm-1 1zm-3 1zm-1 1zm-2 0zm-1-4zm-3 0zm0 4zm-3-2zm0 1zm-3-3zm-5 8zm1 1zm5 1zm10-2zm2 2zm3 1zm4-3zm1 1zm1 1zm2-2zm4 3zm1-1zm1-4zm4 4zm4 0zm2-1zm5-3zm0 2zm1 2zm0 1zm1-1zm5-4zm0 4zm2 0zm1 1zm7-2zm6-3zm10 2zm3-1zm1-1zm9 2zm1 1zm-3 4zm-2 0zm-2 4zm-1-5zm0 1zm-1 0zm-13-1zm-1 2zm0 1zm-1-3zm-6 1zm0 3zm-6-2zm-2-1zm-10 1zm0 3zm-4-4zm0 2zm-3-3zm-1 5zm-2-2zm-2 1zm-1-2zm-7 0zm0 3zm-3-2zm0 1zm-2 0zm0 1zm-2-4zm-5 0zm0 1zm0 2zm-4-3zm-3 4zm-4 0zm-1 3zm2-1zm4 1zm1-2zm4 3zm4 0zm5 2zm3-2zm1-1zm1-2zm0 2zm3-2zm3 2zm0 1zm1-3zm1 1zm4-1zm0 1zm3 3zm0 1zm3-4zm4 4zm9-4zm4 1zm2-1zm1-1zm2 3zm6 2zm1 0zm1-5zm7 3zm1-2zm3 1zm3 0zm8-2zm-9 8zm-8 1zm-1 2zm-2-1zm0 1zm-3-3zm-1 1zm-8 2zm-2-2zm-3 1zm-3-3zm-1 1zm0 3zm-2-4zm0 3zm-5-1zm-6-3zm-4 2zm-1 0zm-1 1zm-3-3zm0 1zm-4 4zm-1 0zm-3-4zm-3 0zm-1 2zm-2 1zm-1 0zm-2-3zm-2 3zm-4-3zm-2 6zm3 2zm5 2zm1-3zm2 0zm6-1zm2 0zm1-1zm3 2zm2 0zm2 0zm2 0zm1 0zm2 2zm2 0zm1 0zm1-1zm0 2zm1-2zm2 1zm8 0zm6-4zm2 4zm1-2zm1-1zm8 4zm1-1zm23 0zm3-4zm-23 10zm-2-1zm-1-1zm-10-2zm-1 4zm-5 0zm-4 1zm-4-5zm0 4zm-3 0zm-3 1zm-1-1zm-2-3zm0 4zm-4-2zm0 1zm-3-3zm-1 0zm-4 3zm-2 1zm-5 0zm-5-1zm9 7zm3 0zm6-3zm3 1zm9-2zm1-1zm1 1zm1 3zm2 0zm3-3zm1-1zm4 0zm5 0zm2 0zm0 2zm8-1zm-6 8zm-6-1zm-10 0zm-4 2zm-4-4zm-8 0zm0 1zm-2-1zm-1 4zm-6-1zm-3-3zm-3 4zm21 2zm19 0zm6 18zm-30 0z"/><path id="g277" d="M440 694zm17 7zm63-3zm-53 9zm-20 0zm-2 2zm1-1zm5 0zm1 4zm2-3zm2 3zm4 1zm12 0zm1 0zm16-2zm8-1zm33 3zm15 6zm-7-1zm-5-2zm-3 3zm-14-4zm-44 3zm-4-2zm-8-1zm-4-1zm-7 4zm-8 5zm18-1zm3-1zm3 4zm1-3zm3 3zm1-2zm2-3zm0 1zm1 3zm4 1zm3-5zm1 5zm2-3zm4-2zm4 4zm7 0zm4-3zm1 3zm1 1zm2-2zm4-2zm1 0zm0 3zm2 1zm15-1zm1 1zm6-2zm2-2zm0 4zm1-3zm6 2zm4 0zm3 2zm-1 4zm-1-4zm-1 0zm-8 0zm-5 0zm-1 4zm-2 0zm-5-2zm0 2zm-5-4zm-5 0zm-4 2zm-2 2zm-1-2zm-6-2zm-2 5zm-4-4zm-2 4zm-7-3zm0 2zm-5-1zm-2-2zm0 3zm-1-3zm-1 2zm-1-1zm-5-1zm-1 4zm-1 0zm-1-3zm-2-1zm-3 4zm-3-2zm-8-3zm-2 5zm9 1zm10 4zm1-2zm0 2zm4-2zm2 2zm1-3zm3 2zm0 2zm2-1zm2-3zm14-1zm8 2zm1 0zm3-2zm0 3zm1-3zm0 2zm1 3zm2-3zm5 3zm2-5zm13 5zm5-3zm4 2zm2-2zm1 1zm10-2zm0 3zm1 4zm-9-1zm0 3zm-5 1zm-2-5zm-1 2zm-5 2zm-6 0zm-2-1zm-2-2zm-1 1zm-2-1zm-10 1zm-5-2zm-2 5zm-1-4zm0 1zm0 1zm-1-1zm-5 0zm0 2zm-2-2zm-1 0zm-1 3zm-4-4zm-3 0zm0 4zm-5-2zm-9-1zm-2 2zm-2-4zm-2 3zm-7-3zm0 5zm8 2zm2 3zm3-1zm12-2zm9-1zm4 0zm0 4zm2-4zm1 3zm4-3zm1 1zm0 2zm3 2zm1-1zm4-3zm0 4zm6-4zm2 1zm1 2zm4-3zm2 0zm1 4zm4-5zm4 2zm3-2zm2 1zm1 2zm2 2zm1-1zm5-4zm1 0zm4 5zm4-4zm-3 7zm-11 0zm-1 3zm-3 0zm-2-3zm0 2zm-1-2zm-2-2zm-13 4zm-2-2zm-5 2zm-2-2zm-3 0zm-2 0zm-1 3zm-1-2zm-1-3zm-1 4zm-4 1zm-2-5zm-2 4zm-2-2zm-1 3zm-2-4zm-3-1zm-3 0zm-9 2zm-3-1zm-1 4zm-2-4zm-6 0zm-8 7zm3-1zm9-1zm5 0zm2 1zm1 3zm2-4zm0 3zm4-3zm1 3zm2 1zm1 0zm8-3zm7 0zm1 3zm1 0zm5-2zm2 3zm1-1zm1-2zm4 0zm1 1zm2 0zm9 0zm1 0zm2-1zm7 3zm3 0zm6-2zm2-2zm9 7zm-1 3zm-9-3zm-1-2zm0 3zm-7 0zm-5 2zm-1-5zm0 1zm-2 1zm-1 0zm0 2zm-1-3zm-1 1zm0 2zm-3-4zm-1 2zm0 1zm-3-1zm-6 1zm-3-2zm-1 0zm-3 0zm0 2zm-1-1zm-1-2zm-2 0zm-8 3zm-4 0zm0 1zm-1-4zm-7 4zm0 1zm-2-1zm-2 1zm-3-2zm-12-3zm10 9zm4 2zm1-5zm3 2zm1 0zm9 0zm4 3zm2-4zm5 3zm0 1zm14-2zm2-1zm7 2zm1-4zm2 1zm7 3zm3-1zm2-1zm3-2zm-2 7zm-3 1zm-7 1zm-1 2zm-3-5zm-1 2zm-8 2zm-3-1zm-5-1zm-2 1zm-1 0zm-2-3zm0 1zm-8 3zm-1-3zm-1 3zm-2-3zm-2-1zm-4 5zm-2-3zm-3-1zm0 4zm-1 0zm-6-5zm11 6zm2 5zm1-3zm0 2zm1-4zm3 4zm4-2zm1 2zm2-2zm1 3zm1 0zm6-2zm1-1zm1-2zm0 1zm11-1zm0 4zm3-4zm2 2zm7-1zm14 2zm-24 7zm-15 0zm-5 0zm-3-3zm-7 0zm13 5z"/><path id="g278" d="M454 695zm84 7zm-49 2zm-34 3zm-1 0zm-1-1zm-8-4zm-2 9zm6 2zm2-3zm5 0zm70 2zm29-1zm-7 8zm-11-4zm-5 4zm-9-1zm-48 0zm-3 1zm-6 0zm-6 0zm-10-2zm-14 7zm12 0zm8-2zm6 1zm5 1zm3-3zm2 4zm1-5zm9 5zm1-5zm2 2zm20 3zm4-2zm5-2zm1-1zm6 2zm1 0zm17 1zm10 0zm2 3zm-2 3zm-5-3zm-4 1zm-8 4zm-3-2zm-4 0zm-2 1zm-2 1zm-5-3zm0 1zm-3 0zm-3 1zm-5-4zm-10 2zm-3 1zm-1 1zm-8-1zm-2 2zm-4-3zm-6 1zm-2-3zm0 5zm-1 0zm-8-4zm-1 4zm6 3zm18 0zm2-2zm4 0zm3 4zm4-3zm7 0zm1 0zm3 3zm4-4zm3 3zm3-2zm9 2zm1-2zm4 0zm2 3zm2-2zm0 2zm3 0zm7 1zm2-3zm0 3zm2-1zm1-2zm7-1zm-2 5zm-5 5zm-2-5zm-1 5zm-1-4zm-2 0zm-2 2zm-15-2zm-6 1zm-5 1zm-6 0zm-5 1zm-2 0zm-1-3zm-10-1zm-9 4zm-2 1zm-2 0zm-2-4zm-5-1zm-9 1zm-2 4zm-7-4zm14 6zm3 3zm5-4zm1 2zm0 3zm10-4zm4 2zm13 1zm2-2zm2-1zm3 1zm0 3zm6-2zm1-2zm6-1zm1 5zm2-2zm2-1zm3 3zm6-3zm3-2zm6 5zm3-5zm5 1zm2 2zm0 1zm1-2zm0 3zm-5 3zm-4 1zm-3 2zm-2 0zm-6 0zm-1-1zm-2 1zm-3-5zm-1 4zm-4-2zm-10-2zm-1 0zm-4 2zm-2-2zm-1 1zm-3 2zm-4 2zm-1-1zm-2 1zm-2-4zm-2 0zm-2 2zm0 2zm-10 0zm-9-3zm0 1zm-3 3zm8 5zm2-3zm0 1zm6 1zm10-3zm0 2zm4 2zm1-4zm7 4zm1-1zm4-3zm1 1zm2-2zm8 4zm1 1zm5-4zm1 3zm9 0zm2 0zm4-4zm4 5zm3-1zm1-3zm11 10zm-11 0zm-1 0zm-4-4zm0 2zm-5-2zm-9 0zm-10 3zm-5-4zm-7 5zm-1-3zm-3 3zm-1-3zm-3-1zm0 3zm-9-1zm-2-2zm-1 3zm-5-2zm-7-2zm-3 7zm7 1zm5-1zm5 2zm11 0zm12 2zm1-5zm3 5zm5-3zm0 2zm1 1zm7-1zm3 1zm3-4zm5 4zm4-2zm-10 3zm-2 0zm-3 4zm-3-2zm-7-2zm-2 5zm-6-2zm-3-1zm-6-2zm-7 1zm-3 4zm-18 6zm12-5zm5 0zm2 2zm5-1zm2 1zm5 2zm5-1zm1-1zm0 3zm3-4zm8-1zm3 2zm17 1zm-17 7zm-3-3zm-5 0zm-7 0zm-21 3z"/><path id="g279" d="M468 707zm-27 3zm1 0zm14-1zm1 2zm8-2zm35 10zm-31 0zm-15 1zm21 3zm14-1zm0 2zm4-3zm0 2zm1-2zm8 2zm21 1zm28 2zm-3 3zm-4 2zm-4-3zm-4-2zm0 3zm-8 2zm-2 0zm-6-2zm-11 0zm-7-3zm-26 5zm-13 3zm3 2zm11-1zm5 0zm2-3zm0 3zm3 0zm7-2zm17-1zm6 4zm4-2zm11-2zm18 2zm10 5zm-12 0zm-2 3zm-2-3zm-4 1zm-14-2zm-12 1zm-13 0zm0 1zm0 2zm-16-4zm-8 2zm-2 3zm-2-2zm-5-3zm-6 0zm9 7zm3-1zm9 3zm2-3zm7 3zm5-3zm11 2zm4 1zm10 0zm18 1zm17-1zm-4 6zm-3-3zm-6 3zm-9 2zm-2-4zm-3 1zm-12-2zm-22 3zm-4-3zm-2 1zm-8 3zm-4 0zm-3-3zm-5 0zm10 8zm8 0zm7-1zm21 2zm2-2zm2-2zm0 1zm4-1zm10 1zm0 4zm17-3zm2 2zm11-3zm-9 6zm-4-1zm-19 5zm-2-1zm-1 1zm-9-1zm-3 1zm-3-3zm-18 0zm-13 0zm-16 6zm20-1zm1 0zm7 3zm1-3zm4 3zm1 1zm2-5zm8 3zm5 2zm1-1zm5-2zm9 3zm13 0zm17-2zm-11 5zm-15-2zm-13 3zm-6-1zm-9 1zm-1 1zm0 1zm-2 0zm-3 0zm-13-2zm8 7zm3-2zm3 0zm7 1zm1-1zm13-1zm7 0zm-6 6zm-7-1zm-4 2zm-30-1zm49 5z"/><path id="g280" d="M532 706zm-88 2zm104 4zm0 6zm-4 1zm-9-4zm-3 4zm-4-3zm-63 3zm-16-1zm-1-2zm7 4zm8 5zm8 0zm5 0zm10-2zm19 2zm10 0zm2-2zm0 1zm29 5zm-8-2zm-33-1zm-17 5zm-10 0zm-2-3zm-13-1zm-2 3zm50 2zm2 2zm4-1zm6 0zm1 4zm6-3zm7-1zm16 1zm3 3zm-11 2zm-33 2zm-3-1zm-9 1zm0 2zm-1-1zm-27 1zm-3-5zm3 8zm1 3zm16-1zm1-4zm2 4zm8-3zm9 0zm2 0zm8-1zm28 10zm-1-1zm-5 2zm-20-1zm-30 0zm-6 2zm2 1zm0 3zm20-3zm12 0zm4 2zm14 0zm8 2zm8-3zm7 9zm-3-4zm-4 4zm-9 0zm-5 0zm-11 0zm-9-1zm-1-1zm-15-3zm-9 5zm-1 0zm-9-2zm-7-2zm6 7zm5-1zm3-1zm1 3zm10-3zm5 1zm6 1zm7-2zm10 2zm2-1zm-2 7zm-2 3zm-9-5zm-8 0zm-2 5zm-3-2zm-28 3zm49 5zm1 1zm-2 3zm-42-3z"/><path id="g281" d="M457 700zm51 17zm-44 2zm-4-5zm-13 1zm5 6zm5 3zm2-1zm13 0zm4 0zm7-1zm21 2zm11-2zm16 1zm2 1zm13-2zm-18 9zm-28-2zm-6 2zm-6-3zm-4 3zm-1-5zm-1 3zm-3 1zm-6-2zm-10-1zm50 5zm17 5zm8 4zm-14-1zm0 3zm-11-1zm-10-1zm-24 2zm15 5zm7 1zm24-5zm3 1zm30 4zm-4 3zm-15 2zm-42-1zm-7-2zm-3-1zm-3 2zm-13 5zm1 0zm4 0zm16 3zm10-1zm0 2zm48-1zm6-1zm-13 3zm-6 5zm-6-2zm-18-2zm-35 1zm5 8zm1 0zm19-4zm11 1zm10 3zm2-3zm29 0zm-10 10zm-31-2zm-4-3zm4 6zm17 1zm-1 10zm-29-3z"/><path id="g282" d="M423 617zm6 5zm-4-1zm-3 1zm-8-2zm-5 7zm3-1zm2-2zm1 3zm11-2zm17-1zm3 7zm-20-1zm-2 2zm-4 2zm-2-2zm-2-2zm0 4zm-2-2zm-4 1zm16 5zm0 5zm-1 2zm-1-2zm-4 1z"/><path id="g283" d="M439 617zm1 5zm-22-1zm-7 4zm4 2zm2-1zm0 1zm9 2zm3 0zm-15 1zm-6 1zm2 7zm8 1zm5-2zm3 2zm5-1zm1-1zm-1 21z"/><path id="g284" d="M403 623zm7 3zm12 0zm13 3zm-14 5zm0 1zm-11-4zm-3 2zm13 3zm0 6zm-12 4z"/><path id="g285" d="M424 610zm7 20zm-8 0zm0 3zm-1-1zm-7 3zm-9-5z"/><path id="g286" d="M416 621zm-6 7zm5-1zm4-3zm3 2zm1-2zm3 0zm-10 17zm3 6z"/><path id="g287" d="M413 626zm7 0zm4 7zm-8-1z"/><path id="g288" d="M429 633zm0 1zm-19-3zm-4 2zm-4 1zm8 5zm10 0zm23 7zm-1-1zm-13 1zm-7-4zm-7 8zm14 2zm6 0zm-4 6zm-3-1zm-6 1zm-18 3zm21-1zm5 7zm0 4zm-8-1zm7 3zm5 2z"/><path id="g289" d="M410 626zm28-2zm-14 9zm-14 0zm21 7zm4 6zm-10 0zm-19-2zm13 5zm2 2zm1-2zm3 16zm3 0zm3 0zm5-4zm-5 6zm-22-1zm26 7z"/><path id="g290" d="M419 635zm-1-5zm-4 5zm-3 5zm1-1zm7 2zm13 4zm-8-3zm-5 4zm12 5zm-1 3zm-12 0zm3 26z"/><path id="g291" d="M421 638zm0 7zm10 10zm-6 0z"/><path id="g292" d="M424 630zm-5 11zm-6 6zm29 9z"/><path id="g293" d="M407 629zm23 16zm-9 11zm-2 6z"/><path id="g294" d="M476 590zm2 14zm-2 6zm-15 1zm-38 5zm9-2zm40-2zm2 4zm1-4zm9 9zm-18-2zm-1 2zm-2 1zm-2 0zm-8-1zm-4 2zm-2-4zm0 2zm-2-2zm-11 2zm0 1zm-6-3zm0 3zm-3 1zm-4-5zm-6 6zm12 0zm4 0zm2 4zm2-4zm0 4zm3-3zm2 2zm1-2zm2 1zm1-1zm6 0zm1 1zm4-2zm0 3zm1 1zm3-1zm0 2zm1-3zm3 0zm1-2zm3 0zm1 4zm7-1zm-11 7zm-6 1zm-8-2zm-1 2zm-5-3zm-2 2zm-14 0zm0 1zm1 3zm8 1zm3 0zm8 0zm2 1zm6-2zm2 2zm9 1zm-29 1zm-18 5zm74 2zm-64 5z"/><path id="g295" d="M472 596zm-2 9zm-46 12zm53 4zm-1-2zm-8 0zm-5 0zm-1-1zm0 5zm-17-4zm-3 4zm-12-1zm-2 7zm3-4zm17 1zm2-2zm9 3zm3-2zm2 1zm10-2zm5 7zm-27 2zm-5-2zm-2 3zm-1-2zm-1-2zm-1 3zm-4-3zm-8 1zm-1 1zm-5 2zm-6 0zm9 4zm12 0zm5 3zm8-2zm5 0zm1-1zm2 1zm1 0zm1 6zm-12-1zm-16-2zm-5 7z"/><path id="g296" d="M421 608zm50 4zm1 8zm-2 0zm-2 3zm-4-2zm-11 1zm-1 0zm0 1zm-2-4zm-10 0zm-11 4zm-4 6zm1-4zm3 3zm10 0zm1-3zm7-1zm0 2zm2-2zm4 1zm1 1zm1-2zm0 4zm7 1zm6-3zm11 5zm-28-1zm-2 3zm-2 1zm-7-2zm-3 0zm-2 0zm0 2zm-1-4zm-9 7zm7-1zm6 5zm1 0zm17-5zm8 3zm1-3zm-1 6zm-18 0zm34 7z"/><path id="g297" d="M424 616zm36 1zm8 4zm-7-1zm-10 3zm-4-1zm-6-2zm-10-2zm-6 4zm-3 4zm8 2zm2-4zm12 5zm2-4zm4 0zm0 3zm19 6zm-2-2zm-11-2zm-1 0zm-6 0zm-14 1zm-5 6zm29 5zm-26 1z"/><path id="g298" d="M461 608zm6 11zm-3 2zm-11-1zm-2 2zm-6 4zm32 6zm-13 3zm-50 1zm27 4zm7-3zm9 6z"/><path id="g299" d="M489 592zm-71 8zm50 12zm-38 13zm13-1zm2 3zm20 0zm-26 3zm-4 11zm9 10z"/><path id="g300" d="M451 624zm0 4zm20 6zm-4-1zm-18-2zm-4-1zm-6 1zm0 4zm-11-3zm-1 1zm-8 6zm11-3zm0 5zm1-5zm0 1zm9 3zm6 1zm2-2zm2 2zm3-5zm4 4zm1-2zm10-1zm3 1zm3 1zm0 4zm-10 1zm-1 3zm-1 0zm-3-1zm-5-3zm-1 0zm-9 2zm-2 0zm-2 1zm0 1zm-8-5zm-4 0zm-4 3zm-2-1zm-5-2zm9 11zm11-2zm2 1zm1 0zm7-2zm0 2zm4-4zm0 2zm2 2zm2 1zm3-2zm0 1zm3-1zm0 1zm6-1zm2-2zm1 2zm9 0zm-1 5zm-16 3zm-1-5zm-4 0zm0 4zm-2-4zm0 5zm-2-5zm-1 4zm-1-1zm-2-1zm-6 1zm-6-3zm-3 0zm-4 5zm-3-2zm-5-2zm2 7zm5-2zm1 1zm4 3zm5-3zm2 3zm1-3zm1 2zm2-1zm1-2zm1 3zm1-1zm1 0zm3 0zm2 0zm3-1zm1 3zm2 0zm7-4zm0 5zm3-3zm1-2zm2 0zm0 2zm-3 6zm0 2zm-1-4zm-12 0zm0 5zm-2-1zm-2-1zm-3-3zm-1 5zm-2 0zm-1 0zm-6-5zm-4 0zm-2 2zm-3-2zm6 7zm0 3zm4-2zm0 1zm3-2zm0 1zm4 0zm1-2zm1 1zm2 3zm5-2zm0 1zm2-1zm1-1zm3-1zm4 2zm10 1zm10 2zm-18 3zm-12-1zm-8 0zm-6 0zm-4 1zm-2-2zm5 7zm13 2zm2-2zm2-1zm10 1zm4 1zm-24 7z"/><path id="g301" d="M466 619zm-46 5zm5 4zm35-3zm16 2zm-17 4zm-7-1zm-9 4zm-8 0zm-1-1zm-9 4zm5 0zm3 2zm1 1zm8 0zm1-3zm4 4zm6-2zm5-2zm16 6zm-3-1zm-5 5zm-7-3zm-7 0zm-9 3zm-3-4zm-4 2zm-10-2zm0 2zm8 7zm1 0zm3-1zm4 1zm1-2zm9-2zm0 2zm1-1zm7 1zm2-1zm1 2zm0 1zm14 6zm-1-2zm-4 3zm-3-1zm-2-4zm-1 3zm0 1zm0 1zm-10-3zm-13 2zm-4-4zm-3 5zm-2 0zm-2-5zm-13 4zm14 7zm1-5zm3 0zm0 3zm1 1zm1 1zm2-2zm4-1zm1 0zm1 0zm6 0zm1-1zm1 1zm1-2zm2 3zm4-2zm8 4zm1 6zm-2-2zm-10-3zm-6 1zm-3 2zm-1 2zm-3-4zm-3 0zm-2 4zm-1 0zm-3-5zm-3 3zm-7 3zm7 5zm11-3zm0 2zm1-2zm2-1zm6 4zm1-2zm0 2zm4-2zm1-1zm-3 4zm-13 4zm-3-4zm-2 0zm-6 1zm36 13zm-27 6z"/><path id="g302" d="M459 635zm-1-2zm-12 0zm-8-3zm-18 10zm7 0zm1 0zm1 1zm7-3zm13 2zm11 1zm12 5zm-8-2zm-3 3zm-3-4zm-3 0zm-1 4zm-2-1zm-1 1zm-8-5zm-1 5zm-2-1zm-24 6zm5-4zm12 4zm2-2zm9 2zm9-4zm3 1zm2 3zm4-2zm0 2zm14 5zm-1-3zm-2 3zm-3 1zm-1-2zm-1-2zm-3 3zm-2-3zm-8 5zm-1-4zm0 3zm0 1zm-2 0zm-1-3zm0 1zm-3-3zm-3 5zm-3-3zm-1-1zm-2 4zm-1-4zm0 4zm-2-3zm-5-1zm-5 7zm8-1zm2 1zm11 1zm1 1zm2-1zm2-1zm11 1zm4-2zm6 6zm-4 4zm-13-3zm-5 3zm-6-3zm-1 1zm-4 0zm-1-3zm-10 2zm-1 2zm6 3zm1 2zm6-2zm0 3zm2-2zm4 1zm5 2zm19-1zm3-4zm-36 8zm-5-2zm12 10zm14-1zm-1 4zm-16 2z"/><path id="g303" d="M458 626zm-14 9zm9 5zm14-2zm-1 5zm-15 3zm-1-1zm-3-1zm-16 0zm-3 6zm16-1zm10 0zm6 1zm1 3zm2-1zm0 3zm-13 4zm-3 0zm-1-2zm-14-3zm-3 4zm8 6zm1-1zm10-1zm4 2zm4-4zm3 3zm2 1zm2-4zm-14 11zm-3-4zm-4 0zm-4 0zm5 10zm2-3zm7-1zm12 5zm-11 2zm-1 1zm-2 1zm-20-4zm16 10zm11-1z"/><path id="g304" d="M464 627zm-4 6zm-2-1zm-30 2zm1 4zm17 1zm5 1zm4-2zm6 9zm-1 0zm-4-1zm-10 1zm-15-3zm7 5zm3 4zm20-4zm-2 5zm-8 2zm-15 1zm1 8zm3-1zm4 0zm2-2zm20 8zm-28-4zm4 11zm30-4zm0 8zm-1 1zm-18 0zm22 10zm-26 0z"/><path id="g305" d="M466 634zm-30 5zm5 2zm9-3zm18 1zm-24 8zm-8-2zm-12 5zm11-2zm10 4zm4 1zm5-1zm18-1zm-12 4zm-9 0zm-8-1zm-4 4zm-5-1zm-8-3zm15 9zm4 8zm23 1zm0 1zm8-1zm-27 15z"/><path id="g306" d="M448 665zm-2 1zm-3 3zm-15 3zm11 0zm14 3zm5-1zm12-2zm-13 9zm-6 0zm-19 0zm4 8zm3-3zm3-2zm0 2zm5 0zm3-1zm8 1zm0 1zm1-2zm8 4zm4 3zm-1 3zm-7-4zm-2-1zm0 3zm0 2zm-3-3zm-1 1zm-2-3zm-2 2zm-5-1zm-3 0zm-4 1zm0 2zm-15-1zm-1 0zm17 4zm1 0zm1-1zm4 1zm4-1zm1 1zm3-1zm0 3zm1 1zm1 1zm1-3zm0 1zm2-3zm0 1zm0 3zm1-3zm1 4zm3-3zm11-2zm4 3zm2 1zm-7 4zm-1 2zm-1-1zm-3-3zm-3 0zm-3 1zm0 4zm-2-5zm-5 0zm-5 0zm-6 2zm-1 2zm-18-2zm23 4zm9 3zm1-1zm5 3zm2-5z"/><path id="g307" d="M434 665zm9 5zm-15 7zm7-5zm12 3zm3-2zm0 3zm10 1zm11 1zm-9 2zm-7 2zm-1-2zm-5 0zm-16 0zm10 5zm2 3zm2 0zm5 0zm4-4zm1 5zm5-3zm15 1zm-11 7zm-5 1zm-14-5zm-3 0zm2 8zm5 2zm7 0zm0 1zm1-3zm13 0zm0 1zm3 1zm-5 2zm-4 4zm-2-2zm-7 2zm-2-2zm-11-2zm-3 3zm5 4zm8 1zm10 2zm8-4zm9 7zm-14 2z"/><path id="g308" d="M465 655zm-25 14zm-9 3zm14 2zm6 3zm2 0zm4-4zm17 6zm-10 3zm-24 1zm-9-3zm7 4zm6 0zm1 5zm3-3zm3 0zm4 1zm2 1zm1 3zm-4-1zm0 5zm-1-1zm-1 0zm-4-3zm-10 1zm8 8zm4-4zm5 3zm7-1zm15 7zm-1-3zm-9 2zm-7 3zm-3-3zm-8 1zm2 3zm0 2zm11 1zm7 0zm7-2zm5 1z"/><path id="g309" d="M480 676zm-11 2zm-22 5zm-10 3zm11-2zm2 2zm6 1zm-13 11zm6 1zm7-1zm15-2zm5 2zm-21 6zm-1 7zm9-3zm12 5zm2-4zm-9 7zm-38 3z"/><path id="g310" d="M431 680zm-2-2zm13 11zm14-2zm16 2zm-8 5zm-8 0zm-7 0zm-3-4zm-1 1zm0 1zm19 7zm-2 7zm-19-1zm16 3zm28 6z"/><path id="g311" d="M442 682zm-3 0zm-1 5zm5-2zm27 6zm-5-1zm-9 1zm0 1zm-6 8zm2-4zm10 1zm2 7zm-11 3zm7 3zm10 3z"/><path id="g312" d="M513 549zm-17 18zm9 0zm6 1zm1 0zm6 4zm-9 2zm-4-4zm0 3zm-4 2zm-1-3zm0 2zm-2-1zm-2-3zm-2 1zm0 2zm-18 1zm-3 6zm8 1zm7-3zm3 2zm2-4zm1 4zm2 1zm1 0zm7-1zm1-4zm3 4zm9 1zm-19 3zm-8 1zm-2-2zm-4 1zm-1-2zm-11 5zm13 6zm3-2zm1-1zm0 2zm1-1zm6 0zm3-3zm0 1zm4 1zm2 1zm15-2zm-8 10zm-4-4zm-8 0zm-2-1zm-2 4zm-4-2zm-8-2zm-2 1zm-1 5zm8 5zm11-1zm4-3zm-4 7zm-18 5z"/><path id="g313" d="M495 555zm4 0zm16 0zm-29 12zm27 0zm-9 4zm-5 4zm-5 0zm-3 0zm-9 6zm5-1zm7-2zm0 1zm3-2zm1 1zm1 1zm4 0zm11 6zm-2 2zm-14-2zm-6-2zm-5 3zm-1 0zm-2-2zm-14 7zm13-1zm7 3zm3-4zm2 0zm0 3zm11 0zm1-4zm9 7zm-7 0zm-1 2zm-22 4zm9 1zm10 0z"/><path id="g314" d="M498 569zm4-2zm16 5zm-12 0zm-1 0zm-1 2zm-12 0zm4 2zm1 3zm2-2zm33 8zm-16 2zm-7-3zm-13 2zm-4 0zm0 1zm-1-5zm1 11zm3-2zm14-1zm6 1zm-13 4zm0 4zm-17-3zm18 5z"/><path id="g315" d="M494 566zm17-1zm0 6zm-6-1zm-18 4zm-6 0zm8 3zm5 0zm3 1zm0 3zm7-3zm16 0zm-22 8zm-4-4zm0 5zm-1-1zm-3 11zm-14 9z"/><path id="g316" d="M512 563zm-3 9zm-12 1zm-23 5zm26 2zm14 2zm-6 1zm1 11zm-1 0zm-23 0zm-1 1zm-5 6zm8 2zm-5 4z"/><path id="g317" d="M503 568zm19 4zm-1 2zm-20-2zm-7 3zm-1 6zm12 4zm-21-3zm22 11zm4-4zm-4 10zm-8-2zm-4-3z"/><path id="g318" d="M507 571zm2 13zm-11-2zm-2 3zm-2-3zm-1 5zm-14 3zm4-1zm2 4zm38 3zm-20 1zm-3-2zm-4 4zm-4-4zm-1 1zm-4 1zm-1-1zm-4 0zm-1 2zm-3 1zm6 5zm1 0zm1-2zm1 0zm5 3zm2-5zm2 0zm15 5zm1-4zm10 9zm-6 1zm-13-2zm-1 0zm-1 2zm-3-3zm0 3zm-5 0zm-1-4zm-4 1zm-2 1zm0 1zm-1 1zm-7-1zm-1-1zm-1 2zm-1-2zm-1 1zm-4-1zm-13 2zm22 3zm1 2zm2-1zm1 1zm4-2zm0 1zm1-3zm0 3zm0 1zm1 0zm1-4zm3 1zm4 1zm1 3zm1-4zm1-1zm2 2zm0 2zm4 1zm2-1zm1-2zm9 8zm-3-2zm-11 2zm-3-1zm0 1zm-7-2zm0 2zm-1-3zm-1-1zm0 3zm0 1zm-1-3zm-2 3zm-3-2zm-2 1zm-5 2zm-1-2zm-2 2zm-2-1zm-1-4zm0 1zm-2 1zm-1 2zm-2-1zm-7-1zm-1 0zm7 4zm5 3zm3-2zm1-1zm0 5zm5-3zm1 0zm1-2zm1 1zm1 1zm3 0zm4-2zm2 5zm1 0zm4-2zm5 1zm1-2zm10-1zm-6 6zm0 2zm-4-2zm-1 1zm-3-2zm0 1zm-3 0zm-7 4zm-3-3zm0 3zm-1-4zm0 3zm-1-3zm-2 1zm-5 0zm-1-2zm-1 4zm-1-4zm-1 0zm0 1zm-4-1zm0 3zm-7-3zm-10 6zm13 5zm1 0zm32-2zm1-3zm-19 10zm-21 2zm7 2zm7-1zm9-1zm22 0zm-25 6z"/><path id="g319" d="M496 582zm-19 5zm14 6zm4-3zm7-2zm8 11zm-1 0zm-5-4zm-10 2zm-2 1zm-3 0zm-1-4zm-3 3zm-3 2zm-4 5zm4 0zm3-3zm1 3zm2 0zm2 0zm7-3zm2 3zm10-4zm4 3zm3-2zm15 7zm-13 2zm-6-3zm0 4zm-5-2zm-3-3zm0 1zm-1 1zm-7 1zm-2 1zm-1 1zm-2 0zm-1-2zm-5 1zm-4-2zm0 3zm-8-4zm-3 2zm-3 3zm0 5zm3-5zm5 2zm4 3zm11-3zm4-2zm0 5zm2-3zm0 1zm9-2zm2 2zm0 1zm2-1zm2 0zm3 2zm3-3zm-1 4zm-1 0zm-1 0zm-10 3zm-8 1zm-1-2zm0 3zm-2-3zm-6 2zm-2-3zm-2 2zm-1-2zm-5 0zm-1 0zm-4-1zm-5 4zm4 4zm1-1zm6 1zm16 2zm4 1zm2-2zm1-2zm3 4zm6-3zm2-1zm-1 8zm-6-3zm-3 1zm-6 1zm-3-2zm-3 1zm-4-1zm-4 4zm-5-4zm-9 10zm16-4zm1 1zm5 0zm1 0zm1-1zm5 0zm18 4zm10 6zm-27 0zm-10-3zm-4 4zm-9-4zm-14-1zm4 10zm8-2zm20-1zm9 1z"/><path id="g320" d="M506 577zm-40 8zm44 3zm0 4zm-7 7zm-9 0zm-1-1zm-3 0zm-1-2zm-3 1zm-6 7zm1-1zm1-3zm5 3zm1 1zm1 0zm7-3zm0 2zm2-1zm3 1zm4-2zm6-1zm3 3zm-1 4zm-9-1zm-5 1zm0 4zm-2-1zm-6-2zm-4-1zm-15 3zm-13-2zm12 7zm3-3zm1 4zm2 0zm5 1zm8-5zm4 2zm1-1zm3 0zm1 3zm12 1zm3-1zm1-2zm-18 8zm-1-3zm0 2zm-1-2zm-2 4zm-2 0zm-2-3zm-24 3zm2 3zm10 0zm7-1zm2 4zm14-5zm9 4zm2 1zm1 5zm-6-4zm-4 2zm-2 3zm-5-5zm-5 1zm-10 3zm-11 3zm9 2zm4 2zm6-3zm12-2zm2 0zm1 1zm7 6zm-23 0zm-15 1zm-9-2zm43 10z"/><path id="g321" d="M506 582zm-17 4zm2 8zm-4 11zm4-3zm9 1zm0 4zm-14 2zm-5-1zm-3 0zm0 4zm1 2zm8 3zm16-5zm2 3zm2 0zm21 5zm-10-2zm-2 5zm-10-5zm-9 0zm-4 0zm-7 1zm-9-1zm-1 1zm-1-1zm-3 0zm4 6zm18 5zm9 0zm7-3zm6 0zm-2 5zm-50 4zm16 6zm16-5zm-9 6z"/><path id="g322" d="M511 594zm-1 0zm-7 3zm-17 4zm11 3zm1-4zm28 11zm-18-3zm-12-1zm-10-1zm-3 3zm-13 3zm18 4zm11 0zm12-3zm4 10zm-19-1zm-6-2zm-9 0zm-5-1zm-9 6zm2 4zm27-4zm7 2zm4-1zm-8 8zm-6-2zm-20 3zm10 6zm6 6zm-4 9z"/><path id="g323" d="M518 591zm-19 7zm-14 3zm14 2zm9 2zm4-1zm-34 7zm-7-3zm25 5zm7 3zm-22 7zm-32 5zm24 1zm36 1zm-35 0zm-3 3zm-6 0zm38 3zm-23 15zm18 3z"/><path id="g324" d="M467 627zm1-2zm24 4zm17-3zm-1 4zm0 3zm-26 1zm-5 0zm-13-1zm-5 2zm-2 5zm8-3zm5-1zm11 3zm1 0zm5 0zm2 0zm4 0zm1 0zm5-2zm1 2zm1-2zm6 0zm1 4zm2-3zm2 6zm-4 0zm-2-2zm-1 1zm-1 3zm-5-2zm-1-2zm-3 5zm-3-5zm-5 4zm-2-2zm-5-1zm-4 2zm-1-2zm-5-1zm-3 5zm-3 6zm4-2zm10 2zm1-5zm6 4zm2-1zm2-2zm4 2zm2 2zm4-4zm0 3zm5-4zm0 4zm11-3zm1-1zm0 3zm-1 4zm-7-1zm-1 1zm0 2zm-5 1zm-1 0zm-15-4zm-4 3zm-2-3zm-4 2zm-1 3zm-1-4zm0 4zm-8 0zm-3-4zm1 8zm5-2zm3 4zm2-5zm0 1zm0 4zm7-3zm3-1zm2 2zm1-2zm0 2zm1-2zm0 2zm1-2zm0 2zm1 0zm4-3zm0 2zm5 1zm3-3zm0 2zm7 1zm1-1zm2 8zm-1-2zm-2-2zm-2 3zm-1-3zm-1 4zm-5-4zm0 5zm-2-5zm-1 1zm-6-1zm-1 1zm-1 1zm0 2zm0 1zm-2-5zm-4 0zm-4 5zm-1-1zm-3-4zm-2 1zm-4 0zm-6 3zm-1-2zm-1 5zm6 0zm0 1zm2 3zm6-1zm2 1zm3-2zm2-2zm9 1zm2 1zm8 0zm1-3zm0 1zm0 2zm1-1zm3-1zm1 2zm1-2zm0 1zm6 2zm8 4zm-12 3zm-14-2zm-1 1zm-3 0zm-4 1zm-8-4zm-8-1zm-1 3zm-5-2zm-18 8zm21 2zm11-5zm5 5zm9-2zm2-1zm1 2zm2-3zm9 4zm1-3zm0 7zm-38 3z"/><path id="g325" d="M499 623zm-15 0zm-18 1zm47 8zm-17 3zm-18-2zm-22 4zm11 0zm7 0zm0 3zm5-4zm3 4zm4-3zm1 0zm1-1zm12 5zm1-5zm2 0zm3 3zm3 1zm3 1zm8-5zm1 6zm-10 2zm0 2zm-1-3zm-13 1zm-7 3zm-5-2zm-4 0zm-8 2zm-4-3zm-8 4zm3 4zm1-2zm1 0zm1 2zm2-3zm4 2zm7 2zm1-5zm1 3zm1-2zm1 1zm2 2zm0 1zm2-5zm5 4zm4 1zm1-2zm3 2zm8-5zm3 1zm1 4zm8-5zm-11 6zm-4 5zm-2-4zm-6 4zm-11-2zm0 2zm-3-4zm-2 1zm-1 1zm-2-3zm-4 4zm-5-1zm-9 6zm14-3zm2 3zm2 1zm1-4zm0 5zm15 0zm1-2zm4 0zm2-3zm2 2zm9 7zm-2 1zm-6 1zm-10 0zm-4-5zm0 5zm-1-5zm-5 3zm-3 2zm-3-4zm0 2zm-3-2zm-4 1zm-9-1zm-12 1zm27 9zm2-3zm1 0zm3-2zm0 5zm1-4zm3 2zm3-3zm1 0zm2 5zm2-1zm1-2zm1-2zm2 0zm2 1zm6-1zm4 0zm1 3zm4 6zm-11-1zm-14-2zm-11 4zm-6-1zm-21 5zm28 0zm1 0zm2-2zm0 2zm3 1zm4-2zm8 5zm-30 3zm-3-2zm50 6z"/><path id="g326" d="M489 625zm-7 6zm-3 2zm-18 3zm1 4zm9-3zm2 0zm1 2zm4-2zm2 2zm33 6zm-6-1zm-1 3zm-14-1zm-1-3zm-2 3zm-3 1zm-2-4zm0 3zm-12-4zm-8 4zm-2 2zm3 4zm4 0zm1 0zm1-3zm2 0zm0 2zm1-2zm13 4zm5-5zm1 4zm9-1zm3 1zm23 7zm-35-3zm0 2zm-5 0zm-12 0zm-5 0zm-5 3zm0 4zm5-5zm4 0zm1 1zm0 3zm20 0zm3-3zm3 4zm9-1zm4-4zm3 4zm-15 3zm-1-1zm-1 1zm-31 0zm-5 3zm-1-2zm0 1zm3 5zm3 3zm15-5zm39 9zm-20-3zm-26 2zm-6 0zm-9 0zm25 7zm4-1zm3-2z"/><path id="g327" d="M504 628zm7 0zm-5 2zm-1 3zm-51 1zm9 5zm50 7zm-15 1zm-16-4zm-4 4zm-12 5zm6-4zm2 2zm10 2zm18-4zm10 10zm-16-2zm-6 3zm-1-4zm-1 4zm-7-4zm-2 3zm-5 0zm-5-4zm0 1zm13 10zm1-4zm1 4zm6-2zm5 1zm4-3zm0 2zm15 1zm-8 3zm-8 0zm-3 3zm-19-1zm1 7zm3 0zm7-4zm5 2zm11 1zm17 1zm-41 2zm-8 0zm-4 2zm-2 0zm-3 1zm21 8zm1 2z"/><path id="g328" d="M506 636zm10 1zm-7 10zm-22-4zm-11 2zm-3 3zm6 0zm7 1zm12 4zm8-1zm-4 4zm-3 1zm-26 6zm25 1zm2 2zm-7 0zm-23 9zm29-2zm3 4zm2 0zm5 4zm-46-1zm-5 0z"/><path id="g329" d="M471 623zm22 4zm-18 14zm22-2zm-38 13zm1-2zm9 1zm20-3zm9 2zm4-1zm3 10zm-7 0zm-10-4zm-6 3zm-3-4zm-10 5zm-8 3zm35 8zm-9 0zm16 3zm24 3zm-7 2zm-4 1zm-54 5zm24 2zm11-2z"/><path id="g330" d="M497 669zm-11 2zm-7-3zm-9 3zm-18 6zm31-3zm18-1zm8 2zm-5 7zm-7-4zm-1 4zm-4-3zm-1 0zm-5 2zm-1 1zm0 1zm-1-2zm-4 0zm0 2zm-8-5zm0 5zm-5-4zm0 2zm0 1zm-4-3zm-8 5zm2 3zm3-2zm9-1zm1 5zm3-3zm1 3zm1-1zm1 0zm4-2zm3-2zm1 3zm4-1zm0 2zm2-1zm7-2zm4 2zm1-3zm2 3zm4 2zm2-5zm3 1zm1 3zm4-2zm-10 8zm-1-1zm-2 2zm-1-3zm-5-1zm0 2zm-4-1zm-5 2zm-2-2zm0 1zm-1 0zm-1 1zm-3 1zm-1 0zm-1-4zm0 4zm-8-2zm-1-3zm-4 7zm4 1zm1-2zm3 1zm0 1zm4-2zm0 1zm0 1zm0 3zm5-3zm0 2zm2-3zm1 4zm3-5zm3 0zm1 2zm5 0zm5-1zm0 1zm1 0zm1 0zm2 0zm1 5zm-3 4zm-7-3zm-1 0zm-1 0zm-3 2zm-3 0zm-2-1zm-6-2zm0 1zm-2-2zm0 3zm-1-3zm-1 0zm-3 4zm-1-3zm-1-1zm-1 3zm-1 2zm-1-4zm0 2zm-6 0zm-5-2zm-1 0zm4 5zm5 1zm2-1zm5 1zm0 4zm2-5zm6 5zm2-2zm1 0zm2 0zm2-1zm3 2zm1-4zm0 1zm3-1zm0 1zm0 3zm1-3zm10 0zm-1 7zm-2 3zm-10-1zm-3-1zm-1-1zm-1 1zm-1 0zm-2-3zm-1 2zm-2 0zm-2 2zm-2-3zm0 3zm-1-3zm0 2zm-5-2zm14 7zm1 3zm1-3zm4-1zm1 0zm12 5zm-15 10zm1 2z"/><path id="g331" d="M513 667zm-17 2zm-10-1zm-10 0zm-20 9zm26 0zm5-1zm8-4zm16 5zm11-1zm-23 4zm-8 0zm-9-2zm-2 2zm-2 0zm0 3zm-2-3zm-5 7zm2-3zm0 5zm2 0zm12-1zm1-3zm0 2zm0 1zm2 1zm7-2zm1 2zm2-5zm0 5zm6-2zm2 1zm6-2zm6 1zm6 2zm-18 5zm-1 0zm-6-3zm-7 2zm-4-2zm-2 4zm-3-5zm0 3zm-1 1zm-1-2zm0 2zm-6 1zm-4-2zm0 2zm-3-4zm-1 1zm-8 9zm4-2zm7 1zm4 1zm3-1zm2-1zm2-3zm10 5zm1-2zm0 2zm3-2zm2-3zm1 3zm5 4zm-1-1zm-8 4zm-4-1zm-1-2zm-1-1zm-2 4zm-3-1zm-9 1zm-1-4zm-8 2zm-8-1zm-7 3zm7 6zm3 1zm13-1zm1-4zm0 4zm2 1zm6 0zm1-4zm4 0zm4 2zm0 1zm5-4zm0 5zm4-2zm8-1zm7 9zm-16 0zm-4-5zm0 4zm-2-2zm-2 2zm-2 0zm-2-4zm-1 3zm-1 0zm-7-2zm-3 0zm-6 2zm-12-2zm26 5zm10 0zm13 0zm-13 7zm-1 18z"/><path id="g332" d="M493 663zm12 6zm-13-2zm-13 1zm-1 9zm36 5zm-13 0zm-6 0zm-4-4zm0 3zm-2-2zm-9 4zm-1-2zm1 5zm10-2zm4 4zm13 1zm3-3zm1-2zm3 4zm1-2zm-2 7zm-1 2zm-8-5zm-10 4zm-3-1zm0 2zm-2-5zm0 2zm-4 1zm-4-3zm-15 0zm0 5zm20 5zm4-2zm4 3zm4 0zm4-3zm8 6zm-7-1zm0 1zm-6 1zm-13-3zm-11 5zm-4-3zm-9 2zm2 3zm11 4zm1 0zm4-4zm2 2zm8-3zm2 2zm3 2zm2-2zm8-1zm5 3zm-3 6zm-2-1zm-1 1zm-3 0zm-4-4zm0 1zm0 1zm-18-2zm-14 3zm21 8zm13-4zm7 3zm13-1zm-11 6zm-26 1zm19 3z"/><path id="g333" d="M503 668zm-11 3zm-13-4zm18 7zm-5 7zm-13 0zm-13 2zm-7-2zm13 5zm2 0zm5-2zm1 3zm14 0zm8 0zm1-3zm4 2zm-18 7zm-1 2zm-5-5zm-3 2zm-1 0zm5 8zm11-2zm16 6zm-6 2zm-6-1zm-3-3zm-5 5zm-13-5zm-3 0zm-5 6zm7 4zm0 1zm2-3zm0 2zm6-2zm8 0zm1-1zm1 3zm12-3zm-7 6zm-2 0zm-6 3z"/><path id="g334" d="M495 673zm2 3zm8-3zm-4 5zm-7 0zm-2 1zm-4-1zm5 8zm10 1zm2 7zm-15-1zm-1-1zm-2 1zm-9 1zm-3-2zm-14 4zm32 3zm7-1zm12 6zm-21 1zm-16 7zm5-3zm15 0zm10 5zm-5 1zm-10 1zm-1 2zm-10-2zm-6 1zm15 7zm15-3zm-12 8z"/><path id="g335" d="M477 675zm8-1zm19-1zm2 8zm-16 2zm16 3zm-21 4zm-13 5zm11 5zm4-1zm5 0zm4-3zm11 3zm-9 8zm-13-1zm-9 7zm16-1zm0 5zm-1-2zm-8 0zm-19-1zm14 6zm32 1z"/><path id="g336" d="M541 562zm-6 1zm-3-1zm-1-1zm-5 2zm-2-2zm-1 2zm-7 5zm2-2zm4 1zm0 1zm7-2zm0 1zm4-2zm0 4zm4-2zm2 0zm3-2zm4 1zm3 3zm7 1zm-2 2zm-1 2zm-2-1zm-5 2zm-1-5zm-1 5zm-2-3zm-3-2zm0 5zm-2 0zm-1-4zm0 4zm-1-2zm-3 1zm-1-4zm-5 4zm-1 0zm-4 0zm-1-3zm-1 2zm-2-1zm-9 1zm6 6zm2 2zm3-1zm1-3zm5 0zm0 1zm2 3zm1-1zm1-2zm4 0zm1-1zm1 1zm2 1zm4-2zm0 3zm7-4zm2 0zm2 3zm2-1zm6 0zm-3 5zm-1-1zm-1 5zm-2-4zm-2 0zm-1 0zm0 3zm-1 1zm-3-4zm0 1zm-2-1zm-3 1zm-2 1zm-1 1zm-2-4zm-7 1zm-1 1zm-2-2zm0 4zm-3-4zm-10 0zm-8 3zm-8-3zm-1 10zm10-3zm1 4zm12-4zm2 0zm2 3zm7 0zm1-2zm1-1zm1-1zm8 5zm4-2zm4-1zm3 0zm4 1zm9 1zm-10 7zm-4-1zm-6-4zm-1 0zm-4 1zm-6 4zm-4-5zm-4 1zm-2 2zm-3-2zm-4 3zm-4 1zm-4-5zm-2 5zm12 6zm6-2zm10 2zm9-2zm3 0zm-38 6z"/><path id="g337" d="M516 557zm24 0zm-2 5zm-5 0zm-9 1zm-10 6zm1-1zm2 0zm4 0zm4 0zm2-3zm5 3zm8 0zm3 1zm1-2zm9-1zm6 6zm-11 1zm-6-3zm-4 4zm-2-2zm-2 0zm-1 0zm-2 2zm-8-1zm-5-1zm-2 3zm-5-5zm-1 0zm-4 1zm1 5zm6 1zm3 4zm1-4zm3 4zm2-1zm2 1zm6-4zm1 2zm2-1zm5 1zm6-2zm0 2zm0 2zm10 5zm-3-3zm-14-1zm-6 0zm-6 3zm-3-3zm-10 3zm-14 1zm-3-4zm33 9zm4-1zm1-1zm5 4zm5-4zm9 1zm1-2zm2 3zm1-1zm1-1zm0 9zm-1-4zm-20 5zm-11-4zm-1-1zm-6 0zm-6 0zm-1 2zm-13 5zm31 1zm2-1zm0 2zm10-2zm1 4zm10-4zm-40 8zm12 3zm7 1zm1-1zm18 9z"/><path id="g338" d="M560 563zm-19-1zm-2 0zm-17 1zm-3 3zm2 3zm1-1zm2-4zm2 5zm1-2zm4-1zm0 1zm1-2zm8 0zm0 4zm2-2zm8 1zm-10 7zm-1-4zm-3 3zm-6 1zm-7-4zm-4 2zm-6-2zm-2-1zm-1 2zm14 7zm8 2zm1-5zm10 1zm4-1zm26 9zm-3-1zm-20 1zm-9-1zm-9 0zm-1 1zm-6-1zm-2-2zm-8 0zm0 3zm-6 1zm-6-2zm-5 6zm10-1zm14-1zm5 3zm13-1zm10 0zm5-1zm0 4zm1-5zm14 5zm-29 3zm-4 2zm-13-1zm-3-2zm1 15zm-1-4zm-5 0z"/><path id="g339" d="M523 556zm-8 4zm5 5zm1-1zm12 0zm0 4zm5 7zm-14-3zm-20 7zm7 0zm10-2zm11 4zm2-2zm9-3zm5 6zm-4 0zm0 2zm-2 3zm-9-2zm-1 1zm-8-3zm-12 5zm13 0zm4 3zm24 2zm-28 6zm-7-2zm-11-3zm10 11zm29 3z"/><path id="g340" d="M557 555zm-4 14zm2-1zm3 1zm-20 6zm-2-5zm-20 5zm-2-1zm37 6zm19 6zm-42 0zm-1 1zm-1-4zm-10 6zm5 1zm9 2zm28 3zm-9 4zm-16 0zm-14-2zm-9-2zm12 5zm-22 10z"/><path id="g341" d="M515 568zm3-2zm10 1zm3 0zm8 6zm-11-3zm-17 0zm19 11zm8 3zm-15 1zm7 3zm8 0zm20 7zm-37-1zm21 18z"/><path id="g342" d="M521 572zm39 10zm-20 1zm-33 9zm7-2zm13 3zm9-1zm17 5zm-2 1zm-3 0zm-8-3zm-2 0zm-4 2zm-6-2zm-2 3zm-2-2zm-4 0zm-12 0zm-10 8zm7-4zm5 3zm2-2zm3 3zm1-2zm0 1zm2-1zm1-2zm4 2zm0 2zm1-4zm1 1zm4 4zm7-2zm3-2zm5 2zm17 1zm1 3zm-5 1zm-8 3zm-2-5zm0 2zm-1 0zm0 1zm-6-3zm-1 1zm-1 0zm-2-1zm-1 4zm-1-1zm-2-1zm-2 0zm0 3zm-3 0zm-2-3zm-2-2zm-6 0zm-6 8zm5 3zm2-5zm0 1zm1 1zm2 3zm2-2zm2 2zm1-2zm1 0zm2 1zm1-4zm0 1zm2 4zm2-4zm4-1zm2 5zm2-5zm2 2zm0 1zm3 2zm9-5zm7 5zm3-5zm-7 7zm-8 3zm-1-3zm-3 4zm-6-3zm0 3zm-4-2zm-1 2zm-1-5zm-2 4zm-1-3zm-4 2zm-4-2zm-3-1zm-4 3zm-2-2zm-6 0zm-8 2zm-1 0zm9 7zm4-2zm4-1zm2 2zm0 2zm3-5zm0 4zm1-3zm2 4zm2-2zm2-1zm1 2zm6-2zm3-2zm1 3zm0 2zm4-3zm0 3zm5-4zm8 4zm-3 1zm-2 5zm-11-5zm-4 5zm-9-5zm-4 2zm-8-2zm-1 1zm-2 4zm-1-3zm-1-1zm-6 2zm5 4zm1 0zm13 0zm11 3zm4-2zm4 3zm2-1zm4-1zm17 2zm-22 1zm-2 4zm-6 1zm-12-5zm-4 1zm-1 1zm-4-2zm-13 8zm20-2zm2 0zm2 4zm12-2zm7 0zm-6 15z"/><path id="g343" d="M550 579zm-3 7zm-5 0zm-42 4zm16-2zm4 3zm12 0zm0 1zm3 1zm15-2zm3 0zm15 8zm-5 0zm-20-4zm0 1zm-10 2zm-2-1zm0 1zm-1 0zm-3-4zm0 2zm-1-2zm0 3zm-1-1zm-3 1zm-21 5zm8-1zm15 2zm9-3zm0 3zm2-2zm6-1zm1 3zm7 0zm2 0zm3 0zm1 2zm9 5zm-3-4zm0 4zm-22-2zm-6 2zm-7-3zm-1 1zm-3 0zm-3-2zm-7 0zm0 4zm-1 7zm6-2zm2-3zm4 1zm1 3zm3 0zm1 0zm9-3zm21-1zm0 4zm1 6zm-14 1zm-7-2zm-2 0zm-3-1zm-4 1zm-2-3zm-1 1zm-1 1zm-4-2zm0 1zm0 4zm-1-3zm-5 0zm-2 2zm-1-4zm0 5zm-1-3zm-16 9zm21-5zm0 5zm1-2zm11-1zm1 2zm2-4zm3 5zm2-3zm2 1zm1 2zm3 0zm3-5zm0 5zm10-4zm4 4zm-14 1zm-4 1zm0 1zm-1-1zm-2 4zm-1 0zm-7-5zm-1 0zm-5 4zm-3-3zm-1 1zm-3 2zm-1-1zm0 1zm-1-4zm-7 7zm5 1zm2-2zm9 4zm3 1zm15-2zm1 1zm3-4zm-14 7zm-2 1zm-12 8zm14-3zm6 2z"/><path id="g344" d="M516 578zm30 9zm-21-1zm-1 6zm6 1zm12-4zm4 1zm6 3zm6 0zm-16 6zm-7-1zm-1-2zm-4 2zm-2-4zm-1 0zm-8 3zm-1 1zm-3-2zm-4-2zm0 5zm-2-2zm18 4zm0 3zm2 0zm2 1zm9-5zm10 4zm6-2zm-7 6zm-4 3zm-1-4zm-1 1zm-5 3zm-10 0zm-6-2zm-2-2zm-5 3zm-6-4zm4 11zm2-2zm5 2zm3-4zm8 0zm1-1zm2 1zm1 4zm2 0zm1-3zm5 2zm11-1zm1 5zm-17-2zm-1 0zm-1 2zm-1 2zm-12-1zm-7-2zm-1 10zm2-5zm4 3zm2-3zm12 1zm0 4zm3-2zm4-2zm2 4zm5-5zm0 5zm1-5zm0 5zm6-1zm-8 7zm-4-3zm-2 0zm-13-1zm-1-1zm-16 8zm33-2zm-28 13zm24-1z"/><path id="g345" d="M549 586zm-21 0zm-3-2zm1 6zm14 1zm8 2zm-1 1zm-7 4zm-6-3zm0 4zm-1-4zm-1 2zm-22 4zm7 4zm3-2zm6 2zm7-4zm6 2zm5 1zm5-2zm-15 7zm0 1zm-8-1zm-9 0zm-1 5zm7 2zm0 1zm4-5zm13 0zm20 8zm-10 0zm-14 3zm-3 0zm-1 0zm-2-5zm-9 3zm-11 2zm-3 0zm-9 3zm8 1zm5 2zm17 0zm12-2zm4-1zm4-1zm8-1zm-5 7zm0 1zm-5 3zm-16-2zm-6 0zm-1-1zm-9-1zm3 9zm2 1zm16 1zm-8 0z"/><path id="g346" d="M541 582zm2 11zm7-1zm5 5zm-20 1zm-19 7zm36 3zm-15 2zm-2-2zm-8 1zm-1 2zm-3 6zm10-4zm6 2zm9 2zm0 5zm-6-3zm-6 2zm-2-3zm-4 4zm-12-3zm4 9zm14-3zm6 10zm-1-5zm-8 1zm-1 0zm-14 0zm-1 3zm-12-1zm18 6zm3-3zm20 7zm-35 8z"/><path id="g347" d="M536 586zm-13 7zm25 1zm-2 2zm-17 0zm-1-2zm5 10zm2 0zm11-3zm6 3zm2 4zm-10 2zm-2-1zm0 1zm-31-2zm23 7zm8-3zm-1 6zm-8 1zm-2 0zm-8 4zm4 1zm2 1zm12-1zm3 3zm-11 3zm16 6z"/><path id="g348" d="M517 615zm6 7zm-15 6zm25-4zm31 10zm-19 1zm-1 0zm-6-3zm0 1zm-8 1zm-7-3zm-26 5zm23 2zm1 3zm1-4zm1 1zm3-2zm0 2zm2 2zm5-3zm8 0zm1 2zm2 0zm12-2zm9 5zm-14 3zm-4-2zm-1 3zm-9 1zm-1-5zm0 1zm-2-1zm-6 0zm-1 4zm-1-2zm0 2zm-1-4zm-1 0zm-4 2zm-1-2zm-1 3zm-5-3zm-18 3zm15 6zm9 1zm7 0zm1-3zm6 0zm1 0zm0 2zm3-1zm2 1zm4 1zm4-4zm0 2zm0 1zm1 2zm8-5zm7 7zm-8 0zm-2 2zm-5 2zm-1-1zm-3-3zm0 4zm-3-1zm-1 0zm-1-3zm0 2zm-3-1zm-2 1zm-4 2zm-1-2zm-2 2zm-3-5zm0 4zm-7-2zm-3-2zm0 5zm-3-5zm-2 4zm-2-1zm-2-1zm-4 0zm-4 4zm5 5zm4-4zm10 2zm0 1zm2-1zm4-2zm3 0zm1 3zm1-3zm1-1zm1 1zm2 1zm1-2zm0 5zm2-4zm0 2zm5-2zm9 3zm2 0zm3-2zm12 4zm-14 5zm-2 0zm-6-2zm-3 0zm-1-3zm-1 5zm-4-5zm-1 3zm-1-2zm-1 2zm-1-2zm-1-1zm-3 2zm-3 3zm-2-4zm0 1zm-1-2zm-8 0zm-3 5zm-7-3zm9 8zm2-1zm2 0zm1-3zm1 2zm7-2zm1 0zm6 1zm0 4zm5-4zm0 1zm4-2zm2 1zm9 4zm3-2zm1 4zm-4 1zm-1 3zm-8 0zm-13-1zm-3-3zm-1 1zm-4-2zm-4 1zm-4-1zm-1 7zm1 0zm8-1zm4 3zm7-3zm1 0zm7 0zm1 2zm5-2zm-6 7zm-7 0zm-10 2zm-9-1zm-12 3z"/><path id="g349" d="M504 626zm27-1zm7 3zm12 3zm-9 4zm-25-1zm-5-3zm0 3zm-5 7zm8-1zm10 0zm10 1zm18 0zm1-4zm7 10zm-14 0zm-6-2zm-3-3zm-1 4zm-1-2zm-3 0zm-2-1zm-3 1zm-1-2zm-6 1zm-2 3zm-1-1zm0 1zm-5 1zm-4-5zm0 3zm-3 7zm8-4zm2 1zm0 1zm6 1zm1-3zm0 2zm7-1zm0 1zm3-1zm1 2zm3-2zm4 4zm2-1zm3 1zm2-2zm5 0zm6 3zm-8 5zm-5-4zm-3-1zm-1 1zm-1 2zm-4 0zm-2 1zm-3-2zm0 1zm-1-2zm-6-1zm-1 3zm0 2zm-1-5zm0 4zm-4-2zm-13 7zm6 0zm13 2zm2-2zm5 1zm11 1zm1-3zm1 3zm7-3zm1 1zm10-1zm-13 9zm-9-5zm-3 3zm-1-3zm-4 2zm-1 2zm-3-1zm-3 2zm-5-4zm-10 4zm-5-3zm-3-1zm1 6zm1 0zm10 2zm1-1zm15 0zm0 2zm1-3zm1 0zm1 1zm0 1zm6 1zm2-4zm0 6zm-8 2zm-5 0zm0 1zm-2 2zm-23-3zm-4 2zm43 3zm2 2zm1-1z"/><path id="g350" d="M559 622zm-23 3zm11 2zm18-3zm-10 6zm-32 1zm-5-1zm14 10zm9 1zm2-2zm25 5zm-11 1zm-14-3zm-2 3zm-1-1zm-1 3zm-3 0zm-2-3zm-3 1zm-6-1zm-4 3zm-1 0zm-14 1zm1 5zm5-2zm2-1zm5 1zm9-2zm1 0zm1 2zm12 0zm8-3zm11 7zm-17 4zm-5-4zm-1 4zm-2-1zm-9-3zm-2 0zm-3 4zm-5-1zm-3-2zm-2 2zm-8 1zm7 6zm5-1zm2 0zm2-1zm0 2zm2-2zm3 1zm2-4zm2 4zm3-3zm4-1zm14 5zm1 0zm5-1zm6-3zm2-1zm-27 10zm-3 1zm-6-5zm-6 4zm-2-4zm-1 5zm-10-4zm-1 1zm-5 4zm8 0zm0 4zm4-2zm24-1zm5 2zm2 1zm3 5zm-12-3zm-14 4zm-1-4zm-13 2zm-3 2zm22 3zm8 0zm0 1zm3 1zm3 1zm14-4zm-28 7zm17 9z"/><path id="g351" d="M532 633zm-8-2zm-13 7zm8 1zm4 1zm8 0zm7-3zm0 3zm6 0zm3 0zm5-1zm3 2zm1-2zm3 1zm-14 7zm-11-3zm-8 3zm-23 5zm18-4zm0 3zm2-3zm10 3zm12-3zm0 2zm1 0zm3 1zm-2 8zm-1 0zm-14-5zm-5 2zm0 3zm-7 0zm-6-4zm-1 1zm-3-1zm-10 10zm14-5zm13 4zm7-1zm18-2zm-7 8zm-5-1zm-7 0zm-9 3zm-1-5zm-2 5zm-26 0zm9 3zm5 2zm35 4zm-24-1zm-23 2zm32 5zm5-2zm-16 9zm-7-3z"/><path id="g352" d="M539 624zm10 2zm-4 9zm-26-1zm-5-4zm1 9zm10-2zm9 0zm7 0zm-11 8zm-1-2zm-11 3zm-11 2zm12 2zm12 0zm1 3zm14-5zm5 10zm-8-1zm-16-2zm-7-1zm-2 3zm-2 2zm2 1zm3 2zm1 1zm3 0zm4-2zm0 4zm3-5zm1 4zm7 0zm14 2zm0 5zm-19-3zm-11-2zm-3 5zm-1-4zm-1-1zm-3 2zm-9-1zm13 6zm4 0zm8 0zm23 4zm-9 3zm-14 0zm-14-1zm0 5zm30 0z"/><path id="g353" d="M546 630zm-17 2zm-13 6zm14 2zm13 7zm-2-4zm-7 0zm-12 2zm-5 4zm7 3zm-1 8zm16 3zm8 7zm-9-2zm-35 3zm30 7zm-18 2zm3 8zm32 0z"/><path id="g354" d="M532 671zm-6-3zm-7-1zm0 4zm-20-2zm9 4zm23 1zm4 1zm1-2zm12 4zm2 0zm10 6zm-14-5zm-1 1zm-3 3zm-7-4zm-1 3zm-1-1zm-1 2zm-4-1zm-6-1zm-23 3zm-1-3zm3 6zm5 1zm3 2zm5-5zm1 5zm4 0zm3-2zm6 1zm4-2zm1 1zm1-2zm0 3zm2-4zm1 1zm1 3zm2-1zm3-2zm0 2zm3-3zm2 5zm2-2zm5 0zm5 0zm-2 8zm-7-2zm-3 2zm-1-5zm-4 2zm-1-1zm-1-1zm-5 1zm0 1zm-2-2zm0 4zm-2-1zm-2 0zm-4-1zm-1-2zm0 4zm0 1zm-3-3zm0 1zm-1 0zm0 1zm-1-4zm-4 5zm-3-1zm-1-1zm-6-2zm-1 4zm-1-3zm-6 3zm7 4zm13 2zm1-4zm4 0zm0 1zm4-1zm0 2zm2-3zm0 3zm0 1zm7-4zm3 5zm5-2zm7-3zm2 6zm-5 1zm-2 3zm-2-3zm-2 0zm-1 0zm-2 4zm-1-1zm-4 1zm-1-2zm-1-3zm-2 3zm0 2zm-1-2zm-5-1zm-13 1zm-1 1zm-9 1zm-4-3zm7 5zm1 0zm6 0zm3 1zm1-2zm9 3zm1 1zm1-4zm0 1zm4-1zm1 2zm1 2zm3-1zm10-3zm-6 8zm-1-1zm-1 3zm-10 1zm-9-3zm-6-1zm-9 1zm4 5zm37 0zm-8 5z"/><path id="g355" d="M544 671zm-8-1zm-26 1zm-4 2zm17 3zm4 1zm11-5zm8 3zm5 3zm-2 0zm-2 0zm-9 5zm-5-5zm-7 5zm-3-2zm-8 2zm-3-3zm-2-2zm11 6zm10 3zm3 0zm3-2zm23 9zm-8-4zm-1 0zm-1 3zm-4 1zm-1-2zm-2 2zm-1-4zm-1 1zm0 3zm-1 0zm-2 0zm-1-3zm-1-1zm-10 2zm-1 2zm-2 0zm-2-2zm-5 2zm-1-1zm-4 2zm-16 2zm17 1zm7-2zm0 3zm5 1zm1-3zm3 3zm4 1zm4-4zm0 3zm1 1zm4-5zm0 1zm1-1zm0 1zm8 9zm-2 0zm-10-2zm-4-1zm-2-1zm-5 2zm0 3zm-2-1zm-2 1zm-1-2zm-2-2zm-2 3zm-3-2zm-7 3zm-1-4zm-11 0zm-9 9zm32-2zm1 2zm5-2zm3 1zm10-2zm0 1zm5 0zm1 0zm-7 5zm-4-1zm-15 4zm0 1zm-1-2zm-5 5z"/><path id="g356" d="M536 655zm-15 21zm13 0zm14-2zm2-1zm12 5zm-10 5zm-16-3zm0 2zm-1 0zm-5-1zm-4 0zm-8-3zm-3 2zm-6 0zm-3 7zm7 2zm1-2zm6 0zm5-2zm13-1zm1 3zm11 0zm11-1zm3 3zm-6 3zm0 2zm-6-3zm-11 0zm-5 3zm-2-1zm-1-3zm0 4zm-3 1zm-8-3zm0 1zm-1-3zm-8 2zm-10 3zm-7 0zm20 6zm3-4zm0 3zm6-3zm1 3zm2-1zm2 0zm1-1zm2 2zm2 1zm1-5zm0 1zm3 1zm1-1zm2 3zm15-3zm-1 7zm-5-1zm-1-1zm-7 2zm-7 2zm-9-3zm-2 1zm-4 3zm-3-3zm-1 0zm-17-2zm-3 6zm10 0zm1 0zm7 4zm7 0zm6 1zm5-1zm4 0zm10-4zm-17 11zm-8-4zm-3-1zm-17 5zm32 3z"/><path id="g357" d="M530 670zm-24 4zm10-2zm20 2zm7 1zm-1 8zm-17 0zm-11-5zm-1 7zm9 1zm10 2zm1 1zm9 3zm-4-1zm-12 1zm-15 0zm-5 8zm15 1zm17-3zm0 3zm8 0zm-4 3zm-9 1zm-2-2zm-2 2zm-4 2zm-8-1zm-8-4zm-1 3zm-3-3zm-3 2zm10 9zm4 0zm21-1zm-5 2zm-13 1zm-11 10z"/><path id="g358" d="M555 683zm-10 0zm-8-4zm-24 5zm9 1zm11 3zm11-3zm1 4zm-4 3zm-11 3zm-10-5zm-22 11zm26-1zm12-3zm1 1zm0 1zm1 2zm2-2zm1 1zm6-4zm12 4zm-12 7zm-18-4zm-7 0zm-6-1zm-5 0zm-8 10zm5-4zm10 4zm2-4zm17 3zm9-3zm1 6zm-21 1zm-9 1zm6 12z"/><path id="g359" d="M504 675zm35 7zm-16 0zm8 3zm17-1zm6 6zm-22 2zm-25 6zm13 1zm6-1zm2 2zm10-4zm1 5zm4 5zm-13-4zm-11 4zm-10 0zm16 4zm-1 11z"/><path id="g360" d="M548 564zm12 2zm1-1zm10 4zm0 6zm-3-5zm-9 4zm-1-4zm-12 1zm-4 2zm5 8zm4-1zm6-3zm4 1zm1 0zm1 1zm0 1zm0 1zm1-5zm0 4zm1-4zm4 5zm2-1zm0 1zm1-2zm6 0zm-1 4zm-10 3zm-1 1zm-3-5zm0 4zm-7-2zm-1 0zm-6 3zm-12 2zm1 3zm7-3zm12 0zm5-1zm7 2zm4-2zm0 2zm4 1zm7 1zm-8 2zm-3 2zm-6 2zm-6-4zm-11 0zm-17 4zm26 3zm0 3zm7-3zm19 4zm-15 3zm-7-2zm-8 4zm-1-4z"/><path id="g361" d="M582 563zm-32 6zm6-5zm20 11zm-3-1zm-7-2zm-3 0zm-8 2zm-5-1zm0 2zm-18 5zm8-4zm9 0zm12 1zm9 3zm1 0zm14 0zm-7 5zm-4 2zm-6-4zm-3-1zm-2 4zm-5 1zm-5-2zm-3-3zm-1 1zm-10 8zm14-2zm15 0zm1 1zm13 2zm9 2zm-14 5zm-5-2zm-17-1zm7 7zm13-2zm-11 7zm-10 0z"/><path id="g362" d="M550 566zm9 6zm-2 1zm-7 6zm3-2zm1 4zm1-1zm9 1zm-1 1zm0 4zm-20-4zm16 11zm6-3zm12-1zm0 2zm-3 5zm-8 0zm-15 1zm-11 1z"/><path id="g363" d="M569 568zm3 3zm-4 4zm-12-5zm-9 7zm12 0zm15 2zm1 4zm-12 4zm-14-3zm-3 1zm19 19z"/><path id="g364" d="M570 571zm-20-1zm-3 9zm9-2zm3 1zm16 7zm-23 5zm4 6zm-2-2zm27 10zm-4 4zm-20-1z"/><path id="g365" d="M555 561zm2 18zm18-3zm-12 10zm-12 2zm2 2zm30 6zm-3-1zm-3-1zm-16 6zm13 1z"/><path id="g366" d="M571 584zm-23 0zm8 6zm2 3zm1-5zm4 0zm3 1zm0 4zm3-2zm2-2zm10 8zm-6-2zm0 1zm-2-1zm-5 3zm-3-1zm-3-1zm-3 0zm-4-1zm0 3zm-2 1zm-5 2zm1 3zm5-3zm1 2zm7 0zm3 1zm1-4zm13 0zm8 1zm27 3zm-31 2zm0 1zm-8 3zm-1-3zm0 2zm-1-1zm0 1zm-1-2zm-1 2zm-2-1zm-1 3zm-2 0zm-2-2zm-2-3zm-2 3zm0 1zm-1-4zm0 1zm-3 4zm-7-4zm-11 0zm-5 9zm17-2zm3 0zm0 3zm4-4zm1-1zm2 2zm2-2zm2 2zm2-1zm1 4zm1-5zm2 3zm3 0zm1-1zm0 3zm1-3zm2 0zm3 2zm2-1zm8 1zm-5 7zm-2-3zm-1 3zm-2-3zm-3 0zm-2-2zm-1 1zm-2 3zm-1 0zm-3 0zm-3-4zm-1 4zm-3 0zm-6-4zm0 3zm-20 1zm17 3zm4 4zm2-5zm3 4zm2-1zm0 1zm1-4zm0 4zm3-4zm3 4zm0 1zm2-1zm1-3zm0 4zm2-5zm2 1zm0 3zm5-4zm2 1zm3 3zm1-3zm2 2zm0 2zm-10 3zm-4-2zm-2 1zm-3 1zm-6 0zm-1 3zm-2-2zm-3-3zm-16 2zm12 6zm4 2zm1-3zm3-1zm3 2zm2-1zm1-1zm8 3zm4-2zm4 1zm1-1zm1 0zm2 1zm0 1zm-14 4zm-11-1zm5 6zm5 4zm3-3z"/><path id="g367" d="M573 583zm-14 7zm4 3zm19 2zm-10 4zm-1-1zm-4-2zm-7-2zm-5 2zm-9 7zm3-2zm5 1zm3 1zm0 2zm6-3zm2-1zm11-1zm8 0zm3 4zm5-2zm-1 7zm-5 1zm0 1zm-5-1zm-4 0zm-1-1zm-2 2zm-6-5zm0 5zm-4-1zm-3-1zm-4-1zm-1 0zm-6 1zm-5 2zm7 4zm17 1zm1 0zm3-2zm4 2zm2-1zm2 1zm2-1zm3 2zm5 3zm-18-2zm0 4zm-1 1zm-1-5zm-1 5zm-3 0zm-4-1zm-2 0zm-16-1zm-1-3zm-5 11zm15 0zm2-2zm4 0zm3 0zm8 2zm9 0zm8-4zm2 3zm2 0zm-11 5zm-7 1zm-5-2zm-5 3zm-2 0zm-4-2zm-19 8zm12-1zm8-3zm11 0zm9-1zm0 3zm3-2zm-10 10zm-18-3zm-3 0zm32 7zm1 0zm4 4z"/><path id="g368" d="M544 593zm30 2zm-1 2zm-3 0zm-1-3zm-11 5zm4 1zm4 5zm27-5zm3 5zm-9 2zm-3 3zm-13-2zm-18-2zm-4 2zm-5 4zm17 3zm1 1zm2 0zm2 1zm1-2zm5-1zm5 3zm7-4zm0 1zm6 6zm-2-1zm-1 3zm-12 1zm-1-5zm-1 1zm-2 0zm-4 3zm-2-4zm-11 2zm-3-1zm-11 4zm8 4zm23 2zm2-5zm0 3zm5-3zm0 5zm1-3zm0 2zm11 5zm-6-1zm-10-2zm-5 0zm-8 5zm-5-3zm13 6zm3 2zm1-2zm2 1zm4 2zm9 0zm-5 6zm-12-4zm-24 5z"/><path id="g369" d="M557 578zm12 19zm15 11zm-9-2zm-24 0zm0 8zm5-2zm5 3zm3-2zm5 0zm12 7zm-4-2zm-5 0zm-2 2zm-10 0zm-17 7zm15-3zm2 1zm5 0zm0 2zm13 0zm0 2zm4 4zm-10-3zm-7 5zm-4 3zm8-2zm1 4zm16-2z"/><path id="g370" d="M548 591zm31 7zm-2-1zm-15-2zm-1 1zm-17 5zm19 3zm4-3zm19 2zm-22 5zm-16 1zm8 4zm7 1zm11 2zm7 2zm0 1zm-10 4zm-9 0zm-2-2zm-14-3zm5 6zm6 0zm10 5zm1-5zm16 6zm-7 4zm-7 1zm-3-2zm-4 6zm8 2zm14-5zm4 2zm-13 8zm-2 0zm-8-2zm-10-2z"/><path id="g371" d="M579 593zm-8 2zm-14 4zm31 9zm-6 2zm-21 6zm19-3zm1 2zm-17 5zm17 13zm-9 0zm-20-1zm21 8z"/><path id="g372" d="M576 623zm-17 6zm1 0zm5-2zm9 2zm27 4zm-26 2zm-4-3zm-7 3zm-4-1zm-2 1zm1 5zm0 1zm2-4zm3 4zm4-3zm8-2zm0 1zm0 3zm14-2zm-4 6zm-4 3zm-1-3zm-4-1zm-2 4zm-5-3zm-1-2zm-11 2zm-5 0zm-1 2zm-1-1zm-1 0zm-4 3zm5 3zm4-2zm1-1zm3 1zm5 1zm3-2zm0 3zm3 2zm1-1zm7-3zm1 3zm1 1zm3-3zm4 2zm2-2zm3-1zm-4 10zm-3-5zm-3 3zm-8 2zm-4-4zm0 2zm0 2zm-3-4zm-2-1zm0 2zm-2 0zm-1-1zm-2 1zm-1 1zm-1-1zm-3 0zm-4-1zm0 4zm-5-1zm-4 4zm0 2zm6-1zm5-2zm3 2zm2-2zm4 2zm2 0zm0 2zm2-1zm7-1zm2 1zm1-1zm0 2zm3-1zm1 1zm1 3zm-3-2zm-9 1zm-2-1zm-3 0zm-2 0zm-4 0zm0 1zm-1 4zm-4-4zm-2 2zm-4 2zm8 5zm12-3zm2 1zm3 3zm4-4zm0 7zm-11-2zm-2 0zm-5 3zm4 4zm4-1zm16 2zm-19 7zm-14-2z"/><path id="g373" d="M546 619zm-2 5zm13 0zm10 5zm20 1zm-16 5zm-9-2zm-17 5zm4 0zm5-2zm23 3zm7 0zm4 5zm-2 0zm-9-2zm0 2zm-3-1zm-3-1zm0 1zm-3 3zm-4-1zm-4 1zm-2-2zm-1 1zm-1 1zm-2-4zm-1 1zm-6 4zm3 3zm12 0zm1 1zm3 1zm3-3zm1 0zm3-1zm2 1zm1-1zm3 3zm2 0zm1-3zm7 4zm-6 4zm-2 1zm-1 1zm-2 0zm-1 0zm-6-1zm-1-1zm-6-1zm-12 1zm-3 9zm1-5zm8 1zm11 2zm10-1zm1 3zm1 1zm-10 2zm-8 0zm-8 0zm-1 2zm-2-2zm-6-1zm7 8zm4 2zm2 0zm7-5zm8 0zm2 5zm9 0zm15 5zm-28-4zm-3 3zm-2-3zm-7 1zm-1 4zm4 1zm30 2zm-43 5z"/><path id="g374" d="M582 616zm-20 4zm17 6zm1 4zm-5 0zm-27 11zm5-3zm0 1zm3 2zm3-1zm4 1zm10-2zm5-3zm8 3zm9 8zm-4-5zm-4 1zm-5 4zm-5-3zm-2-2zm-2 3zm-4-1zm-2-1zm-11 5zm6 2zm5 2zm0 1zm2-5zm0 2zm3-1zm1 4zm2 0zm1-5zm2 0zm0 1zm2 1zm4 2zm5-4zm4 7zm-10-1zm-3 5zm-6-4zm-8-1zm0 5zm-4-3zm-4 3zm-4-1zm-4-4zm-5 1zm-4 7zm16 1zm2-1zm0 3zm2-3zm2 2zm3-2zm3-1zm2 3zm-5 4zm-9 3zm-3-3zm-7 8zm7 1zm14-4zm2 0zm14 0zm-13 6zm-6 4zm-4-5zm1 9zm1 7z"/><path id="g375" d="M569 625zm5 8zm-8 7zm13 0zm-1 3zm-5 0zm-2 2zm-14 0zm-12 1zm16 7zm1-5zm2 1zm0 3zm5-4zm10 10zm-4 1zm-3 0zm-7-5zm-4 2zm0 3zm-1 0zm-1 0zm-24-5zm20 9zm12 6zm-14 2zm0 3zm2-2zm10 1zm8 0zm-10 9zm-3 0z"/><path id="g376" d="M561 629zm-16 11zm38 6zm-21 0zm18 5zm10 3zm-14 5zm-16-5zm-11 4zm-9 2zm8 0zm15 1zm0 1zm2 2zm15-2zm-7 7zm-10 2zm-11 1zm7 4zm2 0zm23-4zm-29 9zm8 5z"/><path id="g377" d="M582 634zm-7 10zm-29 9zm23-3zm4 8zm-13-3zm-12-1zm-9 11zm18-4zm2 4zm19 4zm-8-3zm-6 1zm-23 3zm30 9z"/><path id="g378" d="M551 669zm-1-1zm1 7zm25-3zm1 0zm-10 9zm-1 2zm-1-2zm-5-1zm-9 0zm-6 0zm-6 0zm3 9zm16-4zm0 4zm4-5zm1 0zm-5 7zm0 4zm-1 0zm-5-2zm-1 0zm-1-2zm-3 3zm-5 5zm12-2zm5 1zm-11 7zm-5-1zm17 18z"/><path id="g379" d="M577 669zm-12 0zm3 3zm8 0zm-3 11zm-1-3zm-10 0zm-2-1zm-13 1zm-14 0zm21 7zm5-2zm2 0zm0 3zm-2 2zm0 1zm-8 3zm-2-2zm-3 2zm-4-2zm-9 2zm19 3zm5 1zm1-2zm1 2zm9-1zm1 1zm-13 9zm-4-1zm-3-4zm-3 1z"/><path id="g380" d="M563 676zm14-3zm4-1zm-11 11zm-9-5zm-2 2zm-7-1zm-1 8zm8-3zm5 1zm2 4zm7-1zm-8 3zm-2 3zm-4-4zm-17 1zm9 9zm1 1zm4-4zm6 5z"/><path id="g381" d="M547 675zm25 3zm-3 4zm-22 6zm18-2zm-3 5zm-19 7zm2-2zm6 4zm5-3z"/><path id="g382" d="M546 677zm23 4zm-22 0zm16 6zm-4 4zm-7-1zm0 9z"/><path id="g383" d="M538 692zm8 8z"/><path id="g384" d="M642 635zm-5-4zm-3 2zm-12 0zm-25 8zm10-1zm11-1zm1 0zm1-1zm0 3zm1-2zm5-3zm1 2zm1 2zm1-2zm0 3zm1-4zm1 0zm0 1zm4-1zm0 3zm5 1zm9 0zm0 3zm-5 1zm-2 0zm-7 0zm-4-3zm-1 1zm0 1zm-2 2zm-3 0zm-3 0zm-2-4zm-1 4zm-1-2zm0 1zm-4-1zm-1 0zm-1 0zm-1-1zm-2 0zm0 4zm-1-2zm-3 1zm-4 0zm-1 7zm1-1zm1 1zm3-5zm6 5zm1 0zm1-5zm1 2zm5-2zm3 1zm5 2zm3 0zm2 2zm1-5zm0 5zm1-3zm0 1zm2-3zm1 3zm2-3zm2 5zm1 0zm2-3zm1 0zm1 3zm3 0zm5 0zm-1 6zm-1-2zm-3 2zm-3-5zm-4 3zm-6 1zm-1-2zm-1 2zm-3-2zm-2-1zm-1 0zm-1-1zm0 3zm-1 1zm-4-2zm-3 0zm0 1zm0 2zm-1 0zm-1 0zm-2-5zm0 1zm-2 4zm-1-4zm-1 2zm-1-1zm-2-1zm0 2zm-1-2zm-3 1zm0 3zm-2 0zm-3-4zm-7 0zm-1 1zm-7-2zm0 10zm2 0zm1-3zm2-1zm5 3zm1-1zm3-2zm1 0zm1 2zm1-2zm0 4zm0 1zm1-3zm1 1zm0 1zm3 0zm5-2zm5 1zm2-2zm0 1zm3 3zm3-5zm0 5zm1-2zm1 2zm1-3zm0 2zm1-4zm0 2zm0 1zm1 0zm4-3zm1 4zm0 1zm1-2zm1-2zm1-1zm5 3zm2-3zm0 5zm1-4zm0 3zm1-4zm0 2zm4 3zm3 0zm5-5zm2 0zm2 1zm6-1zm0 2zm3 7zm-13-2zm0 2zm0 2zm-4-1zm-1-2zm-2 1zm-2-1zm-1-2zm0 4zm-1 1zm-1-1zm-1 1zm-1-4zm-1 2zm-1-3zm-1 3zm0 1zm-3-2zm-3 1zm-6 2zm-1-4zm0 4zm-2-2zm-1-3zm-1 5zm-2 0zm-1-4zm-1-1zm-1 0zm-1 4zm-3-4zm0 5zm-1-4zm-1 0zm0 1zm-1 2zm-1-4zm0 3zm-2 2zm-5-3zm-1 2zm-2-3zm0 4zm-1 0zm-1-3zm-1-2zm0 5zm-3-3zm0 2zm-1-1zm-2 0zm-6 0zm-4-1zm-2-1zm0 9zm3 1zm3-2zm1 0zm3-2zm2-1zm0 2zm1 1zm1 0zm4-2zm5 0zm3 1zm2 0zm1-1zm0 4zm1-5zm0 3zm0 2zm3 0zm1-2zm2-1zm3 0zm2 1zm2-3zm2 5zm1-5zm0 3zm2-2zm2 4zm5-3zm1 1zm1-1zm0 3zm4-5zm0 2zm2 1zm3-3zm1 0zm0 4zm1-2zm2-1zm3 3zm2-3zm1 0zm2 1zm0 2zm3-3zm0 2zm2-3zm0 3zm1 2zm16 0zm-2 1zm-5 1zm-4-1zm-1 3zm-3-1zm0 3zm-2-3zm0 2zm-1-1zm-2 0zm-2-1zm-1-2zm-3 2zm-4 1zm-3-1zm-5 0zm-1-1zm-1-1zm0 5zm-1-2zm0 1zm-1-3zm-3-1zm-2 0zm-4 3zm-3-3zm-1 1zm-2-1zm-3 0zm0 4zm-1 1zm-1 0zm-1-5zm0 4zm-2-3zm-1 0zm-4 2zm0 1zm-2-2zm-2 3zm-4-3zm0 2zm-1-4zm-1 2zm-2-1zm-4 0zm0 3zm-3-4zm0 4zm-2-4zm-3 2zm-1 2zm-4-3zm-1-1zm0 2zm-4 1zm-1 0zm-3-1zm-6 4zm7 3zm3 1zm2-2zm1-2zm1 1zm3-1zm1 4zm2-4zm1 2zm2 1zm1 2zm1-5zm0 2zm1 1zm3 0zm0 1zm3-4zm1 3zm0 1zm3-2zm1 1zm1-1zm2-2zm2 2zm0 1zm1-2zm3 0zm1 2zm1-3zm1 5zm1-4zm1 1zm1 2zm2-1zm7-3zm1 0zm3 2zm0 1zm1-2zm0 1zm0 3zm5-3zm1 3zm2-2zm2-1zm1 2zm2-3zm1 3zm0 1zm1-3zm1 1zm1-2zm1 3zm1-4zm2 0zm0 1zm3 2zm5-3zm3 5zm1-5zm0 1zm1-1zm1 0zm0 1zm1 0zm16-1zm-7 10zm-3-3zm-1 4zm-2 0zm-4 0zm-4-1zm-2 1zm-1 0zm-1-1zm-3-3zm0 2zm-1-3zm-2 2zm-2-2zm-2 2zm0 3zm-2-1zm-4-1zm-2 1zm-3-2zm0 1zm-1-1zm-1 0zm0 1zm-1-3zm-1 4zm-4-4zm-1 3zm0 2zm-1-3zm-2-2zm-3 2zm-3 0zm-2 2zm-2-4zm-9 4zm-3-4zm-5 3zm0 1zm-1 1zm-2-4zm-2-1zm0 1zm0 3zm-1-2zm-1 2zm-1-1zm-1 2zm-2 0zm-1-1zm-1-3zm-1 3zm-2-4zm0 2zm0 2zm-1-4zm-1 1zm-1 3zm-3 0zm-2-2zm-1-1zm0 2zm-6-1zm-1 0zm0 2zm-3 1zm-9-4zm1 10zm6-1zm1 0zm4-2zm0 3zm2 0zm2-5zm0 1zm1-1zm0 3zm3-2zm2 1zm4-1zm1 3zm1 0zm1-4zm0 2zm1 1zm0 1zm2-3zm0 3zm1-2zm1 2zm3 1zm1-3zm2 1zm2-3zm0 4zm2-2zm4 2zm1-3zm1 2zm2-2zm1 0zm1 4zm4-5zm1 1zm3 4zm1 0zm1-3zm3 1zm4 0zm0 1zm3-1zm0 1zm0 1zm2-5zm0 1zm1-1zm2 1zm2 4zm1-2zm2-1zm1 0zm0 3zm5-1zm3 0zm9-4zm1 4zm3 1zm3-1zm1-2zm0 2zm1-4zm1 3zm1-2zm3-1zm0 2zm1 2zm1-2zm1 1zm0 1zm1-4zm0 5zm1 0zm3-4zm1 3zm-3 5zm-1-3zm0 3zm-2 0zm-2 0zm-6-2zm0 1zm-1-2zm0 2zm-1 2zm-2-1zm-1-2zm-4-1zm0 2zm-1-2zm-2 4zm-2-2zm-1 0zm-1 1zm-1-2zm0 4zm-4-5zm0 1zm-1 1zm0 1zm-6-2zm-1-1zm0 2zm-2 3zm-1-1zm-1-2zm0 1zm-1-2zm-1 2zm-1 0zm0 1zm-3-1zm-1-1zm-1 2zm-1-1zm0 2zm-2-5zm-2 2zm-6-1zm-2 2zm-2-2zm0 1zm-2 2zm-2-2zm0 2zm-5-3zm0 1zm-2 1zm-3 0zm-2-2zm-1 2zm-3 2zm-1-3zm-3-2zm0 2zm-2-2zm0 4zm-2-3zm-1 1zm-3 1zm0 1zm0 1zm-1 0zm-5-2zm-3 1zm-4-3zm0 2zm-2-2zm-3 1zm0 1zm-6 3zm5 0zm1 3zm1 2zm1-4zm0 4zm1-5zm2 1zm1 1zm3-1zm0 4zm1-3zm0 2zm3-1zm0 2zm1-5zm1 0zm1 1zm1 3zm2-3zm0 1zm1-1zm2 2zm1-3zm0 4zm2 0zm1-2zm1 1zm1 0zm0 1zm2-2zm1 1zm2 2zm1-4zm0 2zm1-3zm2 4zm2-1zm1 1zm2-2zm3 3zm2-3zm4-2zm3 2zm4 0zm5 1zm2-1zm3 3zm1-1zm1-2zm1 0zm7 0zm1-2zm0 1zm6-1zm1 3zm0 1zm2-2zm0 1zm0 2zm3-2zm1-3zm2 0zm1 4zm6-2zm1 2zm4-4zm1 3zm6-1zm1-1zm2-1zm2 5zm5-5zm3 2zm2-2zm-3 11zm-2-5zm0 2zm-6-2zm-2 0zm0 2zm-1 3zm-7-4zm-5 1zm0 2zm-5-1zm-1-2zm-1 0zm-2 0zm-3 0zm-1-1zm0 3zm-2 2zm-1-5zm0 2zm-1 1zm-1 1zm-4-2zm0 2zm-1-3zm-1 0zm0 2zm-3-3zm-1 3zm-3-1zm-3 1zm-2-2zm0 1zm0 2zm-1-2zm0 1zm-11-1zm-1-2zm-1 4zm-1-1zm-3-2zm-3 3zm-5-3zm0 1zm-4-2zm-6 5zm-5 0zm-2-1zm-1-3zm-3 0zm-3 1zm-4-2zm0 2zm0 2zm-2-1zm-2-2zm0 3zm-3-1zm-1 1zm-3 0zm0 1zm-2-4zm0 3zm0 1zm-2-5zm-1 4zm-1-4zm-1 1zm-3 9zm5-1zm1-3zm2 0zm1 0zm1 2zm2 3zm2-4zm0 2zm1-1zm6 1zm2 0zm1-3zm0 2zm1 0zm0 1zm0 1zm2-4zm0 1zm0 1zm2-2zm0 3zm1 0zm4-3zm3 3zm3-2zm1-1zm1 3zm1 1zm2-3zm1 2zm1 0zm1-3zm0 2zm2 2zm2-3zm0 1zm0 2zm2 1zm6-3zm4-2zm0 1zm1 1zm0 1zm1-2zm2 3zm4 0zm2-3zm5-1zm0 1zm0 2zm2-2zm1 1zm1 3zm1-5zm1 0zm0 4zm2 0zm1 1zm4-3zm1-2zm1 4zm1-1zm4-3zm2 1zm1 0zm0 3zm3-4zm0 5zm2 0zm1 0zm2 0zm2-4zm1 0zm2 1zm1 1zm1-3zm0 5zm1-4zm0 3zm1 0zm1-1zm1-2zm1 2zm0 2zm1-2zm1-3zm7 6zm-13 1zm0 3zm-1 1zm-3-4zm-1 4zm-1-5zm-1 2zm0 3zm-2-2zm-2 1zm-1-3zm0 4zm-1 0zm-1-2zm-1 2zm-2 0zm-2-5zm0 1zm-2 0zm0 1zm-1 0zm-3-1zm0 3zm0 1zm-1 0zm-1-4zm-1 4zm-1-2zm-3-3zm-1 5zm-1-5zm-2 3zm-3-1zm-1 1zm-1-3zm-2 1zm0 2zm-3 0zm-1 1zm-2-4zm-2 0zm0 1zm0 3zm-1 0zm-2-3zm-2 1zm0 3zm-1-1zm-1 1zm-1-3zm-1-2zm-3 1zm-2 0zm-2 1zm-1-2zm0 5zm-1-2zm-5-3zm-1 5zm-1-2zm-1-1zm-2 0zm0 1zm0 2zm-2-1zm-1-1zm-1 0zm-3 1zm0 1zm-1-2zm-1 1zm-7-2zm-1-2zm0 1zm0 2zm-1 0zm-1-1zm-3-1zm-6 0zm-6-1zm-10 2zm15 6zm3 1zm4-1zm3 1zm1-1zm1 2zm2 0zm2-2zm1-1zm3 0zm1 4zm1-2zm5 0zm1 0zm2 1zm2-2zm0 3zm3 0zm1-4zm1 1zm3-1zm0 3zm1 0zm2-2zm0 2zm1 1zm1-3zm1-1zm0 3zm1-2zm4 0zm0 3zm2-4zm0 1zm2 3zm2-3zm0 3zm1-2zm4 1zm2-3zm0 2zm0 1zm2-1zm2-3zm1 3zm3 0zm1-2zm0 1zm3 3zm2 0zm2-5zm5 2zm2-1zm2-1zm1 2zm2-2zm0 3zm1-3zm0 2zm0 2zm1 1zm1-3zm1 3zm2-3zm1 2zm7 0zm2-1zm1-2zm5 1zm1 3zm5 4zm-21-1zm-1 0zm-3-2zm0 2zm-1 3zm-1-3zm0 2zm-2-4zm0 4zm-2-4zm-1 4zm-1-1zm-3 0zm-2-2zm-4 0zm-2 2zm-1-3zm0 1zm0 1zm-2-2zm-1 2zm-1-1zm0 1zm-1 1zm-4 0zm-3 2zm-1-1zm0 1zm-1-1zm-1-1zm-1-3zm-2 5zm-1-5zm-2 0zm-3 2zm-1-1zm-3 1zm-1-2zm-1 3zm0 1zm-1-1zm-1-3zm-2 5zm-2-2zm-2 0zm-3 1zm-7-1zm0 1zm-1-1zm0 2zm-1-2zm-3-1zm-2-1zm-1 0zm0 4zm-2-1zm-1-2zm-3 0zm-2-2zm-3 0zm-5 1zm-16 5zm30 3zm3-1zm1-1zm1 0zm0 2zm2 2zm1-2zm0 1zm1-4zm0 2zm2 3zm1-2zm0 1zm1 0zm3-4zm1 1zm0 3zm2 0zm1-4zm2 1zm3 4zm5 0zm2-5zm2 0zm1 1zm0 3zm3-4zm0 2zm1 1zm4 0zm1-3zm0 2zm0 2zm2-4zm1 2zm3 3zm3-5zm4 2zm0 1zm1-1zm1 3zm1-4zm2 1zm4 2zm6 0zm3-4zm0 5zm1 0zm4-5zm1 3zm1-3zm3 5zm-14 2zm-5 0zm-1 4zm-1-4zm-1 1zm-2 3zm-3 0zm-1-3zm-4 0zm0 2zm-3-2zm-5 2zm-1-1zm-3-2zm0 2zm-1 0zm-2 2zm-4 0zm-2-5zm0 3zm-1-1zm0 3zm-2-1zm-1-3zm-3 2zm-4 2zm-3-5zm0 5zm-2-5zm-4 3zm-2 1zm0 1zm-5-3zm-2-1zm-5 1zm23 4zm5 3zm5 0zm6-3zm0 3zm5-2zm3 0zm2-1zm8 0zm1 3zm4 1zm1-4zm19 0zm-6 6zm-55 3z"/><path id="g385" d="M651 632zm-20 2zm-6 1zm-2-5zm-12 11zm16-3zm6 2zm26 4zm-8 0zm-4-2zm-2 1zm-10 1zm0 2zm-8-4zm-2 0zm0 5zm-1-3zm-3 1zm-7-2zm-2 3zm-1 1zm-4-4zm-3-1zm3 11zm5-3zm1-2zm15 3zm1-2zm0 2zm4-3zm0 1zm2-1zm3 2zm2-1zm1 3zm1 1zm2 0zm3 0zm5 0zm1 0zm2-1zm17-2zm1 5zm-20-1zm-10 4zm-1-4zm0 5zm-1-1zm-7 0zm-5-4zm-3 0zm0 1zm-4 4zm-1-4zm0 3zm-4-2zm-3-2zm-1 1zm-1 1zm-2 1zm-1 0zm-4 1zm-4-1zm-1-1zm-2-2zm-3 4zm-13 5zm2 2zm7-1zm4-1zm1 1zm1-1zm1-2zm3 0zm0 1zm1 2zm0 1zm4 0zm2 0zm10-1zm0 1zm1-1zm1 0zm2-4zm1 4zm3-3zm4 0zm0 1zm4 2zm1 0zm5 1zm5-3zm5 1zm7 1zm2 1zm2-1zm5 0zm23 0zm-21 7zm-5-2zm-6 1zm0 1zm-1-3zm-1 3zm-1 0zm-3-4zm0 3zm0 1zm-3-2zm-1 1zm-1-3zm-2-1zm-1 0zm-2 2zm0 2zm-3-3zm-4 0zm0 4zm-1-4zm0 2zm-1-3zm-4 2zm-2-2zm-1 2zm-3-1zm0 1zm-2 1zm-1-2zm-2-1zm-2 0zm-3 3zm-3 1zm-1-3zm-2 4zm-12-5zm0 3zm0 1zm-4-2zm-8 0zm-1-1zm0 4zm-5-1zm-1 2zm7 4zm1 0zm3 0zm1-3zm2 1zm0 3zm1-2zm1-2zm2 1zm4-1zm6-1zm0 2zm6-1zm0 3zm1 0zm2-2zm1-1zm1 0zm0 2zm1-3zm14 0zm3 3zm1-2zm1 0zm1-1zm1 2zm8 0zm4-2zm5 0zm0 1zm2 3zm1 1zm1-5zm0 4zm2-4zm0 2zm0 2zm1-3zm1 4zm3-3zm3 0zm2 0zm1 0zm1 1zm-1 3zm-6 2zm0 2zm-2-2zm-5-1zm-3-1zm-5 3zm-3-2zm0 4zm-4 0zm-5-2zm0 1zm-2-1zm-1-2zm-3 3zm-7-3zm-5 4zm-4-1zm-10 1zm-2-1zm-1-4zm-5 2zm-4-1zm-11 4zm-7 0zm-2-4zm-4 3zm-4 5zm5 1zm3 0zm1-3zm3-1zm0 5zm1 0zm8-5zm4 1zm4 1zm1-2zm0 4zm1-3zm0 3zm0 1zm2-1zm7-4zm0 4zm4 0zm4 0zm3-3zm0 3zm1-3zm1 1zm4 0zm0 2zm3-4zm0 3zm3 1zm2-1zm2 1zm2 1zm5-2zm2-2zm5 1zm1 3zm4-1zm5-1zm1 0zm4-3zm0 5zm7-2zm1-3zm0 1zm4 0zm1-1zm0 5zm3-1zm4 2zm-5 4zm-2-4zm-1 4zm-4-1zm-6-2zm0 3zm-2-2zm-3 0zm-1-1zm-1-1zm-5 0zm0 4zm-2-3zm0 4zm-2-3zm-4 0zm-2-2zm-2 1zm-10 0zm-2 4zm-1-4zm-3-1zm-5 4zm-1-4zm-2 3zm0 1zm-1-3zm0 2zm-10-3zm0 5zm-2-4zm-6 4zm-5-4zm-2 2zm0 2zm-3 0zm-3-5zm-5 0zm-1 5zm-2-5zm-5 2zm-1-2zm-1 0zm0 2zm0 3zm-1-4zm-1 0zm0 3zm-9 0zm-1 5zm9 0zm4-2zm3-1zm0 2zm11-2zm0 2zm1-2zm3 1zm1 3zm1-2zm0 3zm1-5zm2 3zm2-3zm5 2zm6-1zm0 2zm1-3zm3 0zm4 4zm1-1zm3-3zm4 1zm1 4zm5-4zm4-1zm1 0zm0 3zm1 1zm1 1zm1-4zm0 4zm2 0zm2-1zm1-3zm4 1zm2-2zm1 1zm0 4zm1-5zm4 2zm8-2zm5 2zm6-2zm4 0zm1 4zm3-2zm1 5zm-6 0zm0 1zm-7 1zm-4-3zm0 1zm-1-1zm-1 0zm-4 4zm-1-4zm-1 3zm-3 2zm-8-1zm-1 1zm-7-1zm-4-4zm-2 3zm-12-3zm0 3zm-1-2zm-10-1zm0 1zm-10 2zm-13-1zm-3-1zm0 1zm-6 2zm-3-1zm-2-1zm-4 2zm-2-4zm0 3zm-33 2zm23 6zm3-2zm4-1zm3-1zm0 3zm2 1zm4-3zm0 3zm5-3zm2 2zm3-4zm0 1zm4 2zm0 1zm1-1zm0 2zm2-2zm1 2zm1-1zm2 0zm1-1zm1 0zm0 1zm0 1zm1-5zm2 1zm0 1zm3 0zm5-2zm0 5zm9-2zm0 2zm2-4zm0 4zm4-1zm3-4zm0 1zm2 3zm2-4zm1 2zm0 3zm2-1zm1-1zm1-3zm4 4zm2-2zm1 2zm5 0zm1 0zm2-3zm11 3zm1 0zm4-2zm5 2zm2-4zm0 5zm5 0zm3-1zm10-4zm-11 6zm-1 4zm-4-1zm-1-3zm0 1zm-2-1zm-4 1zm-1 0zm-1 3zm-7-3zm-1 2zm-1 0zm-3-1zm-1 3zm-9-3zm-4-2zm-2 0zm-2 3zm-5 1zm-3 1zm-5-1zm0 1zm-1-5zm-2 2zm-1 1zm0 2zm-3 0zm-1-1zm0 1zm-5-4zm0 1zm0 2zm-4 0zm-2-1zm-1 0zm-1-3zm-1 0zm-2 2zm-3 1zm-1-2zm0 3zm0 1zm-1-4zm-2 0zm-1 0zm0 4zm-4 0zm-2-1zm-9-2zm0 1zm-8 0zm-7-3zm0 2zm-1 1zm-1 2zm-4 4zm3-1zm6 0zm3-2zm5 0zm0 2zm0 3zm4 0zm1-2zm7 0zm2-3zm1 2zm1 0zm0 2zm6 0zm4-2zm4 1zm0 2zm1-2zm2 0zm3-2zm2-1zm4 4zm5-2zm1-2zm0 1zm0 1zm2 3zm1-4zm2 3zm4-1zm3 1zm5 0zm1 1zm2 0zm6-4zm0 2zm1-2zm2 0zm2 3zm3-4zm1 1zm0 4zm2-3zm1 2zm0 1zm8-4zm1 0zm0 2zm4 0zm2-1zm4 1zm2-1zm0 3zm6-5zm-6 10zm-3-2zm-16 2zm-2 1zm-6-5zm-2 4zm-6-1zm-4 2zm-3-2zm0 2zm-2-5zm-1 5zm-1 0zm-5-3zm0 2zm-5 0zm-2 1zm-6-3zm0 1zm-2 0zm-3-1zm-1 0zm0 3zm-2-2zm-1-3zm-2 4zm-1-1zm-1 2zm-2-4zm-2-1zm-5 3zm0 2zm-1-4zm-9-1zm-4 5zm-1-4zm-3 2zm-3-2zm-2 4zm-3-2zm-9 0zm18 7zm13-1zm0 1zm1-4zm5 1zm2 3zm1-1zm2-1zm0 1zm0 1zm7-4zm0 4zm4 0zm1-3zm0 2zm0 1zm1-2zm3 1zm1-1zm1-1zm1-1zm1 1zm4 3zm5-1zm2-3zm4 5zm2-4zm5 0zm1 1zm3 3zm1-5zm0 2zm1-1zm2 4zm4-1zm1-1zm2-3zm1 4zm4-4zm2 4zm0 1zm1 0zm1-1zm2 1zm1-5zm1 5zm2-5zm1 2zm2-2zm0 1zm1 10zm-1-1zm-3 0zm-1-1zm-1-3zm0 3zm-2 2zm-6-3zm-3-1zm-3 2zm-1-1zm-1-1zm0 1zm-8 0zm-2 1zm-2 0zm-7-3zm-2 3zm0 1zm-4 0zm-12 0zm-1-2zm-2-2zm-5 2zm-1 2zm-1-3zm-9 0zm-3 4zm-1 0zm-9-5zm0 2zm-2 0zm-2-2zm0 2zm-2-1zm-3-1zm-1 1zm-3 2zm20 5zm1-2zm4 4zm1-4zm2 4zm8-1zm4 1zm8 0zm1-1zm1-1zm5 0zm1-1zm3 2zm4-1zm5-2zm0 2zm2-2zm2 3zm2 0zm2-2zm7 3zm1-2zm0 1zm0 1zm3-2zm0 3zm3-3zm2 0zm1-1zm1 0zm0 1zm18 0zm-25 8zm-4 0zm-10-2zm-2 3zm-2-3zm-1-1zm-1 2zm-1-3zm0 4zm-8 0zm-4-2zm-1-2zm-4 0zm-2 0zm-9 4zm-9-3zm-5 2zm-3-1zm-2 2zm-3 1zm-13-4zm20 9zm15-1zm10-3zm0 4zm10-1zm3-2zm1 1zm8 4zm-16 5zm-24 4zm56 7z"/><path id="g386" d="M624 628zm55 3zm-51 4zm-17 6zm2-3zm0 2zm5 1zm3-1zm4-1zm1 1zm1-1zm1-1zm3 2zm0 1zm1-1zm1 1zm12 4zm-2-1zm-1-2zm-7 4zm-3 0zm-3-1zm-2 1zm-1-2zm-2 3zm-6-5zm-9 11zm3-2zm1-2zm4 2zm14-3zm1 1zm3 3zm2-2zm0 1zm3 0zm2-1zm23 6zm-10 1zm-3 2zm-1-5zm-1 0zm-6 3zm-2 0zm-2 2zm-2-1zm-2-1zm-1 0zm-4-1zm-1-1zm-4-1zm-2 4zm-2 1zm-2-3zm-9 1zm-2-3zm0 5zm-3-4zm-1 0zm0 1zm-9-1zm-4 9zm6-3zm4-1zm7 2zm0 2zm4-3zm0 4zm2-4zm0 1zm1 0zm2 0zm1-1zm2 1zm1 1zm4 0zm3-1zm2 1zm7-2zm9 1zm0 1zm5 2zm4-2zm24-2zm-24 9zm-5-3zm-1 3zm-2 1zm-1-4zm-2 3zm-1-4zm-15 5zm-5-2zm-7-2zm-5 0zm-3 0zm-3-1zm-2 0zm-1 3zm-4-2zm0 4zm-4-4zm-4 3zm-2 1zm-2-1zm-2-1zm-3 2zm8 2zm2 0zm9 0zm4 2zm1-2zm6-1zm2 1zm1 0zm8 3zm11-1zm1-2zm8 3zm2-4zm0 1zm3-1zm0 1zm0 4zm2 0zm1-4zm2 4zm2-4zm1 2zm9 1zm1-2zm3 3zm2-3zm-1 6zm-1 2zm0 1zm-4-5zm-2 0zm-6 3zm-1-3zm-1 3zm-6 2zm-4 0zm-4-2zm-1-2zm-1 4zm-2-1zm0 1zm-2-3zm0 2zm-5-3zm-5-1zm-3 1zm0 3zm0 1zm-6 0zm-4-4zm-3-1zm0 2zm-3 0zm-5 2zm0 1zm-2-5zm-4 1zm0 3zm-2-2zm-1 3zm-5-5zm0 4zm-3 1zm-11-5zm-3 5zm7 5zm3-2zm0 1zm4 2zm2-5zm2 0zm6 5zm4 0zm1-4zm0 2zm5-1zm1 0zm2 1zm0 2zm2-4zm6 1zm7-1zm17 2zm2-1zm0 1zm6-2zm11 2zm5 1zm5 0zm1-2zm3-2zm0 5zm2-5zm-6 7zm-9 1zm-11 1zm-2-3zm-4 3zm0 2zm-5-1zm-2-3zm0 4zm-5-3zm0 1zm-3 1zm-5 1zm-1 0zm-6-2zm-1 0zm-9 1zm-2-1zm-15-1zm-2 1zm-2-3zm-3 1zm-8 3zm-4-1zm-9 8zm5-5zm4 4zm3-4zm4 0zm0 2zm1 3zm11-4zm0 3zm0 1zm1 0zm4-4zm6 1zm4 3zm5-5zm12 2zm3 2zm2-3zm0 2zm9 2zm6-3zm3-2zm1 2zm0 3zm4-1zm4 1zm4-2zm1 2zm3-4zm6 3zm1-4zm0 4zm2 1zm7-3zm0 2zm2 1zm8 0zm-11 6zm-1-4zm-7 1zm-3 0zm0 2zm-5-1zm-5-3zm-3 5zm-1-3zm-4 0zm-7-1zm-6 0zm-3-1zm-2 2zm-1 1zm-4 0zm-6 0zm-3 1zm0 1zm-1-5zm-2 0zm0 1zm-3-1zm-3 0zm-1 0zm-6 5zm-1-1zm-1-4zm-2 1zm-1 3zm-12-2zm-2 2zm-3-1zm0 2zm-2-1zm-4-2zm-12-2zm-6 7zm3 4zm8-2zm1-3zm3 0zm4 5zm1-2zm2 2zm1-3zm5-1zm1 1zm2-2zm1 0zm2 2zm2 0zm10-1zm13 1zm3 1zm1-3zm3 2zm3 2zm2 1zm3-2zm5 0zm1-2zm0 1zm8-2zm0 4zm4-1zm2-2zm2 4zm4 0zm3-4zm7-1zm1 2zm2 3zm1-3zm6 0zm3 1zm12 5zm-10-2zm-2 1zm0 3zm-5-4zm-2 1zm-4-1zm-5 0zm0 4zm-13-2zm-3 2zm-1-2zm-3-1zm-1 0zm-9 4zm-1-5zm0 3zm-3 0zm-4-2zm-8 0zm-6 4zm-8-4zm-1 3zm-7 0zm-5-2zm-7 3zm-7-4zm0 4zm-1-4zm-4 0zm-3-1zm-1 3zm-6-2zm-1 4zm-3-3zm-4 3zm0 2zm8 2zm1 1zm9 0zm6 0zm2-4zm1 1zm0 2zm1-1zm2 2zm2-4zm1 0zm2 3zm8 1zm4 0zm3 0zm5 1zm5-4zm2-1zm0 5zm2 0zm1-3zm3 1zm1-2zm2-1zm1 2zm1-1zm0 2zm3-1zm4-2zm0 4zm1 0zm1-4zm0 4zm1-4zm3 0zm2 2zm6-2zm2 1zm2 3zm1-2zm3-2zm2 0zm4 5zm12 0zm2-1zm2 1zm10 2zm-13 0zm-4 1zm0 1zm-2 0zm-9 1zm-4 1zm-1-3zm-3-1zm-10 2zm-5 1zm-3-2zm-2 3zm-2-3zm0 3zm-2-2zm0 2zm-2-1zm-1-1zm-3-2zm-3 2zm-5-2zm-3-1zm-4 2zm-8-2zm-2 3zm-3 2zm-3-1zm-4-3zm-2 2zm-1 0zm-2 2zm-4-1zm-1 1zm-4-3zm-5 0zm0 1zm4 8zm2-5zm0 3zm1-1zm3-2zm12 0zm0 5zm2-4zm3 3zm3-3zm6 0zm12 3zm2-4zm3 2zm0 2zm2-2zm0 2zm6-4zm3 3zm12-1zm3-1zm2 4zm3 0zm2-2zm10 2zm2 0zm2-4zm2 0zm2-1zm2 1zm2 4zm1 0zm2-5zm-17 7zm-3-1zm0 3zm-1 0zm-6-3zm-5 4zm-2 1zm-3-1zm-3 0zm-3-3zm-2 2zm-2-2zm-3 2zm-4-2zm-1 4zm-6 0zm-7 0zm-6 0zm-1-5zm-2 3zm-2 1zm-5 1zm-1-2zm-9 2zm-6-1zm-14-3zm14 8zm4-2zm2-1zm1 1zm2-1zm1 4zm1-4zm3 3zm5-1zm5-2zm3 3zm6-3zm5 3zm9 1zm4-2zm4 1zm3-2zm0 2zm2-3zm1 0zm3 1zm5 2zm4 0zm5-2zm2-1zm4 2zm8-1zm6 3zm-11 4zm-15-2zm-11 5zm-3-2zm-1 2zm-10-3zm-2 0zm-9 3zm-8-5zm-7 5zm-1-1zm-5-2zm-10 0zm-2 5zm9-1zm23 5zm11-4zm10 1z"/><path id="g387" d="M625 635zm-3-5zm-3 5zm-3 1zm4 0zm3 4zm22 7zm-8-2zm-1 1zm-11-2zm-13-1zm-2 0zm-10 9zm6-1zm7-3zm7 5zm5-1zm4-2zm10 0zm20 3zm1 5zm-6-3zm0 1zm-2 0zm0 3zm-3 0zm-6-2zm-4-1zm-2-2zm-3 2zm-15-1zm-2 0zm-12-1zm-26 9zm15-3zm2 2zm10 1zm2-3zm0 1zm9 2zm2-2zm4 1zm0 3zm1-5zm4 5zm14-2zm1-1zm16-1zm2 2zm2 0zm1 6zm-20-3zm-7 5zm-1-2zm-1 1zm-6-3zm-2 2zm-8-2zm-4 0zm-3 2zm-6-1zm-7-1zm-12 4zm-10 4zm21-3zm3 1zm4 3zm7 1zm2-4zm6 1zm6 2zm4 0zm5-2zm3-1zm6 4zm1-3zm0 3zm5-4zm0 3zm1 0zm0 1zm4-3zm0 2zm6-3zm9 1zm10 4zm-10 3zm-1-1zm-2 3zm-8-2zm-10-3zm0 3zm-1-2zm-9 3zm-6-1zm-5-2zm-6 0zm-1 0zm-9 0zm-1-1zm-2 0zm-10 5zm-7 0zm-1-3zm-3 1zm-13 2zm-1-1zm-4 6zm5-2zm13 1zm7 0zm1-3zm3 4zm0 1zm1-3zm1 3zm1-3zm11-1zm2 2zm2-1zm4-1zm11-1zm5 3zm9 2zm8-1zm15 4zm-13-1zm0 2zm-2 1zm-9-2zm-3 0zm-7 1zm-1-2zm0 1zm-6 3zm-10-2zm-11 0zm-2-3zm-3 1zm-2 0zm-4 1zm-3 2zm-4 1zm-8-1zm-4-4zm-8 2zm-5 6zm2 0zm3 1zm9 1zm8-2zm2-2zm31 0zm7 2zm2-2zm5 3zm3 0zm5 1zm1-1zm1-2zm10 3zm4-4zm1 2zm2 2zm2-2zm0 1zm1-2zm4 3zm-1 6zm-2 0zm-1-3zm-1 1zm-2-2zm-5 4zm-10-4zm0 1zm-9 3zm-5-1zm-2 0zm-1 0zm-2-1zm-5 3zm-6-5zm0 4zm-4-3zm0 2zm-1 2zm-2-1zm-5-3zm-2-1zm0 1zm-3 3zm-6 1zm-2-3zm-4 1zm-6 1zm-8 1zm-1-5zm-1 3zm-4-3zm-1 1zm-2 0zm-2 4zm-1-4zm0 3zm4 3zm13 3zm2-3zm0 1zm1-2zm6 4zm2-3zm4 1zm1 0zm4-1zm2 3zm2-1zm1 1zm11-1zm3 0zm4-3zm0 2zm1 3zm2-3zm2 1zm4-3zm6 0zm1 4zm3-3zm3 4zm6-1zm4-2zm2 3zm3-3zm4-1zm15 10zm-19-5zm-5 1zm-10 4zm-1-3zm-5 3zm-3-3zm-11 2zm-14 1zm-1-3zm-1 0zm-1 2zm-17-4zm-2 0zm-10 4zm-7 1zm-3-3zm-8 3zm-1 3zm6 0zm22 2zm18 1zm2-3zm2 1zm4-2zm1 1zm2 1zm1 2zm3 0zm7-3zm11-1zm4 3zm3-1zm6 2zm6-2zm4 2zm7 0zm15 2zm-18 4zm-11-1zm-3-2zm-13 3zm-3-1zm-6-4zm-2 5zm-2-4zm-13-1zm-4 0zm0 5zm-5-5zm-9 0zm0 2zm-14 3zm-4-3zm-1-2zm-6 11zm4-3zm13 3zm4-1zm2-1zm36-3zm1 4zm0 1zm8-1zm9 1zm1-3zm20-2zm0 2zm8 1zm-24 8zm-2-4zm-15-1zm-1 3zm-1-3zm-3 0zm0 3zm-3-3zm-4 2zm-11 2zm-5-3zm-7-1zm-8 1zm-12 2zm-7-1zm23 6zm1-1zm6 1zm7 2zm1-3zm3 2zm1 0zm3-2zm3 2zm1-1zm1 0zm2-2zm5 0zm7 0zm5 0zm5 0zm11 0zm1 4zm2-4zm18 6zm0 1zm-20 2zm-14-3zm-12 2zm-5 1zm-1 0zm-22 0zm-1-2zm-4-1zm-1 2zm-4 1zm-9-3zm-2 5zm-1 1zm7 0zm14 2zm52-2zm8 1z"/><path id="g388" d="M615 641zm9-2zm1-2zm-23 10zm-2 5zm37-2zm4-2zm-6 7zm-3-1zm-8 2zm-1 0zm-6 1zm-8-2zm-33 7zm26-2zm3 2zm5 0zm0 2zm4-1zm3-3zm14 4zm5 1zm1-2zm15 2zm7-1zm18 4zm-9 1zm-5-1zm-2-1zm-3 1zm-7 1zm-3 0zm-9-1zm-5-2zm-3 3zm-4 0zm-2 1zm-4-4zm-4 5zm-1-1zm-2 0zm-4-3zm-5 4zm-3-4zm-20 1zm-5 8zm6-2zm5 0zm26-1zm4 1zm7 1zm11-3zm19 5zm2-1zm6-1zm5 1zm11-4zm-10 11zm-2-4zm-12 0zm-7 1zm-18-1zm-5 1zm0 1zm-3 2zm-1-4zm-2 4zm-13-1zm-14-4zm-16 1zm-1 2zm-2 2zm4 4zm3-2zm6 2zm10 1zm46-4zm8 3zm4-3zm5 2zm2 2zm12-1zm9-1zm-6 5zm-4 1zm-13-1zm-7 4zm-15-3zm-18-2zm-10 4zm-18 1zm-3-1zm-9-2zm-12-1zm2 10zm21-3zm9 0zm6 3zm18-4zm2 1zm3 3zm1-1zm2 1zm1-1zm11 1zm12-5zm18 3zm-5 7zm-3 1zm-2-3zm-2 0zm-18-2zm-18 3zm-15-1zm-10 0zm-10 3zm-12-2zm-14 2zm-1 6zm8 0zm6-1zm1-1zm1-3zm0 5zm6-2zm15 1zm3-1zm5-2zm25 4zm2-5zm4 3zm15 2zm20-3zm-5 8zm-8-3zm-1 1zm0 3zm-4-2zm-9 1zm-2 1zm-5-1zm-1 1zm-3-1zm-49 1zm-2-2zm-12 2zm-4 6zm1 0zm4-5zm16 4zm10 0zm2-3zm6 3zm18-4zm12 4zm2-2zm3 0zm1 3zm14-2zm18 7zm-9-2zm-3 3zm-25-5zm-2 4zm-1-3zm-2 1zm-8 2zm-1-3zm-9 4zm-1-3zm-8-2zm-1 0zm-20 0zm-3 1zm-1 1zm-7 1zm-3-2zm-3 0zm-1 8zm1-1zm6 2zm7-2zm5 0zm14 0zm0 3zm57-4zm1 9zm-1 1zm-18-3zm-19 0zm-6 2zm-17-2zm-6 3zm-3-1zm0 1zm-8 0zm-4 0zm-11-1zm21 2zm13 0zm12 4zm20 1zm2 0zm3-3zm3 1zm8-2zm-13 6zm-10 0zm-12 0zm-14 1zm-12-2zm-2 2zm-6-2zm-6 3zm73 10zm-48 0z"/><path id="g389" d="M627 634zm13 13zm-4-3zm-6 0zm-25 8zm13-2zm4 1zm5-1zm1-2zm20 4zm4 6zm-1-4zm-24 0zm-27 2zm-7 3zm3 1zm0 1zm3 0zm13 2zm1 1zm1-2zm0 3zm14 0zm10-5zm4 5zm15-1zm-30 6zm-31-3zm-12 1zm15 8zm3 1zm14-4zm0 2zm29-2zm12 1zm19 2zm-9 6zm-3-3zm-17 0zm-11 3zm-4-4zm-15 1zm-2 0zm-15-1zm-14 2zm-6 7zm5-1zm2 2zm43 1zm8-2zm26-1zm7 4zm-24 1zm-5 2zm-8 1zm-42-1zm-22 0zm-3-1zm14 5zm27 2zm11-2zm58 6zm-18 2zm-2-1zm-7 1zm-8-2zm-19 0zm-22 1zm0 2zm-3 1zm-21-2zm0 1zm-13 6zm21-1zm2-3zm4 1zm17 0zm1 2zm6 2zm5-1zm12-1zm44 5zm-5-1zm-9 3zm-14 0zm-11-2zm-15 3zm-30 0zm-4-3zm-7 0zm-5-2zm-7 0zm-12 2zm13 6zm0 1zm16 0zm14 0zm11-2zm0 2zm7-1zm2 1zm17 2zm1 0zm16-1zm3-3zm16-1zm-2 7zm-4 4zm-2-5zm-4 4zm-21-1zm-40 1zm-35-4zm-3 0zm15 8zm49-2zm3 0zm10 3zm9 0zm11 2zm3-2zm-8 8zm-3-2zm-4-2zm-24 0zm-16 4zm-14 0zm-3-3zm-16 5zm15 1zm10 0zm1-2zm0 4zm3-1zm17 2zm6-4zm7 1zm7-2zm1 0zm-32 7zm-4-1zm-6 2zm-8 1zm-3-1zm-6 1zm-3-3zm39 6z"/><path id="g390" d="M448 531zm25 9zm14 11zm-15 1zm45 1zm12 6zm-25 0zm-30 1zm-12 0zm-61 6zm90 0zm244 9zm-219-3zm-22-1zm48 13zm-24 1zm-11 3zm-15 9zm-1 0zm-6-1zm-2 1zm-22-2zm-30 4zm49 10zm-1 1zm-39-4zm109 8zm168 2zm9-2zm-264 8zm-29-3zm-16 6zm37 9zm-41 1zm-8 0zm-9 3zm38-1zm283 1zm14 1zm6 7zm-308 1zm-31-3zm-4 7zm57 2zm225-5zm-263 6zm6 8zm325 6zm-294 1zm-16-1zm-25-2zm-11 0zm57 23zm-16 10zm241 6z"/><path id="g391" d="M497 495zm-3 8zm-57 41zm49 2zm-17 1zm-20 4zm40 2zm23 6zm-31 0zm-43 9zm62 7zm172 11zm-181-4zm-16 3zm-42-3zm16 8zm42-1zm216 8zm-270-2zm60 10zm289 2zm-18 0zm-207 0zm-134 17zm59 4zm12 2zm-1 14zm-108 2zm34 7zm62-4zm321 9zm-6-4zm-5 3zm-348 3zm281 7zm-335 5zm39 4zm24 16zm-22-1zm282 5z"/><path id="g392" d="M468 548zm9 4zm7 0zm49 4zm185 20zm-267 6zm19 11zm-26 6zm39 2zm-7 5zm325 8zm-25 7zm-8 2zm-282-2zm-37 4zm212 2zm-237 7zm17 15zm265 6zm-301 18zm343 10zm-275-2z"/><path id="g393" d="M500 535zm243 5zm-237 10zm-41-2zm-34 0zm102 26zm-32 6zm-41 10zm323 3zm-329 3zm-25 51zm-19-5zm319 17z"/><path id="g394" d="M520 509zm-63 36zm11 16zm15 73zm252 2zm27 7zm41 13zm-116 43z"/><path id="g395" d="M710 575zm-277 1zm-5 18zm249 27zm-32 5zm-232 6zm-16 17z"/><path id="g396" d="M787 526zm-3 4zm3 2zm13 5zm-14 1zm-1-1zm-1-1zm-4 0zm-2 3zm-3-5zm-1 5zm-2-2zm1 3zm5 0zm2 0zm6 2zm0 3zm3-2zm1 0zm6 0zm7 1zm0 7zm-11-4zm-4 4zm-5-2zm0 1zm-10 1zm-12-1zm20 2zm1 2zm6-1zm8 4zm4-2zm17 7zm-18-4zm-3 3zm-3-2zm0 2zm-2 0zm-1 0zm-11 1zm-3-2zm-4 2zm-2-2zm-1 1zm-6 6zm1-3zm6 0zm5 4zm5-3zm2-1zm5 4zm8-3zm-8 6zm-7 1zm-1-1zm-1-1zm-1 1zm-1 4zm-2-1zm-14 4zm14 2zm8 0zm2-3zm2 2zm3-2zm3 2zm1-2zm2-1zm1 3zm-7 5zm0 1zm-1 1zm-5-4zm0 4zm-2-1zm-3-3zm-8 4zm-6 2zm18 0zm4 5zm6 0zm7 5zm-4-3zm-4 0zm-4 1zm-4 3zm-34 3zm34 0zm1 1zm-1 3z"/><path id="g397" d="M788 527zm14 10zm-3-2zm-16-1zm0 2zm-3-1zm-3 0zm-2 9zm2-4zm14 4zm6-3zm-2 8zm-6 1zm-6-2zm-3 2zm-2-4zm-1 1zm-2 4zm-3-4zm-3 2zm8 4zm2 1zm2 2zm18-2zm4 7zm-2-3zm-3 1zm-7 4zm-3-3zm-9 2zm-5-2zm-8 5zm6 0zm0 2zm6-2zm5 4zm3-3zm7-2zm-4 11zm-3 0zm-2-1zm-1 0zm-7-1zm-5 0zm-7 6zm26 5zm-3 1zm-3-2zm-10 0zm-6 3zm7 3zm4 2zm1-2zm6 6zm0 3zm-9-3zm-6 0zm0 2zm8 7zm10 11zm4 4z"/><path id="g398" d="M773 529zm7 3zm8 7zm-3-1zm-6 1zm-15-5zm-4 11zm9-4zm8 1zm0 2zm6-1zm11 6zm-1-3zm0 4zm-22-2zm-2 2zm7 3zm0 1zm27 6zm-9 0zm-10-2zm-8 5zm-11 3zm10-2zm2 1zm10 0zm7 4zm2-3zm1 3zm-6 1zm-7 7zm2 0zm0 13zm3-1zm0 10zm-2-5zm-1 0zm-13 8zm6-1zm3 3zm12-3z"/><path id="g399" d="M777 533zm4 0zm11-2zm-2 3zm-1 1zm-8 8zm14-1zm-1 4zm-15 0zm-2 1zm-13 4zm5 1zm23 5zm0 5zm-4-1zm-17 3zm24 9zm-7-3zm19 8zm-33 4zm10 8zm3-1zm7 4zm-11 2zm0 3zm-2-4z"/><path id="g400" d="M784 544zm13-4zm-14 6zm-12 9zm0 1zm10-2zm10 4zm-15 4zm-6-2zm3 7zm29-2zm-8 7zm-6-1zm-12-1zm0 5zm9 4zm-12 5zm9 9zm6 11zm1 17z"/><path id="g401" d="M780 539zm-1 3zm9 9zm-13 5zm18 6zm-27 15zm-8 10z"/><path id="g402" d="M809 595zm-10 7zm1 2zm3 0zm2 0zm10 1zm-2 2zm-4 1zm-2 2zm-2 0zm-4-3zm-9 4zm-1-2zm-7 6zm3-1zm7-2zm4 5zm2-1zm4-1zm0 1zm5-2zm0 2zm-3 5zm-6 0zm-4-3zm-4 1zm-3-1zm-2 0zm-1 1zm-7 3zm-5 3zm3 4zm1-1zm2 0zm1 0zm2 1zm2-5zm3 1zm4 1zm3 0zm3 2zm4 2zm-4 1zm-6-1zm0 4zm-1 1zm-5-1zm-3-1zm-3 0zm-8 2zm-13-2zm8 8zm3-3zm2-2zm11 2zm4 1zm1-3zm-9 7zm-1 2zm-3-2zm-4 0zm-6-1zm-2 3zm14 4z"/><path id="g403" d="M805 608zm-18 6zm4 1zm5-1zm5 3zm4-2zm3 0zm0 6zm-6-3zm0 4zm-2-1zm-4 1zm-5-4zm-1 3zm-7 0zm-13 7zm1 1zm2-5zm0 2zm0 1zm1-1zm0 1zm3 1zm10 0zm2-3zm2 3zm1-1zm8-1zm2-1zm-16 5zm0 5zm-5-4zm-1 3zm-6-4zm-4 5zm-2 3zm2-2zm8 1zm5-1zm0 2zm0 7zm-14-2zm-2-1z"/><path id="g404" d="M806 605zm2 0zm0 2zm-2 3zm-2 0zm-10 3zm0 3zm4 0zm2-3zm0 1zm7 1zm3-2zm2 0zm-12 7zm-10 3zm-5-3zm-7 8zm4-4zm9 1zm3 2zm2-2zm0 1zm-1 6zm-3-1zm-2-1zm0 3zm-4 2zm-17-1zm-1-1zm-1 8zm5-1zm3-4zm1 2zm10 1zm-9 3zm-2 1zm0 2z"/><path id="g405" d="M811 610zm-13-3zm-2 4zm-7-1zm5 4zm6 2zm4-2zm2 0zm2-2zm3 7zm-10 4zm-10-3zm0 2zm-2-4zm-9 1zm-2 3zm0 1zm-7-5zm9 6zm-2 8zm10 12zm-6 1z"/><path id="g406" d="M788 600zm15 3zm3 8zm-5 8zm-22 8zm7-3zm7 4zm9 0zm-9 4zm-7 1zm-17 4zm9 0zm3 2zm1 2zm2-3zm0 1z"/><path id="g407" d="M790 627zm7-2zm3 5zm-30 5zm-6 1zm10 4z"/><path id="g408" d="M467 529zm-2 6zm-3 0zm-3 4zm-5 3zm5 2zm2-3zm1 2zm1 1zm-7 10zm11 1zm-10 11z"/><path id="g409" d="M465 527zm-9 5zm3-2zm-1 6zm-4 1zm15 14zm-7 9zm-6 1z"/><path id="g410" d="M464 513zm-11 13zm9 3zm4 3zm-3 5zm2 11zm-5 3zm-3 0zm-1 16z"/><path id="g411" d="M462 541z"/><path id="g412" d="M459 546zm-2 11z"/><path id="g413" d="M454 526zm8 14zm3 1zm0 4zm1 1z"/></g><path id="pCT1" d="M548 314L577 317L603 326L626 346L637 369L643 398L644 427L640 455L628 484L605 510L582 525L559 527L536 522L513 513L490 501L467 484L447 464L430 438L424 412L433 386L450 360L473 340L499 326L525 317z"/><path id="pCT4" d="M582 309L594 291L614 277L640 265L663 257L680 257L686 268L683 288L675 309L663 326L651 346L643 363L628 349L605 326L588 317z"/><path id="pST" d="M680 360L689 347L703 336L724 329L749 329L767 333L772 347L772 366L764 381L748 391L729 393L709 391L692 383L682 373z"/><path id="pCT2" d="M663 421L686 418L712 424L732 441L744 461L749 484L747 507L735 525L715 533L692 536L663 539L640 548L623 562L600 571L577 565L559 542L571 530L594 519L614 507L628 484L640 461L649 438z"/><path id="pCT3" d="M623 559L640 548L663 539L692 536L715 535L735 539L742 556L741 579L732 599L715 614L698 620L677 614L657 602L640 588L628 574z"/><path id="pEVT1" d="M484 579L505 568L531 562L554 565L574 574L582 594L590 622L590 651L577 674L559 697L536 715L513 720L490 720L461 715L441 697L430 674L421 651L410 631L418 620L441 620L464 617L479 599z"/><path id="pEVT3" d="M441 697L461 715L490 720L513 720L536 715L554 726L562 743L559 764L542 778L519 790L505 791L490 778L473 758L459 732L444 715z"/><path id="pEVT2" d="M559 697L577 674L594 657L611 640L626 634L646 643L663 660L675 680L679 709L675 732L660 749L634 758L605 758L582 752L565 735L551 718z"/><path id="pEVTS" d="M778 527L793 533L804 545L801 562L793 576L790 594L796 605L778 608L770 585L767 556L770 539z"/><path id="pBLK" d="M764 634L778 622L793 611L807 602L816 605L807 622L793 637L778 646L767 646z"/><filter id="bl" x="-5%" y="-5%" width="110%" height="110%"><feGaussianBlur stdDeviation="2.5"/></filter><g class="d"><path id="t0" d="M2124 502zm0 1zm-3 0zm-2-1zm-8 1zm4 1zm1 1zm7 2zm1-3zm2 1zm1 0zm2-1zm-1 5zm-1-1zm0 2zm-1-1zm-1-1zm-1 1zm-1 2zm-1-1zm-3-1zm-2 0zm-2-1zm0 3zm-1-3zm2 4zm0 1zm11 2zm1-2zm1 3zm-2 3zm-2 0zm-2-3zm-2 3zm-3-1zm-2 1zm-5-1zm0 5zm8-2zm1 0zm0 1zm0 1zm1-1zm2-2zm0 3zm1-3zm0 1zm2 2zm1-3zm1 7zm-2 0zm-1 0zm-2-2zm0 1zm-1 1zm-2-2zm0 1zm-1 0zm-2-1zm-6 2zm3 1zm2 1zm4 0zm2 1zm3-1zm1-1zm2 4zm0 1zm-1-1zm-1 3zm-2-1zm-1-1zm-3 0zm-7 5zm8-1zm2 1zm4 1zm3 1zm-2 1zm-3 0zm-2-1zm-2 7zm1-1zm2-2zm1 3zm1-2zm1-1zm1 0zm0 3zm1-3zm0 2zm1 5zm-3-1zm-1 0zm-3 3zm3 2zm5 4zm-1-1zm-2 1z"/><path id="t1" d="M2119 499zm6 4zm-4 0zm-6-2zm-8 5zm9-1zm4 0zm0 1zm3-2zm3 1zm1 2zm1 3zm-1-1zm-2-1zm-2 3zm-1-3zm-3 1zm-4-1zm7 6zm1 1zm3-3zm1 0zm0 1zm-1 3zm0 3zm-6-1zm-6-2zm-10 2zm19 5zm3-2zm1-1zm0 1zm1 3zm-4 3zm-1-3zm0 2zm-2 1zm-1-1zm-1-2zm-2 1zm-8 0zm7 3zm1 3zm1-1zm2-1zm1 0zm1 2zm1-1zm1-2zm0 2zm2 0zm0 2zm0 3zm-1 0zm-3-1zm-8-2zm-7 6zm9 0zm3 1zm4-1zm1-2zm2 3zm1 1zm-1 1zm-1-1zm-8 1zm11 5zm0 1zm-6 7zm8 0zm0 1zm-2 3zm-7 0z"/><path id="t2" d="M2106 507zm12 0zm6-1zm1-2zm0 1zm0 2zm3-2zm2 0zm-4 4zm-2 0zm3 8zm-7 2zm-4-1zm0 4zm4-2zm5 2zm3 5zm-4-3zm-6 0zm-1 2zm-1 5zm5-1zm1 0zm3 1zm1-3zm1 0zm0 1zm-1 5zm-2 0zm-1 0zm-1 0zm-2 1zm-6 3zm3-1zm9 1zm0 1zm1 1zm-2 0zm-3 2zm-2 3zm1 1zm1 1zm4 2z"/><path id="t3" d="M2126 503zm-8 5zm8 6zm2 1zm-10 4zm2 6zm-3 1zm10 4zm-10 7zm0 5zm8 5zm5 12z"/><path id="t4" d="M2128 507zm1-2zm1 2zm1 0zm1 0zm2 0zm2 0zm1 1zm0 1zm-1-1zm0 1zm-1-1zm0 3zm-2-1zm0 1zm-2-1zm-1-1zm0 1zm-1 5zm1-1zm1-2zm1 0zm0 3zm1-3zm0 3zm1 0zm1-1zm0 1zm2 3zm-1-2zm0 3zm-1-1zm0 1zm-1-3zm-1 2zm-1 1zm-1-2zm-1-1zm0 1zm-2 0zm-1 3zm2 0zm0 3zm1-3zm2 1zm2 2zm2 1zm0 3zm-2-3zm0 2zm-2-2zm0 1zm0 1zm-1-1zm-1 0zm-1 0zm0 1zm1 2zm2 1zm0 1zm2-2zm1 4zm0 1zm-1 0zm-1 0zm-1 1zm-2-2zm0 1zm-2 3zm1 0zm4 0zm0 1zm1-1zm2 0zm1 1zm0 3zm0 1zm-2-1zm-1 0zm0 1zm-1 1zm-2 1zm-1-2zm-1-1zm1 7zm2-2zm1 2zm1-3zm1 6zm-4 0zm0 1zm-1 1zm3 2zm0 1zm1 0zm-3 4zm2 1z"/><path id="t5" d="M2131 505zm0 1zm2 0zm1 1zm3 1zm-1 0zm0 3zm-1-3zm0 1zm-3-1zm0 1zm0 2zm-1-2zm-2 4zm1-1zm0 2zm1-1zm1 0zm0 1zm2-2zm1 2zm-5 2zm-1 0zm1 7zm1-1zm0 1zm3 0zm3 0zm0 3zm-2-1zm0 2zm-1-1zm-1-1zm0 2zm-2-2zm0 2zm-3-2zm0 6zm2-3zm1 2zm1 1zm1-2zm0 2zm2-1zm1 3zm-4 1zm-1-2zm0 2zm-2-2zm-1 1zm2 5zm0 1zm4-3zm2 2zm0 3zm-1-1zm0 1zm-1-1zm-3 3zm-1-3zm2 4zm2 4zm-1 0zm0 3zm-2-1zm-1 1zm3 3zm1 4zm0 1zm-4-3z"/><path id="t6" d="M2132 506zm1 2zm-3 1zm-1 3zm2 3zm3-1zm1 4zm-3 0zm-1-1zm-1 0zm0 2zm-1 2zm1 0zm1-1zm5 6zm-1 0zm0 1zm-2-2zm0 2zm-3-2zm-2 0zm5 4zm4 0zm0 4zm-2 0zm-3 1zm-1-1zm-2-1zm2 4zm1 3zm4 0zm1 2zm-2 2zm-1-2zm0 1zm-3 1zm-2 0zm4 2zm3 6zm-3-3zm-3 7zm1 4z"/><path id="t7" d="M2136 511zm-3-2zm-1 1zm-2 0zm6 9zm-5-3zm2 5zm0 4zm-3 0zm-1 0zm4 6zm1-1zm1 3zm-1 0zm3 8zm-5-1zm-1 7zm2 3z"/><path id="t8" d="M2146 440zm3 2zm1 1zm0 2zm-1-1zm-18 3zm5 1zm1 2zm5 0zm3-2zm1 1zm1 2zm0 1zm-1 0zm-5 3zm-1-2zm0 2zm-4-1zm-6 4zm6-1zm6 0zm3 0zm-13 4zm-6-1zm1 6zm0 1zm5 0zm1 0zm4-2zm2 4zm0 1zm-1-1zm-3 1zm-7-2zm-2 4zm2 1zm1 0zm1 1zm4 0zm1 0zm0 1zm1-3zm0 3zm1-3zm0 1zm1-1zm0 1zm-4 6zm-4-1zm-2-2zm-9 4zm4 3zm1-1zm0 1zm1-1zm1 1zm3-3zm2 0zm0 1zm1 0zm1 1zm0 1zm-3 2zm0 2zm-1-3zm0 1zm-2 2zm-1 0zm-3-1zm-1 1zm-8 3zm4 1zm4-2zm1 1zm1 0zm3-2zm0 3zm1-3zm1 1zm0 1zm1-2zm0 2zm2 1zm-1 2zm0 1zm0 1zm-2-2zm-1 0zm-4 1zm0 1zm-6-3zm-1 7zm1 0zm9-3zm2 1zm-4 4z"/><path id="t9" d="M2147 440zm0 3zm1 0zm1 0zm2 4zm-2-2zm-9 0zm-1 6zm3-1zm1 1zm2-3zm2 2zm4-2zm0 1zm-8 4zm-1-1zm-1 3zm-5 0zm-8 0zm2 2zm7 0zm4-1zm4 0zm-5 4zm-2 0zm-6 1zm-6 1zm-2 2zm7 0zm1 3zm1-1zm8 3zm0 1zm-2 0zm-2 0zm-2 1zm-1-2zm-1 0zm-6 2zm-11-1zm3 2zm4 2zm2 1zm10-1zm0 1zm2 0zm-2 4zm-2-2zm-2-1zm-1 3zm-3-2zm-11 6zm3-2zm7 2zm1 0zm3-3zm1 0zm-1 6zm-13 1zm5 3zm2 0zm1-1zm1-1zm2 1zm0 1zm0 1zm1-1zm1 0zm0 1zm2-3zm-3 5zm-2 0zm-1 1zm-2 0zm0 1zm-1-1zm0 1zm-2 0zm-2 3zm7-2zm4 8z"/><path id="t10" d="M2137 441zm7 4zm-2 4zm3 0zm1 1zm-2 3zm-1-1zm-10 10zm-1-2zm0 2zm1 2zm3 2zm1 1zm2 1zm-3 3zm-12 0zm-8-2zm10 3zm6 3zm2 0zm2-1zm0 2zm-1 2zm-2-2zm-4 3zm4 2zm-1 5zm-2-1zm0 1zm-4 1zm-7 1zm6 2zm3-1zm2 2zm-1 3zm-2 1zm-2-3zm0 2zm0 1zm-1-1zm-3-1zm-8 2zm4 3zm11-1z"/><path id="t11" d="M2151 447zm-1-1zm-3 5zm-1 1zm-1 0zm-5 2zm-9 5zm8 1zm-4 2zm-10 4zm4-2zm7 3zm2 4zm-13 0zm3 3zm4-2zm4 3zm-5 4zm-18 2zm7 2zm12-1zm2 0zm-5 6zm1 5zm-2 1zm-17 1zm16 1zm2 6zm-1 0zm-1 0z"/><path id="t12" d="M2155 455zm-1-3zm0 2zm-1-2zm0 2zm-1-2zm-7 2zm-1 2zm2 0zm0 2zm1 1zm3-2zm4 0zm-7 3zm0 2zm-3-2zm0 1zm0 1zm-2-1zm-1 0zm-1 1zm0 2zm1 2zm1-2zm0 2zm4-2zm-7 10zm1 0zm0 1zm1-2zm0 2zm3 0zm9-3zm5 2zm-12 4zm-1-2zm-4 1zm0 2zm-1-3zm-1 2zm-2 0zm-3 5zm5 0zm2-1zm0 1zm1-3zm1 1zm2-1zm10 2zm-15 3zm0 2zm-1 0zm-1-3zm0 1zm-2-1zm0 1zm-3 2zm0 4zm1-3zm1 2zm1-1zm0 1zm1-1zm0 1zm2 1zm2-3zm-4 4zm0 1zm-1 2zm-2-3zm-1 3zm-2-1zm-1 2zm1 1zm0 1zm1 0zm1-2zm0 2zm3-2zm1 0zm0 1zm0 1zm2 1zm32 3zm-35 1zm-2-3zm-2 2zm-1 1zm-1 2zm1-1zm1 0zm1 0zm2 0zm0 1zm1 1z"/><path id="t13" d="M2154 454zm-4 1zm-1-3zm0 2zm-1-2zm-3 3zm-2 1zm0 2zm7-1zm0 2zm5-3zm-7 5zm-1-1zm-5 3zm-1 0zm-2-1zm2 2zm2 1zm-1 6zm-3 3zm2-2zm0 3zm2-2zm0 1zm1 1zm1 0zm2 3zm-3-1zm0 1zm-1-2zm0 1zm-2 2zm-2-1zm-1-1zm0 1zm-3 5zm2 0zm1-1zm1-2zm0 1zm1 1zm2-1zm2 1zm-11 8zm2-1zm5 2zm0 3zm-1-2zm-5 3zm-3 3zm1 0zm3 0zm3 0zm1 0zm-5 2zm-1 0zm-3 3zm4 1z"/><path id="t14" d="M2153 450zm2 4zm-1 0zm-5 0zm-4 4zm1 0zm1 2zm0 2zm-1 0zm-1 1zm-4-1zm2 12zm1 1zm2 3zm-2 1zm-1 0zm-1-2zm0 1zm-1 0zm-1 0zm-1-2zm0 2zm-4 1zm1 2zm0 1zm0 1zm2-3zm1 0zm1 0zm0 3zm1 0zm1-3zm0 2zm0 1zm1 3zm-10 1zm0 2zm1-1zm3 3zm6-3zm-4 6zm-1 0zm-2-2zm-1 3zm-3-2zm7 5zm-3 3zm-6 3zm5 0zm0 1zm1 0zm41 12z"/><path id="t15" d="M2151 450zm-3 4zm-5 4zm6-2zm-5 5zm-3 2zm2 1zm0 10zm0 1zm-5 4zm-2 2zm4 2zm-5 6zm2 2zm4-3zm-8 5zm0 5zm3 1zm-3 5zm2 0z"/><path id="t16" d="M2185 408zm4 0zm0 1zm1 0zm1 2zm4-3zm1 3zm0 1zm-9 1zm-5 2zm-5 0zm-2-3zm-2 7zm5-1zm4-2zm3 1zm1 0zm0 1zm-2 3zm-8 2zm-1 0zm-9 1zm6 1zm0 2zm3-2zm0 1zm2 0zm0 1zm-3 2zm-2 0zm-1 1zm0 1zm-2-1zm-1-2zm0 3zm-3-2zm-9 4zm0 1zm9 0zm3-2zm0 1zm3-1zm3 0zm-13 4zm-2 3zm-2 0zm-4-2zm-1 6zm1 0zm3-1zm0 1zm1-2zm2 1zm0 1zm1-1zm2-1zm-6 3zm-3 1zm0 1z"/><path id="t17" d="M2188 394zm6 10zm0 3zm-2-3zm-11 2zm14 3zm-5 4zm-3 0zm0 2zm-3-3zm-1 2zm-13-2zm8 4zm0 3zm10-1zm-3 2zm-3 0zm-3 3zm-1-3zm-4 2zm-14 2zm8 2zm4 1zm5 0zm-7 1zm-4 0zm-8 3zm8 4zm5-3zm-6 4zm-6 1zm-9-1zm0 2zm1 5zm4 0zm1-3zm-1 6zm-1 0zm0 1z"/><path id="t18" d="M2185 411zm1-3zm5 6zm-11 0zm1 4zm3-2zm0 3zm-10 4zm-8 4zm15-2zm-7 5zm-4 0zm-1-2zm-13 7zm12-2zm3-1zm-13 4zm-5 3zm3 4zm2-2zm1 1zm-6 3z"/><path id="t19" d="M2196 412zm-5 2zm-24 15zm-1 8zm-10 4zm-1 3z"/><path id="t20" d="M2198 413zm-2-1zm0 2zm-6 4zm2-1zm7 2zm-7 2zm0 2zm-2-3zm0 1zm-3 0zm-6 4zm6-1zm1 0zm6 0zm2 0zm-12 4zm-2 0zm-1 1zm-2 1zm-1 0zm-1-1zm0 1zm-2 1zm-3 3zm1-1zm1-1zm1 1zm1-1zm-2 6zm-3 0zm-1-1zm0 2zm-3-2zm-6 5zm2-1zm6 0zm2 1zm-6 3zm-4 1zm-1-2zm0 1zm-3 0zm-1 0zm2 4zm0 2zm4-3zm44 5zm-49-1zm0 1zm25 4zm-8 7zm4 0zm9 10zm-10 5zm0 9zm19 24z"/><path id="t21" d="M2196 413zm-4 3zm7 3zm-8 2zm-1 2zm-14 4zm9-2zm2-1zm0 3zm2 0zm-5 3zm-1-1zm-1-1zm-7 3zm-6 4zm2 0zm2-1zm3 1zm3-2zm18 3zm-23 1zm-1 0zm-1 1zm-1 0zm-1-2zm0 1zm-1-1zm-1 1zm-9 6zm10-3zm26 2zm-18 4zm-12 0zm-1-2zm-3 0zm-1 0zm-1 2zm-2 5zm6-1zm28-1zm-34 4zm25 11zm-11 10zm51 4zm-9-1zm-25-1zm-11 2zm14 10zm46 48z"/><path id="t22" d="M2197 415zm-5 3zm3 5zm-1 0zm-1-3zm-5 2zm-3 0zm-5 3zm5-1zm6 0zm-4 6zm-8 1zm-2-2zm-2 2zm-2 4zm3-2zm1-1zm-3 4zm-1 1zm-1 2zm-6-3zm-4 5zm2 2zm6-3zm23 7zm-30-2zm-2-1zm0 2zm-5 2zm4 2z"/><path id="t23" d="M2200 419zm-10 2zm-5 2zm-11 8zm0 5zm-5 0zm0 2zm-3 0zm-7 5zm4 0zm-2 3zm-2 2zm30 4zm3 13zm4 5z"/><path id="t24" d="M2230 363zm-6 8zm4 0zm1 0zm14 4zm-1-2zm-1 0zm-3 1zm-11 2zm0 1zm4 2zm3 0zm10 2zm-4 0zm-1-1zm-11 1zm0 1zm-5-2zm-4 1zm-3 0zm1 3zm0 3zm3 0zm2 0zm4-3zm0 2zm0 1zm1-1zm2 0zm1 0zm1 0zm5-2zm-9 4zm0 1zm-5 0zm0 1zm-3-1zm0 2zm-1-3zm-1 1zm-3-1zm0 2zm0 1zm-7-1zm-1-1zm-4-1zm7 5zm1 1zm2-1zm1 2zm3 0zm3-2zm0 1zm1 0zm1 0zm-8 3zm-4-1zm-10 2zm-1 1zm4 1zm0 2zm1 0zm0 1zm3 0zm1 0zm4-2zm1 1zm-6 4zm-2-1zm-2 1zm-1-1zm-1 1zm-3 0zm-1-2zm2 6zm1-2z"/><path id="t25" d="M2229 361zm12 4zm-5 1zm-1 1zm7 6zm-1 0zm-8 1zm-7-2zm-1 3zm-3 0zm8 3zm12 1zm1-3zm-5 6zm-2 0zm-4-2zm-13 0zm-4 2zm-14 4zm16-1zm8 0zm9-1zm-6 4zm-2 0zm-3 3zm-8-2zm-12 2zm-8 1zm9 3zm7-3zm12 1zm-17 6zm-10 2zm0 1zm1 1zm3 0zm2-1zm4-2zm5 0zm-3 4zm-1 0zm-5 2zm-1 1zm-1 3zm0 1zm2-3z"/><path id="t26" d="M2225 371zm11 2zm-4-1zm2 4zm0 2zm3 0zm6-1zm-12 4zm-3-1zm-2 4zm3 1zm1 1zm0 1zm-3 1zm-9 2zm-11 0zm4 8zm-2-2zm-13 2zm1 4zm15-2zm-11 6z"/><path id="t27" d="M2215 378zm9 4zm-5 1zm-1 5zm-11 0zm-3 5zm4 2zm15-3zm-18 5zm-9 6zm3 0zm15-2zm-17 5z"/><path id="t28" d="M2245 382zm-1-1zm0 1zm-4 0zm-1 2zm1 1zm1 2zm3-3zm1 0zm1 6zm-4-2zm0 2zm-1-1zm-3 1zm-3-2zm-4 1zm-4 2zm2 3zm2-2zm1 1zm2 4zm-3 2zm-1-1zm-1-2zm-3 1zm0 1zm-1-1zm0 2zm-1-2zm-2 1zm-2-2zm0 1zm-1 2zm-1-2zm-2 0zm-4 5zm2-1zm2 2zm2-3zm1 1zm2 1zm1-2zm0 1zm0 1zm2-2zm7 0zm-11 6zm-4-2zm0 2zm-2 1zm-1-2zm-1 0zm-3 0zm-4 2zm-1 0zm-2 2zm0 2zm1-1zm3 1zm2-3zm2 1zm0 1zm35 3zm-37 2zm-2-3zm0 2zm-1 0zm0 1zm-1-1zm-4-1zm5 3zm24 3zm20 7zm-4 7zm-25 4zm2 4zm22-1zm-8 5zm-18 0zm39 5zm-33 4zm37 4zm-35 23zm13 34z"/><path id="t29" d="M2244 382zm-4 1zm1 4zm4-3zm2 5zm-9 1zm-4 1zm-13 4zm8-2zm3 0zm1 4zm-4-1zm-3 1zm-1 1zm-1-2zm-9 3zm-2 3zm2-1zm1 0zm2-1zm1 2zm1 0zm6-1zm-2 3zm-2 0zm-10 0zm-1 0zm-9 5zm7 1zm1 0zm0 1zm4-2zm4-1zm20 2zm-29 4zm-2-1zm-3 1zm0 1zm-3 4zm2-1zm42 6zm-23 5zm27 8zm-5 0zm-13 29zm3 9z"/><path id="t30" d="M2245 386zm1 0zm-11 2zm-1 0zm0 1zm-3 1zm-3-1zm0 1zm1 4zm6-2zm-10 6zm-4 1zm-8 4zm1-2zm4-1zm27 0zm-21 5zm-8-1zm-14 6zm3-2zm5 3zm43-1zm-45 2zm-8 2zm22 4zm6-2zm30 5zm-1 0zm-32 8zm5 3zm-14 5z"/><path id="t31" d="M2241 387zm-2 4zm-10-1zm3 3zm1 1zm3-1zm-14 6zm-2-3zm3 6zm-7 2zm-4 0zm-4 2zm-1 4zm4 1zm42-3zm-45 6z"/><path id="t32" d="M2278 339zm13 0zm-9 1zm-3 2zm-27 2zm8 3zm9 0zm8-1zm2-2zm6 1zm3 1zm-3 4zm0 1zm-1-2zm-6-1zm-4 1zm0 1zm-1-2zm-8 2zm-1-1zm-5 5zm3-1zm4-1zm0 1zm0 1zm10-1zm3 0zm4 0zm3 0zm3-1zm-18 4zm-4 0zm-4 1zm0 1zm-6 1zm-7-1zm0 1zm2 2zm6 2zm2-1zm4-2zm0 2zm8-2zm-6 4zm0 2zm-4 0zm-1-2zm-2 0zm-1 1zm-7 2zm-1-3zm-3 0zm-4 0zm4 4zm2 2zm3-1zm3 1zm4-2zm1 0zm-12 5zm2 4z"/><path id="t33" d="M2283 342zm-18 0zm8 3zm1 0zm9 0zm8-1zm1 3zm-4 3zm-4 0zm-9 1zm-1 0zm-1-2zm1 4zm4-1zm-1 7zm-1-2zm-4 1zm-1-2zm-4 1zm0 1zm-3 1zm-4 0zm-1 0zm-3-2zm-12 1zm2 5zm2-3zm0 2zm14 1zm2 2zm-1 1zm-4 1zm-4 0zm-2-2zm-6 1zm-3 0zm0 5zm1 1zm0 1zm1 3z"/><path id="t34" d="M2284 332zm-2 9zm0 2zm-2 0zm-12 1zm19 2zm-40 9zm20-1zm11-2zm-20 4zm-1 2zm-9 1zm13 4zm4-1zm11-2zm-13 5zm-4 1zm-4 0zm-2 0zm-5 2zm6 1zm2 3z"/><path id="t35" d="M2276 342zm-9 2zm10 3zm16 4zm-34 1zm3 1zm1 0zm15 1zm1 1zm1 2zm-10 1zm-2-2zm-6 5zm-2 3z"/><path id="t36" d="M2294 349zm-5 4zm4 0zm2 2zm1 3zm-2-2zm-3 3zm-5-2zm-6 2zm-1-1zm0 1zm-7 4zm5-2zm1-1zm1 2zm5-2zm4 3zm3-2zm0 1zm-2 3zm-1-1zm-4 1zm-2 2zm-1-2zm-2 2zm-1-3zm0 3zm-5-1zm0 1zm-1-3zm0 3zm-2-3zm0 3zm-1-1zm-8 5zm2 0zm11-1zm1 1zm1 1zm-2 0zm-6 0zm0 1zm-3 0zm0 1zm0 1zm-1-1zm-2-2zm0 1zm-1 0zm0 1zm-4 1zm-1-1zm-6 3zm1 0zm2 2zm9-1zm1-1zm0 2zm3-2zm19 1zm9 5zm-12 0zm-24-3zm-6 2zm-1-2zm-1 3zm-3-3zm2 5zm1 1zm1-2zm2 0zm4 1zm2 6zm28 3zm-30 17zm3 0zm26 1zm-29 0zm2 5zm40 2zm-17 2zm30 5zm-2 23z"/><path id="t37" d="M2295 349zm-6 4zm-16 10zm15-2zm1 3zm-1 1zm-28 5zm1-1zm0 1zm3 1zm6-3zm1 3zm14-3zm-15 4zm-6 1zm-7 0zm-1 0zm-2 0zm-1 5zm8-1zm2 2zm2-3zm1 0zm16 6zm-24-2zm-3 3zm-4-1zm22 6zm23 8zm-4 0zm-19 2zm-4-1zm-7 6zm31-2zm-22 31zm14 10zm-14 15z"/><path id="t38" d="M2294 350zm-1 0zm-5 1zm-3 2zm9 0zm0 2zm0 1zm-4 0zm0 3zm-12 1zm3 0zm0 3zm-7 4zm-13 4zm11-2zm-1 3zm-13 3zm-5-1zm-4 4zm41 2zm-35 3zm-5 4zm2-3zm18 38z"/><path id="t39" d="M2288 354zm-2 3zm-4 10zm-4-1zm-8 2zm9 1zm0 1zm-10 3zm-19 2zm0 2zm0 1zm2-2zm0 1zm4 2zm6-3zm-7 5zm-1 0zm-1-1zm-4 5zm47 1zm-40 21zm13 43z"/><path id="t40" d="M2335 306zm7 1zm0 4zm-19-3zm-9 2zm-18-1zm11 6zm16-3zm18 0zm1 3zm1 2zm-5 1zm0 1zm-1-3zm-10 3zm-36 4zm3-2zm14 1zm5-1zm3 2zm1-1zm18-2zm0 1zm3 2zm1 1zm-5 3zm-1 0zm-3-2zm0 1zm-2-2zm-2 0zm0 2zm0 1zm-19 0zm-8 3zm15 0zm1 0zm11-1zm1 0zm-5 4zm-3 2zm-3 0zm-4 0zm-1-3zm-2 1zm-1 2zm-6-3zm-3 1zm-1 0zm-7-1zm10 7zm4 0zm4-2zm3 1zm1-2zm0 2zm4-2zm-13 4zm-2 0zm0 2zm-8 1z"/><path id="t41" d="M2335 302zm-7-1zm-5 0zm0 4zm-1 5zm8 4zm4-1zm3 1zm4-1zm2 0zm-15 5zm-15 3zm15 2zm1-1zm6 0zm1 0zm3-2zm-22 6zm-26 5zm3-2zm17 0zm7 2zm4-3zm6 0zm-9 7zm-3 0zm-1-3zm-4 1zm-8 0zm-3 0zm-3 1zm-5 2zm10 0zm1 0zm-2 4zm-2 3zm-1 0zm-4-3zm2 4zm3 2z"/><path id="t42" d="M2339 297zm-8 6zm-25 8zm2 4zm22-1zm13 1zm-5 3zm-2 1zm-6-2zm-1 10zm-6 2zm4 4zm-9 1zm-3-2zm-16 0zm4 5zm1 1zm9-1zm-10 4zm-9 0z"/><path id="t43" d="M2306 305zm19 17zm14 1zm1-1zm-8 3zm-31 3zm13 0zm8 6zm-3 1zm-21 7zm-3 3z"/><path id="t44" d="M2339 323zm1 3zm-3 1zm-4 0zm-6 4zm6-2zm2-1zm2 1zm3 1zm5-2zm0 1zm-5 6zm-1-1zm-4 1zm-1-3zm0 3zm-3-2zm-3 1zm-9 2zm4 1zm9 2zm1-1zm2 1zm4-1zm-14 5zm-2 0zm-3-3zm-3 3zm-2-1zm-1-2zm-17 6zm6-1zm8 1zm3-1zm1 0zm1 2zm6-2zm3 1zm-13 4zm-5 0zm-1-2zm0 1zm-10-1zm0 2zm1 2zm0 1zm3-1zm1 3zm1-1zm0 1zm3-3zm0 1zm3 1zm28 1zm15 0zm-7 4zm-33 3zm30 1zm-19 3zm3 4zm11-1zm-15 3zm-15 0zm35 5zm12 9zm6 1zm-24 2zm-28 3zm24 18zm-13 8zm11 0zm-5 11z"/><path id="t45" d="M2345 324zm-6 3zm2 2zm6 4zm-6-1zm-3 3zm-7-3zm0 2zm-3-1zm-1-1zm-5 2zm-5 5zm3-3zm0 2zm11-2zm2 2zm3 1zm5-2zm-11 5zm-6 1zm-6-1zm-2-2zm-6 2zm-1 1zm-7 4zm4-3zm6 3zm5-3zm1 1zm4 0zm16 2zm0 2zm-20-1zm-11 3zm-3-1zm-4-2zm-3 2zm0 2zm9 1zm21 0zm-24 3zm-1 1zm14 6zm38 2zm-17 13zm1 5zm22 16zm-13 0zm-3 0zm7 4zm-10 18z"/><path id="t46" d="M2346 329zm1 5zm-5 1zm-4-1zm-6 1zm-13 0zm1 2zm3 0zm1 0zm4 1zm3-1zm2 2zm8-2zm-6 3zm-2 2zm-3 1zm-24 4zm8-1zm1-1zm2 0zm5 0zm3-1zm-6 4zm-15 0zm-7 1zm49 8zm-3 1zm-40-2zm16 22zm-8 23zm29 33z"/><path id="t47" d="M2337 334zm-9 0zm-6 0zm-2 3zm-1 4zm-5 0zm-7 6zm4-3zm1 2zm1 3zm-17 0zm3 6zm27 0zm15 9zm-28 10zm30 5zm-27 3z"/><path id="t48" d="M2377 269zm-4 10zm9 2zm0 1zm6 3zm-11-1zm-14 6zm6 0zm2 1zm8-1zm6-2zm0 2zm8-1zm-7 6zm-4-3zm-4 3zm-13-3zm-21 1zm7 3zm6 0zm1 3zm2-1zm7-2zm0 1zm1 1zm3-2zm12 0zm0 1zm6-1zm2 0zm-10 5zm-4 1zm-5 1zm-1-2zm-5 2zm-4-2zm-13 2zm-3 0zm7 1zm7 2zm2-2zm1 0zm9 0zm5 0zm-7 4zm-3 0zm-4 0zm-13 0zm-1 2zm-1-2zm-3 1zm-1 1zm11 3zm2-1zm-6 4zm-4 0zm4 5z"/><path id="t49" d="M2360 280zm12 0zm4 0zm17 2zm-12 4zm-3-1zm0 2zm-1-3zm-23 6zm10 0zm25-1zm5 4zm-9 0zm-32 5zm7 1zm26-3zm-4 5zm-1 2zm-2-3zm-2 1zm-8 2zm-4-1zm-4-1zm-8 3zm7 6zm0 1zm-5-2zm-3 0zm0 2zm-6 0zm6 4zm9-2zm-12 5zm-2 0z"/><path id="t50" d="M2371 262zm22 16zm-12 0zm-9 3zm4 1zm16 5zm-4-2zm-5-1zm-9 2zm-5 0zm20 3zm5 4zm0 1zm-5-1zm0 1zm-34-1zm22 10zm-6-2zm-3-1zm-9 0zm10 5zm3-1zm-16 7zm-5-3zm-6 9z"/><path id="t51" d="M2388 286zm-7 0zm-32-1zm18 10zm5 10zm-5 4z"/><path id="t52" d="M2390 297zm1 1zm6 5zm-6-1zm-3-2zm-2 1zm-8 2zm1 4zm9-2zm8 0zm0 1zm0 3zm-3 1zm-7 1zm-2-3zm-2 0zm0 1zm-1-1zm-1 0zm-6 3zm-2-1zm-2 0zm-2 1zm-4-1zm1 4zm3 0zm0 1zm7-2zm4 0zm1 2zm3-1zm0 1zm-3 1zm0 1zm-4 1zm0 1zm-5-3zm-3 0zm-2 3zm-1-2zm-2 2zm-13 1zm0 2zm0 1zm2 0zm9-1zm1-1zm4 2zm3 1zm-4 0zm-1 2zm-6-2zm0 1zm-2 2zm-2-3zm-2 3zm-1-3zm-1 0zm-2 2zm3 2zm42 3zm-2 1zm0 2zm-16-2zm0 2zm-15 3zm16 0zm17-1zm-15 10zm1-1zm8 1zm5 25zm-7 4zm27 5zm-43 12z"/><path id="t53" d="M2388 298zm7 0zm1 4zm-12 0zm-3 1zm-3 1zm4 3zm9-1zm1-1zm4-1zm0 2zm-4 2zm0 1zm0 2zm-7-1zm-5 1zm-6 0zm-3 0zm-9 3zm2-2zm10 2zm11-1zm-9 5zm-1-1zm-1-1zm-12 1zm-1-1zm-3 3zm-11 4zm3-2zm3 0zm5 1zm8-1zm6-1zm-8 4zm14 36zm7 0zm-19 11zm35 0zm-16 2zm-5 27z"/><path id="t54" d="M2384 302zm-6 4zm8-1zm6 2zm6-2zm-5 3zm0 2zm-4 1zm-7-2zm0 2zm-21 3zm3-1zm7 0zm3-1zm2 6zm-3-1zm-9 0zm-2-1zm-5 2zm-9 5zm3-2zm5-1zm10 1zm36 5zm-47 1zm-3-1zm-2 2zm43 1zm-14 9zm9-2zm17 6zm-26 28z"/><path id="t55" d="M2391 301zm-6 6zm3-3zm9 0zm-7 6zm-4 1zm-24 3zm12-1zm5-1zm-33 9zm1-1zm3 1zm2 5zm41 4zm-3 17zm-26 19z"/><path id="t56" d="M2429 230zm-4 20zm10-2zm6 3zm3 4zm-9-2zm-23-1zm3 5zm10 0zm2 2zm3-1zm7 1zm-2 3zm-1 1zm-3-1zm-5 0zm-19-2zm-7 6zm19 1zm19-3zm6 6zm-1-2zm-5 0zm-10 1zm-3 1zm0 1zm-5-3zm-3 3zm-1-1zm-5-2zm-5 3zm-5-1zm-7 0zm3 3zm1 1zm2-2zm2 1zm0 1zm5 1zm2-1zm11 1zm15-2zm1 1zm-10 5zm-5-1zm-11 0zm-16 0zm7 5zm2-3zm5 3zm2 0zm2-2zm6 2zm1-3zm2 1zm-11 3zm-1 1zm-1-1zm-4 3zm-4-1zm0 1zm-2 2zm6-1zm9 0zm-12 5z"/><path id="t57" d="M2444 248zm2 14zm-19 1zm-5 0zm-3 4zm5 0zm13-2zm7 2zm3 1zm-16 0zm-7 1zm-1-1zm-8 0zm-2 5zm19 2zm-13 2zm-12 0zm-6-1zm0 2zm-2 2zm5 1zm4 2zm6 0zm1-1zm3-1zm-2 3zm-12 3zm-1-2zm-5 6z"/><path id="t58" d="M2426 251zm6 7zm5 1zm-28 8zm15-1zm7 0zm3-2zm1 3zm-15 3zm-18 5zm41-3zm-35 7zm11 1zm2 1zm-24 5z"/><path id="t59" d="M2444 255zm-15 2zm14 7zm0 4zm-36 4z"/><path id="t60" d="M2447 269zm0 1zm0 2zm1 2zm0 4zm-3-2zm0 1zm-5 2zm-4-2zm-2 2zm-8 0zm0 2zm5 1zm6-2zm9 6zm-9-2zm-1 1zm-8-1zm-2 0zm-5 0zm-5 0zm-4 4zm5 0zm0 3zm3-1zm4 0zm7-2zm0 1zm-8 3zm-2 3zm-1-2zm-2 0zm-2 0zm-3-1zm-12 1zm-2 5zm3-1zm12 1zm3-2zm6 0zm1 1zm16 4zm-18-1zm-4 1zm-3-1zm-9 2zm-7-1zm1 4zm45 2zm5 2zm-4 2zm-19 0zm-19 3zm1 1zm29 1zm-28 2zm32 4zm-20 4zm9 5zm-6 9zm-6 3z"/><path id="t61" d="M2445 275zm2-1zm2 4zm-16 0zm-3 4zm12 1zm3-3zm2 4zm-1 1zm-9 0zm0 2zm-6-3zm-3 3zm-6-2zm-13 5zm4-2zm3 3zm12 0zm23 2zm-27 1zm-1-2zm-6 3zm-2 0zm-1-1zm-1 1zm-4 0zm-10 0zm-2 1zm2 1zm3-1zm0 1zm4 2zm12 0zm-2 3zm-10-2zm-1 1zm-2-1zm-3 5zm3-1zm0 1zm17 11zm-4 11zm25 19zm13 15zm-37 14z"/><path id="t62" d="M2447 273zm-7 3zm-1 1zm0 2zm2 6zm-6 0zm-5 0zm-8 0zm-7 0zm0 3zm12 0zm2 1zm18-1zm-41 7zm-4 2zm9 1zm7 1zm3 1zm-15 2zm-5 5zm26 3zm23 4zm-46 9zm11-1zm32 5zm-40 15zm9 10zm4 18z"/><path id="t63" d="M2445 276zm-9 7zm-1 10zm-12 0zm-7-1zm-2 3zm-12 4zm4 0zm4-2z"/><path id="t64" d="M2500 215zm-21 4zm-4 4zm-9 3zm22-1zm0 2zm5-1zm9 5zm-13 4zm4-3zm0 1zm5-1zm1 1zm0 4zm-6 2zm-23-2zm-6-1zm-15 1zm0 5zm4-2zm11 0zm0 2zm7 1zm11 0zm11-1zm8 0zm-3 4zm-13 0zm-4 0zm-2-1zm0 2zm-26-3zm16 4zm10 3zm2-2zm5 2zm4-3zm0 3zm3-2zm0 2zm6-1zm1 0zm3-2zm-24 6zm-12 1zm-12-3zm-8 3zm2 1zm3 0zm0 2zm9-1zm3 1zm0 1zm7-1zm7-1zm-18 4zm-7-1zm-4 2zm12 2z"/><path id="t65" d="M2451 206zm-8 10zm44 7zm-8 1zm5 2zm8 0zm0 1zm10-3zm0 1zm0 4zm-3-1zm-19 3zm-28 0zm4 2zm43 4zm-15 0zm-6 3zm4 1zm3 0zm4 0zm0 1zm9-2zm4 2zm-3 3zm-30 2zm-11 3zm31-2zm4 4zm-6 1zm-9-1zm-30 5zm7 0zm0 2zm5-1zm3-1zm8 2zm-8 1zm-10 1zm0 5z"/><path id="t66" d="M2475 218zm-17 17zm6 4zm-19 2zm1 1zm8 1zm27-3zm1 0zm21 5zm-1-1zm0 2zm-24 1zm-5 0zm-14-2zm-9 0zm-3 0zm14 3zm7 0zm2 0zm28 3zm4 0zm-13 2zm-7 2zm-22 0zm-12-2zm13 9zm-4-1zm-8 5z"/><path id="t67" d="M2488 233zm-3 6zm-8-1zm26 7zm-45 2zm-4-3zm5 6zm31-1zm-39 8zm2 7z"/><path id="t68" d="M2502 250zm1 1zm0 2zm-13 0zm0 2zm-3-2zm-16 5zm10-2zm2 1zm3 0zm1 2zm4-1zm11-2zm0 1zm0 1zm1 0zm-4 4zm0 1zm-5-1zm0 1zm-4-3zm-2 1zm-1 0zm-3-1zm-9 1zm0 2zm-4-1zm-3 0zm-14 5zm7-1zm0 1zm1-1zm6 0zm1-1zm2 0zm15 2zm5 0zm2-1zm2 0zm7 1zm-8 3zm-3-2zm0 2zm-3-2zm-19 1zm-12 1zm-1 1zm-2-2zm-1 5zm1-1zm9 2zm7-3zm3 0zm3 1zm-2 3zm-18 2zm-4 3zm1 1zm2 1zm30 3zm19 10zm-20 4zm-3 3zm14 20zm-24 55z"/><path id="t69" d="M2474 259zm5-2zm4-1zm4 1zm8 0zm6 1zm2 2zm-1 0zm-12 1zm-5-1zm-14 0zm-18 7zm1 0zm2-1zm6-1zm2 0zm1-1zm25 3zm10 1zm-5 2zm-4 0zm-4-1zm-3 1zm-7 0zm-16 0zm-10 1zm1 1zm6 3zm4-3zm4 2zm1-2zm10 1zm4 0zm-10 4zm-9-1zm-7 1zm37 4zm-8 6zm19 2zm-50 4zm32 4zm-7 9zm-16 18zm35 22z"/><path id="t70" d="M2490 255zm-7 2zm3 2zm7-3zm9 1zm-3 3zm-4 0zm0 3zm-8-2zm-19 2zm1 4zm3 0zm16-2zm11 2zm3-1zm-21 2zm-12 1zm-7-1zm-7 3zm-1-2zm-1 2zm10 3zm2 1zm17-3zm-12 4zm-2 0zm-13 1zm-3 0zm37 5zm-36 2zm35 10zm-15 12zm23 32z"/><path id="t71" d="M2499 254zm-12 2zm16 0zm-29 6zm-2 3zm31-1zm-40 9zm13 1zm-16 5zm35 5z"/><path id="t72" d="M2560 205zm-6 1zm-5 1zm-7 3zm6 1zm5-2zm-16 4zm-18 1zm-6 2zm0 2zm10-2zm1 3zm23-1zm5-2zm16 2zm5 4zm-2 1zm-39 0zm-28 2zm19 0zm4 1zm18-1zm5 1zm1 0zm3-1zm17 1zm1 0zm-1 3zm-23 2zm-16-1zm-9 1zm-10 4zm6-3zm0 3zm3-1zm8-1zm5 0zm8 2zm4 0zm10-3zm5 0zm2 1zm4 1zm-6 4zm-10-2zm-2 2zm-2 0zm-1-1zm-4 0zm-4 1zm-4 1zm-1-1zm-1 1zm-11-3zm-10 2zm-3 0zm-4 0zm1 2zm1 2zm11-2zm9 3zm3-2zm1 2zm2 0zm1-2zm0 1zm5 1zm1-3zm6 0zm5 0zm13 2zm2-1zm-3 3zm-9 0zm-12 0zm-3 0zm-9 0zm-7 0zm-1 3zm-4-1zm-5-2zm-4 3z"/><path id="t73" d="M2523 217zm20-1zm3 2zm5-1zm5 2zm4-2zm-1 5zm-9-1zm-5 2zm-36 1zm10 0zm12 2zm10-1zm26-1zm-14 4zm-4 2zm-3-2zm-12 3zm-21-3zm-5 7zm6-2zm17-1zm23 1zm14 2zm-3 4zm-4-1zm-1 0zm-10 1zm-24-2zm-7 1zm-11 1zm5 4zm5-2zm1 2zm7-2zm0 1zm3 1zm4-1zm10-2zm6 1zm-37 5zm-3-1zm0 1z"/><path id="t74" d="M2524 208zm-1 6zm43 7zm-53 4zm57 0zm-1 4zm-18 2zm-11-3zm-22 3zm-5-1zm0 1zm27 2zm23-1zm3 0zm-22 4zm-26 1zm24 3zm8 3zm15 0z"/><path id="t75" d="M2541 218zm26 4zm-41 9zm-7-2zm-14 4zm39 1zm16 9zm3-3zm-24 6zm-30 0z"/><path id="t76" d="M2564 247zm-5-2zm-4 0zm-2 1zm-4-2zm-2 3zm-5-2zm-4 1zm-5 1zm-4-3zm-1 3zm-21 4zm2 0zm9-3zm0 3zm4-1zm6 1zm1 0zm3-3zm1 1zm8-1zm1 1zm4 1zm4 0zm9-2zm3 1zm-2 6zm-1 0zm-11-2zm-3 0zm-1 2zm-2-2zm-2 2zm-3-1zm-5-2zm-1 3zm-2-3zm0 2zm-1-2zm-6 2zm-16-1zm0 1zm0 3zm3-1zm1 2zm2-2zm0 1zm9-1zm1 2zm3-2zm3 0zm1 1zm7-1zm4 1zm0 2zm4-3zm2 2zm1 1zm5-3zm3 2zm1-1zm2 2zm2-2zm-2 5zm-2-2zm-5 0zm-1 0zm-4 1zm0 2zm-19-3zm-2 1zm-1 0zm-4 0zm-7-1zm-4 0zm-3 2zm4 3zm0 1zm3-1zm4-1zm10 7zm-10 4zm22 2zm-2 2zm-8 0zm-23-3zm1 4zm43 6zm-3 1zm-31 8zm21 13zm-1 3zm-1 1zm-15 6zm2 7z"/><path id="t77" d="M2542 242zm22 2zm-6 2zm-8-2zm-1 3zm-4 0zm-7-2zm-12 2zm-1-2zm0 2zm-7 3zm7-1zm13 0zm7-1zm17 2zm-4 2zm-1 0zm0 1zm-13 2zm-8-3zm-4 0zm-8 3zm-3-3zm-9 0zm0 1zm-2-1zm-1 3zm-3-2zm-1 1zm0 2zm7 0zm0 2zm1 1zm9-2zm0 1zm10 0zm4-2zm4 0zm0 2zm8 0zm7 1zm2-3zm3 0zm0 1zm-2 4zm-8 1zm-4-2zm-3 1zm-4 1zm-2-2zm-2 0zm-3 2zm-1 0zm-4 0zm-17 1zm-3-1zm-1 5zm4-1zm10-2zm-10 4zm-4 6zm17-2zm23 21zm-25 14z"/><path id="t78" d="M2559 247zm-5-2zm-7 1zm-5 0zm-1 1zm-3 0zm-16 0zm-9 2zm9-1zm4 2zm4-2zm19 3zm2-1zm8-2zm2 6zm-10 0zm-1 0zm-28-1zm-5 0zm1 5zm6 1zm7 0zm8 0zm20-3zm-38 7zm-3-1zm-5-2zm-7 4zm6 3zm9-2zm-10 26zm7 39z"/><path id="t79" d="M2533 246zm-11 5zm22 0zm-11 3zm-15-1zm-12 2zm15 6zm13 39zm-27 7z"/><path id="t80" d="M2579 216zm11 1zm13 0zm39 1zm-43 7zm5-1zm-8 5zm-8 2zm-11 0zm-4-2zm3 5zm6-1zm12-1zm9 5zm0 2zm-7-1zm-27 4zm17 0zm3-2zm2 0zm3 0zm39 7zm-18 0zm-2-3zm-2 2zm-14 1zm-3 0zm-4-3zm-3 2zm-5-2zm-1 3zm-3-3zm-9 0zm-1 0zm-1 2zm20 2zm1 0zm0 1zm1-1zm5 1zm1 2zm2-3zm4 2zm5 0zm1 0zm4-1zm7 1zm-1 2zm-1 0zm-3 2zm-5 1zm-10 0zm15 1zm9 0zm0 2zm3 0zm2 1zm8 4zm-4-2zm-2 1zm-21 0zm12 2zm1 5zm-2-1zm4 4z"/><path id="t81" d="M2603 205zm-19 10zm-3-1zm-4 9zm15 3zm6 0zm41 4zm-13 1zm-24-3zm-29 4zm3 1zm6 1zm13-2zm25 4zm-19 1zm-4 1zm0 1zm-11-1zm-6 1zm-5-1zm-2 1zm-2-1zm-4 4zm3-2zm8 3zm1-3zm4 2zm7-2zm3 3zm15-2zm8 0zm37 6zm-30-1zm-4-2zm-8 1zm-4 0zm-14-1zm-6 1zm-1-1zm-8 0zm7 4zm8 3zm8-2zm17 2zm38 1zm-16 3zm-36-2zm-3 3zm20 1zm6 1zm-3 3zm0 4zm9 0zm-6 4zm-2 1z"/><path id="t82" d="M2616 220zm-15 11zm-16-2zm36 10zm-10 0zm-32 2zm1-1zm5 0zm2 3zm2-2zm-2 3zm7 7zm14-2zm10 1zm18-1zm10 3zm-43 4zm1 2zm15 0zm2 1zm14 0zm6 0zm-33 2z"/><path id="t83" d="M2598 225zm25 0zm-39 4zm15 13zm19 1zm-6 1zm-25 0zm21 10zm-3 0zm-1 1zm2 2zm22 5zm-9 3zm8-1zm1 4zm-6 1z"/><path id="t84" d="M2567 250zm1 1zm2-2zm5-1zm1 0zm21 5zm-1 2zm-5-2zm-2 2zm-3-3zm0 3zm-4-2zm0 2zm-7-3zm-1 0zm-1 0zm0 3zm-11 3zm0 1zm5-2zm8 0zm1 0zm4 2zm9-1zm6 1zm1-3zm7 2zm-2 4zm-1-2zm-9 3zm-4-2zm-1 1zm-6-2zm0 3zm-1 0zm-8-3zm-5 0zm-1 1zm-2 0zm-2 0zm11 3zm4 0zm15 1zm1 1zm2 0zm9-1zm1 0zm5 2zm1 0zm2-2zm1-1zm1 2zm3 4zm-3-1zm-8 1zm-6-2zm0 1zm-4-1zm-28 2zm-10 0zm43 3zm9 2zm3-1zm1 0zm2-2zm6 1zm-7 3zm-7 0zm-1 3zm-15 5zm-39 5zm2 1zm16-2zm-8 7zm-8 4zm14 1zm-22 21z"/><path id="t85" d="M2565 251zm1-1zm18-1zm3 3zm-2 3zm-7-1zm-5 1zm-4-2zm-5 2zm19 3zm13 0zm3 1zm4 0zm-7 2zm-9-1zm-2 2zm-5 1zm-16-2zm16 3zm3 1zm1 0zm3 2zm7-2zm3 2zm3-3zm11 2zm1-1zm5 5zm-2-2zm0 3zm-3-1zm-3-2zm-23 0zm16 7zm11-1zm9 0zm-5 3zm-2 0zm-1 0zm-6 0zm-1 2zm-2-2zm4 4zm-22 8zm-3 4zm-36 0zm10 3zm-13 6zm5 15zm-9 8z"/><path id="t86" d="M2567 245zm-2 6zm10-1zm7 3zm-9 2zm-8 3zm19 0zm15 1zm8 4zm-2-1zm-4 0zm-2-1zm-1 0zm-1 2zm-13 0zm-10-2zm-8 0zm10 4zm14 0zm1 1zm2-1zm9 1zm8 5zm-12 0zm-8-2zm5 3zm15 3zm-30 2zm24 3zm-43 10zm-9 5zm-1-1zm19 2zm5 3z"/><path id="t87" d="M2570 248zm10 1zm11 6zm-13 0zm-3 2zm10 4zm-4 0zm-8 0zm15 5zm3-1zm-2 5zm29 5zm-3 1zm-6 3zm-1-3z"/><path id="t88" d="M2643 266zm-10 5zm1 4zm11-1zm5-2zm1 2zm8 3zm-2 0zm-2 1zm-7-1zm-1 0zm-1 1zm-3 1zm-8-3zm-5 3zm4 3zm1-2zm23 0zm-8 5zm-8-1zm0 1zm-4 5zm2 0zm2-2zm2 0zm11 6zm-6 1zm-18 2zm3 1zm2-2zm0 1zm13 3zm-9 2zm-5 0zm-2 2zm2 1zm2-1zm3 3zm2 0zm4-1zm6-2zm3 7zm-7 0zm-1-1zm-9 3zm1 0zm1 0zm2-1zm0 1zm8 1zm5 0zm-6 3zm-2-1zm-5 2zm1 4zm4-1zm2-1zm3 0zm2 2zm0 1zm-7 2zm-2 0z"/><path id="t89" d="M2633 270zm-7 5zm5-2zm9 1zm1 0zm14 4zm-15 0zm-2 0zm-1 4zm8-2zm18 0zm-13 4zm-8 0zm-1 3zm-1-3zm-3 0zm3 6zm5 3zm-10 2zm8 4zm-2 4zm-3-2zm-1 2zm-1-3zm1 6zm1-1zm1 2zm10-2zm-2 6zm-7 0zm0 1zm1 1zm7 1zm0 1zm2-1zm1 2zm-2 1zm-1 1zm-3 0zm0 1zm-3 0zm1 3zm8 1zm5 1zm-6 0z"/><path id="t90" d="M2666 268zm-10 4zm6 7zm-2-3zm-5 2zm-5 1zm-10-1zm-1-1zm-4 3zm5 1zm6 2zm3-2zm0 3zm-10 1zm0 2zm-8 11zm4-1zm9 6zm-12-3zm13 11zm4 2zm-4 4zm0 4zm3 3z"/><path id="t91" d="M2644 272zm-12 27zm3 8zm2-2zm9 0zm-1 20z"/><path id="t92" d="M2623 277zm-2 0zm-2 1zm-1 1zm-4 2zm1 0zm10 1zm1 0zm2-2zm1 6zm-2-1zm-5-1zm-1 3zm-1-2zm-5 2zm3 2zm0 2zm5-2zm5 2zm2-2zm3-1zm1 0zm0 3zm1-3zm0 3zm0 1zm-6 3zm-5-3zm0 2zm-2-2zm-3 2zm-1-2zm-23 7zm28-1zm3-2zm1 0zm3 4zm-3 0zm0 1zm0 1zm-5 0zm-42-2zm39 6zm3-2zm4 0zm1 1zm6 5zm-1-1zm-2-1zm-1 1zm-7 6zm15 0zm1 2zm0 2zm-2-3zm0 2zm-1 1zm-7-3zm0 1zm1 4zm1 1zm7 1zm2 0zm2-3zm1 3zm0 3zm0 1zm-3-3zm0 3zm-1-2zm-8 1zm-29-2zm36 4z"/><path id="t93" d="M2619 277zm-1 0zm5 5zm9 4zm-3 0zm-11-2zm-1 2zm-4 1zm1 2zm9 2zm13 0zm-12 4zm-1-2zm-15 4zm11 1zm5-1zm3-1zm-5 5zm-1 3zm0 2zm3-1zm9 2zm1 3zm-3-2zm-2 3zm-31 4zm31-3zm2 3zm5-2zm3 2zm-2 4zm-2-1zm-4-1zm-3 2zm-35-2zm22 6zm10-3zm2 1zm4 2zm7 0zm6 3z"/><path id="t94" d="M2612 283zm15-2zm2 2zm-2 2zm-11 1zm-7-2zm25 4zm0 1zm-3 14zm-5 0zm-11 2zm9 1zm2-1zm-2 4zm0 1zm-11-2zm10 4zm16 5zm-1 1zm-6-1zm-3 0zm12 8zm-5-1zm-97 0zm93 4zm4 1z"/><path id="t95" d="M2621 277zm5 10zm-8-3zm-7 5zm27 3zm-2 1zm-12-1zm7 11zm-2-3zm2 5zm2 5zm5 3zm-4 4z"/><path id="t96" d="M2660 327zm-5 0zm-7 4zm2-3zm1 1zm3-1zm1 3zm8 0zm13 2zm-8-1zm-9 1zm-1 0zm-1 1zm-5 1zm-1-1zm0 1zm1 4zm1 0zm1 0zm5-2zm3 2zm3 0zm-5 3zm-2-1zm-3 1zm6 4zm15 2zm-11 0zm0 2zm-2-2zm-5 1zm0 1zm6 5zm10-1zm5-2zm-10 7zm-1-3zm-5 2zm-3 2zm4 0zm2 3zm3 0zm6 3zm-6 0zm-1 3zm5-1zm1 1zm4-1zm1 7zm-2 0zm-7-2zm-2 5zm3-1z"/><path id="t97" d="M2657 327zm-9 4zm1-1zm7 1zm6 2zm-6 2zm-3 0zm-1-2zm0 3zm3 0zm10 2zm-10 4zm0 5zm3-1zm0 1zm2-2zm-1 3zm0 6zm5-2zm1 3zm9 2zm-14 3zm6 3zm7 3zm-6 1zm-3-3zm2 7zm7-2zm4 2zm8-1zm-5 2zm-8 1zm-2-1zm3 4zm1 1z"/><path id="t98" d="M2658 327zm12 7zm-16 2zm0 1zm1 2zm1 3zm0 5zm6 4zm-4-2zm4 6zm1-2zm2-1zm7 3zm0 1zm-2 3zm-5-1zm0 1zm-2 0zm1 4zm5 6zm5 1zm2 1zm6-1zm-6 4zm-3 0zm-3-2z"/><path id="t99" d="M2648 331zm1 0zm13-2zm2 9zm-3 12zm-2 3zm10 2zm-4 4zm-6-3zm15 6zm10 1zm-14 1zm-1 3zm5 1zm12 6zm-16 2z"/><path id="t100" d="M2646 329zm1 3zm0 3zm-3-3zm-4 3zm2 2zm0 2zm4 0zm1-3zm1 2zm0 1zm4 4zm-2-2zm-3 0zm-2 0zm-1 0zm12 10zm-2 0zm-2-1zm-4-1zm-4 0zm0 4zm3 2zm3 0zm4-1zm3 0zm1 0zm0 2zm-2 2zm-6-2zm5 6zm5-1zm2 0zm-4 4zm-1 0zm-4 4zm10 1zm2 1zm2 2zm-9-1zm0 2zm-2-1zm-10 2zm-25 1zm33 0zm7 1zm0 2zm5-2zm0 1zm1-1z"/><path id="t101" d="M2642 331zm5 0zm0 2zm-2 1zm-8 1zm-6 3zm6-2zm2 1zm8 2zm1 4zm-4-2zm-2 0zm8 3zm5 2zm-1 3zm-1 2zm-9 2zm5 0zm8-1zm-1 4zm-1 2zm-1 0zm-6 1zm7 1zm2 0zm6 5zm-4 1zm-1 0zm-4 1zm-5-3zm11 7zm4 3zm-4-1zm-1 2zm-68 4zm64-2zm9-1zm2 2zm-6 2z"/><path id="t102" d="M2634 336zm8 1zm9 6zm-1-3zm-7 0zm-1 2zm-23 0zm37 9zm-10-2zm6 5zm2 0zm5-1zm0 4zm-2-1zm-6 2zm-3 0zm7 7zm-1 1zm-2 1zm-1 4zm10-1zm5 1zm1 4zm-1-1zm-6 3zm4 1z"/><path id="t103" d="M2638 339zm11 3zm-9 3zm8 9zm2 1zm7 2zm-13-1zm16 5zm-2 7zm7 6zm-2 6z"/><path id="t104" d="M2675 379zm3 3zm-5-1zm-1-1zm0 2zm-1-1zm0 1zm3 2zm0 1zm2 2zm6 0zm2-2zm3-1zm7 1zm-12 3zm-1 0zm-4 0zm-1 3zm-1-1zm3 3zm1 0zm0 1zm4 1zm4-2zm-8 5zm3 5zm2-2zm2-1zm2 1zm0 1zm2 1zm5 1zm0 2zm-7 0zm-2 1zm-1-2zm0 2zm-1-3zm-1 1zm0 3zm5 2zm3-1zm2 2zm19 3zm-15 1zm-11 4zm2-2zm3 0zm3-1zm1 3zm9 0zm-9 3zm-3 1zm-2 0zm-1 4zm1-3zm1 3zm1-2zm1-1zm0 3zm1-3zm3 1zm-2 3zm-2 1z"/><path id="t105" d="M2674 382zm0 2zm0 2zm1 0zm21-2zm0 2zm1 3zm-16 0zm-2 1zm-1 1zm0 1zm2 1zm0 2zm4 3zm-4 0zm-2 2zm4 2zm3 3zm-2 5zm1-2zm0 1zm1 1zm4-2zm2 2zm0 4zm-5-2zm0 4zm4 3zm6-2zm-5 7zm12 3zm-8 3z"/><path id="t106" d="M2683 383zm-7-3zm-5 0zm6 6zm9 2zm-4 3zm-4-1zm9 9zm-1 0zm-4 1zm4 2zm1 1zm-3 7zm1 2zm2 6zm1 0zm3 1zm1-1zm11 3zm-3 1zm-9 1zm-1 0zm16 3zm-15 4z"/><path id="t107" d="M2692 382zm-20-1zm1 4zm8 4zm5 11zm0 2zm-4 6zm2 3zm3 0zm7 0zm-6 8zm3 2zm-3 5zm3-1zm0 2zm2 2z"/><path id="t108" d="M2670 381zm-1 1zm-1 1zm-9 2zm0 1zm1-2zm5 1zm2 0zm6 6zm-6-2zm-1 6zm6-1zm1 1zm2-1zm1 4zm-8-2zm-3 0zm7 7zm3-3zm1 0zm0 3zm1-3zm1 1zm0 1zm0 1zm3 1zm0 2zm-3 0zm-1 0zm-6-2zm-4 0zm4 6zm2 0zm4 1zm1-2zm3 0zm4 5zm-2-2zm-2 0zm-2 0zm-3 0zm-88 0zm95 5zm2 0zm0 2zm1 0zm0 3zm-1 1zm-3-2zm-1 2zm-6-2zm2 5zm8 1zm4 3zm-9 0zm0 1zm-4-1z"/><path id="t109" d="M2666 386zm6 1zm-7 6zm4 0zm2 0zm-42 8zm1 2zm43-2zm3 2zm4 2zm-7 1zm-30-1zm24 5zm10-2zm2 3zm1 0zm-1 2zm-2 3zm8 4zm-5 1zm-1 3zm4 1zm5 1zm0 1zm1 3zm-2-2zm-1 0zm-4 3zm-1 0zm-34-1zm40 2z"/><path id="t110" d="M2671 381zm-4 2zm-1 2zm6 2zm-3 2zm-62 5zm59-1zm8 0zm-9 6zm9 3zm6 4zm-2-2zm-6 5zm3 5zm8 2zm-1 4zm-8 5zm8-1zm2 2zm3 1zm-7 3zm-29 3z"/><path id="t111" d="M2665 393zm7 1zm2 0zm0 8zm4 10zm7 18z"/><path id="t112" d="M2699 433zm10 6zm-5 0zm-2-2zm-1 0zm-1 2zm-3 0zm-1 0zm-3-1zm1 2zm3 1zm2-1zm6 3zm2 4zm-7-1zm0 5zm2 4zm-3-3zm3 6zm0 1zm4-1zm4 3zm-4 0zm-3 0zm3 5zm1-2zm1 1zm6 4zm-7 0zm4 4zm3 3zm-2 0zm-4 0zm1 7z"/><path id="t113" d="M2692 435zm1 0zm6-1zm3-2zm3 1zm-5 3zm-3 3zm9 3zm-5 2zm-1 2zm-1-1zm0 2zm0 4zm1-3zm14 3zm0 3zm-5 0zm-1 0zm-3 0zm-1 5zm4-1zm-6 4zm7 7zm-4 0zm3 4zm2-1zm0 1zm0 2zm2 2zm0 1zm-3-2z"/><path id="t114" d="M2693 434zm6-1zm-7 4zm24 9zm-9 0zm-9 0zm12 5zm-5 4zm-5-3zm0 2zm15 3zm-9 4zm-1 0zm2 4zm11 8zm-6 3zm-2 0zm-2 1zm1 3z"/><path id="t115" d="M2696 433zm-2 9zm6 16zm7 16z"/><path id="t116" d="M2684 434zm1 1zm6-1zm2 2zm0 2zm0 1zm-6-3zm-2 1zm-1 0zm-1-1zm0 1zm-1 6zm5-3zm2 0zm4 0zm4 7zm-6 0zm-3 0zm-1-3zm3 4zm10 6zm-4-2zm-2 1zm-1-1zm-3 0zm-1 0zm0 1zm-1 1zm-17 0zm19 3zm1-1zm1 1zm4 2zm1-3zm2 2zm-4 4zm-1 1zm-3 0zm0 2zm5 1zm-3 8zm2-1zm6 1zm1 0zm6 4zm-1 1zm-1-3zm0 1zm-1-1zm-1 0zm-3 0zm-1 0zm-1 0zm-29 2zm7 3zm22-1zm5 1zm2-1zm0 1zm-3 3zm-2 0zm-2 0z"/><path id="t117" d="M2683 435zm7-2zm-2 6zm-1-3zm0 3zm-2-2zm-4 5zm7-1zm4-1zm0 2zm1-2zm0 2zm1-1zm-5 4zm-3 3zm13 7zm-1-3zm0 1zm-2-1zm-3 1zm-1 2zm-5-1zm7 3zm0 1zm1-2zm0 3zm1-3zm0 2zm0 1zm2-1zm0 2zm-1 0zm-2 3zm-3-2zm3 5zm8 2zm-6 3zm-1 2zm1 2zm4-3zm4 1zm0 2zm3 4zm-1-2zm-4 1zm-11 3zm4 0zm4 1zm1-2zm1 0zm3 3zm4 0zm1 1zm-6 0zm-2 0zm-1 0zm-16 0z"/><path id="t118" d="M2690 437zm-6-1zm0 3zm8 2zm-22 9zm26 4zm-4-1zm0 3zm2 1zm3 2zm1-3zm0 2zm1 3zm-6 2zm-59-1zm61 2zm0 3zm5-2zm1 3zm-1 2zm-2 0zm-1 1zm-4 0zm9 2zm0 2zm5 0zm-4 4zm-7-2zm-1 3zm3 0zm4 3zm6-2zm-10 5zm-62 4z"/><path id="t119" d="M2684 435zm-3 1zm8 6zm-3 12zm13 5zm-5 12zm8 2zm-4 8zm3 0z"/><path id="t120" d="M2717 486zm-4 1zm-1 2zm4 1zm0 1zm1 0zm3-1zm1 0zm4-1zm4 5zm-5-2zm-8 1zm-3-1zm5 4zm0 1zm0 2zm1 0zm6 1zm-2 0zm-6 4zm1 0zm8 2zm1-2zm1 1zm1 4zm-8-1zm0 6zm2-2zm1 3zm1 0zm3-1zm0 4zm-5 0zm7 5zm-3 2zm-1-1zm2 6zm1-2zm3 0zm2 2zm4-1zm0 2zm-3 2zm-4-1zm-2 2zm-1 0z"/><path id="t121" d="M2713 490zm3 0zm5-1zm0 1zm2 0zm1 1zm-9 1zm-1 2zm1 3zm1 2zm23 4zm-18-3zm-1 1zm-2 0zm-2 0zm0 1zm4 4zm5 9zm0 4zm-1 0zm-1-2zm3 6zm4-2zm7 1zm-8 5zm0 2zm1 7zm7 0z"/><path id="t122" d="M2712 491zm4-3zm1 2zm1-1zm-1 8zm8 9zm1-1zm-6 4zm-1 0zm1 3zm8 0zm6 6zm-7 1zm3 8zm-1 0zm-2 0zm9 4zm-6 5zm1 1zm4-1z"/><path id="t123" d="M2737 488zm-14 17zm10 3zm-7 0zm2 15zm13 7zm-5 2z"/><path id="t124" d="M2707 487zm-9 3zm2 0zm8-1zm1 0zm0 2zm1-2zm0 2zm4 3zm-13 1zm1 3zm9 0zm2 2zm-1 1zm-2 0zm-5 0zm-2 1zm6 4zm5-1zm1 1zm2 5zm-2-1zm-6 0zm-1-1zm9 5zm1 1zm1 1zm-8 3zm-22 1zm25 0zm7 3zm2 2zm-2 2zm-3 2zm7 5zm0 1zm-1-2zm-1 1zm-3 0zm-7 1zm-26 2zm8 2zm22-2zm3 0zm1 0zm6-1zm0 1zm0 1zm2-1zm-114 5z"/><path id="t125" d="M2703 488zm3 0zm6 2zm1 5zm-2 0zm-5 0zm-3-2zm0 1zm-2 1zm2 4zm1 0zm5-3zm0 1zm4 2zm2 2zm-1 0zm4 8zm-2 0zm-5 2zm2 3zm1-2zm0 1zm5 0zm0 2zm1 4zm-3 0zm-5 0zm-15-3zm26 8zm-10 1zm6 4zm3 1zm3 0zm-5 4zm-3 0zm-45 0zm49 3zm1 0zm4-1zm0 1zm2-1z"/><path id="t126" d="M2703 489zm2 0zm3 2zm3-2zm-4 6zm0 4zm7 1zm2 7zm0 2zm0 2zm-1-3zm0 1zm-1 12zm5 9zm4-1zm2 2zm0 1zm0 1zm0 1zm-7-2zm-5 2zm9 3z"/><path id="t127" d="M2703 491zm3 7zm4 0zm5-1zm-2 4zm-75 18zm84 3zm1 2zm-7 0zm6 6zm0 8z"/><path id="t128" d="M2741 542zm-3 0zm-4 3zm1 2zm1-2zm0 2zm1-2zm6 2zm1-1zm3 5zm-4-3zm-7 3zm-2-3zm-1 0zm-1 0zm1 4zm6 0zm0 3zm-6 2zm6 3zm1 2zm0 1zm1-2zm6 2zm9-1zm2 2zm-6 0zm-8 3zm-3-1zm-1-2zm0 3zm-2 1zm1 2zm4 1zm1-3zm2 3zm3 4zm-3-3zm-1 2zm-2-2zm0 1zm-2 0zm-1 1zm-1 0zm1 5zm1 0zm1 0zm5-1zm2 1zm9 2zm-1 2zm-5 0zm-1-3zm-1 3zm-5-1zm-4-1zm1 6zm2 0zm3-1zm13-2zm-11 4zm-1 2zm-1 0zm-2-1zm-3 4zm4 1zm5 3z"/><path id="t129" d="M2740 541zm-2 0zm-8 3zm2 0zm1 1zm0 1zm8-2zm-5 5zm-5 0zm4 5zm1 2zm6 5zm4 4zm-2 3zm14 4zm-8 3zm-4-1zm0 1zm-6-2zm-1 6zm4-1zm0 1zm2-3zm1 3zm4-3zm9 6zm-4 0zm-6 1zm-4-3zm-2 0zm-2 0zm1 7zm1-3zm2 0zm0 1zm2 1zm2 1zm7-3zm-2 4zm0 2zm-1-2zm-6 3zm-2-1zm-2 0zm-2-1zm4 4zm0 2zm3-1zm7 2zm-8 0zm-3 0z"/><path id="t130" d="M2730 540zm5 7zm3 4zm-6 1zm2 2zm5 1zm5 1zm-2 4zm0 3zm2 4zm-5-3zm6 4zm-5 10zm4 0zm-4 5zm1 3zm10 1zm2 4zm-3-2zm-2 0zm-4 5zm2 1zm1 0zm1-1zm3 0z"/><path id="t131" d="M2742 539zm-12 1zm3 10zm6 2zm1 8zm9 12zm-7 2zm5 6zm-2 2zm-1 5zm1-1zm12-2zm-15 10zm8 1z"/><path id="t132" d="M2728 543zm-1-1zm-1 0zm-1-2zm0 2zm-2-2zm-7 2zm0 1zm9 1zm5 3zm1 2zm-5 0zm-6-1zm5 4zm1 1zm3-1zm-4 6zm1 3zm6-1zm0 1zm0 1zm1 1zm0 1zm0 2zm-2 0zm-1-1zm0 1zm-1-2zm0 3zm-4-1zm1 4zm4-1zm3 0zm2 1zm1 0zm1-2zm1 1zm-2 4zm-12 5zm7-1zm1 1zm8 3zm-4-1zm0 1zm-9 3zm2 3zm1 0zm3-2zm2 2zm1 1zm0 1zm-5 2zm-4-3zm12 6zm1 0zm1-1zm1 1z"/><path id="t133" d="M2728 541zm-1 0zm-3 2zm6 2zm1 3zm0 2zm-1-2zm-2 1zm-1 0zm-1 1zm-3-1zm-1 0zm0 4zm1-1zm5 3zm1-1zm3 0zm-5 5zm-1-1zm2 5zm4-1zm2-2zm2 7zm-5 0zm-7 2zm5 0zm4 0zm2-1zm1 1zm0 2zm3-1zm-2 4zm-4-2zm-5 0zm2 5zm2 0zm1 1zm4 3zm-5-1zm-2 1zm-1 2zm-3-1zm3 2zm4 1zm1 2zm2-2zm1 0zm0 1zm1 0zm1-1zm-2 3zm-1 1zm-1-1zm-6 5zm4-1zm5 2z"/><path id="t134" d="M2726 545zm1 1zm4 2zm-1 0zm-8 5zm3-1zm9 7zm-8 3zm7 1zm2 0zm-7 4zm5 3zm4 3zm-9 3zm5 2zm2 0zm3 5zm-3 0zm-5 0zm-6 2zm1-1zm4 1zm2 0zm5-1zm-1 5zm-1 0zm0 4z"/><path id="t135" d="M2726 541zm5 6zm-5 8zm5 0zm-3 1zm-1 3zm2 1zm4 3zm1 0zm-2 3zm-10 0zm12 4zm1-1zm2 4zm-10 11zm4 9zm4 1zm3-2z"/><path id="t136" d="M2759 599zm-6 0zm-2 0zm-2 0zm-5-2zm-2 1zm-1 0zm4 3zm1 0zm0 1zm1 0zm2-1zm1-1zm9 3zm1 2zm-7 1zm-2 0zm-3-2zm-3 1zm0 1zm-3 0zm-1-1zm2 3zm2 0zm2 1zm1-1zm4 3zm-2 4zm-5-2zm-2 1zm3 2zm3 2zm0 1zm2-1zm2-2zm-1 6zm-2-1zm-1 1zm-1-1zm-1 0zm-3 2zm-1-1zm2 2zm3 1zm4 0zm0 1zm1-1zm7 2zm3 0zm-6 1zm-6 0zm-1 0zm-5 0zm-1 5zm1-1zm1 1zm1 1zm1-1zm2 0zm8 3zm-1 0zm-9 0zm-2 2zm-2-2zm-1 4zm2 0zm3 1zm2-1zm-4 7zm-1 2zm6 3z"/><path id="t137" d="M2747 598zm-2 4zm2-2zm7 2zm-3 4zm-2-2zm-1 2zm-2 1zm-1-3zm-2 0zm-1 0zm2 4zm10 7zm-8-1zm-1-2zm-1 2zm0 1zm0 3zm1-2zm1 3zm2-2zm0 2zm7 0zm2-3zm1 0zm-1 7zm-1-1zm-2 1zm-3-2zm-1 1zm-2 1zm-2 0zm-1-3zm-1 4zm1 1zm0 2zm1-3zm10 3zm4-3zm-12 4zm-3 0zm-2 0zm4 6zm3 0zm1-1zm13 3zm-8 3zm-1 0zm-1-2zm-10-1zm8 6zm-2 5zm-2-2zm-2 5z"/><path id="t138" d="M2742 600zm3 3zm4-3zm1 0zm-3 9zm1 0zm13 2zm-11 4zm-7 4zm1-1zm1-1zm0 8zm0 2zm6 3zm-6-2zm5 8zm-1 2zm0 1zm-1 0zm-3-3zm4 7zm2-2zm12-1zm-19 11zm9-2z"/><path id="t139" d="M2744 609zm1 0zm3 2zm-2 6zm4 2zm-3 2zm10 4zm-13 4zm10 5zm3 1zm-8 3zm-5 1zm-1-3zm-1 0zm5 5zm-1 5z"/><path id="t140" d="M2731 595zm8 2zm-1-1zm0 2zm-2-1zm-1 1zm-2 1zm-4-3zm1 7zm4 0zm1-1zm2-2zm0 3zm1-3zm1 1zm1 0zm0 2zm1-3zm0 5zm0 1zm-1-2zm-2 2zm-2-1zm-1-1zm0 2zm-1-1zm-2 1zm6 2zm3 0zm0 5zm0 2zm-2-2zm0 2zm-2-2zm0 2zm-2 0zm4 1zm1 3zm1-2zm0 1zm1 1zm1-1zm-1 2zm0 3zm-1-2zm-5-1zm-1 2zm-1 0zm-1 0zm-1 4zm2-2zm7 7zm-1 0zm-3-1zm-2 1zm-1-1zm-3-1zm-2 0zm0 1zm6 4zm4 1zm3 0zm1 3zm-4-2zm0 3zm-1-1zm-2 0zm-6-1zm6 6zm5-3zm1 2zm3 1zm-4 2zm0 2zm-1-1zm-5-2zm7 7z"/><path id="t141" d="M2726 593zm9 2zm4 2zm-2 2zm-1 0zm-1-2zm-8 5zm5-2zm1 2zm0 1zm7-3zm2 2zm-2 3zm-2 1zm-2 1zm-1-3zm-5 1zm12 3zm0 5zm-2 1zm-3-1zm0 2zm-5 0zm-1-2zm-3 0zm0 2zm1 4zm3-1zm3 1zm1 0zm1 0zm3-1zm2 0zm-3 5zm-2-1zm-1 0zm-2-2zm-3 4zm11 7zm-4 0zm-3-1zm-5 2zm9 0zm1 3zm3 2zm-7 4zm5-1zm3 0zm0 1zm-3 3zm-1 0zm-2 2zm-4 4zm3-2zm5 0zm3 1z"/><path id="t142" d="M2733 599zm-6-1zm2 2zm4 3zm1-3zm6 1zm1 2zm0 1zm-1 2zm-1 1zm-1-3zm0 1zm-4 2zm8 1zm-11 6zm-2-1zm4 5zm1 0zm1 1zm4 0zm4 3zm-1-2zm-4 3zm-1-1zm-1 0zm-1 2zm4 0zm1 2zm0 1zm-2 3zm0 1zm-10-3zm6 4zm0 1zm4-1zm4 10zm1 1zm0 2zm-4 4zm4 1z"/><path id="t143" d="M2740 597zm-8 2zm-1 0zm-2 0zm7 1zm2 0zm1 1zm2 3zm-9 7zm6 2zm3 7zm-2 0zm-1 3zm-2 2zm5 0zm-5 11z"/></g><path id="tc" d="M1071.0 233.7L1074.7 230.1L1078.7 226.8L1082.7 223.6L1086.7 220.3L1090.7 217.0L1094.8 213.9L1099.0 210.8L1103.2 207.9L1107.5 204.9L1111.7 201.9L1116.0 199.1L1120.4 196.3L1124.9 193.7L1129.3 191.0L1133.7 188.3L1138.2 185.8L1142.8 183.2L1147.3 180.8L1151.8 178.3L1156.4 175.8L1161.0 173.4L1165.6 171.1L1170.2 168.8L1174.9 166.4L1179.5 164.1L1184.1 161.8L1188.8 159.5L1193.4 157.2L1198.0 154.9L1202.7 152.7L1207.4 150.5L1212.2 148.4L1216.9 146.3L1221.6 144.2L1226.4 142.1L1231.1 140.1L1235.9 138.1L1240.7 136.1L1245.6 134.4L1250.5 132.9L1255.5 131.5L1260.5 130.4L1265.6 129.6L1270.8 129.1L1275.9 129.0L1281.1 129.4L1286.2 130.2L1291.1 131.6L1295.7 133.7L1300.2 136.3L1304.2 139.5L1307.7 143.2L1311.1 147.1L1314.3 151.2L1317.2 155.4L1319.7 159.9L1322.2 164.5L1324.7 169.0L1327.1 173.6L1329.5 178.2L1331.7 182.9L1333.8 187.6L1336.0 192.3L1338.1 197.0L1340.1 201.8L1342.0 206.6L1343.8 211.5L1345.7 216.3L1347.5 221.1L1349.4 226.0L1351.1 230.9L1352.9 235.7L1354.6 240.6L1356.4 245.5L1358.1 250.4L1359.8 255.2L1361.5 260.1L1363.1 265.1L1364.7 270.0L1366.2 274.9L1367.6 279.9"/><path id="tb" d="M1062.3 279.6L1061.5 271.8L1059.0 263.9L1059.2 255.8L1060.2 247.6L1062.5 239.3L1066.3 232.3L1070.8 224.2L1076.6 218.9L1082.3 213.6L1088.3 208.2L1094.6 203.1L1100.0 198.8L1106.2 193.9L1112.8 189.1L1119.4 184.6L1125.8 180.2L1131.8 176.2L1138.5 171.9L1145.1 167.8L1152.0 163.7L1158.9 159.6L1164.9 156.1L1171.6 152.2L1178.4 148.4L1185.2 144.5L1192.1 140.6L1199.3 136.7L1205.5 133.5L1212.4 129.9L1219.6 126.3L1226.6 122.8L1234.2 119.2L1242.2 117.6L1250.1 115.3L1259.4 113.3L1268.6 112.2L1278.7 112.1L1288.4 113.4L1298.1 116.1L1307.5 120.9L1316.6 127.8L1322.9 134.7L1319.7 148.4L1323.9 155.7L1327.5 162.6L1330.6 168.8L1334.0 176.0L1337.2 183.2L1340.3 190.3L1343.4 197.6L1345.9 204.2L1348.5 211.5L1351.2 218.8L1353.9 226.1L1356.5 233.5L1358.8 240.0L1361.3 247.4L1363.9 254.8L1366.3 262.2L1368.6 269.6L1370.7 276.4L1374.0 284.2L1374.9 292.1L1375.7 300.0L1376.2 307.9L1376.5 315.7L1374.9 322.6L1368.6 325.0L1366.0 317.9L1365.7 310.1L1365.3 302.5L1364.6 295.0L1363.7 287.3L1362.8 281.0L1360.7 274.0L1358.3 266.6L1355.9 259.3L1353.3 252.1L1351.0 245.6L1348.3 238.3L1345.7 231.0L1343.0 223.8L1340.2 216.5L1337.8 210.1L1335.0 203.0L1332.1 196.0L1328.9 188.9L1325.8 181.9L1322.9 175.8L1319.4 169.0L1315.8 162.1L1312.2 155.7L1310.6 147.5L1305.6 141.7L1300.5 137.3L1293.9 133.5L1286.8 131.0L1279.3 129.8L1271.7 129.6L1264.0 130.4L1256.5 131.9L1249.8 133.7L1242.1 135.1L1234.9 138.0L1227.8 141.0L1220.6 144.1L1214.3 146.9L1207.2 150.1L1200.2 153.3L1193.2 156.8L1186.2 160.2L1179.3 163.7L1173.1 166.8L1166.2 170.2L1159.2 173.8L1152.4 177.4L1145.5 181.1L1139.5 184.5L1132.7 188.3L1126.1 192.3L1119.4 196.3L1112.9 200.5L1107.2 204.5L1100.8 208.9L1094.5 213.4L1088.3 218.2L1082.3 223.1L1077.0 227.5L1071.2 232.7L1071.3 241.1L1069.2 247.6L1068.1 254.7L1067.8 262.1L1068.1 269.4L1067.3 276.9z"/></defs><g transform="scale(0.8)"><g filter="url(#bl)"><use href="#pCT4" fill="#f3e9ee" opacity="0.3"/><use href="#pCT1" fill="#e6d6df" opacity="0.65"/><use href="#pCT2" fill="#a98c9b" opacity="0.3"/><use href="#pCT3" fill="#e8a7c9" opacity="0.35"/><use href="#pST" fill="#e6215f" opacity="0.2"/><use href="#pEVT3" fill="#a979b9" opacity="0.12"/><use href="#pEVT1" fill="#9561aa" opacity="0.25"/><use href="#pEVT2" fill="#6b417b" opacity="0.3"/></g><g fill="none" stroke-linecap="round" stroke-width="2.25"><g stroke="#cecece" stroke-width="1.9"><use href="#g0"/><use href="#g1"/><use href="#g2"/><use href="#g3"/><use href="#g4"/><use href="#g5"/></g><g stroke="#cecece" stroke-width="1.9"><use href="#g6"/><use href="#g7"/><use href="#g8"/><use href="#g9"/><use href="#g10"/><use href="#g11"/></g><g stroke="#cecece" stroke-width="1.9"><use href="#g12"/><use href="#g13"/><use href="#g14"/><use href="#g15"/><use href="#g16"/><use href="#g17"/><use href="#g18"/><use href="#g19"/><use href="#g20"/><use href="#g21"/><use href="#g22"/><use href="#g23"/><use href="#g24"/><use href="#g25"/><use href="#g26"/><use href="#g27"/><use href="#g28"/><use href="#g29"/></g><g stroke="#cecece" stroke-width="1.9"><use href="#g30"/><use href="#g31"/><use href="#g32"/><use href="#g33"/><use href="#g34"/><use href="#g35"/></g><g stroke="#cecece" stroke-width="1.9"><use href="#g36"/><use href="#g37"/><use href="#g38"/><use href="#g39"/><use href="#g40"/><use href="#g41"/></g><g stroke="#f0e4ea"><use href="#g42"/><use href="#g43"/><use href="#g44"/><use href="#g45"/><use href="#g46"/><use href="#g47"/></g><g stroke="#f3e9ee"><use href="#g48"/><use href="#g49"/><use href="#g50"/><use href="#g51"/><use href="#g52"/><use href="#g53"/><use href="#g54"/><use href="#g55"/><use href="#g56"/><use href="#g57"/><use href="#g58"/><use href="#g59"/><use href="#g60"/><use href="#g61"/><use href="#g62"/><use href="#g63"/><use href="#g64"/><use href="#g65"/><use href="#g66"/><use href="#g67"/><use href="#g68"/><use href="#g69"/><use href="#g70"/><use href="#g71"/><use href="#g72"/><use href="#g73"/><use href="#g74"/><use href="#g75"/><use href="#g76"/><use href="#g77"/><use href="#g78"/><use href="#g79"/><use href="#g80"/><use href="#g81"/><use href="#g82"/><use href="#g83"/></g><g stroke="#e6d6df"><use href="#g84"/><use href="#g85"/><use href="#g86"/><use href="#g87"/><use href="#g88"/><use href="#g89"/><use href="#g90"/><use href="#g91"/><use href="#g92"/><use href="#g93"/><use href="#g94"/><use href="#g95"/><use href="#g96"/><use href="#g97"/><use href="#g98"/><use href="#g99"/><use href="#g100"/><use href="#g101"/><use href="#g102"/><use href="#g103"/><use href="#g104"/><use href="#g105"/><use href="#g106"/><use href="#g107"/><use href="#g108"/><use href="#g109"/><use href="#g110"/><use href="#g111"/><use href="#g112"/><use href="#g113"/><use href="#g114"/><use href="#g115"/><use href="#g116"/><use href="#g117"/><use href="#g118"/><use href="#g119"/><use href="#g120"/><use href="#g121"/><use href="#g122"/><use href="#g123"/><use href="#g124"/><use href="#g125"/><use href="#g126"/><use href="#g127"/><use href="#g128"/><use href="#g129"/><use href="#g130"/><use href="#g131"/><use href="#g132"/><use href="#g133"/><use href="#g134"/><use href="#g135"/><use href="#g136"/><use href="#g137"/><use href="#g138"/><use href="#g139"/><use href="#g140"/><use href="#g141"/><use href="#g142"/><use href="#g143"/><use href="#g144"/><use href="#g145"/><use href="#g146"/><use href="#g147"/><use href="#g148"/><use href="#g149"/><use href="#g150"/><use href="#g151"/><use href="#g152"/><use href="#g153"/><use href="#g154"/><use href="#g155"/></g><g stroke="#a98c9b"><use href="#g156"/><use href="#g157"/><use href="#g158"/><use href="#g159"/><use href="#g160"/><use href="#g161"/><use href="#g162"/><use href="#g163"/><use href="#g164"/><use href="#g165"/><use href="#g166"/><use href="#g167"/><use href="#g168"/><use href="#g169"/><use href="#g170"/><use href="#g171"/><use href="#g172"/><use href="#g173"/><use href="#g174"/><use href="#g175"/><use href="#g176"/><use href="#g177"/><use href="#g178"/><use href="#g179"/><use href="#g180"/><use href="#g181"/><use href="#g182"/><use href="#g183"/><use href="#g184"/><use href="#g185"/><use href="#g186"/><use href="#g187"/><use href="#g188"/><use href="#g189"/><use href="#g190"/><use href="#g191"/><use href="#g192"/><use href="#g193"/><use href="#g194"/><use href="#g195"/><use href="#g196"/><use href="#g197"/><use href="#g198"/><use href="#g199"/><use href="#g200"/><use href="#g201"/><use href="#g202"/><use href="#g203"/><use href="#g204"/><use href="#g205"/><use href="#g206"/><use href="#g207"/><use href="#g208"/><use href="#g209"/><use href="#g210"/><use href="#g211"/><use href="#g212"/><use href="#g213"/><use href="#g214"/><use href="#g215"/><use href="#g216"/><use href="#g217"/><use href="#g218"/><use href="#g219"/><use href="#g220"/><use href="#g221"/></g><g stroke="#e8a7c9"><use href="#g222"/><use href="#g223"/><use href="#g224"/><use href="#g225"/><use href="#g226"/><use href="#g227"/></g><g stroke="#e6dbe1"><use href="#g228"/><use href="#g229"/><use href="#g230"/><use href="#g231"/><use href="#g232"/><use href="#g233"/></g><g stroke="#e6215f"><use href="#g234"/><use href="#g235"/><use href="#g236"/><use href="#g237"/><use href="#g238"/><use href="#g239"/><use href="#g240"/><use href="#g241"/><use href="#g242"/><use href="#g243"/><use href="#g244"/><use href="#g245"/><use href="#g246"/><use href="#g247"/><use href="#g248"/><use href="#g249"/><use href="#g250"/><use href="#g251"/><use href="#g252"/><use href="#g253"/><use href="#g254"/><use href="#g255"/><use href="#g256"/><use href="#g257"/><use href="#g258"/><use href="#g259"/><use href="#g260"/><use href="#g261"/><use href="#g262"/><use href="#g263"/><use href="#g264"/><use href="#g265"/><use href="#g266"/><use href="#g267"/><use href="#g268"/><use href="#g269"/></g><g stroke="#e6215f"><use href="#g270"/><use href="#g271"/><use href="#g272"/><use href="#g273"/><use href="#g274"/><use href="#g275"/></g><g stroke="#a979b9"><use href="#g276"/><use href="#g277"/><use href="#g278"/><use href="#g279"/><use href="#g280"/><use href="#g281"/></g><g stroke="#9561aa"><use href="#g282"/><use href="#g283"/><use href="#g284"/><use href="#g285"/><use href="#g286"/><use href="#g287"/><use href="#g288"/><use href="#g289"/><use href="#g290"/><use href="#g291"/><use href="#g292"/><use href="#g293"/><use href="#g294"/><use href="#g295"/><use href="#g296"/><use href="#g297"/><use href="#g298"/><use href="#g299"/><use href="#g300"/><use href="#g301"/><use href="#g302"/><use href="#g303"/><use href="#g304"/><use href="#g305"/><use href="#g306"/><use href="#g307"/><use href="#g308"/><use href="#g309"/><use href="#g310"/><use href="#g311"/><use href="#g312"/><use href="#g313"/><use href="#g314"/><use href="#g315"/><use href="#g316"/><use href="#g317"/><use href="#g318"/><use href="#g319"/><use href="#g320"/><use href="#g321"/><use href="#g322"/><use href="#g323"/><use href="#g324"/><use href="#g325"/><use href="#g326"/><use href="#g327"/><use href="#g328"/><use href="#g329"/><use href="#g330"/><use href="#g331"/><use href="#g332"/><use href="#g333"/><use href="#g334"/><use href="#g335"/><use href="#g336"/><use href="#g337"/><use href="#g338"/><use href="#g339"/><use href="#g340"/><use href="#g341"/><use href="#g342"/><use href="#g343"/><use href="#g344"/><use href="#g345"/><use href="#g346"/><use href="#g347"/><use href="#g348"/><use href="#g349"/><use href="#g350"/><use href="#g351"/><use href="#g352"/><use href="#g353"/><use href="#g354"/><use href="#g355"/><use href="#g356"/><use href="#g357"/><use href="#g358"/><use href="#g359"/><use href="#g360"/><use href="#g361"/><use href="#g362"/><use href="#g363"/><use href="#g364"/><use href="#g365"/><use href="#g366"/><use href="#g367"/><use href="#g368"/><use href="#g369"/><use href="#g370"/><use href="#g371"/><use href="#g372"/><use href="#g373"/><use href="#g374"/><use href="#g375"/><use href="#g376"/><use href="#g377"/><use href="#g378"/><use href="#g379"/><use href="#g380"/><use href="#g381"/><use href="#g382"/><use href="#g383"/></g><g stroke="#6b417b"><use href="#g384"/><use href="#g385"/><use href="#g386"/><use href="#g387"/><use href="#g388"/><use href="#g389"/></g><g stroke="#9561aa"><use href="#g390"/><use href="#g391"/><use href="#g392"/><use href="#g393"/><use href="#g394"/><use href="#g395"/></g><g stroke="#ad82bf"><use href="#g396"/><use href="#g397"/><use href="#g398"/><use href="#g399"/><use href="#g400"/><use href="#g401"/></g><g stroke="#2a222d"><use href="#g402"/><use href="#g403"/><use href="#g404"/><use href="#g405"/><use href="#g406"/><use href="#g407"/></g><g stroke="#1c161f"><use href="#g408"/><use href="#g409"/><use href="#g410"/><use href="#g411"/><use href="#g412"/><use href="#g413"/></g></g></g><g transform="matrix(0.5344 0 0 0.4675 9.30 880.44)"><g filter="url(#bl)" stroke-linejoin="round" stroke-width="9"><use href="#pCT4" fill="#ebebeb" stroke="#ebebeb"/><use href="#pCT1" fill="#ebebeb" stroke="#ebebeb"/><use href="#pST" fill="#ebebeb" stroke="#ebebeb"/><use href="#pCT2" fill="#efe6e4" stroke="#efe6e4"/><use href="#pCT3" fill="#ebebeb" stroke="#ebebeb"/><use href="#pEVT3" fill="#f6a995" stroke="#f6a995"/><use href="#pEVT1" fill="#f7ae9c" stroke="#f7ae9c"/><use href="#pEVT2" fill="#facec3" stroke="#facec3"/><use href="#pBLK" fill="#f8bfb0" stroke="#f8bfb0" stroke-width="3"/></g><g fill="none" stroke-linecap="round" stroke-width="2.3"><use href="#g0" stroke="#f9c4b7"/><use href="#g6" stroke="#f59a85"/><use href="#g12" stroke="#f9d6cc"/><use href="#g18" stroke="#ede8e7"/><use href="#g24" stroke="#f4ded9"/><use href="#g30" stroke="#f59a85"/><use href="#g36" stroke="#f9cec2"/><use href="#g42" stroke="#ebebeb"/><use href="#g48" stroke="#ebebeb"/><use href="#g54" stroke="#ebebeb"/><use href="#g60" stroke="#ebebeb"/><use href="#g66" stroke="#ebebeb"/><use href="#g72" stroke="#ebebeb"/><use href="#g78" stroke="#ebebeb"/><use href="#g84" stroke="#ebebeb"/><use href="#g90" stroke="#ebebeb"/><use href="#g96" stroke="#ebebeb"/><use href="#g102" stroke="#ebebeb"/><use href="#g108" stroke="#ebebeb"/><use href="#g114" stroke="#ebebeb"/><use href="#g120" stroke="#ebebeb"/><use href="#g126" stroke="#ebebeb"/><use href="#g132" stroke="#ebebeb"/><use href="#g138" stroke="#ebebeb"/><use href="#g144" stroke="#ebebeb"/><use href="#g150" stroke="#ebebeb"/><use href="#g156" stroke="#fad1c6"/><use href="#g162" stroke="#f9cabe"/><use href="#g168" stroke="#ebebeb"/><use href="#g174" stroke="#f3e0da"/><use href="#g180" stroke="#fad5cb"/><use href="#g186" stroke="#ebebeb"/><use href="#g192" stroke="#ebebeb"/><use href="#g198" stroke="#ebebeb"/><use href="#g204" stroke="#f2e2de"/><use href="#g210" stroke="#ebebeb"/><use href="#g216" stroke="#ebebeb"/><use href="#g222" stroke="#ebebeb"/><use href="#g228" stroke="#eceaea"/><use href="#g234" stroke="#ebebeb"/><use href="#g240" stroke="#ebebeb"/><use href="#g246" stroke="#ebebeb"/><use href="#g252" stroke="#ebebeb"/><use href="#g258" stroke="#ebebeb"/><use href="#g264" stroke="#ebebeb"/><use href="#g270" stroke="#eceaea"/><use href="#g276" stroke="#f7af9d"/><use href="#g282" stroke="#f7b5a4"/><use href="#g288" stroke="#f7b5a4"/><use href="#g294" stroke="#f7b5a4"/><use href="#g300" stroke="#f7b5a4"/><use href="#g306" stroke="#f7b5a4"/><use href="#g312" stroke="#f7b5a4"/><use href="#g318" stroke="#f7b5a4"/><use href="#g324" stroke="#f7b5a4"/><use href="#g330" stroke="#f7b5a4"/><use href="#g336" stroke="#f7b5a4"/><use href="#g342" stroke="#f7b5a4"/><use href="#g348" stroke="#f7b5a4"/><use href="#g354" stroke="#f7b5a4"/><use href="#g360" stroke="#f7b5a4"/><use href="#g366" stroke="#f7b5a4"/><use href="#g372" stroke="#f7b5a4"/><use href="#g378" stroke="#f7b5a4"/><use href="#g384" stroke="#fad3c9"/><use href="#g390" stroke="#f59a85"/><use href="#g396" stroke="#fad1c6"/><use href="#g402" stroke="#f9c5b8"/><use href="#g408" stroke="#f28870"/><use href="#g1" stroke="#f59e89"/><use href="#g7" stroke="#f0775e"/><use href="#g13" stroke="#f9c8bb"/><use href="#g19" stroke="#f5dcd6"/><use href="#g25" stroke="#fad3c9"/><use href="#g31" stroke="#f0775e"/><use href="#g37" stroke="#f7af9d"/><use href="#g43" stroke="#ebebeb"/><use href="#g49" stroke="#ebebeb"/><use href="#g55" stroke="#ebebeb"/><use href="#g61" stroke="#ebebeb"/><use href="#g67" stroke="#ebebeb"/><use href="#g73" stroke="#ebebeb"/><use href="#g79" stroke="#ebebeb"/><use href="#g85" stroke="#ebebeb"/><use href="#g91" stroke="#ebebeb"/><use href="#g97" stroke="#ebebeb"/><use href="#g103" stroke="#ebebeb"/><use href="#g109" stroke="#ebebeb"/><use href="#g115" stroke="#ebebeb"/><use href="#g121" stroke="#ebebeb"/><use href="#g127" stroke="#ebebeb"/><use href="#g133" stroke="#ebebeb"/><use href="#g139" stroke="#ebebeb"/><use href="#g145" stroke="#ebebeb"/><use href="#g151" stroke="#ebebeb"/><use href="#g157" stroke="#f9ccc0"/><use href="#g163" stroke="#f9c5b8"/><use href="#g169" stroke="#ebebeb"/><use href="#g175" stroke="#f5ddd7"/><use href="#g181" stroke="#fad3c9"/><use href="#g187" stroke="#ebebeb"/><use href="#g193" stroke="#ebebeb"/><use href="#g199" stroke="#ede9e8"/><use href="#g205" stroke="#f3e1dd"/><use href="#g211" stroke="#ebebeb"/><use href="#g217" stroke="#ebebeb"/><use href="#g223" stroke="#ebebeb"/><use href="#g229" stroke="#ece9e8"/><use href="#g235" stroke="#ebebeb"/><use href="#g241" stroke="#ebebeb"/><use href="#g247" stroke="#ebebeb"/><use href="#g253" stroke="#ebebeb"/><use href="#g259" stroke="#ebebeb"/><use href="#g265" stroke="#ebebeb"/><use href="#g271" stroke="#ede9e8"/><use href="#g277" stroke="#f49983"/><use href="#g283" stroke="#f59d88"/><use href="#g289" stroke="#f59d88"/><use href="#g295" stroke="#f59d88"/><use href="#g301" stroke="#f59d88"/><use href="#g307" stroke="#f59d88"/><use href="#g313" stroke="#f59d88"/><use href="#g319" stroke="#f59d88"/><use href="#g325" stroke="#f59d88"/><use href="#g331" stroke="#f59d88"/><use href="#g337" stroke="#f59d88"/><use href="#g343" stroke="#f59d88"/><use href="#g349" stroke="#f59d88"/><use href="#g355" stroke="#f59d88"/><use href="#g361" stroke="#f59d88"/><use href="#g367" stroke="#f59d88"/><use href="#g373" stroke="#f59d88"/><use href="#g379" stroke="#f59d88"/><use href="#g385" stroke="#f8beb0"/><use href="#g391" stroke="#f0775e"/><use href="#g397" stroke="#f7af9d"/><use href="#g403" stroke="#f7ac99"/><use href="#g409" stroke="#ee6850"/><use href="#g2" stroke="#f2836b"/><use href="#g8" stroke="#ec5b43"/><use href="#g14" stroke="#f7b09e"/><use href="#g20" stroke="#f9c8bb"/><use href="#g26" stroke="#f8bbab"/><use href="#g32" stroke="#ec5b43"/><use href="#g38" stroke="#f38e77"/><use href="#g44" stroke="#ebebeb"/><use href="#g50" stroke="#ebebeb"/><use href="#g56" stroke="#ebebeb"/><use href="#g62" stroke="#ebebeb"/><use href="#g68" stroke="#ebebeb"/><use href="#g74" stroke="#ebebeb"/><use href="#g80" stroke="#ebebeb"/><use href="#g86" stroke="#ebebeb"/><use href="#g92" stroke="#ebebeb"/><use href="#g98" stroke="#ebebeb"/><use href="#g104" stroke="#ebebeb"/><use href="#g110" stroke="#ebebeb"/><use href="#g116" stroke="#ebebeb"/><use href="#g122" stroke="#ebebeb"/><use href="#g128" stroke="#ebebeb"/><use href="#g134" stroke="#ebebeb"/><use href="#g140" stroke="#ebebeb"/><use href="#g146" stroke="#ebebeb"/><use href="#g152" stroke="#ebebeb"/><use href="#g158" stroke="#f9c5b8"/><use href="#g164" stroke="#f8bfb0"/><use href="#g170" stroke="#ede9e8"/><use href="#g176" stroke="#f8d8cf"/><use href="#g182" stroke="#f9c8bb"/><use href="#g188" stroke="#ebebeb"/><use href="#g194" stroke="#ebebeb"/><use href="#g200" stroke="#f1e3e0"/><use href="#g206" stroke="#f5dcd6"/><use href="#g212" stroke="#ebebeb"/><use href="#g218" stroke="#ebebeb"/><use href="#g224" stroke="#ebebeb"/><use href="#g230" stroke="#ede8e7"/><use href="#g236" stroke="#ebebeb"/><use href="#g242" stroke="#ebebeb"/><use href="#g248" stroke="#ebebeb"/><use href="#g254" stroke="#ebebeb"/><use href="#g260" stroke="#ebebeb"/><use href="#g266" stroke="#ebebeb"/><use href="#g272" stroke="#ede8e7"/><use href="#g278" stroke="#f2866e"/><use href="#g284" stroke="#f38c75"/><use href="#g290" stroke="#f38c75"/><use href="#g296" stroke="#f38c75"/><use href="#g302" stroke="#f38c75"/><use href="#g308" stroke="#f38c75"/><use href="#g314" stroke="#f38c75"/><use href="#g320" stroke="#f38c75"/><use href="#g326" stroke="#f38c75"/><use href="#g332" stroke="#f38c75"/><use href="#g338" stroke="#f38c75"/><use href="#g344" stroke="#f38c75"/><use href="#g350" stroke="#f38c75"/><use href="#g356" stroke="#f38c75"/><use href="#g362" stroke="#f38c75"/><use href="#g368" stroke="#f38c75"/><use href="#g374" stroke="#f38c75"/><use href="#g380" stroke="#f38c75"/><use href="#g386" stroke="#f7ac99"/><use href="#g392" stroke="#ec5b43"/><use href="#g398" stroke="#f38a73"/><use href="#g404" stroke="#f4947e"/><use href="#g410" stroke="#eb523b"/><use href="#g3" stroke="#f0735a"/><use href="#g9" stroke="#ea4633"/><use href="#g15" stroke="#f4957f"/><use href="#g21" stroke="#f7ab98"/><use href="#g27" stroke="#f59f8a"/><use href="#g33" stroke="#ea4633"/><use href="#g39" stroke="#f07960"/><use href="#g45" stroke="#f2e2de"/><use href="#g51" stroke="#f9c6b8"/><use href="#g57" stroke="#f9c6b8"/><use href="#g63" stroke="#f9c6b8"/><use href="#g69" stroke="#f9c6b8"/><use href="#g75" stroke="#f9c6b8"/><use href="#g81" stroke="#f9c6b8"/><use href="#g87" stroke="#ebebeb"/><use href="#g93" stroke="#ebebeb"/><use href="#g99" stroke="#ebebeb"/><use href="#g105" stroke="#ebebeb"/><use href="#g111" stroke="#ebebeb"/><use href="#g117" stroke="#ebebeb"/><use href="#g123" stroke="#ebebeb"/><use href="#g129" stroke="#ebebeb"/><use href="#g135" stroke="#ebebeb"/><use href="#g141" stroke="#ebebeb"/><use href="#g147" stroke="#ebebeb"/><use href="#g153" stroke="#ebebeb"/><use href="#g159" stroke="#f8bcad"/><use href="#g165" stroke="#f7b3a2"/><use href="#g171" stroke="#f3e0db"/><use href="#g177" stroke="#facfc4"/><use href="#g183" stroke="#f8c1b3"/><use href="#g189" stroke="#ebebeb"/><use href="#g195" stroke="#eceae9"/><use href="#g201" stroke="#f5ddd7"/><use href="#g207" stroke="#f8d7cf"/><use href="#g213" stroke="#ebebeb"/><use href="#g219" stroke="#f0e4e2"/><use href="#g225" stroke="#f2e1dd"/><use href="#g231" stroke="#f2e2de"/><use href="#g237" stroke="#eee6e4"/><use href="#g243" stroke="#eee6e4"/><use href="#g249" stroke="#eee6e4"/><use href="#g255" stroke="#eee6e4"/><use href="#g261" stroke="#eee6e4"/><use href="#g267" stroke="#eee6e4"/><use href="#g273" stroke="#f9ccc0"/><use href="#g279" stroke="#f17a61"/><use href="#g285" stroke="#f18168"/><use href="#g291" stroke="#f18168"/><use href="#g297" stroke="#f18168"/><use href="#g303" stroke="#f18168"/><use href="#g309" stroke="#f18168"/><use href="#g315" stroke="#f18168"/><use href="#g321" stroke="#f18168"/><use href="#g327" stroke="#f18168"/><use href="#g333" stroke="#f18168"/><use href="#g339" stroke="#f18168"/><use href="#g345" stroke="#f18168"/><use href="#g351" stroke="#f18168"/><use href="#g357" stroke="#f18168"/><use href="#g363" stroke="#f18168"/><use href="#g369" stroke="#f18168"/><use href="#g375" stroke="#f18168"/><use href="#g381" stroke="#f18168"/><use href="#g387" stroke="#f5a08c"/><use href="#g393" stroke="#ea4633"/><use href="#g399" stroke="#f0735a"/><use href="#g405" stroke="#f2856d"/><use href="#g411" stroke="#e9412f"/><use href="#g4" stroke="#ee644b"/><use href="#g10" stroke="#e8392a"/><use href="#g16" stroke="#f2866e"/><use href="#g22" stroke="#f59a84"/><use href="#g28" stroke="#f38f79"/><use href="#g34" stroke="#e8392a"/><use href="#g40" stroke="#ef6d55"/><use href="#g46" stroke="#f8c1b3"/><use href="#g52" stroke="#f49883"/><use href="#g58" stroke="#f49883"/><use href="#g64" stroke="#f49883"/><use href="#g70" stroke="#f49883"/><use href="#g76" stroke="#f49883"/><use href="#g82" stroke="#f49883"/><use href="#g88" stroke="#f3e0db"/><use href="#g94" stroke="#f3e0db"/><use href="#g100" stroke="#f3e0db"/><use href="#g106" stroke="#f3e0db"/><use href="#g112" stroke="#f3e0db"/><use href="#g118" stroke="#f3e0db"/><use href="#g124" stroke="#f3e0db"/><use href="#g130" stroke="#f3e0db"/><use href="#g136" stroke="#f3e0db"/><use href="#g142" stroke="#f3e0db"/><use href="#g148" stroke="#f3e0db"/><use href="#g154" stroke="#f3e0db"/><use href="#g160" stroke="#f7af9e"/><use href="#g166" stroke="#f6a793"/><use href="#g172" stroke="#f7dad3"/><use href="#g178" stroke="#f8c2b4"/><use href="#g184" stroke="#f7b09f"/><use href="#g190" stroke="#eee7e5"/><use href="#g196" stroke="#f3e0dc"/><use href="#g202" stroke="#fad5cb"/><use href="#g208" stroke="#f9cbbf"/><use href="#g214" stroke="#efe5e3"/><use href="#g220" stroke="#f5ddd7"/><use href="#g226" stroke="#f9d6cd"/><use href="#g232" stroke="#f9cdc1"/><use href="#g238" stroke="#f7d9d2"/><use href="#g244" stroke="#f7d9d2"/><use href="#g250" stroke="#f7d9d2"/><use href="#g256" stroke="#f7d9d2"/><use href="#g262" stroke="#f7d9d2"/><use href="#g268" stroke="#f7d9d2"/><use href="#g274" stroke="#f7b3a1"/><use href="#g280" stroke="#ee6a52"/><use href="#g286" stroke="#f0735a"/><use href="#g292" stroke="#f0735a"/><use href="#g298" stroke="#f0735a"/><use href="#g304" stroke="#f0735a"/><use href="#g310" stroke="#f0735a"/><use href="#g316" stroke="#f0735a"/><use href="#g322" stroke="#f0735a"/><use href="#g328" stroke="#f0735a"/><use href="#g334" stroke="#f0735a"/><use href="#g340" stroke="#f0735a"/><use href="#g346" stroke="#f0735a"/><use href="#g352" stroke="#f0735a"/><use href="#g358" stroke="#f0735a"/><use href="#g364" stroke="#f0735a"/><use href="#g370" stroke="#f0735a"/><use href="#g376" stroke="#f0735a"/><use href="#g382" stroke="#f0735a"/><use href="#g388" stroke="#f4947e"/><use href="#g394" stroke="#e8392a"/><use href="#g400" stroke="#ee664d"/><use href="#g406" stroke="#f17c63"/><use href="#g412" stroke="#e83628"/><use href="#g5" stroke="#ea4532"/><use href="#g11" stroke="#e62f24"/><use href="#g17" stroke="#f17c63"/><use href="#g23" stroke="#f4927c"/><use href="#g29" stroke="#f2856d"/><use href="#g35" stroke="#e62f24"/><use href="#g41" stroke="#ee654c"/><use href="#g47" stroke="#f6a591"/><use href="#g53" stroke="#ef6f56"/><use href="#g59" stroke="#ef6f56"/><use href="#g65" stroke="#ef6f56"/><use href="#g71" stroke="#ef6f56"/><use href="#g77" stroke="#ef6f56"/><use href="#g83" stroke="#ef6f56"/><use href="#g89" stroke="#f9c4b7"/><use href="#g95" stroke="#f9c4b7"/><use href="#g101" stroke="#f9c4b7"/><use href="#g107" stroke="#f9c4b7"/><use href="#g113" stroke="#f9c4b7"/><use href="#g119" stroke="#f9c4b7"/><use href="#g125" stroke="#f9c4b7"/><use href="#g131" stroke="#f9c4b7"/><use href="#g137" stroke="#f9c4b7"/><use href="#g143" stroke="#f9c4b7"/><use href="#g149" stroke="#f9c4b7"/><use href="#g155" stroke="#f9c4b7"/><use href="#g161" stroke="#f4927b"/><use href="#g167" stroke="#f38b73"/><use href="#g173" stroke="#f8bdae"/><use href="#g179" stroke="#f6a38f"/><use href="#g185" stroke="#f4937d"/><use href="#g191" stroke="#fad1c6"/><use href="#g197" stroke="#f9c7bb"/><use href="#g203" stroke="#f8b8a9"/><use href="#g209" stroke="#f6a692"/><use href="#g215" stroke="#facfc3"/><use href="#g221" stroke="#f9c4b7"/><use href="#g227" stroke="#f7b4a3"/><use href="#g233" stroke="#f8b9a9"/><use href="#g239" stroke="#f7ae9c"/><use href="#g245" stroke="#f7ae9c"/><use href="#g251" stroke="#f7ae9c"/><use href="#g257" stroke="#f7ae9c"/><use href="#g263" stroke="#f7ae9c"/><use href="#g269" stroke="#f7ae9c"/><use href="#g275" stroke="#f6a18d"/><use href="#g281" stroke="#e93f2e"/><use href="#g287" stroke="#eb523c"/><use href="#g293" stroke="#eb523c"/><use href="#g299" stroke="#eb523c"/><use href="#g305" stroke="#eb523c"/><use href="#g311" stroke="#eb523c"/><use href="#g317" stroke="#eb523c"/><use href="#g323" stroke="#eb523c"/><use href="#g329" stroke="#eb523c"/><use href="#g335" stroke="#eb523c"/><use href="#g341" stroke="#eb523c"/><use href="#g347" stroke="#eb523c"/><use href="#g353" stroke="#eb523c"/><use href="#g359" stroke="#eb523c"/><use href="#g365" stroke="#eb523c"/><use href="#g371" stroke="#eb523c"/><use href="#g377" stroke="#eb523c"/><use href="#g383" stroke="#eb523c"/><use href="#g389" stroke="#f17a61"/><use href="#g395" stroke="#e62f24"/><use href="#g401" stroke="#ed5c44"/><use href="#g407" stroke="#f0765d"/><use href="#g413" stroke="#e62e24"/></g></g><g transform="matrix(0.5344 0 0 0.4675 460.45 880.44)"><g filter="url(#bl)" stroke-linejoin="round" stroke-width="9"><use href="#pCT4" fill="#ebebeb" stroke="#ebebeb"/><use href="#pCT1" fill="#ebebeb" stroke="#ebebeb"/><use href="#pST" fill="#ebebeb" stroke="#ebebeb"/><use href="#pCT2" fill="#ebebeb" stroke="#ebebeb"/><use href="#pCT3" fill="#ebebeb" stroke="#ebebeb"/><use href="#pEVT3" fill="#f17c63" stroke="#f17c63"/><use href="#pEVT1" fill="#f38e77" stroke="#f38e77"/><use href="#pEVT2" fill="#f0775f" stroke="#f0775f"/><use href="#pBLK" fill="#e93c2c" stroke="#e93c2c" stroke-width="3"/></g><g fill="none" stroke-linecap="round" stroke-width="2.3"><use href="#g0" stroke="#ebebeb"/><use href="#g6" stroke="#ebebeb"/><use href="#g12" stroke="#f4ded8"/><use href="#g18" stroke="#ebebeb"/><use href="#g24" stroke="#f0e5e2"/><use href="#g30" stroke="#f1e3e0"/><use href="#g36" stroke="#ebebeb"/><use href="#g42" stroke="#ebebeb"/><use href="#g48" stroke="#ebebeb"/><use href="#g54" stroke="#ebebea"/><use href="#g60" stroke="#ebebeb"/><use href="#g66" stroke="#ebebeb"/><use href="#g72" stroke="#efe6e4"/><use href="#g78" stroke="#eee7e5"/><use href="#g84" stroke="#ebebeb"/><use href="#g90" stroke="#ebebeb"/><use href="#g96" stroke="#ebebeb"/><use href="#g102" stroke="#ebebeb"/><use href="#g108" stroke="#ebebeb"/><use href="#g114" stroke="#ebebeb"/><use href="#g120" stroke="#ebebeb"/><use href="#g126" stroke="#ebebeb"/><use href="#g132" stroke="#ebebeb"/><use href="#g138" stroke="#ebebeb"/><use href="#g144" stroke="#ebebeb"/><use href="#g150" stroke="#ebebeb"/><use href="#g156" stroke="#ebebeb"/><use href="#g162" stroke="#ebebeb"/><use href="#g168" stroke="#ebebeb"/><use href="#g174" stroke="#ebebeb"/><use href="#g180" stroke="#ebebeb"/><use href="#g186" stroke="#ebebeb"/><use href="#g192" stroke="#ebebeb"/><use href="#g198" stroke="#ebebeb"/><use href="#g204" stroke="#ebebeb"/><use href="#g210" stroke="#ebebeb"/><use href="#g216" stroke="#ebebeb"/><use href="#g222" stroke="#ebebeb"/><use href="#g228" stroke="#ebebeb"/><use href="#g234" stroke="#ebebeb"/><use href="#g240" stroke="#ebebeb"/><use href="#g246" stroke="#ebebeb"/><use href="#g252" stroke="#ebebeb"/><use href="#g258" stroke="#ebebeb"/><use href="#g264" stroke="#ebebeb"/><use href="#g270" stroke="#ebebeb"/><use href="#g276" stroke="#f2826a"/><use href="#g282" stroke="#eb4c38"/><use href="#g288" stroke="#eb4c38"/><use href="#g294" stroke="#eb4c38"/><use href="#g300" stroke="#eb4c38"/><use href="#g306" stroke="#eb4c38"/><use href="#g312" stroke="#ee6a52"/><use href="#g318" stroke="#f0785f"/><use href="#g324" stroke="#ec5a42"/><use href="#g330" stroke="#eb4c38"/><use href="#g336" stroke="#f59c87"/><use href="#g342" stroke="#f59e8a"/><use href="#g348" stroke="#f59d88"/><use href="#g354" stroke="#eb4d38"/><use href="#g360" stroke="#f59e89"/><use href="#g366" stroke="#f59e8a"/><use href="#g372" stroke="#f59d88"/><use href="#g378" stroke="#ec5b43"/><use href="#g384" stroke="#f17c63"/><use href="#g390" stroke="#f17f66"/><use href="#g396" stroke="#f38c75"/><use href="#g402" stroke="#e94130"/><use href="#g408" stroke="#ec5740"/><use href="#g1" stroke="#ebebeb"/><use href="#g7" stroke="#ebebeb"/><use href="#g13" stroke="#f8d8d0"/><use href="#g19" stroke="#f0e4e1"/><use href="#g25" stroke="#f4ded8"/><use href="#g31" stroke="#f9d5cc"/><use href="#g37" stroke="#ebebeb"/><use href="#g43" stroke="#ebebeb"/><use href="#g49" stroke="#ebebeb"/><use href="#g55" stroke="#eceae9"/><use href="#g61" stroke="#ebebeb"/><use href="#g67" stroke="#ebebeb"/><use href="#g73" stroke="#efe6e4"/><use href="#g79" stroke="#eee7e5"/><use href="#g85" stroke="#ebebeb"/><use href="#g91" stroke="#ebebeb"/><use href="#g97" stroke="#ebebeb"/><use href="#g103" stroke="#ebebeb"/><use href="#g109" stroke="#ebebeb"/><use href="#g115" stroke="#ebebeb"/><use href="#g121" stroke="#ebebeb"/><use href="#g127" stroke="#ebebeb"/><use href="#g133" stroke="#ebebeb"/><use href="#g139" stroke="#ebebeb"/><use href="#g145" stroke="#ebebeb"/><use href="#g151" stroke="#ebebeb"/><use href="#g157" stroke="#ebebeb"/><use href="#g163" stroke="#ebebeb"/><use href="#g169" stroke="#ebebeb"/><use href="#g175" stroke="#ebebeb"/><use href="#g181" stroke="#ebebeb"/><use href="#g187" stroke="#ebebeb"/><use href="#g193" stroke="#ebebeb"/><use href="#g199" stroke="#ebebeb"/><use href="#g205" stroke="#ebebeb"/><use href="#g211" stroke="#ebebeb"/><use href="#g217" stroke="#ebebeb"/><use href="#g223" stroke="#ebebeb"/><use href="#g229" stroke="#ebebeb"/><use href="#g235" stroke="#ebebeb"/><use href="#g241" stroke="#ebebeb"/><use href="#g247" stroke="#ebebeb"/><use href="#g253" stroke="#ebebeb"/><use href="#g259" stroke="#ebebeb"/><use href="#g265" stroke="#ebebeb"/><use href="#g271" stroke="#ebebeb"/><use href="#g277" stroke="#ef6b52"/><use href="#g283" stroke="#e73427"/><use href="#g289" stroke="#e73427"/><use href="#g295" stroke="#e73427"/><use href="#g301" stroke="#e73427"/><use href="#g307" stroke="#e73427"/><use href="#g313" stroke="#ec563e"/><use href="#g319" stroke="#ef7158"/><use href="#g325" stroke="#e94331"/><use href="#g331" stroke="#e73427"/><use href="#g337" stroke="#f2876f"/><use href="#g343" stroke="#f28971"/><use href="#g349" stroke="#f28871"/><use href="#g355" stroke="#e73527"/><use href="#g361" stroke="#f2876f"/><use href="#g367" stroke="#f28971"/><use href="#g373" stroke="#f28770"/><use href="#g379" stroke="#e9402e"/><use href="#g385" stroke="#ee6a52"/><use href="#g391" stroke="#eb513b"/><use href="#g397" stroke="#ee644c"/><use href="#g403" stroke="#e52c23"/><use href="#g409" stroke="#ea4431"/><use href="#g2" stroke="#f4dfda"/><use href="#g8" stroke="#ebebeb"/><use href="#g14" stroke="#f8c1b3"/><use href="#g20" stroke="#fad3c9"/><use href="#g26" stroke="#f9c9bd"/><use href="#g32" stroke="#f7ac99"/><use href="#g38" stroke="#ebebeb"/><use href="#g44" stroke="#ebebeb"/><use href="#g50" stroke="#ebebeb"/><use href="#g56" stroke="#ebebeb"/><use href="#g62" stroke="#ebebeb"/><use href="#g68" stroke="#ebebeb"/><use href="#g74" stroke="#eee7e5"/><use href="#g80" stroke="#eee7e5"/><use href="#g86" stroke="#ebebeb"/><use href="#g92" stroke="#ebebeb"/><use href="#g98" stroke="#ebebeb"/><use href="#g104" stroke="#ebebeb"/><use href="#g110" stroke="#ebebeb"/><use href="#g116" stroke="#ebebeb"/><use href="#g122" stroke="#ebebeb"/><use href="#g128" stroke="#ebebeb"/><use href="#g134" stroke="#ebebeb"/><use href="#g140" stroke="#ebebeb"/><use href="#g146" stroke="#ebebeb"/><use href="#g152" stroke="#ebebeb"/><use href="#g158" stroke="#ebebeb"/><use href="#g164" stroke="#ebebeb"/><use href="#g170" stroke="#ebebeb"/><use href="#g176" stroke="#ebebeb"/><use href="#g182" stroke="#ebebeb"/><use href="#g188" stroke="#ebebeb"/><use href="#g194" stroke="#ebebeb"/><use href="#g200" stroke="#ebebeb"/><use href="#g206" stroke="#ebebeb"/><use href="#g212" stroke="#ebebeb"/><use href="#g218" stroke="#ebebeb"/><use href="#g224" stroke="#ebebeb"/><use href="#g230" stroke="#ebebeb"/><use href="#g236" stroke="#ebebeb"/><use href="#g242" stroke="#ebebeb"/><use href="#g248" stroke="#ebebeb"/><use href="#g254" stroke="#ebebeb"/><use href="#g260" stroke="#ebebeb"/><use href="#g266" stroke="#ebebeb"/><use href="#g272" stroke="#ebebeb"/><use href="#g278" stroke="#eb533c"/><use href="#g284" stroke="#e21e1c"/><use href="#g290" stroke="#e21e1c"/><use href="#g296" stroke="#e21e1c"/><use href="#g302" stroke="#e21e1c"/><use href="#g308" stroke="#e21e1c"/><use href="#g314" stroke="#eb4e39"/><use href="#g320" stroke="#ed5d45"/><use href="#g326" stroke="#e42620"/><use href="#g332" stroke="#e21e1c"/><use href="#g338" stroke="#ef7259"/><use href="#g344" stroke="#f0765e"/><use href="#g350" stroke="#f0755d"/><use href="#g356" stroke="#e21e1c"/><use href="#g362" stroke="#f0765d"/><use href="#g368" stroke="#f0765e"/><use href="#g374" stroke="#f0765d"/><use href="#g380" stroke="#e52c23"/><use href="#g386" stroke="#ed5c44"/><use href="#g392" stroke="#e93c2c"/><use href="#g398" stroke="#eb4e39"/><use href="#g404" stroke="#e42620"/><use href="#g410" stroke="#e83527"/><use href="#g3" stroke="#f59d88"/><use href="#g9" stroke="#ebebeb"/><use href="#g15" stroke="#f59f8a"/><use href="#g21" stroke="#f7b19f"/><use href="#g27" stroke="#f6a793"/><use href="#g33" stroke="#f4927b"/><use href="#g39" stroke="#ebebeb"/><use href="#g45" stroke="#ebebeb"/><use href="#g51" stroke="#ebebeb"/><use href="#g57" stroke="#ebeaea"/><use href="#g63" stroke="#ebebeb"/><use href="#g69" stroke="#ebebeb"/><use href="#g75" stroke="#eceae9"/><use href="#g81" stroke="#efe6e4"/><use href="#g87" stroke="#ebebeb"/><use href="#g93" stroke="#ebebeb"/><use href="#g99" stroke="#ebebeb"/><use href="#g105" stroke="#ebebeb"/><use href="#g111" stroke="#ebebeb"/><use href="#g117" stroke="#ebebeb"/><use href="#g123" stroke="#ebebeb"/><use href="#g129" stroke="#ebebeb"/><use href="#g135" stroke="#ebebeb"/><use href="#g141" stroke="#ebebeb"/><use href="#g147" stroke="#ebebeb"/><use href="#g153" stroke="#ebebeb"/><use href="#g159" stroke="#ebebeb"/><use href="#g165" stroke="#ebebeb"/><use href="#g171" stroke="#ebebeb"/><use href="#g177" stroke="#ebebeb"/><use href="#g183" stroke="#ebebeb"/><use href="#g189" stroke="#ebebeb"/><use href="#g195" stroke="#ebebeb"/><use href="#g201" stroke="#ebebeb"/><use href="#g207" stroke="#ebebeb"/><use href="#g213" stroke="#ebebeb"/><use href="#g219" stroke="#ebebeb"/><use href="#g225" stroke="#ebebeb"/><use href="#g231" stroke="#ebebeb"/><use href="#g237" stroke="#ebebeb"/><use href="#g243" stroke="#ebebeb"/><use href="#g249" stroke="#ebebeb"/><use href="#g255" stroke="#ebebeb"/><use href="#g261" stroke="#ebebeb"/><use href="#g267" stroke="#ebebeb"/><use href="#g273" stroke="#ebebeb"/><use href="#g279" stroke="#e9402f"/><use href="#g285" stroke="#e21e1c"/><use href="#g291" stroke="#e21e1c"/><use href="#g297" stroke="#e21e1c"/><use href="#g303" stroke="#e21e1c"/><use href="#g309" stroke="#e21e1c"/><use href="#g315" stroke="#e52921"/><use href="#g321" stroke="#eb523c"/><use href="#g327" stroke="#e21e1c"/><use href="#g333" stroke="#e21e1c"/><use href="#g339" stroke="#ee674e"/><use href="#g345" stroke="#ef6b52"/><use href="#g351" stroke="#ef6b52"/><use href="#g357" stroke="#e21e1c"/><use href="#g363" stroke="#ee634b"/><use href="#g369" stroke="#ef6b52"/><use href="#g375" stroke="#ee6a52"/><use href="#g381" stroke="#e21e1c"/><use href="#g387" stroke="#eb523c"/><use href="#g393" stroke="#e62f24"/><use href="#g399" stroke="#e93f2e"/><use href="#g405" stroke="#e3221e"/><use href="#g411" stroke="#e52b22"/><use href="#g4" stroke="#ef6b53"/><use href="#g10" stroke="#fad4ca"/><use href="#g16" stroke="#f38d76"/><use href="#g22" stroke="#f59c87"/><use href="#g28" stroke="#f4947e"/><use href="#g34" stroke="#f2826a"/><use href="#g40" stroke="#f7b09e"/><use href="#g46" stroke="#ebebeb"/><use href="#g52" stroke="#f0e5e2"/><use href="#g58" stroke="#f5ddd7"/><use href="#g64" stroke="#f4dfd9"/><use href="#g70" stroke="#f2e1dd"/><use href="#g76" stroke="#f8d7cf"/><use href="#g82" stroke="#f7d9d1"/><use href="#g88" stroke="#ebebeb"/><use href="#g94" stroke="#ebebeb"/><use href="#g100" stroke="#ebebeb"/><use href="#g106" stroke="#ebebeb"/><use href="#g112" stroke="#ebebeb"/><use href="#g118" stroke="#ebebeb"/><use href="#g124" stroke="#ebebeb"/><use href="#g130" stroke="#ebebeb"/><use href="#g136" stroke="#ebebeb"/><use href="#g142" stroke="#ebebeb"/><use href="#g148" stroke="#ebebeb"/><use href="#g154" stroke="#ebebeb"/><use href="#g160" stroke="#ebebeb"/><use href="#g166" stroke="#ebebeb"/><use href="#g172" stroke="#ebebeb"/><use href="#g178" stroke="#ebebeb"/><use href="#g184" stroke="#ebebeb"/><use href="#g190" stroke="#ebebeb"/><use href="#g196" stroke="#ebebeb"/><use href="#g202" stroke="#ebebeb"/><use href="#g208" stroke="#ebebeb"/><use href="#g214" stroke="#ebebeb"/><use href="#g220" stroke="#ebebeb"/><use href="#g226" stroke="#ebebeb"/><use href="#g232" stroke="#ebebeb"/><use href="#g238" stroke="#ebebeb"/><use href="#g244" stroke="#ebebeb"/><use href="#g250" stroke="#ebebeb"/><use href="#g256" stroke="#ebebeb"/><use href="#g262" stroke="#ebebeb"/><use href="#g268" stroke="#ebebeb"/><use href="#g274" stroke="#f0e4e1"/><use href="#g280" stroke="#e73326"/><use href="#g286" stroke="#e21e1c"/><use href="#g292" stroke="#e21e1c"/><use href="#g298" stroke="#e21e1c"/><use href="#g304" stroke="#e21e1c"/><use href="#g310" stroke="#e21e1c"/><use href="#g316" stroke="#e52a22"/><use href="#g322" stroke="#ea4533"/><use href="#g328" stroke="#e21e1c"/><use href="#g334" stroke="#e21e1c"/><use href="#g340" stroke="#ed5f47"/><use href="#g346" stroke="#ed5f47"/><use href="#g352" stroke="#ed5e46"/><use href="#g358" stroke="#e21e1c"/><use href="#g364" stroke="#ed5f47"/><use href="#g370" stroke="#ed5f47"/><use href="#g376" stroke="#ec5941"/><use href="#g382" stroke="#e21e1c"/><use href="#g388" stroke="#ea4834"/><use href="#g394" stroke="#e42720"/><use href="#g400" stroke="#e83527"/><use href="#g406" stroke="#e3201d"/><use href="#g412" stroke="#e4241f"/><use href="#g5" stroke="#ea4834"/><use href="#g11" stroke="#f7b3a2"/><use href="#g17" stroke="#f18168"/><use href="#g23" stroke="#f4927b"/><use href="#g29" stroke="#f2876f"/><use href="#g35" stroke="#f0785f"/><use href="#g41" stroke="#f0775e"/><use href="#g47" stroke="#f9cabe"/><use href="#g53" stroke="#f17d64"/><use href="#g59" stroke="#f0765d"/><use href="#g65" stroke="#f0755c"/><use href="#g71" stroke="#f0765d"/><use href="#g77" stroke="#ef6e55"/><use href="#g83" stroke="#ef6d55"/><use href="#g89" stroke="#f8d8d0"/><use href="#g95" stroke="#f8d8d0"/><use href="#g101" stroke="#f8d8d0"/><use href="#g107" stroke="#f8d8d0"/><use href="#g113" stroke="#f8d8d0"/><use href="#g119" stroke="#f8d8d0"/><use href="#g125" stroke="#f8d8d0"/><use href="#g131" stroke="#f8d8d0"/><use href="#g137" stroke="#f8d8d0"/><use href="#g143" stroke="#f8d8d0"/><use href="#g149" stroke="#f8d8d0"/><use href="#g155" stroke="#f8d8d0"/><use href="#g161" stroke="#f8d8d0"/><use href="#g167" stroke="#f8d8d0"/><use href="#g173" stroke="#f8d8d0"/><use href="#g179" stroke="#f8d8d0"/><use href="#g185" stroke="#f8d8d0"/><use href="#g191" stroke="#f8d8d0"/><use href="#g197" stroke="#f8d8d0"/><use href="#g203" stroke="#f8d8d0"/><use href="#g209" stroke="#f8d8d0"/><use href="#g215" stroke="#f8d8d0"/><use href="#g221" stroke="#f8d8d0"/><use href="#g227" stroke="#f8d8d0"/><use href="#g233" stroke="#f8d7cf"/><use href="#g239" stroke="#fad4ca"/><use href="#g245" stroke="#fad4ca"/><use href="#g251" stroke="#fad4ca"/><use href="#g257" stroke="#fad4ca"/><use href="#g263" stroke="#fad4ca"/><use href="#g269" stroke="#fad4ca"/><use href="#g275" stroke="#f8c2b5"/><use href="#g281" stroke="#e4241f"/><use href="#g287" stroke="#e21e1c"/><use href="#g293" stroke="#e21e1c"/><use href="#g299" stroke="#e21e1c"/><use href="#g305" stroke="#e21e1c"/><use href="#g311" stroke="#e21e1c"/><use href="#g317" stroke="#e21e1c"/><use href="#g323" stroke="#e21e1c"/><use href="#g329" stroke="#e21e1c"/><use href="#g335" stroke="#e21e1c"/><use href="#g341" stroke="#e93e2d"/><use href="#g347" stroke="#e94331"/><use href="#g353" stroke="#e94331"/><use href="#g359" stroke="#e21e1c"/><use href="#g365" stroke="#e94230"/><use href="#g371" stroke="#e94331"/><use href="#g377" stroke="#e9402f"/><use href="#g383" stroke="#e21e1c"/><use href="#g389" stroke="#e73427"/><use href="#g395" stroke="#e3201d"/><use href="#g401" stroke="#e62e24"/><use href="#g407" stroke="#e21f1c"/><use href="#g413" stroke="#e2201d"/></g></g><g transform="matrix(0.5344 0 0 0.4675 907.60 880.44)"><g filter="url(#bl)" stroke-linejoin="round" stroke-width="9"><use href="#pCT4" fill="#f7b5a5" stroke="#f7b5a5"/><use href="#pCT1" fill="#f7b19f" stroke="#f7b19f"/><use href="#pST" fill="#f3917a" stroke="#f3917a"/><use href="#pCT2" fill="#f7b4a4" stroke="#f7b4a4"/><use href="#pCT3" fill="#f8bcae" stroke="#f8bcae"/><use href="#pEVT3" fill="#f9c4b6" stroke="#f9c4b6"/><use href="#pEVT1" fill="#fad4ca" stroke="#fad4ca"/><use href="#pEVT2" fill="#f8c2b5" stroke="#f8c2b5"/><use href="#pBLK" fill="#f5a08b" stroke="#f5a08b" stroke-width="3"/></g><g fill="none" stroke-linecap="round" stroke-width="2.3"><use href="#g0" stroke="#eee7e5"/><use href="#g6" stroke="#eee8e6"/><use href="#g12" stroke="#f7b2a1"/><use href="#g18" stroke="#f7dad3"/><use href="#g24" stroke="#f9c6b9"/><use href="#g30" stroke="#f7b09e"/><use href="#g36" stroke="#ede8e7"/><use href="#g42" stroke="#f6a28e"/><use href="#g48" stroke="#f8bbac"/><use href="#g54" stroke="#f8bbac"/><use href="#g60" stroke="#f8bbac"/><use href="#g66" stroke="#f8bbac"/><use href="#g72" stroke="#f8bbac"/><use href="#g78" stroke="#f8bbac"/><use href="#g84" stroke="#f7b6a6"/><use href="#g90" stroke="#f7b6a6"/><use href="#g96" stroke="#f7b6a6"/><use href="#g102" stroke="#f7b6a6"/><use href="#g108" stroke="#f7b6a6"/><use href="#g114" stroke="#f7b6a6"/><use href="#g120" stroke="#f7b6a6"/><use href="#g126" stroke="#f7b6a6"/><use href="#g132" stroke="#f7b6a6"/><use href="#g138" stroke="#f7b6a6"/><use href="#g144" stroke="#f7b6a6"/><use href="#g150" stroke="#f7b6a6"/><use href="#g156" stroke="#f8baab"/><use href="#g162" stroke="#f8baab"/><use href="#g168" stroke="#f8baab"/><use href="#g174" stroke="#f8baab"/><use href="#g180" stroke="#f8baab"/><use href="#g186" stroke="#f8baab"/><use href="#g192" stroke="#f8baab"/><use href="#g198" stroke="#f8baab"/><use href="#g204" stroke="#f8baab"/><use href="#g210" stroke="#f8baab"/><use href="#g216" stroke="#f8baab"/><use href="#g222" stroke="#f8c2b4"/><use href="#g228" stroke="#f8b9aa"/><use href="#g234" stroke="#f6a490"/><use href="#g240" stroke="#f6a996"/><use href="#g246" stroke="#f4937c"/><use href="#g252" stroke="#f49883"/><use href="#g258" stroke="#f2866e"/><use href="#g264" stroke="#f38a73"/><use href="#g270" stroke="#f38d76"/><use href="#g276" stroke="#f9c9bd"/><use href="#g282" stroke="#f7b3a2"/><use href="#g288" stroke="#f7b3a2"/><use href="#g294" stroke="#f7b3a2"/><use href="#g300" stroke="#f7b3a2"/><use href="#g306" stroke="#f7b3a2"/><use href="#g312" stroke="#fad3c9"/><use href="#g318" stroke="#f9d6cd"/><use href="#g324" stroke="#f9cbc0"/><use href="#g330" stroke="#f7b3a2"/><use href="#g336" stroke="#f8d7cf"/><use href="#g342" stroke="#f8d7cf"/><use href="#g348" stroke="#f8d7cf"/><use href="#g354" stroke="#f8c2b4"/><use href="#g360" stroke="#f8d7cf"/><use href="#g366" stroke="#f8d7cf"/><use href="#g372" stroke="#f8d7cf"/><use href="#g378" stroke="#f9ccc0"/><use href="#g384" stroke="#f9c8bb"/><use href="#g390" stroke="#f59a85"/><use href="#g396" stroke="#f7b6a6"/><use href="#g402" stroke="#f6a895"/><use href="#g408" stroke="#f0785f"/><use href="#g1" stroke="#f9c8bb"/><use href="#g7" stroke="#f5dcd6"/><use href="#g13" stroke="#f59984"/><use href="#g19" stroke="#f8bcad"/><use href="#g25" stroke="#f6a895"/><use href="#g31" stroke="#f38a73"/><use href="#g37" stroke="#f1e4e1"/><use href="#g43" stroke="#f38d76"/><use href="#g49" stroke="#f6a591"/><use href="#g55" stroke="#f6a591"/><use href="#g61" stroke="#f6a591"/><use href="#g67" stroke="#f6a591"/><use href="#g73" stroke="#f6a591"/><use href="#g79" stroke="#f6a591"/><use href="#g85" stroke="#f5a18c"/><use href="#g91" stroke="#f5a18c"/><use href="#g97" stroke="#f5a18c"/><use href="#g103" stroke="#f5a18c"/><use href="#g109" stroke="#f5a18c"/><use href="#g115" stroke="#f5a18c"/><use href="#g121" stroke="#f5a18c"/><use href="#g127" stroke="#f5a18c"/><use href="#g133" stroke="#f5a18c"/><use href="#g139" stroke="#f5a18c"/><use href="#g145" stroke="#f5a18c"/><use href="#g151" stroke="#f5a18c"/><use href="#g157" stroke="#f6a38e"/><use href="#g163" stroke="#f6a38e"/><use href="#g169" stroke="#f6a38e"/><use href="#g175" stroke="#f6a38e"/><use href="#g181" stroke="#f6a38e"/><use href="#g187" stroke="#f6a38e"/><use href="#g193" stroke="#f6a38e"/><use href="#g199" stroke="#f6a38e"/><use href="#g205" stroke="#f6a38e"/><use href="#g211" stroke="#f6a38e"/><use href="#g217" stroke="#f6a38e"/><use href="#g223" stroke="#f7ac99"/><use href="#g229" stroke="#f5a18c"/><use href="#g235" stroke="#f38a73"/><use href="#g241" stroke="#f39079"/><use href="#g247" stroke="#f17b62"/><use href="#g253" stroke="#f18168"/><use href="#g259" stroke="#ef6e56"/><use href="#g265" stroke="#f07259"/><use href="#g271" stroke="#f0765d"/><use href="#g277" stroke="#f7b3a2"/><use href="#g283" stroke="#f5a08c"/><use href="#g289" stroke="#f5a08c"/><use href="#g295" stroke="#f5a08c"/><use href="#g301" stroke="#f5a08c"/><use href="#g307" stroke="#f5a08c"/><use href="#g313" stroke="#f8bfb0"/><use href="#g319" stroke="#f9c5b8"/><use href="#g325" stroke="#f8b8a8"/><use href="#g331" stroke="#f5a08c"/><use href="#g337" stroke="#f9c5b8"/><use href="#g343" stroke="#f9c5b8"/><use href="#g349" stroke="#f9c5b8"/><use href="#g355" stroke="#f7ad9b"/><use href="#g361" stroke="#f9c5b8"/><use href="#g367" stroke="#f9c5b8"/><use href="#g373" stroke="#f9c5b8"/><use href="#g379" stroke="#f7b6a6"/><use href="#g385" stroke="#f7b3a1"/><use href="#g391" stroke="#f0775e"/><use href="#g397" stroke="#f59984"/><use href="#g403" stroke="#f38a72"/><use href="#g409" stroke="#ed5f47"/><use href="#g2" stroke="#f59d88"/><use href="#g8" stroke="#f8c1b3"/><use href="#g14" stroke="#f18168"/><use href="#g20" stroke="#f59f8b"/><use href="#g26" stroke="#f38e78"/><use href="#g32" stroke="#ef6e55"/><use href="#g38" stroke="#f7ad9b"/><use href="#g44" stroke="#f0775e"/><use href="#g50" stroke="#f38b73"/><use href="#g56" stroke="#f38b73"/><use href="#g62" stroke="#f38b73"/><use href="#g68" stroke="#f38b73"/><use href="#g74" stroke="#f38b73"/><use href="#g80" stroke="#f38b73"/><use href="#g86" stroke="#f39079"/><use href="#g92" stroke="#f39079"/><use href="#g98" stroke="#f39079"/><use href="#g104" stroke="#f39079"/><use href="#g110" stroke="#f39079"/><use href="#g116" stroke="#f39079"/><use href="#g122" stroke="#f39079"/><use href="#g128" stroke="#f39079"/><use href="#g134" stroke="#f39079"/><use href="#g140" stroke="#f39079"/><use href="#g146" stroke="#f39079"/><use href="#g152" stroke="#f39079"/><use href="#g158" stroke="#f4937c"/><use href="#g164" stroke="#f4937c"/><use href="#g170" stroke="#f4937c"/><use href="#g176" stroke="#f4937c"/><use href="#g182" stroke="#f4937c"/><use href="#g188" stroke="#f4937c"/><use href="#g194" stroke="#f4937c"/><use href="#g200" stroke="#f4937c"/><use href="#g206" stroke="#f4937c"/><use href="#g212" stroke="#f4937c"/><use href="#g218" stroke="#f4937c"/><use href="#g224" stroke="#f59b85"/><use href="#g230" stroke="#f38e77"/><use href="#g236" stroke="#f0755d"/><use href="#g242" stroke="#f0775e"/><use href="#g248" stroke="#ee634b"/><use href="#g254" stroke="#ee6950"/><use href="#g260" stroke="#ec573f"/><use href="#g266" stroke="#ec5b43"/><use href="#g272" stroke="#ed5f46"/><use href="#g278" stroke="#f4927c"/><use href="#g284" stroke="#f39079"/><use href="#g290" stroke="#f39079"/><use href="#g296" stroke="#f39079"/><use href="#g302" stroke="#f39079"/><use href="#g308" stroke="#f39079"/><use href="#g314" stroke="#f7af9d"/><use href="#g320" stroke="#f7b1a0"/><use href="#g326" stroke="#f6a28d"/><use href="#g332" stroke="#f39079"/><use href="#g338" stroke="#f7b2a0"/><use href="#g344" stroke="#f7b2a0"/><use href="#g350" stroke="#f7b2a0"/><use href="#g356" stroke="#f59c87"/><use href="#g362" stroke="#f7b2a0"/><use href="#g368" stroke="#f7b2a0"/><use href="#g374" stroke="#f7b2a0"/><use href="#g380" stroke="#f6a490"/><use href="#g386" stroke="#f5a18c"/><use href="#g392" stroke="#ed5f46"/><use href="#g398" stroke="#f17e65"/><use href="#g404" stroke="#f0755c"/><use href="#g410" stroke="#ea4b36"/><use href="#g3" stroke="#f17d64"/><use href="#g9" stroke="#f6a692"/><use href="#g15" stroke="#ef6f56"/><use href="#g21" stroke="#f38e77"/><use href="#g27" stroke="#f17d64"/><use href="#g33" stroke="#ec5c43"/><use href="#g39" stroke="#f17e65"/><use href="#g45" stroke="#ee6951"/><use href="#g51" stroke="#f07960"/><use href="#g57" stroke="#f07960"/><use href="#g63" stroke="#f07960"/><use href="#g69" stroke="#f07960"/><use href="#g75" stroke="#f07960"/><use href="#g81" stroke="#f07960"/><use href="#g87" stroke="#f2856d"/><use href="#g93" stroke="#f2856d"/><use href="#g99" stroke="#f2856d"/><use href="#g105" stroke="#f2856d"/><use href="#g111" stroke="#f2856d"/><use href="#g117" stroke="#f2856d"/><use href="#g123" stroke="#f2856d"/><use href="#g129" stroke="#f2856d"/><use href="#g135" stroke="#f2856d"/><use href="#g141" stroke="#f2856d"/><use href="#g147" stroke="#f2856d"/><use href="#g153" stroke="#f2856d"/><use href="#g159" stroke="#f28871"/><use href="#g165" stroke="#f28871"/><use href="#g171" stroke="#f28871"/><use href="#g177" stroke="#f28871"/><use href="#g183" stroke="#f28871"/><use href="#g189" stroke="#f28871"/><use href="#g195" stroke="#f28871"/><use href="#g201" stroke="#f28871"/><use href="#g207" stroke="#f28871"/><use href="#g213" stroke="#f28871"/><use href="#g219" stroke="#f28871"/><use href="#g225" stroke="#f3907a"/><use href="#g231" stroke="#f2826a"/><use href="#g237" stroke="#ed6249"/><use href="#g243" stroke="#ee674e"/><use href="#g249" stroke="#ec563f"/><use href="#g255" stroke="#ec5a42"/><use href="#g261" stroke="#ea4633"/><use href="#g267" stroke="#ea4834"/><use href="#g273" stroke="#eb4d38"/><use href="#g279" stroke="#f17d64"/><use href="#g285" stroke="#f2856d"/><use href="#g291" stroke="#f2856d"/><use href="#g297" stroke="#f2856d"/><use href="#g303" stroke="#f2856d"/><use href="#g309" stroke="#f2856d"/><use href="#g315" stroke="#f59d88"/><use href="#g321" stroke="#f6a490"/><use href="#g327" stroke="#f49781"/><use href="#g333" stroke="#f2856d"/><use href="#g339" stroke="#f6a591"/><use href="#g345" stroke="#f6a591"/><use href="#g351" stroke="#f6a591"/><use href="#g357" stroke="#f38e78"/><use href="#g363" stroke="#f6a591"/><use href="#g369" stroke="#f6a591"/><use href="#g375" stroke="#f6a591"/><use href="#g381" stroke="#f49882"/><use href="#g387" stroke="#f49680"/><use href="#g393" stroke="#eb4d38"/><use href="#g399" stroke="#ef6d54"/><use href="#g405" stroke="#ee684f"/><use href="#g411" stroke="#e93d2c"/><use href="#g4" stroke="#ee6a52"/><use href="#g10" stroke="#f38c75"/><use href="#g16" stroke="#ed5e46"/><use href="#g22" stroke="#f17a61"/><use href="#g28" stroke="#ef6c53"/><use href="#g34" stroke="#eb4f3a"/><use href="#g40" stroke="#ed624a"/><use href="#g46" stroke="#ed6048"/><use href="#g52" stroke="#ef6f56"/><use href="#g58" stroke="#ef6f56"/><use href="#g64" stroke="#ef6f56"/><use href="#g70" stroke="#ef6f56"/><use href="#g76" stroke="#ef6f56"/><use href="#g82" stroke="#ef6f56"/><use href="#g88" stroke="#f17a61"/><use href="#g94" stroke="#f17a61"/><use href="#g100" stroke="#f17a61"/><use href="#g106" stroke="#f17a61"/><use href="#g112" stroke="#f17a61"/><use href="#g118" stroke="#f17a61"/><use href="#g124" stroke="#f17a61"/><use href="#g130" stroke="#f17a61"/><use href="#g136" stroke="#f17a61"/><use href="#g142" stroke="#f17a61"/><use href="#g148" stroke="#f17a61"/><use href="#g154" stroke="#f17a61"/><use href="#g160" stroke="#f17e65"/><use href="#g166" stroke="#f17e65"/><use href="#g172" stroke="#f17e65"/><use href="#g178" stroke="#f17e65"/><use href="#g184" stroke="#f17e65"/><use href="#g190" stroke="#f17e65"/><use href="#g196" stroke="#f17e65"/><use href="#g202" stroke="#f17e65"/><use href="#g208" stroke="#f17e65"/><use href="#g214" stroke="#f17e65"/><use href="#g220" stroke="#f17e65"/><use href="#g226" stroke="#f2866e"/><use href="#g232" stroke="#f17b62"/><use href="#g238" stroke="#ed5c44"/><use href="#g244" stroke="#ed5f47"/><use href="#g250" stroke="#ea4935"/><use href="#g256" stroke="#eb4e39"/><use href="#g262" stroke="#e93d2c"/><use href="#g268" stroke="#e93f2e"/><use href="#g274" stroke="#e94230"/><use href="#g280" stroke="#ef7158"/><use href="#g286" stroke="#f07960"/><use href="#g292" stroke="#f07960"/><use href="#g298" stroke="#f07960"/><use href="#g304" stroke="#f07960"/><use href="#g310" stroke="#f07960"/><use href="#g316" stroke="#f4957f"/><use href="#g322" stroke="#f49883"/><use href="#g328" stroke="#f38f78"/><use href="#g334" stroke="#f07960"/><use href="#g340" stroke="#f49883"/><use href="#g346" stroke="#f49883"/><use href="#g352" stroke="#f49883"/><use href="#g358" stroke="#f18067"/><use href="#g364" stroke="#f49883"/><use href="#g370" stroke="#f49883"/><use href="#g376" stroke="#f49883"/><use href="#g382" stroke="#f38e77"/><use href="#g388" stroke="#f38a72"/><use href="#g394" stroke="#e94230"/><use href="#g400" stroke="#ed624a"/><use href="#g406" stroke="#ed6048"/><use href="#g412" stroke="#e73427"/><use href="#g5" stroke="#ed5d45"/><use href="#g11" stroke="#f17b62"/><use href="#g17" stroke="#e8392a"/><use href="#g23" stroke="#ed5d45"/><use href="#g29" stroke="#ea4734"/><use href="#g35" stroke="#ea4633"/><use href="#g41" stroke="#eb4c37"/><use href="#g47" stroke="#ec5a42"/><use href="#g53" stroke="#ee684f"/><use href="#g59" stroke="#ee684f"/><use href="#g65" stroke="#ee684f"/><use href="#g71" stroke="#ee684f"/><use href="#g77" stroke="#ee684f"/><use href="#g83" stroke="#ee684f"/><use href="#g89" stroke="#ee664e"/><use href="#g95" stroke="#ee664e"/><use href="#g101" stroke="#ee664e"/><use href="#g107" stroke="#ee664e"/><use href="#g113" stroke="#ee664e"/><use href="#g119" stroke="#ee664e"/><use href="#g125" stroke="#ee664e"/><use href="#g131" stroke="#ee664e"/><use href="#g137" stroke="#ee664e"/><use href="#g143" stroke="#ee664e"/><use href="#g149" stroke="#ee664e"/><use href="#g155" stroke="#ee664e"/><use href="#g161" stroke="#ef6c54"/><use href="#g167" stroke="#ef6c54"/><use href="#g173" stroke="#ef6c54"/><use href="#g179" stroke="#ef6c54"/><use href="#g185" stroke="#ef6c54"/><use href="#g191" stroke="#ef6c54"/><use href="#g197" stroke="#ef6c54"/><use href="#g203" stroke="#ef6c54"/><use href="#g209" stroke="#ef6c54"/><use href="#g215" stroke="#ef6c54"/><use href="#g221" stroke="#ef6c54"/><use href="#g227" stroke="#f0745b"/><use href="#g233" stroke="#f0765d"/><use href="#g239" stroke="#eb503a"/><use href="#g245" stroke="#ec553e"/><use href="#g251" stroke="#e9412f"/><use href="#g257" stroke="#ea4633"/><use href="#g263" stroke="#e73225"/><use href="#g269" stroke="#e83728"/><use href="#g275" stroke="#e83a2a"/><use href="#g281" stroke="#ee6850"/><use href="#g287" stroke="#ed6048"/><use href="#g293" stroke="#ed6048"/><use href="#g299" stroke="#ed6048"/><use href="#g305" stroke="#ed6048"/><use href="#g311" stroke="#ed6048"/><use href="#g317" stroke="#f17c63"/><use href="#g323" stroke="#f17c63"/><use href="#g329" stroke="#f0735a"/><use href="#g335" stroke="#ed6048"/><use href="#g341" stroke="#f17e65"/><use href="#g347" stroke="#f17e65"/><use href="#g353" stroke="#f17e65"/><use href="#g359" stroke="#ee6a51"/><use href="#g365" stroke="#f17e65"/><use href="#g371" stroke="#f17e65"/><use href="#g377" stroke="#f17e65"/><use href="#g383" stroke="#ef6c53"/><use href="#g389" stroke="#ef6d54"/><use href="#g395" stroke="#e83a2a"/><use href="#g401" stroke="#ec5b43"/><use href="#g407" stroke="#ec5a42"/><use href="#g413" stroke="#e62d23"/></g></g><g transform="matrix(0.5344 0 0 0.4675 1359.55 880.44)"><g filter="url(#bl)" stroke-linejoin="round" stroke-width="9"><use href="#pCT4" fill="#f7b3a2" stroke="#f7b3a2"/><use href="#pCT1" fill="#f8d8d0" stroke="#f8d8d0"/><use href="#pST" fill="#f9c3b5" stroke="#f9c3b5"/><use href="#pCT2" fill="#f3e0db" stroke="#f3e0db"/><use href="#pCT3" fill="#f7d9d1" stroke="#f7d9d1"/><use href="#pEVT3" fill="#f8beaf" stroke="#f8beaf"/><use href="#pEVT1" fill="#f9c6b9" stroke="#f9c6b9"/><use href="#pEVT2" fill="#f9ccc0" stroke="#f9ccc0"/><use href="#pBLK" fill="#f59b86" stroke="#f59b86" stroke-width="3"/></g><g fill="none" stroke-linecap="round" stroke-width="2.3"><use href="#g0" stroke="#eceae9"/><use href="#g6" stroke="#ebebeb"/><use href="#g12" stroke="#f6a490"/><use href="#g18" stroke="#facfc4"/><use href="#g24" stroke="#f8b8a8"/><use href="#g30" stroke="#f9cbbf"/><use href="#g36" stroke="#eceae9"/><use href="#g42" stroke="#f9c4b6"/><use href="#g48" stroke="#f8b9aa"/><use href="#g54" stroke="#f8b9aa"/><use href="#g60" stroke="#f8b9aa"/><use href="#g66" stroke="#f8b9aa"/><use href="#g72" stroke="#f8b9aa"/><use href="#g78" stroke="#f8b9aa"/><use href="#g84" stroke="#fad3c8"/><use href="#g90" stroke="#f8d7ce"/><use href="#g96" stroke="#fad1c6"/><use href="#g102" stroke="#f9d6cc"/><use href="#g108" stroke="#f5ddd7"/><use href="#g114" stroke="#f9d6cd"/><use href="#g120" stroke="#f6dbd5"/><use href="#g126" stroke="#f1e3df"/><use href="#g132" stroke="#efe6e4"/><use href="#g138" stroke="#f6dbd4"/><use href="#g144" stroke="#f3e0db"/><use href="#g150" stroke="#efe5e3"/><use href="#g156" stroke="#f2e2de"/><use href="#g162" stroke="#f2e2de"/><use href="#g168" stroke="#f2e2de"/><use href="#g174" stroke="#f2e2de"/><use href="#g180" stroke="#f2e2de"/><use href="#g186" stroke="#f2e2de"/><use href="#g192" stroke="#f2e2de"/><use href="#g198" stroke="#f2e2de"/><use href="#g204" stroke="#f2e2de"/><use href="#g210" stroke="#f2e2de"/><use href="#g216" stroke="#f2e2de"/><use href="#g222" stroke="#f6dbd5"/><use href="#g228" stroke="#f5dcd6"/><use href="#g234" stroke="#fad5cb"/><use href="#g240" stroke="#f9d5cc"/><use href="#g246" stroke="#f9c8bb"/><use href="#g252" stroke="#f9c9bd"/><use href="#g258" stroke="#f8beaf"/><use href="#g264" stroke="#f8beb0"/><use href="#g270" stroke="#f8b8a8"/><use href="#g276" stroke="#f9c4b7"/><use href="#g282" stroke="#f9ccc1"/><use href="#g288" stroke="#f9ccc1"/><use href="#g294" stroke="#f9ccc1"/><use href="#g300" stroke="#f9ccc1"/><use href="#g306" stroke="#f9ccc1"/><use href="#g312" stroke="#f9ccc1"/><use href="#g318" stroke="#f9ccc1"/><use href="#g324" stroke="#f9ccc1"/><use href="#g330" stroke="#f9ccc1"/><use href="#g336" stroke="#f9ccc1"/><use href="#g342" stroke="#f9ccc1"/><use href="#g348" stroke="#f9ccc1"/><use href="#g354" stroke="#f9ccc1"/><use href="#g360" stroke="#f9ccc1"/><use href="#g366" stroke="#f9ccc1"/><use href="#g372" stroke="#f9ccc1"/><use href="#g378" stroke="#f9ccc1"/><use href="#g384" stroke="#fad2c7"/><use href="#g390" stroke="#f59e89"/><use href="#g396" stroke="#f9d6cd"/><use href="#g402" stroke="#f6a18c"/><use href="#g408" stroke="#f38a72"/><use href="#g1" stroke="#ede8e7"/><use href="#g7" stroke="#ebebeb"/><use href="#g13" stroke="#f38a72"/><use href="#g19" stroke="#f6aa97"/><use href="#g25" stroke="#f49883"/><use href="#g31" stroke="#f6a895"/><use href="#g37" stroke="#eee7e5"/><use href="#g43" stroke="#f6a794"/><use href="#g49" stroke="#f5a18c"/><use href="#g55" stroke="#f5a18c"/><use href="#g61" stroke="#f5a18c"/><use href="#g67" stroke="#f5a18c"/><use href="#g73" stroke="#f5a18c"/><use href="#g79" stroke="#f5a18c"/><use href="#g85" stroke="#f8bdaf"/><use href="#g91" stroke="#f9c3b5"/><use href="#g97" stroke="#f8bbab"/><use href="#g103" stroke="#f8c1b3"/><use href="#g109" stroke="#f9cdc1"/><use href="#g115" stroke="#f8c2b4"/><use href="#g121" stroke="#f9cabe"/><use href="#g127" stroke="#fad5cb"/><use href="#g133" stroke="#f7d9d1"/><use href="#g139" stroke="#f9c7ba"/><use href="#g145" stroke="#fad0c5"/><use href="#g151" stroke="#f8d8d0"/><use href="#g157" stroke="#f7d9d2"/><use href="#g163" stroke="#f7d9d2"/><use href="#g169" stroke="#f7d9d2"/><use href="#g175" stroke="#f7d9d2"/><use href="#g181" stroke="#f7d9d2"/><use href="#g187" stroke="#f7d9d2"/><use href="#g193" stroke="#f7d9d2"/><use href="#g199" stroke="#f7d9d2"/><use href="#g205" stroke="#f7d9d2"/><use href="#g211" stroke="#f7d9d2"/><use href="#g217" stroke="#f7d9d2"/><use href="#g223" stroke="#facec3"/><use href="#g229" stroke="#facec3"/><use href="#g235" stroke="#f8baaa"/><use href="#g241" stroke="#f8bcad"/><use href="#g247" stroke="#f7af9d"/><use href="#g253" stroke="#f7b09f"/><use href="#g259" stroke="#f6a490"/><use href="#g265" stroke="#f6a490"/><use href="#g271" stroke="#f59d88"/><use href="#g277" stroke="#f6aa97"/><use href="#g283" stroke="#f7b3a2"/><use href="#g289" stroke="#f7b3a2"/><use href="#g295" stroke="#f7b3a2"/><use href="#g301" stroke="#f7b3a2"/><use href="#g307" stroke="#f7b3a2"/><use href="#g313" stroke="#f7b3a2"/><use href="#g319" stroke="#f7b3a2"/><use href="#g325" stroke="#f7b3a2"/><use href="#g331" stroke="#f7b3a2"/><use href="#g337" stroke="#f7b3a2"/><use href="#g343" stroke="#f7b3a2"/><use href="#g349" stroke="#f7b3a2"/><use href="#g355" stroke="#f7b3a2"/><use href="#g361" stroke="#f7b3a2"/><use href="#g367" stroke="#f7b3a2"/><use href="#g373" stroke="#f7b3a2"/><use href="#g379" stroke="#f7b3a2"/><use href="#g385" stroke="#f8baaa"/><use href="#g391" stroke="#f17f67"/><use href="#g397" stroke="#f7b4a3"/><use href="#g403" stroke="#f28972"/><use href="#g409" stroke="#ef6d54"/><use href="#g2" stroke="#f9c9bd"/><use href="#g8" stroke="#ebebeb"/><use href="#g14" stroke="#ee6a52"/><use href="#g20" stroke="#f2876f"/><use href="#g26" stroke="#f0775e"/><use href="#g32" stroke="#f2836b"/><use href="#g38" stroke="#f9c6b9"/><use href="#g44" stroke="#f4927c"/><use href="#g50" stroke="#f2876f"/><use href="#g56" stroke="#f2876f"/><use href="#g62" stroke="#f2876f"/><use href="#g68" stroke="#f2876f"/><use href="#g74" stroke="#f2876f"/><use href="#g80" stroke="#f2876f"/><use href="#g86" stroke="#f7ac99"/><use href="#g92" stroke="#f7b19f"/><use href="#g98" stroke="#f6a995"/><use href="#g104" stroke="#f7af9d"/><use href="#g110" stroke="#f8baaa"/><use href="#g116" stroke="#f7af9d"/><use href="#g122" stroke="#f8b7a7"/><use href="#g128" stroke="#f9c3b6"/><use href="#g134" stroke="#f9c9bd"/><use href="#g140" stroke="#f7b5a5"/><use href="#g146" stroke="#f8bfb0"/><use href="#g152" stroke="#f9c7ba"/><use href="#g158" stroke="#f9cabe"/><use href="#g164" stroke="#f9cabe"/><use href="#g170" stroke="#f9cabe"/><use href="#g176" stroke="#f9cabe"/><use href="#g182" stroke="#f9cabe"/><use href="#g188" stroke="#f9cabe"/><use href="#g194" stroke="#f9cabe"/><use href="#g200" stroke="#f9cabe"/><use href="#g206" stroke="#f9cabe"/><use href="#g212" stroke="#f9cabe"/><use href="#g218" stroke="#f9cabe"/><use href="#g224" stroke="#f8bcad"/><use href="#g230" stroke="#f8b9aa"/><use href="#g236" stroke="#f59f8a"/><use href="#g242" stroke="#f59e89"/><use href="#g248" stroke="#f4937c"/><use href="#g254" stroke="#f4947d"/><use href="#g260" stroke="#f38a72"/><use href="#g266" stroke="#f38a73"/><use href="#g272" stroke="#f2846c"/><use href="#g278" stroke="#f38c74"/><use href="#g284" stroke="#f5a18c"/><use href="#g290" stroke="#f5a18c"/><use href="#g296" stroke="#f5a18c"/><use href="#g302" stroke="#f5a18c"/><use href="#g308" stroke="#f5a18c"/><use href="#g314" stroke="#f5a18c"/><use href="#g320" stroke="#f5a18c"/><use href="#g326" stroke="#f5a18c"/><use href="#g332" stroke="#f5a18c"/><use href="#g338" stroke="#f5a18c"/><use href="#g344" stroke="#f5a18c"/><use href="#g350" stroke="#f5a18c"/><use href="#g356" stroke="#f5a18c"/><use href="#g362" stroke="#f5a18c"/><use href="#g368" stroke="#f5a18c"/><use href="#g374" stroke="#f5a18c"/><use href="#g380" stroke="#f5a18c"/><use href="#g386" stroke="#f6a793"/><use href="#g392" stroke="#ee644c"/><use href="#g398" stroke="#f38d76"/><use href="#g404" stroke="#ef7158"/><use href="#g410" stroke="#ec5941"/><use href="#g3" stroke="#f6a490"/><use href="#g9" stroke="#ebebeb"/><use href="#g15" stroke="#eb523c"/><use href="#g21" stroke="#ef7158"/><use href="#g27" stroke="#ed6149"/><use href="#g33" stroke="#ef6b53"/><use href="#g39" stroke="#f49782"/><use href="#g45" stroke="#f2846c"/><use href="#g51" stroke="#f0755d"/><use href="#g57" stroke="#f0755d"/><use href="#g63" stroke="#f0755d"/><use href="#g69" stroke="#f0755d"/><use href="#g75" stroke="#f0755d"/><use href="#g81" stroke="#f0755d"/><use href="#g87" stroke="#f59f8a"/><use href="#g93" stroke="#f6a794"/><use href="#g99" stroke="#f59d88"/><use href="#g105" stroke="#f6a28e"/><use href="#g111" stroke="#f7ae9b"/><use href="#g117" stroke="#f6a28e"/><use href="#g123" stroke="#f6ab98"/><use href="#g129" stroke="#f8b7a7"/><use href="#g135" stroke="#f8bdae"/><use href="#g141" stroke="#f6aa97"/><use href="#g147" stroke="#f7b3a2"/><use href="#g153" stroke="#f8baab"/><use href="#g159" stroke="#f8beaf"/><use href="#g165" stroke="#f8beaf"/><use href="#g171" stroke="#f8beaf"/><use href="#g177" stroke="#f8beaf"/><use href="#g183" stroke="#f8beaf"/><use href="#g189" stroke="#f8beaf"/><use href="#g195" stroke="#f8beaf"/><use href="#g201" stroke="#f8beaf"/><use href="#g207" stroke="#f8beaf"/><use href="#g213" stroke="#f8beaf"/><use href="#g219" stroke="#f8beaf"/><use href="#g225" stroke="#f7b09e"/><use href="#g231" stroke="#f6ab98"/><use href="#g237" stroke="#f38a73"/><use href="#g243" stroke="#f38c75"/><use href="#g249" stroke="#f2836b"/><use href="#g255" stroke="#f2826a"/><use href="#g261" stroke="#f07960"/><use href="#g267" stroke="#f0785f"/><use href="#g273" stroke="#f0745b"/><use href="#g279" stroke="#f0785f"/><use href="#g285" stroke="#f49680"/><use href="#g291" stroke="#f49680"/><use href="#g297" stroke="#f49680"/><use href="#g303" stroke="#f49680"/><use href="#g309" stroke="#f49680"/><use href="#g315" stroke="#f49680"/><use href="#g321" stroke="#f49680"/><use href="#g327" stroke="#f49680"/><use href="#g333" stroke="#f49680"/><use href="#g339" stroke="#f49680"/><use href="#g345" stroke="#f49680"/><use href="#g351" stroke="#f49680"/><use href="#g357" stroke="#f49680"/><use href="#g363" stroke="#f49680"/><use href="#g369" stroke="#f49680"/><use href="#g375" stroke="#f49680"/><use href="#g381" stroke="#f49680"/><use href="#g387" stroke="#f59c87"/><use href="#g393" stroke="#eb513b"/><use href="#g399" stroke="#f0745c"/><use href="#g405" stroke="#ed6249"/><use href="#g411" stroke="#ea4a36"/><use href="#g4" stroke="#f2876f"/><use href="#g10" stroke="#eee8e6"/><use href="#g16" stroke="#e94230"/><use href="#g22" stroke="#ed6149"/><use href="#g28" stroke="#eb523c"/><use href="#g34" stroke="#ed5d45"/><use href="#g40" stroke="#f07259"/><use href="#g46" stroke="#f17c63"/><use href="#g52" stroke="#ef6b53"/><use href="#g58" stroke="#ef6b53"/><use href="#g64" stroke="#ef6b53"/><use href="#g70" stroke="#ef6b53"/><use href="#g76" stroke="#ef6b53"/><use href="#g82" stroke="#ef6b53"/><use href="#g88" stroke="#f49781"/><use href="#g94" stroke="#f49883"/><use href="#g100" stroke="#f4947e"/><use href="#g106" stroke="#f59984"/><use href="#g112" stroke="#f6a490"/><use href="#g118" stroke="#f49983"/><use href="#g124" stroke="#f6a18d"/><use href="#g130" stroke="#f7ac99"/><use href="#g136" stroke="#f7b1a0"/><use href="#g142" stroke="#f5a08c"/><use href="#g148" stroke="#f6a591"/><use href="#g154" stroke="#f7ae9c"/><use href="#g160" stroke="#f7b1a0"/><use href="#g166" stroke="#f7b1a0"/><use href="#g172" stroke="#f7b1a0"/><use href="#g178" stroke="#f7b1a0"/><use href="#g184" stroke="#f7b1a0"/><use href="#g190" stroke="#f7b1a0"/><use href="#g196" stroke="#f7b1a0"/><use href="#g202" stroke="#f7b1a0"/><use href="#g208" stroke="#f7b1a0"/><use href="#g214" stroke="#f7b1a0"/><use href="#g220" stroke="#f7b1a0"/><use href="#g226" stroke="#f6a490"/><use href="#g232" stroke="#f6a28e"/><use href="#g238" stroke="#f2826a"/><use href="#g244" stroke="#f2826a"/><use href="#g250" stroke="#f0785f"/><use href="#g256" stroke="#f0785f"/><use href="#g262" stroke="#ef7158"/><use href="#g268" stroke="#ef6f57"/><use href="#g274" stroke="#ef6b52"/><use href="#g280" stroke="#ef6d54"/><use href="#g286" stroke="#f38a72"/><use href="#g292" stroke="#f38a72"/><use href="#g298" stroke="#f38a72"/><use href="#g304" stroke="#f38a72"/><use href="#g310" stroke="#f38a72"/><use href="#g316" stroke="#f38a72"/><use href="#g322" stroke="#f38a72"/><use href="#g328" stroke="#f38a72"/><use href="#g334" stroke="#f38a72"/><use href="#g340" stroke="#f38a72"/><use href="#g346" stroke="#f38a72"/><use href="#g352" stroke="#f38a72"/><use href="#g358" stroke="#f38a72"/><use href="#g364" stroke="#f38a72"/><use href="#g370" stroke="#f38a72"/><use href="#g376" stroke="#f38a72"/><use href="#g382" stroke="#f38a72"/><use href="#g388" stroke="#f38f78"/><use href="#g394" stroke="#ea4432"/><use href="#g400" stroke="#ee664e"/><use href="#g406" stroke="#ec5840"/><use href="#g412" stroke="#e9402f"/><use href="#g5" stroke="#f0735a"/><use href="#g11" stroke="#f7dad2"/><use href="#g17" stroke="#e83829"/><use href="#g23" stroke="#ed5c44"/><use href="#g29" stroke="#ea4733"/><use href="#g35" stroke="#eb523c"/><use href="#g41" stroke="#ec5941"/><use href="#g47" stroke="#f0765d"/><use href="#g53" stroke="#ee644c"/><use href="#g59" stroke="#ee644c"/><use href="#g65" stroke="#ee644c"/><use href="#g71" stroke="#ee644c"/><use href="#g77" stroke="#ee644c"/><use href="#g83" stroke="#ee644c"/><use href="#g89" stroke="#f2856d"/><use href="#g95" stroke="#f2876f"/><use href="#g101" stroke="#f28269"/><use href="#g107" stroke="#f28770"/><use href="#g113" stroke="#f4917b"/><use href="#g119" stroke="#f2876f"/><use href="#g125" stroke="#f39079"/><use href="#g131" stroke="#f49883"/><use href="#g137" stroke="#f59e89"/><use href="#g143" stroke="#f38f78"/><use href="#g149" stroke="#f4947e"/><use href="#g155" stroke="#f59c86"/><use href="#g161" stroke="#f59a85"/><use href="#g167" stroke="#f59a85"/><use href="#g173" stroke="#f59a85"/><use href="#g179" stroke="#f59a85"/><use href="#g185" stroke="#f59a85"/><use href="#g191" stroke="#f59a85"/><use href="#g197" stroke="#f59a85"/><use href="#g203" stroke="#f59a85"/><use href="#g209" stroke="#f59a85"/><use href="#g215" stroke="#f59a85"/><use href="#g221" stroke="#f59a85"/><use href="#g227" stroke="#f39079"/><use href="#g233" stroke="#f59d88"/><use href="#g239" stroke="#f07960"/><use href="#g245" stroke="#f17a61"/><use href="#g251" stroke="#ef7058"/><use href="#g257" stroke="#ef7058"/><use href="#g263" stroke="#ee684f"/><use href="#g269" stroke="#ee6850"/><use href="#g275" stroke="#ee644c"/><use href="#g281" stroke="#ee654c"/><use href="#g287" stroke="#ef6d54"/><use href="#g293" stroke="#ef6d54"/><use href="#g299" stroke="#ef6d54"/><use href="#g305" stroke="#ef6d54"/><use href="#g311" stroke="#ef6d54"/><use href="#g317" stroke="#ef6d54"/><use href="#g323" stroke="#ef6d54"/><use href="#g329" stroke="#ef6d54"/><use href="#g335" stroke="#ef6d54"/><use href="#g341" stroke="#ef6d54"/><use href="#g347" stroke="#ef6d54"/><use href="#g353" stroke="#ef6d54"/><use href="#g359" stroke="#ef6d54"/><use href="#g365" stroke="#ef6d54"/><use href="#g371" stroke="#ef6d54"/><use href="#g377" stroke="#ef6d54"/><use href="#g383" stroke="#ef6d54"/><use href="#g389" stroke="#ef7158"/><use href="#g395" stroke="#e83b2b"/><use href="#g401" stroke="#ed5c44"/><use href="#g407" stroke="#eb503a"/><use href="#g413" stroke="#e83a2a"/></g></g><g transform="translate(0.0 0.0)"><use href="#tb" fill="#dcdcde" opacity="0.4" filter="url(#bl)"/><g transform="scale(0.5)" fill="none" stroke-linecap="round" stroke-width="1.25"><use href="#t4" stroke="#d9d9db"/><use href="#t12" stroke="#d9d9db"/><use href="#t20" stroke="#d9d9db"/><use href="#t28" stroke="#d9d9db"/><use href="#t32" stroke="#d9d9db"/><use href="#t36" stroke="#d9d9db"/><use href="#t37" stroke="#d9d9db"/><use href="#t40" stroke="#d9d9db"/><use href="#t44" stroke="#d9d9db"/><use href="#t45" stroke="#d9d9db"/><use href="#t48" stroke="#d9d9db"/><use href="#t49" stroke="#d9d9db"/><use href="#t52" stroke="#d9d9db"/><use href="#t53" stroke="#d9d9db"/><use href="#t56" stroke="#d9d9db"/><use href="#t57" stroke="#d9d9db"/><use href="#t60" stroke="#d9d9db"/><use href="#t61" stroke="#d9d9db"/><use href="#t62" stroke="#d9d9db"/><use href="#t64" stroke="#d9d9db"/><use href="#t65" stroke="#d9d9db"/><use href="#t66" stroke="#d9d9db"/><use href="#t67" stroke="#d9d9db"/><use href="#t68" stroke="#d9d9db"/><use href="#t69" stroke="#d9d9db"/><use href="#t70" stroke="#d9d9db"/><use href="#t71" stroke="#d9d9db"/><use href="#t72" stroke="#d9d9db"/><use href="#t73" stroke="#d9d9db"/><use href="#t74" stroke="#d9d9db"/><use href="#t75" stroke="#d9d9db"/><use href="#t76" stroke="#d9d9db"/><use href="#t77" stroke="#d9d9db"/><use href="#t78" stroke="#d9d9db"/><use href="#t79" stroke="#d9d9db"/><use href="#t80" stroke="#d9d9db"/><use href="#t81" stroke="#d9d9db"/><use href="#t82" stroke="#d9d9db"/><use href="#t83" stroke="#d9d9db"/><use href="#t84" stroke="#d9d9db"/><use href="#t85" stroke="#d9d9db"/><use href="#t86" stroke="#d9d9db"/><use href="#t87" stroke="#d9d9db"/><use href="#t88" stroke="#d9d9db"/><use href="#t89" stroke="#d9d9db"/><use href="#t90" stroke="#d9d9db"/><use href="#t91" stroke="#d9d9db"/><use href="#t92" stroke="#d9d9db"/><use href="#t93" stroke="#d9d9db"/><use href="#t94" stroke="#d9d9db"/><use href="#t95" stroke="#d9d9db"/><use href="#t96" stroke="#d9d9db"/><use href="#t97" stroke="#d9d9db"/><use href="#t98" stroke="#d9d9db"/><use href="#t99" stroke="#d9d9db"/><use href="#t100" stroke="#d9d9db"/><use href="#t101" stroke="#d9d9db"/><use href="#t102" stroke="#d9d9db"/><use href="#t103" stroke="#d9d9db"/><use href="#t104" stroke="#d9d9db"/><use href="#t105" stroke="#d9d9db"/><use href="#t106" stroke="#d9d9db"/><use href="#t107" stroke="#d9d9db"/><use href="#t108" stroke="#d9d9db"/><use href="#t109" stroke="#d9d9db"/><use href="#t110" stroke="#d9d9db"/><use href="#t111" stroke="#d9d9db"/><use href="#t112" stroke="#d9d9db"/><use href="#t113" stroke="#d9d9db"/><use href="#t114" stroke="#d9d9db"/><use href="#t115" stroke="#d9d9db"/><use href="#t116" stroke="#d9d9db"/><use href="#t117" stroke="#d9d9db"/><use href="#t118" stroke="#d9d9db"/><use href="#t119" stroke="#d9d9db"/><use href="#t120" stroke="#d9d9db"/><use href="#t121" stroke="#d9d9db"/><use href="#t122" stroke="#d9d9db"/><use href="#t123" stroke="#d9d9db"/><use href="#t124" stroke="#d9d9db"/><use href="#t125" stroke="#d9d9db"/><use href="#t126" stroke="#d9d9db"/><use href="#t127" stroke="#d9d9db"/><use href="#t128" stroke="#d9d9db"/><use href="#t129" stroke="#d9d9db"/><use href="#t130" stroke="#d9d9db"/><use href="#t131" stroke="#d9d9db"/><use href="#t132" stroke="#d9d9db"/><use href="#t133" stroke="#d9d9db"/><use href="#t134" stroke="#d9d9db"/><use href="#t135" stroke="#d9d9db"/><use href="#t136" stroke="#d9d9db"/><use href="#t137" stroke="#d9d9db"/><use href="#t138" stroke="#d9d9db"/><use href="#t139" stroke="#d9d9db"/><use href="#t140" stroke="#d9d9db"/><use href="#t141" stroke="#d9d9db"/><use href="#t142" stroke="#d9d9db"/><use href="#t143" stroke="#d9d9db"/><use href="#t59" stroke="#e8c9c5"/><use href="#t58" stroke="#e8c9c4"/><use href="#t63" stroke="#e8c6c0"/><use href="#t50" stroke="#e7bcb5"/><use href="#t54" stroke="#e7bab3"/><use href="#t51" stroke="#e7b8b0"/><use href="#t55" stroke="#e7b7b0"/><use href="#t41" stroke="#e7b2aa"/><use href="#t46" stroke="#e6aca3"/><use href="#t42" stroke="#e6aba2"/><use href="#t43" stroke="#e6a79d"/><use href="#t47" stroke="#e6a59b"/><use href="#t33" stroke="#e48c81"/><use href="#t38" stroke="#e38378"/><use href="#t24" stroke="#e28075"/><use href="#t34" stroke="#e27e73"/><use href="#t35" stroke="#e27c71"/><use href="#t39" stroke="#e07065"/><use href="#t25" stroke="#de6056"/><use href="#t29" stroke="#de5f55"/><use href="#t16" stroke="#dc574f"/><use href="#t26" stroke="#da4e46"/><use href="#t30" stroke="#d94b44"/><use href="#t31" stroke="#d53d38"/><use href="#t0" stroke="#d33330"/><use href="#t8" stroke="#d33330"/><use href="#t27" stroke="#d2302d"/><use href="#t17" stroke="#d02927"/><use href="#t21" stroke="#d02726"/><use href="#t22" stroke="#cb191d"/><use href="#t18" stroke="#ca181d"/><use href="#t1" stroke="#c7181d"/><use href="#t5" stroke="#c7181d"/><use href="#t9" stroke="#c7181d"/><use href="#t13" stroke="#c7181d"/><use href="#t19" stroke="#c6181d"/><use href="#t23" stroke="#c6181d"/><use href="#t2" stroke="#be191c"/><use href="#t6" stroke="#be191c"/><use href="#t10" stroke="#be191c"/><use href="#t14" stroke="#be191c"/><use href="#t3" stroke="#b9191c"/><use href="#t7" stroke="#b9191c"/><use href="#t11" stroke="#b9191c"/><use href="#t15" stroke="#b9191c"/></g><use href="#tc" fill="none" stroke="#222" stroke-width="0.8"/></g><g transform="translate(519.6 -7.2)"><use href="#tb" fill="#dcdcde" opacity="0.4" filter="url(#bl)"/><g transform="scale(0.5)" fill="none" stroke-linecap="round" stroke-width="1.25"><use href="#t0" stroke="#d9d9db"/><use href="#t1" stroke="#d9d9db"/><use href="#t2" stroke="#d9d9db"/><use href="#t4" stroke="#d9d9db"/><use href="#t5" stroke="#d9d9db"/><use href="#t6" stroke="#d9d9db"/><use href="#t8" stroke="#d9d9db"/><use href="#t9" stroke="#d9d9db"/><use href="#t10" stroke="#d9d9db"/><use href="#t12" stroke="#d9d9db"/><use href="#t13" stroke="#d9d9db"/><use href="#t14" stroke="#d9d9db"/><use href="#t16" stroke="#d9d9db"/><use href="#t20" stroke="#d9d9db"/><use href="#t21" stroke="#d9d9db"/><use href="#t24" stroke="#d9d9db"/><use href="#t28" stroke="#d9d9db"/><use href="#t29" stroke="#d9d9db"/><use href="#t32" stroke="#d9d9db"/><use href="#t36" stroke="#d9d9db"/><use href="#t37" stroke="#d9d9db"/><use href="#t40" stroke="#d9d9db"/><use href="#t44" stroke="#d9d9db"/><use href="#t45" stroke="#d9d9db"/><use href="#t48" stroke="#d9d9db"/><use href="#t52" stroke="#d9d9db"/><use href="#t53" stroke="#d9d9db"/><use href="#t56" stroke="#d9d9db"/><use href="#t60" stroke="#d9d9db"/><use href="#t61" stroke="#d9d9db"/><use href="#t64" stroke="#d9d9db"/><use href="#t68" stroke="#d9d9db"/><use href="#t69" stroke="#d9d9db"/><use href="#t72" stroke="#d9d9db"/><use href="#t76" stroke="#d9d9db"/><use href="#t77" stroke="#d9d9db"/><use href="#t80" stroke="#d9d9db"/><use href="#t84" stroke="#d9d9db"/><use href="#t85" stroke="#d9d9db"/><use href="#t88" stroke="#d9d9db"/><use href="#t92" stroke="#d9d9db"/><use href="#t93" stroke="#d9d9db"/><use href="#t96" stroke="#d9d9db"/><use href="#t100" stroke="#d9d9db"/><use href="#t101" stroke="#d9d9db"/><use href="#t102" stroke="#d9d9db"/><use href="#t104" stroke="#d9d9db"/><use href="#t105" stroke="#d9d9db"/><use href="#t108" stroke="#d9d9db"/><use href="#t109" stroke="#d9d9db"/><use href="#t110" stroke="#d9d9db"/><use href="#t112" stroke="#d9d9db"/><use href="#t113" stroke="#d9d9db"/><use href="#t114" stroke="#d9d9db"/><use href="#t116" stroke="#d9d9db"/><use href="#t117" stroke="#d9d9db"/><use href="#t118" stroke="#d9d9db"/><use href="#t120" stroke="#d9d9db"/><use href="#t121" stroke="#d9d9db"/><use href="#t122" stroke="#d9d9db"/><use href="#t124" stroke="#d9d9db"/><use href="#t125" stroke="#d9d9db"/><use href="#t126" stroke="#d9d9db"/><use href="#t127" stroke="#d9d9db"/><use href="#t128" stroke="#d9d9db"/><use href="#t129" stroke="#d9d9db"/><use href="#t130" stroke="#d9d9db"/><use href="#t131" stroke="#d9d9db"/><use href="#t132" stroke="#d9d9db"/><use href="#t133" stroke="#d9d9db"/><use href="#t134" stroke="#d9d9db"/><use href="#t135" stroke="#d9d9db"/><use href="#t136" stroke="#d9d9db"/><use href="#t137" stroke="#d9d9db"/><use href="#t138" stroke="#d9d9db"/><use href="#t139" stroke="#d9d9db"/><use href="#t140" stroke="#d9d9db"/><use href="#t141" stroke="#d9d9db"/><use href="#t142" stroke="#d9d9db"/><use href="#t143" stroke="#d9d9db"/><use href="#t123" stroke="#e4d8d7"/><use href="#t119" stroke="#e6d2cf"/><use href="#t115" stroke="#e6d1ce"/><use href="#t3" stroke="#e8c8c3"/><use href="#t7" stroke="#e8c8c3"/><use href="#t11" stroke="#e8c8c3"/><use href="#t15" stroke="#e8c8c3"/><use href="#t106" stroke="#e7bbb4"/><use href="#t107" stroke="#e7b7af"/><use href="#t111" stroke="#e7b4ac"/><use href="#t97" stroke="#e6a398"/><use href="#t17" stroke="#e6a096"/><use href="#t98" stroke="#e5978b"/><use href="#t18" stroke="#e5978b"/><use href="#t22" stroke="#e49185"/><use href="#t23" stroke="#e48f83"/><use href="#t19" stroke="#e48e83"/><use href="#t99" stroke="#e48e82"/><use href="#t103" stroke="#e48e82"/><use href="#t25" stroke="#e48d81"/><use href="#t89" stroke="#e48c81"/><use href="#t33" stroke="#e3867a"/><use href="#t81" stroke="#e27f74"/><use href="#t41" stroke="#e27e73"/><use href="#t49" stroke="#e1786d"/><use href="#t57" stroke="#e1786d"/><use href="#t65" stroke="#e1786d"/><use href="#t73" stroke="#e1786d"/><use href="#t30" stroke="#e1766b"/><use href="#t94" stroke="#e1766b"/><use href="#t26" stroke="#e1766b"/><use href="#t90" stroke="#e1756a"/><use href="#t34" stroke="#e06e64"/><use href="#t38" stroke="#e06e63"/><use href="#t27" stroke="#e06c62"/><use href="#t91" stroke="#e06b60"/><use href="#t31" stroke="#df6a60"/><use href="#t82" stroke="#df695e"/><use href="#t95" stroke="#df695e"/><use href="#t86" stroke="#df685d"/><use href="#t42" stroke="#df655b"/><use href="#t46" stroke="#df655b"/><use href="#t39" stroke="#df6359"/><use href="#t35" stroke="#de6157"/><use href="#t50" stroke="#de5f55"/><use href="#t54" stroke="#de5f55"/><use href="#t58" stroke="#de5f55"/><use href="#t62" stroke="#de5f55"/><use href="#t66" stroke="#de5f55"/><use href="#t70" stroke="#de5f55"/><use href="#t74" stroke="#de5f55"/><use href="#t78" stroke="#de5f55"/><use href="#t83" stroke="#dd5d53"/><use href="#t87" stroke="#dd5b51"/><use href="#t47" stroke="#dc584f"/><use href="#t43" stroke="#dc574f"/><use href="#t51" stroke="#da4e47"/><use href="#t55" stroke="#da4e47"/><use href="#t59" stroke="#da4e47"/><use href="#t63" stroke="#da4e47"/><use href="#t67" stroke="#da4e47"/><use href="#t71" stroke="#da4e47"/><use href="#t75" stroke="#da4e47"/><use href="#t79" stroke="#da4e47"/></g><use href="#tc" fill="none" stroke="#222" stroke-width="0.8"/></g><g transform="translate(-11.9 367.0)"><use href="#tb" fill="#dcdcde" opacity="0.4" filter="url(#bl)"/><g transform="scale(0.5)" fill="none" stroke-linecap="round" stroke-width="1.25"><use href="#t0" stroke="#d9d9db"/><use href="#t1" stroke="#d9d9db"/><use href="#t2" stroke="#d9d9db"/><use href="#t3" stroke="#d9d9db"/><use href="#t4" stroke="#d9d9db"/><use href="#t5" stroke="#d9d9db"/><use href="#t6" stroke="#d9d9db"/><use href="#t7" stroke="#d9d9db"/><use href="#t8" stroke="#d9d9db"/><use href="#t9" stroke="#d9d9db"/><use href="#t10" stroke="#d9d9db"/><use href="#t11" stroke="#d9d9db"/><use href="#t12" stroke="#d9d9db"/><use href="#t13" stroke="#d9d9db"/><use href="#t14" stroke="#d9d9db"/><use href="#t15" stroke="#d9d9db"/><use href="#t16" stroke="#d9d9db"/><use href="#t17" stroke="#d9d9db"/><use href="#t18" stroke="#d9d9db"/><use href="#t19" stroke="#d9d9db"/><use href="#t20" stroke="#d9d9db"/><use href="#t21" stroke="#d9d9db"/><use href="#t22" stroke="#d9d9db"/><use href="#t23" stroke="#d9d9db"/><use href="#t24" stroke="#d9d9db"/><use href="#t25" stroke="#d9d9db"/><use href="#t26" stroke="#d9d9db"/><use href="#t27" stroke="#d9d9db"/><use href="#t28" stroke="#d9d9db"/><use href="#t29" stroke="#d9d9db"/><use href="#t30" stroke="#d9d9db"/><use href="#t32" stroke="#d9d9db"/><use href="#t33" stroke="#d9d9db"/><use href="#t34" stroke="#d9d9db"/><use href="#t35" stroke="#d9d9db"/><use href="#t36" stroke="#d9d9db"/><use href="#t37" stroke="#d9d9db"/><use href="#t38" stroke="#d9d9db"/><use href="#t40" stroke="#d9d9db"/><use href="#t41" stroke="#d9d9db"/><use href="#t42" stroke="#d9d9db"/><use href="#t43" stroke="#d9d9db"/><use href="#t44" stroke="#d9d9db"/><use href="#t45" stroke="#d9d9db"/><use href="#t46" stroke="#d9d9db"/><use href="#t48" stroke="#d9d9db"/><use href="#t49" stroke="#d9d9db"/><use href="#t50" stroke="#d9d9db"/><use href="#t51" stroke="#d9d9db"/><use href="#t52" stroke="#d9d9db"/><use href="#t53" stroke="#d9d9db"/><use href="#t54" stroke="#d9d9db"/><use href="#t56" stroke="#d9d9db"/><use href="#t57" stroke="#d9d9db"/><use href="#t58" stroke="#d9d9db"/><use href="#t59" stroke="#d9d9db"/><use href="#t60" stroke="#d9d9db"/><use href="#t61" stroke="#d9d9db"/><use href="#t62" stroke="#d9d9db"/><use href="#t64" stroke="#d9d9db"/><use href="#t65" stroke="#d9d9db"/><use href="#t66" stroke="#d9d9db"/><use href="#t67" stroke="#d9d9db"/><use href="#t68" stroke="#d9d9db"/><use href="#t69" stroke="#d9d9db"/><use href="#t70" stroke="#d9d9db"/><use href="#t72" stroke="#d9d9db"/><use href="#t73" stroke="#d9d9db"/><use href="#t74" stroke="#d9d9db"/><use href="#t75" stroke="#d9d9db"/><use href="#t76" stroke="#d9d9db"/><use href="#t77" stroke="#d9d9db"/><use href="#t78" stroke="#d9d9db"/><use href="#t79" stroke="#d9d9db"/><use href="#t80" stroke="#d9d9db"/><use href="#t81" stroke="#d9d9db"/><use href="#t82" stroke="#d9d9db"/><use href="#t83" stroke="#d9d9db"/><use href="#t84" stroke="#d9d9db"/><use href="#t85" stroke="#d9d9db"/><use href="#t86" stroke="#d9d9db"/><use href="#t87" stroke="#d9d9db"/><use href="#t88" stroke="#d9d9db"/><use href="#t89" stroke="#d9d9db"/><use href="#t90" stroke="#d9d9db"/><use href="#t91" stroke="#d9d9db"/><use href="#t92" stroke="#d9d9db"/><use href="#t93" stroke="#d9d9db"/><use href="#t94" stroke="#d9d9db"/><use href="#t96" stroke="#d9d9db"/><use href="#t97" stroke="#d9d9db"/><use href="#t98" stroke="#d9d9db"/><use href="#t99" stroke="#d9d9db"/><use href="#t100" stroke="#d9d9db"/><use href="#t101" stroke="#d9d9db"/><use href="#t102" stroke="#d9d9db"/><use href="#t104" stroke="#d9d9db"/><use href="#t105" stroke="#d9d9db"/><use href="#t106" stroke="#d9d9db"/><use href="#t107" stroke="#d9d9db"/><use href="#t108" stroke="#d9d9db"/><use href="#t109" stroke="#d9d9db"/><use href="#t110" stroke="#d9d9db"/><use href="#t112" stroke="#d9d9db"/><use href="#t113" stroke="#d9d9db"/><use href="#t114" stroke="#d9d9db"/><use href="#t116" stroke="#d9d9db"/><use href="#t117" stroke="#d9d9db"/><use href="#t118" stroke="#d9d9db"/><use href="#t120" stroke="#d9d9db"/><use href="#t121" stroke="#d9d9db"/><use href="#t122" stroke="#d9d9db"/><use href="#t124" stroke="#d9d9db"/><use href="#t125" stroke="#d9d9db"/><use href="#t128" stroke="#d9d9db"/><use href="#t129" stroke="#d9d9db"/><use href="#t130" stroke="#d9d9db"/><use href="#t132" stroke="#d9d9db"/><use href="#t133" stroke="#d9d9db"/><use href="#t126" stroke="#d43733"/><use href="#t134" stroke="#d43733"/><use href="#t136" stroke="#d3322e"/><use href="#t140" stroke="#d3322e"/><use href="#t31" stroke="#d12c29"/><use href="#t39" stroke="#d12c29"/><use href="#t47" stroke="#d12c29"/><use href="#t55" stroke="#d12c29"/><use href="#t63" stroke="#d12c29"/><use href="#t71" stroke="#d12c29"/><use href="#t95" stroke="#d12c29"/><use href="#t103" stroke="#d12c29"/><use href="#t111" stroke="#d12c29"/><use href="#t115" stroke="#d12c29"/><use href="#t119" stroke="#d12c29"/><use href="#t123" stroke="#d12c29"/><use href="#t127" stroke="#d12c29"/><use href="#t131" stroke="#d12c29"/><use href="#t135" stroke="#d12c29"/><use href="#t137" stroke="#cc1b1f"/><use href="#t141" stroke="#cc1b1f"/><use href="#t138" stroke="#c7181d"/><use href="#t142" stroke="#c7181d"/><use href="#t139" stroke="#c4181d"/><use href="#t143" stroke="#c4181d"/></g><use href="#tc" fill="none" stroke="#222" stroke-width="0.8"/></g><text x="1.5" y="20.3" font-size="31.0" font-weight="bold">a</text><text x="1.5" y="793.6" font-size="31.0" font-weight="bold">b</text><text x="1015.7" y="19.3" font-size="31.0" font-weight="bold">c</text><text x="1.5" y="1374.2" font-size="31.0" font-weight="bold">d</text><rect x="51.40" y="55.80" width="641.50" height="641.20" fill="none" stroke="#c6c6c6" stroke-width="3.7"/><text x="720.3" y="82.3" font-size="27.6">CT</text><text x="720.3" y="134.2" font-size="27.6">ST</text><text x="720.3" y="190.3" font-size="27.6">EVT</text><text x="720.3" y="242.2" font-size="27.6">Others</text><circle cx="839.3" cy="72.5" r="12.4" fill="#e9dbe3"/><circle cx="876.1" cy="72.5" r="12.4" fill="#ad919f"/><circle cx="913.1" cy="72.5" r="12.4" fill="#e9accd"/><circle cx="948.8" cy="72.5" r="12.4" fill="#f6eef1"/><circle cx="841.4" cy="126.9" r="12.4" fill="#e8306f"/><circle cx="842.0" cy="183.4" r="12.4" fill="#9f6fb0"/><circle cx="875.7" cy="183.4" r="12.4" fill="#7a5689"/><circle cx="912.7" cy="183.4" r="12.4" fill="#b88ac0"/><circle cx="947.5" cy="183.4" r="12.4" fill="#38303b"/><circle cx="842.4" cy="235.3" r="12.4" fill="#dadada"/><rect x="65.35" y="877.40" width="405.30" height="405.10" fill="none" stroke="#c6c6c6" stroke-width="2.8"/><rect x="516.50" y="877.40" width="405.15" height="405.10" fill="none" stroke="#c6c6c6" stroke-width="2.8"/><rect x="963.65" y="877.40" width="404.90" height="405.10" fill="none" stroke="#c6c6c6" stroke-width="2.8"/><rect x="1415.60" y="877.40" width="405.20" height="405.10" fill="none" stroke="#c6c6c6" stroke-width="2.8"/><text x="285.6" y="826.2" font-size="27.5" text-anchor="middle" font-style="italic">HLA-C</text><text x="733.8" y="826.2" font-size="27.5" text-anchor="middle" font-style="italic">HLA-G</text><text x="1166.9" y="826.2" font-size="27.5" text-anchor="middle" font-style="italic">GLUT1</text><text x="1633.2" y="826.2" font-size="27.5" text-anchor="middle" font-style="italic">GATA3</text><rect x="1938.0" y="1098.30" width="28.8" height="6.05" fill="#e62620"/><rect x="1938.0" y="1104.05" width="28.8" height="6.05" fill="#e62d23"/><rect x="1938.0" y="1109.81" width="28.8" height="6.05" fill="#e83426"/><rect x="1938.0" y="1115.56" width="28.8" height="6.05" fill="#e83b2b"/><rect x="1938.0" y="1121.31" width="28.8" height="6.05" fill="#e94330"/><rect x="1938.0" y="1127.07" width="28.8" height="6.05" fill="#ea4a36"/><rect x="1938.0" y="1132.82" width="28.8" height="6.05" fill="#eb523b"/><rect x="1938.0" y="1138.57" width="28.8" height="6.05" fill="#ec5a41"/><rect x="1938.0" y="1144.33" width="28.8" height="6.05" fill="#ed6047"/><rect x="1938.0" y="1150.08" width="28.8" height="6.05" fill="#ed664d"/><rect x="1938.0" y="1155.83" width="28.8" height="6.05" fill="#ee6c52"/><rect x="1938.0" y="1161.59" width="28.8" height="6.05" fill="#ef7158"/><rect x="1938.0" y="1167.34" width="28.8" height="6.05" fill="#ef775e"/><rect x="1938.0" y="1173.09" width="28.8" height="6.05" fill="#f07d64"/><rect x="1938.0" y="1178.85" width="28.8" height="6.05" fill="#f1846c"/><rect x="1938.0" y="1184.60" width="28.8" height="6.05" fill="#f28a73"/><rect x="1938.0" y="1190.35" width="28.8" height="6.05" fill="#f2917b"/><rect x="1938.0" y="1196.11" width="28.8" height="6.05" fill="#f39882"/><rect x="1938.0" y="1201.86" width="28.8" height="6.05" fill="#f49e8a"/><rect x="1938.0" y="1207.61" width="28.8" height="6.05" fill="#f5a591"/><rect x="1938.0" y="1213.37" width="28.8" height="6.05" fill="#f6ad9b"/><rect x="1938.0" y="1219.12" width="28.8" height="6.05" fill="#f7b6a5"/><rect x="1938.0" y="1224.87" width="28.8" height="6.05" fill="#f8beaf"/><rect x="1938.0" y="1230.63" width="28.8" height="6.05" fill="#f8c6b9"/><rect x="1938.0" y="1236.38" width="28.8" height="6.05" fill="#f9cfc3"/><rect x="1938.0" y="1242.13" width="28.8" height="6.05" fill="#fad7cd"/><rect x="1938.0" y="1247.89" width="28.8" height="6.05" fill="#f6dcd4"/><rect x="1938.0" y="1253.64" width="28.8" height="6.05" fill="#f3e1dc"/><rect x="1938.0" y="1259.39" width="28.8" height="6.05" fill="#efe5e3"/><rect x="1938.0" y="1265.15" width="28.8" height="6.05" fill="#edeae9"/><text x="1977.0" y="1121.8" font-size="26.5">4</text><text x="1977.0" y="1271.5" font-size="26.5">0</text><text x="1884.4" y="1184.7" font-size="27.7" text-anchor="middle" transform="rotate(-90 1884.4 1184.7)">log normalised</text><text x="1917.9" y="1180.5" font-size="27.9" text-anchor="middle" transform="rotate(-90 1917.9 1180.5)">expression</text><text x="1218.0" y="59.6" font-size="27.5" text-anchor="middle" font-style="italic">HLA-G</text><text x="1755.0" y="52.4" font-size="27.5" text-anchor="middle" font-style="italic">MKI67</text><text x="1235.2" y="427.6" font-size="27.5" text-anchor="middle" font-style="italic">LGALS13</text><rect x="1407.8" y="102.90" width="20.2" height="11.42" fill="#801e21"/><rect x="1407.8" y="114.02" width="20.2" height="11.42" fill="#861d20"/><rect x="1407.8" y="125.14" width="20.2" height="11.42" fill="#8d1d1f"/><rect x="1407.8" y="136.26" width="20.2" height="11.42" fill="#931c1e"/><rect x="1407.8" y="147.38" width="20.2" height="11.42" fill="#9b1c1e"/><rect x="1407.8" y="158.50" width="20.2" height="11.42" fill="#a51a1d"/><rect x="1407.8" y="169.62" width="20.2" height="11.42" fill="#af1a1c"/><rect x="1407.8" y="180.74" width="20.2" height="11.42" fill="#b8191c"/><rect x="1407.8" y="191.86" width="20.2" height="11.42" fill="#c0181c"/><rect x="1407.8" y="202.98" width="20.2" height="11.42" fill="#c7181d"/><rect x="1407.8" y="214.10" width="20.2" height="11.42" fill="#ce2022"/><rect x="1407.8" y="225.22" width="20.2" height="11.42" fill="#d43733"/><rect x="1407.8" y="236.34" width="20.2" height="11.42" fill="#dc564d"/><rect x="1407.8" y="247.46" width="20.2" height="11.42" fill="#e07166"/><rect x="1407.8" y="258.58" width="20.2" height="11.42" fill="#e38a7e"/><rect x="1407.8" y="269.70" width="20.2" height="11.42" fill="#e6a095"/><rect x="1407.8" y="280.82" width="20.2" height="11.42" fill="#e7b3ab"/><rect x="1407.8" y="291.94" width="20.2" height="11.42" fill="#e8c6c1"/><rect x="1407.8" y="303.06" width="20.2" height="11.42" fill="#e5d6d4"/><rect x="1407.8" y="314.18" width="20.2" height="11.42" fill="#e3e0e1"/><path d="M1407.8 147.2h4M1428.0 147.2h-4" stroke="#fff" stroke-width="1" fill="none"/><text x="1438.0" y="155.5" font-size="23.0">7.5</text><path d="M1407.8 204.9h4M1428.0 204.9h-4" stroke="#fff" stroke-width="1" fill="none"/><text x="1438.0" y="213.2" font-size="23.0">5.0</text><path d="M1407.8 262.8h4M1428.0 262.8h-4" stroke="#fff" stroke-width="1" fill="none"/><text x="1438.0" y="271.1" font-size="23.0">2.5</text><path d="M1407.8 320.5h4M1428.0 320.5h-4" stroke="#fff" stroke-width="1" fill="none"/><text x="1438.0" y="328.8" font-size="23.0">0.0</text><text x="1510.2" y="218.2" font-size="21.8" text-anchor="middle" transform="rotate(90 1510.2 218.2)">log transformed</text><text x="1486.8" y="222.0" font-size="21.8" text-anchor="middle" transform="rotate(90 1486.8 222.0)">normalised counts</text><rect x="1929.3" y="94.90" width="20.1" height="11.46" fill="#801e21"/><rect x="1929.3" y="106.06" width="20.1" height="11.46" fill="#861d20"/><rect x="1929.3" y="117.23" width="20.1" height="11.46" fill="#8d1d1f"/><rect x="1929.3" y="128.40" width="20.1" height="11.46" fill="#931c1e"/><rect x="1929.3" y="139.56" width="20.1" height="11.46" fill="#9b1c1e"/><rect x="1929.3" y="150.72" width="20.1" height="11.46" fill="#a51a1d"/><rect x="1929.3" y="161.89" width="20.1" height="11.46" fill="#af1a1c"/><rect x="1929.3" y="173.06" width="20.1" height="11.46" fill="#b8191c"/><rect x="1929.3" y="184.22" width="20.1" height="11.46" fill="#c0181c"/><rect x="1929.3" y="195.38" width="20.1" height="11.46" fill="#c7181d"/><rect x="1929.3" y="206.55" width="20.1" height="11.46" fill="#ce2022"/><rect x="1929.3" y="217.72" width="20.1" height="11.46" fill="#d43733"/><rect x="1929.3" y="228.88" width="20.1" height="11.46" fill="#dc564d"/><rect x="1929.3" y="240.04" width="20.1" height="11.46" fill="#e07166"/><rect x="1929.3" y="251.21" width="20.1" height="11.46" fill="#e38a7e"/><rect x="1929.3" y="262.38" width="20.1" height="11.46" fill="#e6a095"/><rect x="1929.3" y="273.54" width="20.1" height="11.46" fill="#e7b3ab"/><rect x="1929.3" y="284.70" width="20.1" height="11.46" fill="#e8c6c1"/><rect x="1929.3" y="295.87" width="20.1" height="11.46" fill="#e5d6d4"/><rect x="1929.3" y="307.03" width="20.1" height="11.46" fill="#e3e0e1"/><path d="M1929.3 119.2h4M1949.4 119.2h-4" stroke="#fff" stroke-width="1" fill="none"/><text x="1960.5" y="127.5" font-size="23.0">6</text><path d="M1929.3 183.6h4M1949.4 183.6h-4" stroke="#fff" stroke-width="1" fill="none"/><text x="1960.5" y="191.9" font-size="23.0">4</text><path d="M1929.3 248.0h4M1949.4 248.0h-4" stroke="#fff" stroke-width="1" fill="none"/><text x="1960.5" y="256.3" font-size="23.0">2</text><path d="M1929.3 312.4h4M1949.4 312.4h-4" stroke="#fff" stroke-width="1" fill="none"/><text x="1960.5" y="320.7" font-size="23.0">0</text><text x="2015.8" y="213.8" font-size="21.8" text-anchor="middle" transform="rotate(90 2015.8 213.8)">log transformed</text><text x="1992.4" y="217.1" font-size="21.8" text-anchor="middle" transform="rotate(90 1992.4 217.1)">normalised counts</text><rect x="1403.8" y="460.60" width="20.2" height="11.46" fill="#801e21"/><rect x="1403.8" y="471.75" width="20.2" height="11.46" fill="#861d20"/><rect x="1403.8" y="482.91" width="20.2" height="11.46" fill="#8d1d1f"/><rect x="1403.8" y="494.07" width="20.2" height="11.46" fill="#931c1e"/><rect x="1403.8" y="505.22" width="20.2" height="11.46" fill="#9b1c1e"/><rect x="1403.8" y="516.38" width="20.2" height="11.46" fill="#a51a1d"/><rect x="1403.8" y="527.53" width="20.2" height="11.46" fill="#af1a1c"/><rect x="1403.8" y="538.69" width="20.2" height="11.46" fill="#b8191c"/><rect x="1403.8" y="549.84" width="20.2" height="11.46" fill="#c0181c"/><rect x="1403.8" y="561.00" width="20.2" height="11.46" fill="#c7181d"/><rect x="1403.8" y="572.15" width="20.2" height="11.46" fill="#ce2022"/><rect x="1403.8" y="583.31" width="20.2" height="11.46" fill="#d43733"/><rect x="1403.8" y="594.46" width="20.2" height="11.46" fill="#dc564d"/><rect x="1403.8" y="605.62" width="20.2" height="11.46" fill="#e07166"/><rect x="1403.8" y="616.77" width="20.2" height="11.46" fill="#e38a7e"/><rect x="1403.8" y="627.93" width="20.2" height="11.46" fill="#e6a095"/><rect x="1403.8" y="639.08" width="20.2" height="11.46" fill="#e7b3ab"/><rect x="1403.8" y="650.24" width="20.2" height="11.46" fill="#e8c6c1"/><rect x="1403.8" y="661.39" width="20.2" height="11.46" fill="#e5d6d4"/><rect x="1403.8" y="672.55" width="20.2" height="11.46" fill="#e3e0e1"/><path d="M1424.0 483.1h-4" stroke="#fff" stroke-width="1" fill="none"/><text x="1430.1" y="491.4" font-size="23.0">4</text><path d="M1424.0 531.7h-4" stroke="#fff" stroke-width="1" fill="none"/><text x="1430.1" y="540.0" font-size="23.0">3</text><path d="M1424.0 580.9h-4" stroke="#fff" stroke-width="1" fill="none"/><text x="1430.1" y="589.2" font-size="23.0">2</text><path d="M1424.0 629.4h-4" stroke="#fff" stroke-width="1" fill="none"/><text x="1430.1" y="637.7" font-size="23.0">1</text><path d="M1424.0 678.7h-4" stroke="#fff" stroke-width="1" fill="none"/><text x="1430.1" y="687.0" font-size="23.0">0</text><text x="1480.8" y="594.0" font-size="21.8" text-anchor="middle" transform="rotate(90 1480.8 594.0)">log transformed</text><text x="1457.8" y="597.0" font-size="21.8" text-anchor="middle" transform="rotate(90 1457.8 597.0)">normalised counts</text><rect x="103.2" y="1418.4" width="214.5" height="33.9" fill="#6a386b"/><rect x="496.8" y="1420.6" width="393" height="33.3" fill="#eba9cd"/><rect x="1068.9" y="1418.7" width="35.5" height="33.4" fill="#e60f5f"/><path d="M337 1432.4H497M889.5 1432.5H1050" stroke="#000" stroke-width="2.8" fill="none"/><path d="M318.3 1432.3L343.2 1418.8Q334.2 1432.3 343.2 1446z"/><path d="M1068.9 1432.6L1043.5 1419.1Q1052.5 1432.6 1043.5 1446.1z"/><text x="355.4" y="1409.6" font-size="26.0" fill="#6a386b" textLength="99.5" lengthAdjust="spacingAndGlyphs">EVT path</text><text x="891.0" y="1409.4" font-size="26.0" fill="#e60f5f" textLength="101.5" lengthAdjust="spacingAndGlyphs">SCT path</text><text x="1248.0" y="1442.3" font-size="27.5">z-score</text><rect x="91.6" y="1471.40" width="1023.7" height="25.70" fill="url(#h0)"/><rect x="91.6" y="1509.00" width="1023.7" height="25.70" fill="url(#h1)"/><rect x="91.6" y="1534.55" width="1023.7" height="25.70" fill="url(#h2)"/><rect x="91.6" y="1560.10" width="1023.7" height="25.70" fill="url(#h3)"/><rect x="91.6" y="1585.65" width="1023.7" height="25.70" fill="url(#h4)"/><rect x="91.6" y="1611.20" width="1023.7" height="25.70" fill="url(#h5)"/><rect x="91.6" y="1636.75" width="1023.7" height="25.70" fill="url(#h6)"/><rect x="91.6" y="1662.30" width="1023.7" height="25.70" fill="url(#h7)"/><rect x="91.6" y="1687.85" width="1023.7" height="25.70" fill="url(#h8)"/><rect x="91.6" y="1713.40" width="1023.7" height="25.70" fill="url(#h9)"/><rect x="91.6" y="1738.95" width="1023.7" height="25.70" fill="url(#h10)"/><rect x="91.6" y="1764.50" width="1023.7" height="25.70" fill="url(#h11)"/><rect x="91.6" y="1790.05" width="1023.7" height="25.70" fill="url(#h12)"/><rect x="91.6" y="1815.60" width="1023.7" height="25.70" fill="url(#h13)"/><rect x="91.6" y="1841.15" width="1023.7" height="25.70" fill="url(#h14)"/><rect x="91.6" y="1866.70" width="1023.7" height="25.70" fill="url(#h15)"/><rect x="91.6" y="1892.25" width="1023.7" height="25.70" fill="url(#h16)"/><rect x="91.6" y="1917.80" width="1023.7" height="25.70" fill="url(#h17)"/><rect x="91.6" y="1943.35" width="1023.7" height="25.70" fill="url(#h18)"/><rect x="91.6" y="1968.90" width="1023.7" height="25.70" fill="url(#h19)"/><rect x="91.6" y="1994.45" width="1023.7" height="25.70" fill="url(#h20)"/><rect x="91.6" y="2020.00" width="1023.7" height="25.70" fill="url(#h21)"/><rect x="91.6" y="2045.55" width="1023.7" height="25.70" fill="url(#h22)"/><rect x="91.6" y="2071.10" width="1023.7" height="25.70" fill="url(#h23)"/><rect x="91.6" y="2096.65" width="1023.7" height="25.70" fill="url(#h24)"/><rect x="91.6" y="2122.20" width="1023.7" height="25.70" fill="url(#h25)"/><rect x="91.6" y="2160.50" width="1023.7" height="25.70" fill="url(#h26)"/><rect x="91.6" y="2186.05" width="1023.7" height="25.70" fill="url(#h27)"/><rect x="91.6" y="2223.70" width="1023.7" height="25.70" fill="url(#h28)"/><rect x="91.6" y="2261.20" width="1023.7" height="25.70" fill="url(#h29)"/><rect x="91.6" y="2286.75" width="1023.7" height="25.70" fill="url(#h30)"/><rect x="91.6" y="2312.30" width="1023.7" height="25.70" fill="url(#h31)"/><rect x="91.6" y="2337.85" width="1023.7" height="25.70" fill="url(#h32)"/><rect x="91.6" y="2363.40" width="1023.7" height="25.70" fill="url(#h33)"/><rect x="91.6" y="2388.95" width="1023.7" height="25.70" fill="url(#h34)"/><rect x="91.6" y="2414.50" width="1023.7" height="25.70" fill="url(#h35)"/><rect x="91.6" y="2440.05" width="1023.7" height="25.70" fill="url(#h36)"/><rect x="91.6" y="2465.60" width="1023.7" height="25.70" fill="url(#h37)"/><rect x="91.6" y="2491.15" width="1023.7" height="25.70" fill="url(#h38)"/><rect x="91.6" y="1471.4" width="1023.7" height="1046" fill="url(#grid)"/><rect x="80" y="1497.05" width="1050" height="11.95" fill="#fff"/><rect x="80" y="2147.90" width="1050" height="12.60" fill="#fff"/><rect x="80" y="2211.75" width="1050" height="11.95" fill="#fff"/><rect x="80" y="2249.40" width="1050" height="11.80" fill="#fff"/><text x="1119.3" y="1490.3" font-size="27.3" font-style="italic">EPCAM</text><text x="1119.3" y="1527.9" font-size="27.3" font-style="italic">FN1</text><text x="1119.3" y="1553.5" font-size="27.3" font-style="italic">MMP10</text><text x="1119.3" y="1579.0" font-size="27.3" font-style="italic">MMP11</text><text x="1119.3" y="1604.5" font-size="27.3" font-style="italic">MMP12</text><text x="1119.3" y="1630.1" font-size="27.3" font-style="italic">MMP14</text><text x="1119.3" y="1655.6" font-size="27.3" font-style="italic">MMP15</text><text x="1119.3" y="1681.2" font-size="27.3" font-style="italic">MMP19</text><text x="1119.3" y="1706.7" font-size="27.3" font-style="italic">MMP2</text><text x="1119.3" y="1732.3" font-size="27.3" font-style="italic">MMP23B</text><text x="1119.3" y="1757.8" font-size="27.3" font-style="italic">MMP25</text><text x="1119.3" y="1783.4" font-size="27.3" font-style="italic">MMP26</text><text x="1119.3" y="1808.9" font-size="27.3" font-style="italic">MMP28</text><text x="1119.3" y="1834.5" font-size="27.3" font-style="italic">MMP3</text><text x="1119.3" y="1860.0" font-size="27.3" font-style="italic">MMP9</text><text x="1119.3" y="1885.6" font-size="27.3" font-style="italic">MT1A</text><text x="1119.3" y="1911.1" font-size="27.3" font-style="italic">MT1B</text><text x="1119.3" y="1936.7" font-size="27.3" font-style="italic">MT1E</text><text x="1119.3" y="1962.2" font-size="27.3" font-style="italic">MT1F</text><text x="1119.3" y="1987.8" font-size="27.3" font-style="italic">MT1G</text><text x="1119.3" y="2013.3" font-size="27.3" font-style="italic">MT1H</text><text x="1119.3" y="2038.9" font-size="27.3" font-style="italic">MT1HL1</text><text x="1119.3" y="2064.4" font-size="27.3" font-style="italic">MT1M</text><text x="1119.3" y="2090.0" font-size="27.3" font-style="italic">MT1X</text><text x="1119.3" y="2115.5" font-size="27.3" font-style="italic">MT2A</text><text x="1119.3" y="2141.1" font-size="27.3" font-style="italic">MT3</text><text x="1119.3" y="2179.4" font-size="27.3" font-style="italic">PAPPA</text><text x="1119.3" y="2205.0" font-size="27.3" font-style="italic">PAPPA2</text><text x="1119.3" y="2242.6" font-size="27.3" font-style="italic">TGFB1</text><text x="1119.3" y="2280.1" font-size="27.3" font-style="italic">FOXC1</text><text x="1119.3" y="2305.7" font-size="27.3" font-style="italic">TWIST1</text><text x="1119.3" y="2331.2" font-size="27.3" font-style="italic">ZEB2</text><text x="1119.3" y="2356.8" font-size="27.3" font-style="italic">TWIST2</text><text x="1119.3" y="2382.3" font-size="27.3" font-style="italic">SNAI1</text><text x="1119.3" y="2407.9" font-size="27.3" font-style="italic">ZEB1</text><text x="1119.3" y="2433.4" font-size="27.3" font-style="italic">ID1</text><text x="1119.3" y="2459.0" font-size="27.3" font-style="italic">ID2</text><text x="1119.3" y="2484.5" font-size="27.3" font-style="italic">ID3</text><text x="1119.3" y="2510.1" font-size="27.3" font-style="italic">ID4</text><rect x="1283.4" y="1471.10" width="29.5" height="7.69" fill="#c5161c"/><rect x="1283.4" y="1478.49" width="29.5" height="7.69" fill="#c9151b"/><rect x="1283.4" y="1485.89" width="29.5" height="7.69" fill="#ce131a"/><rect x="1283.4" y="1493.28" width="29.5" height="7.69" fill="#d60e17"/><rect x="1283.4" y="1500.67" width="29.5" height="7.69" fill="#dd0a15"/><rect x="1283.4" y="1508.07" width="29.5" height="7.69" fill="#e30813"/><rect x="1283.4" y="1515.46" width="29.5" height="7.69" fill="#e40f14"/><rect x="1283.4" y="1522.85" width="29.5" height="7.69" fill="#e41b15"/><rect x="1283.4" y="1530.25" width="29.5" height="7.69" fill="#e52f17"/><rect x="1283.4" y="1537.64" width="29.5" height="7.69" fill="#e74419"/><rect x="1283.4" y="1545.03" width="29.5" height="7.69" fill="#e95916"/><rect x="1283.4" y="1552.43" width="29.5" height="7.69" fill="#ec6d0f"/><rect x="1283.4" y="1559.82" width="29.5" height="7.69" fill="#f08200"/><rect x="1283.4" y="1567.21" width="29.5" height="7.69" fill="#f59c00"/><rect x="1283.4" y="1574.61" width="29.5" height="7.69" fill="#f9b000"/><rect x="1283.4" y="1582.00" width="29.5" height="7.69" fill="#fcc500"/><rect x="1283.4" y="1589.39" width="29.5" height="7.69" fill="#fed900"/><rect x="1283.4" y="1596.79" width="29.5" height="7.69" fill="#ffe900"/><rect x="1283.4" y="1604.18" width="29.5" height="7.69" fill="#faeb00"/><rect x="1283.4" y="1611.57" width="29.5" height="7.69" fill="#f2e700"/><rect x="1283.4" y="1618.97" width="29.5" height="7.69" fill="#eae300"/><rect x="1283.4" y="1626.36" width="29.5" height="7.69" fill="#e3df00"/><rect x="1283.4" y="1633.75" width="29.5" height="7.69" fill="#dbdb04"/><rect x="1283.4" y="1641.15" width="29.5" height="7.69" fill="#d3d809"/><rect x="1283.4" y="1648.54" width="29.5" height="7.69" fill="#cbd517"/><rect x="1283.4" y="1655.93" width="29.5" height="7.69" fill="#c4d227"/><rect x="1283.4" y="1663.33" width="29.5" height="7.69" fill="#bcd036"/><rect x="1283.4" y="1670.72" width="29.5" height="7.69" fill="#b4cd45"/><rect x="1283.4" y="1678.11" width="29.5" height="7.69" fill="#adcc55"/><rect x="1283.4" y="1685.51" width="29.5" height="7.69" fill="#a5cb64"/><rect x="1283.4" y="1692.90" width="29.5" height="7.69" fill="#a0cb6e"/><rect x="1283.4" y="1700.29" width="29.5" height="7.69" fill="#9bca77"/><rect x="1283.4" y="1707.69" width="29.5" height="7.69" fill="#97c981"/><rect x="1283.4" y="1715.08" width="29.5" height="7.69" fill="#92c98b"/><rect x="1283.4" y="1722.47" width="29.5" height="7.69" fill="#8ec995"/><rect x="1283.4" y="1729.87" width="29.5" height="7.69" fill="#8bc99f"/><rect x="1283.4" y="1737.26" width="29.5" height="7.69" fill="#88c9a9"/><rect x="1283.4" y="1744.65" width="29.5" height="7.69" fill="#84c9b3"/><rect x="1283.4" y="1752.05" width="29.5" height="7.69" fill="#82c9bc"/><rect x="1283.4" y="1759.44" width="29.5" height="7.69" fill="#80c9c5"/><rect x="1283.4" y="1766.83" width="29.5" height="7.69" fill="#7fc9d1"/><rect x="1283.4" y="1774.23" width="29.5" height="7.69" fill="#7fc8db"/><rect x="1283.4" y="1781.62" width="29.5" height="7.69" fill="#75c7e3"/><rect x="1283.4" y="1789.01" width="29.5" height="7.69" fill="#5bc3ee"/><rect x="1283.4" y="1796.41" width="29.5" height="7.69" fill="#50bef0"/><rect x="1283.4" y="1803.80" width="29.5" height="7.69" fill="#4ba9e1"/><rect x="1283.4" y="1811.19" width="29.5" height="7.69" fill="#4b95d1"/><rect x="1283.4" y="1818.59" width="29.5" height="7.69" fill="#4681c2"/><rect x="1283.4" y="1825.98" width="29.5" height="7.69" fill="#4471b8"/><rect x="1283.4" y="1833.37" width="29.5" height="7.69" fill="#4264ad"/><rect x="1283.4" y="1840.77" width="29.5" height="7.69" fill="#405ca7"/><rect x="1283.4" y="1848.16" width="29.5" height="7.69" fill="#3f56a3"/><rect x="1283.4" y="1855.55" width="29.5" height="7.69" fill="#3e519f"/><rect x="1283.4" y="1862.95" width="29.5" height="7.69" fill="#3c4c9c"/><rect x="1283.4" y="1870.34" width="29.5" height="7.69" fill="#3b4899"/><rect x="1283.4" y="1877.73" width="29.5" height="7.69" fill="#394597"/><rect x="1283.4" y="1885.13" width="29.5" height="7.69" fill="#374194"/><rect x="1283.4" y="1892.52" width="29.5" height="7.69" fill="#363c92"/><rect x="1283.4" y="1899.91" width="29.5" height="7.69" fill="#34378f"/><rect x="1283.4" y="1907.31" width="29.5" height="7.69" fill="#33328b"/><text x="1322.5" y="1480.6" font-size="20.2">3</text><text x="1322.5" y="1552.3" font-size="20.2">2</text><text x="1322.5" y="1624.0" font-size="20.2">1</text><text x="1322.5" y="1695.7" font-size="20.2">0</text><text x="1322.5" y="1767.4" font-size="20.2">−1</text><text x="1322.5" y="1839.1" font-size="20.2">−2</text><text x="1322.5" y="1910.8" font-size="20.2">−3</text></svg></body></html>
